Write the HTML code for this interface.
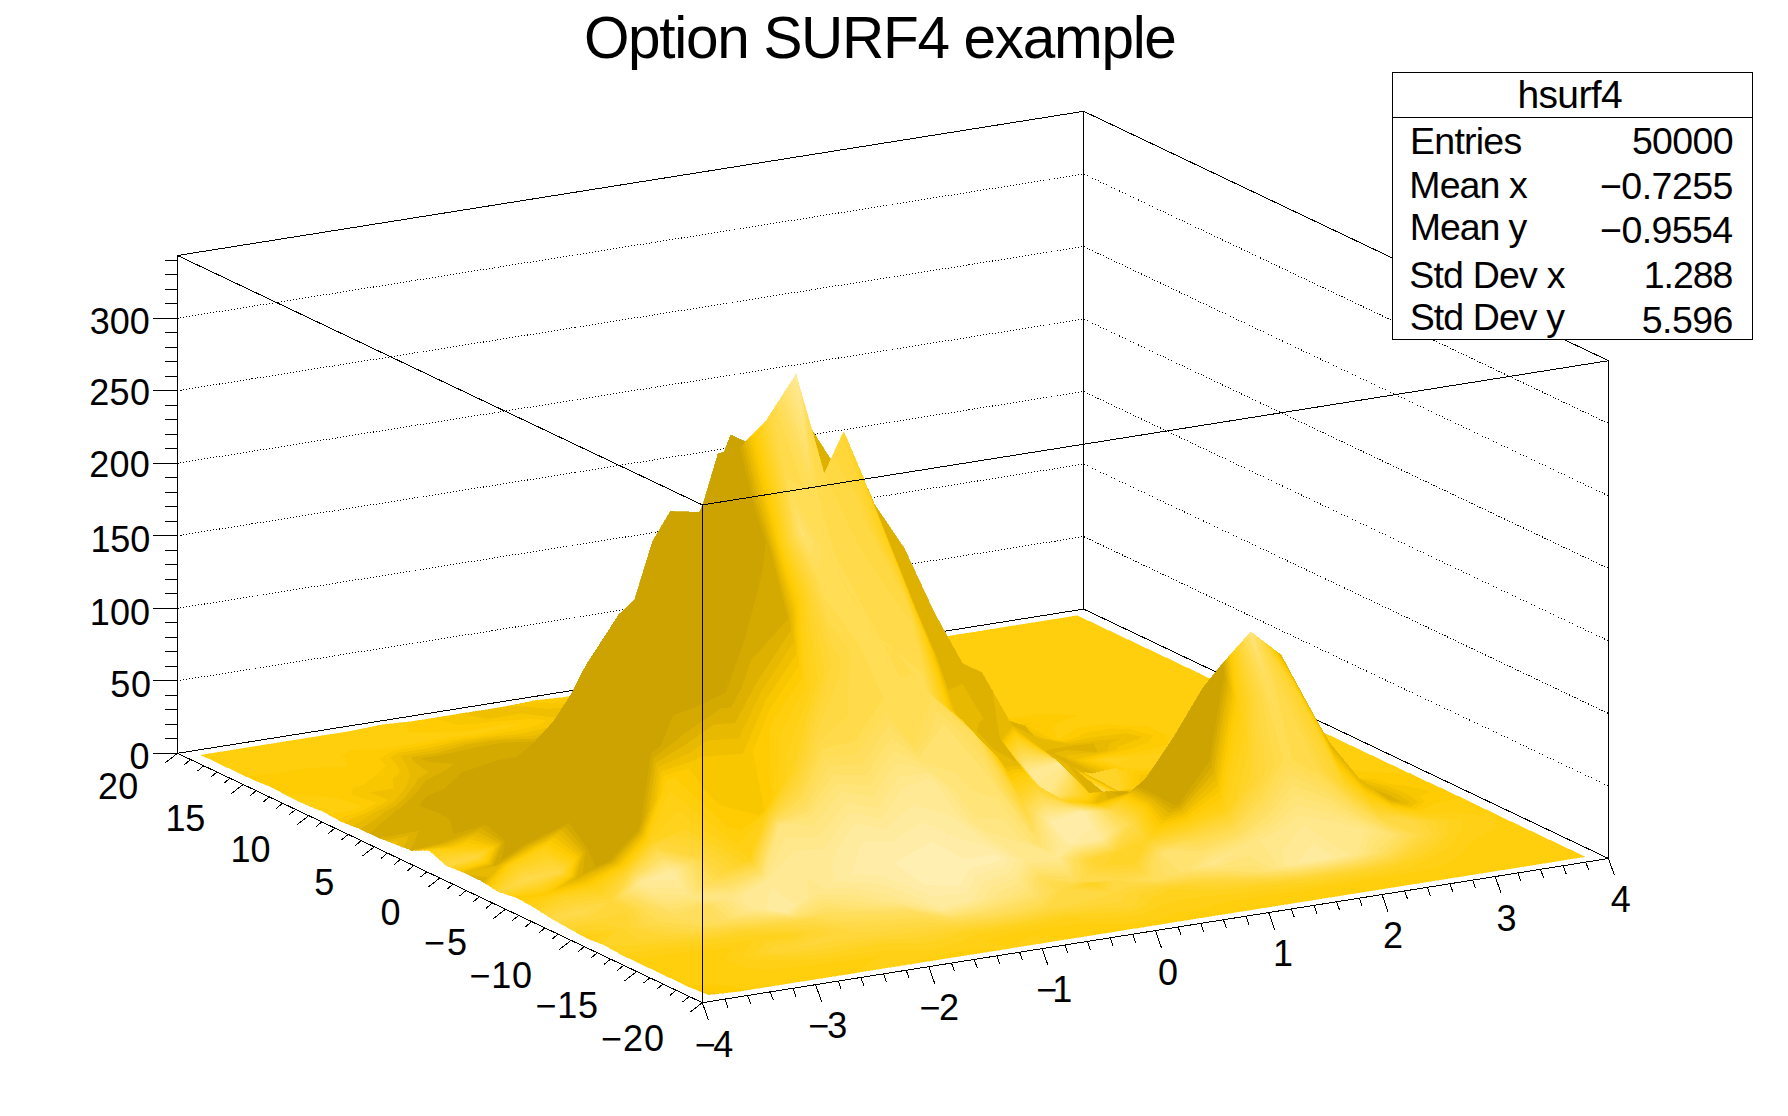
<!DOCTYPE html>
<html><head><meta charset="utf-8"><style>
html,body{margin:0;padding:0;background:#fff;width:1788px;height:1116px;overflow:hidden}
svg{display:block}
text{font-family:"Liberation Sans",sans-serif;fill:#000}
.s path{stroke-width:0.5}
.c0{fill:#cca300;stroke:#cca300}.c1{fill:#cca300;stroke:#cca300}.c2{fill:#d5aa00;stroke:#d5aa00}.c3{fill:#deb100;stroke:#deb100}.c4{fill:#e7b900;stroke:#e7b900}.c5{fill:#f0c000;stroke:#f0c000}.c6{fill:#f9c700;stroke:#f9c700}.c7{fill:#ffcc03;stroke:#ffcc03}.c8{fill:#ffce0c;stroke:#ffce0c}.c9{fill:#ffd015;stroke:#ffd015}.c10{fill:#ffd21e;stroke:#ffd21e}.c11{fill:#ffd428;stroke:#ffd428}.c12{fill:#ffd531;stroke:#ffd531}.c13{fill:#ffd73a;stroke:#ffd73a}.c14{fill:#ffd943;stroke:#ffd943}.c15{fill:#ffdb4c;stroke:#ffdb4c}.c16{fill:#ffdd55;stroke:#ffdd55}.c17{fill:#ffde5e;stroke:#ffde5e}.c18{fill:#ffe067;stroke:#ffe067}.c19{fill:#ffe270;stroke:#ffe270}.c20{fill:#ffe47a;stroke:#ffe47a}.c21{fill:#ffe683;stroke:#ffe683}.c22{fill:#ffe88c;stroke:#ffe88c}.c23{fill:#ffe995;stroke:#ffe995}.c24{fill:#ffeb9e;stroke:#ffeb9e}.c25{fill:#ffeda7;stroke:#ffeda7}.c26{fill:#ffefb0;stroke:#ffefb0}.c27{fill:#fff1b9;stroke:#fff1b9}
</style></head><body>
<svg width="1788" height="1116" viewBox="0 0 1788 1116">
<rect width="1788" height="1116" fill="#fff"/>
<path d="M177.5 753.3L177.5 255.5M1083.7 609.1L1083.7 111.3M1608.5 858.5L1608.5 360.7M177.5 255.5L1083.7 111.3M1083.7 111.3L1608.5 360.7M177.5 753.3L1083.7 609.1M1083.7 609.1L1608.5 858.5" stroke="#000" stroke-width="1" fill="none" shape-rendering="crispEdges"/>
<path d="M177.5 680.8L1083.7 536.6L1608.5 786.0M177.5 608.3L1083.7 464.1L1608.5 713.5M177.5 535.7L1083.7 391.5L1608.5 640.9M177.5 463.2L1083.7 319.0L1608.5 568.4M177.5 390.7L1083.7 246.5L1608.5 495.9M177.5 318.2L1083.7 174.0L1608.5 423.4" stroke="#000" stroke-width="1" stroke-dasharray="1 2" fill="none" shape-rendering="crispEdges"/>
<g class="s" shape-rendering="crispEdges">
<path class="c8" d="M1047.1 620.5L1077.3 615.7L1094.8 624.0L1064.6 628.8ZM1016.9 625.3L1047.1 620.5L1064.6 628.8L1034.4 633.6ZM986.7 630.1L1016.9 625.3L1034.4 633.6L1004.2 638.4ZM956.5 634.9L986.7 630.1L1004.2 638.4L974.0 643.2ZM926.3 639.7L956.5 634.9L974.0 643.2L943.8 648.0ZM896.1 644.5L926.3 639.7L943.8 648.0L913.6 652.8ZM865.9 649.3L896.1 644.5L913.6 652.8L883.4 657.6ZM835.7 654.1L865.9 649.3L883.4 657.6L853.2 662.4ZM805.5 658.9L835.7 654.1L853.2 662.4L823.0 667.2Z"/>
<path class="c7" d="M787.2 669.4L811.0 669.1L792.8 672.0Z"/>
<path class="c8" d="M787.2 669.4L775.3 663.7L805.5 658.9L823.0 667.2L811.0 669.1Z"/>
<path class="c7" d="M787.2 669.4L792.8 672.0L777.6 674.5Z"/>
<path class="c8" d="M745.1 668.5L775.3 663.7L787.2 669.4L777.6 674.5L762.6 676.8ZM714.9 673.3L745.1 668.5L762.6 676.8L732.4 681.7Z"/>
<path class="c7" d="M690.6 681.0L728.3 682.3L702.2 686.5Z"/>
<path class="c8" d="M690.6 681.0L684.7 678.1L714.9 673.3L732.4 681.7L728.3 682.3Z"/>
<path class="c7" d="M660.3 685.7L690.6 681.0L702.2 686.5L671.9 691.3Z"/>
<path class="c8" d="M660.3 685.7L654.5 683.0L684.7 678.1L690.6 681.0Z"/>
<path class="c7" d="M634.9 692.8L660.3 685.7L671.9 691.3L641.7 696.1Z"/>
<path class="c8" d="M634.9 692.8L624.2 687.8L654.5 683.0L660.3 685.7Z"/>
<path class="c7" d="M600.0 695.4L634.9 692.8L641.7 696.1L611.5 700.9Z"/>
<path class="c8" d="M600.0 695.4L594.0 692.6L624.2 687.8L634.9 692.8Z"/>
<path class="c6" d="M574.1 702.2L604.9 701.9L581.3 705.7Z"/>
<path class="c7" d="M574.1 702.2L566.1 698.5L600.0 695.4L611.5 700.9L604.9 701.9Z"/>
<path class="c8" d="M566.1 698.5L563.8 697.4L594.0 692.6L600.0 695.4Z"/>
<path class="c5" d="M550.6 708.8L559.8 708.1L551.1 709.0Z"/>
<path class="c6" d="M550.6 708.8L536.7 702.2L574.1 702.2L581.3 705.7L559.8 708.1Z"/>
<path class="c7" d="M536.7 702.2L533.6 700.7L555.7 698.3L566.1 698.5L574.1 702.2Z"/>
<path class="c8" d="M555.7 698.3L563.8 697.4L566.1 698.5Z"/>
<path class="c5" d="M503.4 707.0L511.5 705.3L550.6 708.8L551.1 709.0L520.9 713.8Z"/>
<path class="c6" d="M511.5 705.3L529.6 701.6L536.7 702.2L550.6 708.8Z"/>
<path class="c7" d="M529.6 701.6L533.6 700.7L536.7 702.2Z"/>
<path class="c5" d="M473.2 711.8L503.4 707.0L520.9 713.8L490.7 718.7ZM460.4 713.8L473.2 711.8L490.7 718.7L488.2 719.2Z"/>
<path class="c6" d="M443.0 716.6L460.4 713.8L488.2 719.2L460.5 724.9ZM432.5 718.3L443.0 716.6L460.5 724.9L457.8 725.2Z"/>
<path class="c7" d="M412.8 721.4L432.5 718.3L457.8 725.2L430.3 728.3ZM406.7 722.1L412.8 721.4L430.3 728.3L408.0 732.9Z"/>
<path class="c8" d="M382.8 724.9L382.9 724.7L406.7 722.1L408.0 732.9L400.1 734.5Z"/>
<path class="c9" d="M382.8 724.9L382.6 724.8L382.9 724.7Z"/>
<path class="c8" d="M352.7 731.2L382.8 724.9L400.1 734.5L369.9 739.3Z"/>
<path class="c9" d="M352.7 731.2L352.4 731.0L382.6 724.8L382.8 724.9Z"/>
<path class="c8" d="M322.2 735.8L351.8 731.1L352.7 731.2L369.9 739.3L339.7 744.1Z"/>
<path class="c9" d="M351.8 731.1L352.4 731.0L352.7 731.2Z"/>
<path class="c8" d="M292.0 740.6L322.2 735.8L339.7 744.1L309.5 748.9ZM261.8 745.4L292.0 740.6L309.5 748.9L279.3 753.8ZM231.6 750.2L261.8 745.4L279.3 753.8L249.0 758.6ZM201.4 755.1L231.6 750.2L249.0 758.6L218.8 763.4ZM1064.6 628.8L1094.8 624.0L1112.3 632.3L1082.1 637.1ZM1034.4 633.6L1064.6 628.8L1082.1 637.1L1051.9 641.9ZM1004.2 638.4L1034.4 633.6L1051.9 641.9L1021.7 646.7ZM974.0 643.2L1004.2 638.4L1021.7 646.7L991.5 651.5ZM943.8 648.0L974.0 643.2L991.5 651.5L961.3 656.3ZM913.6 652.8L943.8 648.0L961.3 656.3L931.1 661.1ZM883.4 657.6L913.6 652.8L931.1 661.1L900.9 665.9ZM853.2 662.4L883.4 657.6L900.9 665.9L870.7 670.7ZM823.0 667.2L853.2 662.4L870.7 670.7L840.5 675.5Z"/>
<path class="c7" d="M798.3 674.2L792.8 672.0L811.0 669.1Z"/>
<path class="c8" d="M798.3 674.2L811.0 669.1L823.0 667.2L840.5 675.5L810.3 678.9Z"/>
<path class="c7" d="M777.6 674.5L792.8 672.0L798.3 674.2Z"/>
<path class="c8" d="M762.6 676.8L777.6 674.5L798.3 674.2L810.3 678.9L780.1 685.2Z"/>
<path class="c7" d="M740.5 685.5L756.8 688.9L749.8 690.0Z"/>
<path class="c8" d="M740.5 685.5L732.4 681.7L762.6 676.8L780.1 685.2L756.8 688.9Z"/>
<path class="c4" d="M716.1 691.9L724.7 692.8L719.6 693.3Z"/>
<path class="c5" d="M716.1 691.9L709.9 689.5L733.5 691.8L724.7 692.8Z"/>
<path class="c6" d="M709.9 689.5L703.7 687.1L742.3 690.8L733.5 691.8Z"/>
<path class="c7" d="M703.7 687.1L702.2 686.5L728.3 682.3L740.5 685.5L749.8 690.0L742.3 690.8Z"/>
<path class="c8" d="M728.3 682.3L732.4 681.7L740.5 685.5Z"/>
<path class="c3" d="M686.4 695.7L708.1 694.6L689.4 696.7Z"/>
<path class="c4" d="M686.4 695.7L681.9 694.3L716.1 691.9L719.6 693.3L708.1 694.6Z"/>
<path class="c5" d="M681.9 694.3L677.4 693.0L709.9 689.5L716.1 691.9Z"/>
<path class="c6" d="M677.4 693.0L672.9 691.6L703.7 687.1L709.9 689.5Z"/>
<path class="c7" d="M672.9 691.6L671.9 691.3L702.2 686.5L703.7 687.1Z"/>
<path class="c3" d="M686.4 695.7L689.4 696.7L670.3 701.6Z"/>
<path class="c4" d="M656.1 702.9L681.9 694.3L686.4 695.7L670.3 701.6L659.2 704.4Z"/>
<path class="c5" d="M656.1 702.9L650.9 700.4L677.4 693.0L681.9 694.3Z"/>
<path class="c6" d="M650.9 700.4L645.7 697.9L672.9 691.6L677.4 693.0Z"/>
<path class="c7" d="M645.7 697.9L641.7 696.1L671.9 691.3L672.9 691.6Z"/>
<path class="c4" d="M627.1 707.0L656.1 702.9L659.2 704.4L629.0 707.7Z"/>
<path class="c5" d="M627.1 707.0L620.2 704.3L650.9 700.4L656.1 702.9Z"/>
<path class="c6" d="M620.2 704.3L613.3 701.6L645.7 697.9L650.9 700.4Z"/>
<path class="c7" d="M613.3 701.6L611.5 700.9L641.7 696.1L645.7 697.9Z"/>
<path class="c4" d="M592.8 709.3L627.1 707.0L629.0 707.7L598.8 711.1Z"/>
<path class="c5" d="M592.8 709.3L582.3 706.0L620.2 704.3L627.1 707.0Z"/>
<path class="c6" d="M582.3 706.0L581.3 705.7L604.9 701.9L613.3 701.6L620.2 704.3Z"/>
<path class="c7" d="M604.9 701.9L611.5 700.9L613.3 701.6Z"/>
<path class="c4" d="M592.8 709.3L598.8 711.1L575.6 714.8Z"/>
<path class="c5" d="M551.1 709.0L559.8 708.1L582.3 706.0L592.8 709.3L575.6 714.8L568.6 715.9Z"/>
<path class="c6" d="M559.8 708.1L581.3 705.7L582.3 706.0Z"/>
<path class="c5" d="M520.9 713.9L520.9 713.8L551.1 709.0L568.6 715.9L558.0 718.1Z"/>
<path class="c6" d="M532.2 719.2L520.9 713.9L558.0 718.1L545.3 720.7Z"/>
<path class="c7" d="M532.2 719.2L545.3 720.7L538.4 722.2Z"/>
<path class="c5" d="M491.3 718.9L490.7 718.7L520.9 713.8L520.9 713.9Z"/>
<path class="c6" d="M498.3 721.6L491.3 718.9L520.9 713.9L532.2 719.2Z"/>
<path class="c7" d="M505.3 724.4L498.3 721.6L532.2 719.2L538.4 722.2L522.4 723.9Z"/>
<path class="c8" d="M505.3 724.4L522.4 723.9L508.2 725.5Z"/>
<path class="c5" d="M488.2 719.2L490.7 718.7L491.3 718.9Z"/>
<path class="c6" d="M461.2 725.2L460.5 724.9L488.2 719.2L491.3 718.9L498.3 721.6Z"/>
<path class="c7" d="M473.3 731.0L461.2 725.2L498.3 721.6L505.3 724.4Z"/>
<path class="c8" d="M473.3 731.0L505.3 724.4L508.2 725.5L478.0 733.2Z"/>
<path class="c6" d="M457.8 725.2L460.5 724.9L461.2 725.2Z"/>
<path class="c7" d="M439.6 732.7L430.3 728.3L457.8 725.2L461.2 725.2L473.3 731.0Z"/>
<path class="c8" d="M439.6 732.7L473.3 731.0L478.0 733.2L447.8 736.6Z"/>
<path class="c7" d="M408.0 732.9L430.3 728.3L439.6 732.7Z"/>
<path class="c8" d="M400.1 734.5L408.0 732.9L439.6 732.7L447.8 736.6L417.6 741.4ZM369.9 739.3L400.1 734.5L417.6 741.4L387.4 747.6Z"/>
<path class="c7" d="M351.6 749.8L377.9 749.2L357.2 752.5Z"/>
<path class="c8" d="M351.6 749.8L339.7 744.1L369.9 739.3L387.4 747.6L377.9 749.2Z"/>
<path class="c7" d="M351.6 749.8L357.2 752.5L342.0 754.9Z"/>
<path class="c8" d="M309.5 748.9L339.7 744.1L351.6 749.8L342.0 754.9L327.0 757.3ZM279.3 753.8L309.5 748.9L327.0 757.3L296.8 762.1ZM249.0 758.6L279.3 753.8L296.8 762.1L266.5 766.9ZM218.8 763.4L249.0 758.6L266.5 766.9L236.3 771.7ZM1082.1 637.1L1112.3 632.3L1129.8 640.6L1099.6 645.4ZM1051.9 641.9L1082.1 637.1L1099.6 645.4L1069.4 650.2ZM1021.7 646.7L1051.9 641.9L1069.4 650.2L1039.2 655.0ZM991.5 651.5L1021.7 646.7L1039.2 655.0L1009.0 659.8ZM961.3 656.3L991.5 651.5L1009.0 659.8L978.8 664.6ZM931.1 661.1L961.3 656.3L978.8 664.6L948.6 669.4ZM900.9 665.9L931.1 661.1L948.6 669.4L918.4 674.2ZM870.7 670.7L900.9 665.9L918.4 674.2L888.2 679.1ZM840.5 675.5L870.7 670.7L888.2 679.1L858.0 683.9ZM810.3 678.9L840.5 675.5L858.0 683.9L827.8 688.7Z"/>
<path class="c6" d="M795.3 692.4L800.9 692.9L797.6 693.5Z"/>
<path class="c7" d="M795.3 692.4L784.8 687.4L816.9 690.4L800.9 692.9Z"/>
<path class="c8" d="M784.8 687.4L780.1 685.2L810.3 678.9L827.8 688.7L816.9 690.4Z"/>
<path class="c6" d="M758.7 694.2L795.3 692.4L797.6 693.5L767.3 698.3Z"/>
<path class="c7" d="M758.7 694.2L749.8 690.0L756.8 688.9L784.8 687.4L795.3 692.4Z"/>
<path class="c8" d="M756.8 688.9L780.1 685.2L784.8 687.4Z"/>
<path class="c4" d="M730.7 697.7L719.6 693.3L724.7 692.8Z"/>
<path class="c5" d="M730.7 697.7L724.7 692.8L733.5 691.8L761.6 698.6L737.1 700.2Z"/>
<path class="c6" d="M733.5 691.8L742.3 690.8L758.7 694.2L767.3 698.3L761.6 698.6Z"/>
<path class="c7" d="M742.3 690.8L749.8 690.0L758.7 694.2Z"/>
<path class="c3" d="M689.4 696.7L708.1 694.6L718.7 701.3L706.9 702.1Z"/>
<path class="c4" d="M708.1 694.6L719.6 693.3L730.7 697.7L732.5 700.5L718.7 701.3Z"/>
<path class="c5" d="M730.7 697.7L737.1 700.2L732.5 700.5Z"/>
<path class="c3" d="M664.3 705.9L670.3 701.6L689.4 696.7L706.9 702.1L676.7 709.8Z"/>
<path class="c4" d="M664.3 705.9L659.2 704.4L670.3 701.6Z"/>
<path class="c3" d="M664.3 705.9L676.7 709.8L660.7 711.6Z"/>
<path class="c4" d="M629.0 707.7L659.2 704.4L664.3 705.9L660.7 711.6L646.5 713.2ZM608.9 716.7L598.8 711.1L629.0 707.7L646.5 713.2L639.3 715.0Z"/>
<path class="c5" d="M608.9 716.7L639.3 715.0L616.3 720.9Z"/>
<path class="c3" d="M579.3 719.2L596.6 721.2L586.1 721.3Z"/>
<path class="c4" d="M579.3 719.2L570.1 716.4L575.6 714.8L598.8 711.1L608.9 716.7L610.5 720.9L596.6 721.2Z"/>
<path class="c5" d="M570.1 716.4L568.6 715.9L575.6 714.8L608.9 716.7L616.3 720.9L610.5 720.9Z"/>
<path class="c3" d="M579.3 719.2L586.1 721.3L571.8 725.7Z"/>
<path class="c4" d="M554.8 730.0L570.1 716.4L579.3 719.2L571.8 725.7L555.9 730.5Z"/>
<path class="c5" d="M554.8 730.0L548.4 726.9L558.0 718.1L568.6 715.9L570.1 716.4Z"/>
<path class="c6" d="M548.4 726.9L541.9 723.8L545.3 720.7L558.0 718.1Z"/>
<path class="c7" d="M541.9 723.8L538.4 722.2L545.3 720.7Z"/>
<path class="c4" d="M554.8 730.0L555.9 730.5L547.5 731.8Z"/>
<path class="c5" d="M522.4 733.4L548.4 726.9L554.8 730.0L547.5 731.8L525.7 735.3Z"/>
<path class="c6" d="M522.4 733.4L516.5 730.1L541.9 723.8L548.4 726.9Z"/>
<path class="c7" d="M516.5 730.1L510.6 726.9L522.4 723.9L538.4 722.2L541.9 723.8Z"/>
<path class="c8" d="M510.6 726.9L508.2 725.5L522.4 723.9Z"/>
<path class="c3" d="M492.7 740.2L506.4 739.3L495.5 741.5Z"/>
<path class="c4" d="M492.7 740.2L489.4 738.6L519.9 736.5L506.4 739.3Z"/>
<path class="c5" d="M489.4 738.6L486.0 737.0L522.4 733.4L525.7 735.3L519.9 736.5Z"/>
<path class="c6" d="M486.0 737.0L482.7 735.4L516.5 730.1L522.4 733.4Z"/>
<path class="c7" d="M482.7 735.4L479.3 733.8L510.6 726.9L516.5 730.1Z"/>
<path class="c8" d="M479.3 733.8L478.0 733.2L508.2 725.5L510.6 726.9Z"/>
<path class="c3" d="M465.2 744.8L492.7 740.2L495.5 741.5L465.3 744.9Z"/>
<path class="c4" d="M465.2 744.8L461.2 743.0L489.4 738.6L492.7 740.2Z"/>
<path class="c5" d="M461.2 743.0L457.2 741.1L486.0 737.0L489.4 738.6Z"/>
<path class="c6" d="M457.2 741.1L453.2 739.2L482.7 735.4L486.0 737.0Z"/>
<path class="c7" d="M453.2 739.2L449.3 737.3L479.3 733.8L482.7 735.4Z"/>
<path class="c8" d="M449.3 737.3L447.8 736.6L478.0 733.2L479.3 733.8Z"/>
<path class="c3" d="M465.2 744.8L465.3 744.9L464.0 745.2Z"/>
<path class="c4" d="M433.3 750.1L461.2 743.0L465.2 744.8L464.0 745.2L435.1 751.2Z"/>
<path class="c5" d="M433.3 750.1L428.8 747.7L457.2 741.1L461.2 743.0Z"/>
<path class="c6" d="M428.8 747.7L424.4 745.2L453.2 739.2L457.2 741.1Z"/>
<path class="c7" d="M424.4 745.2L420.0 742.7L449.3 737.3L453.2 739.2Z"/>
<path class="c8" d="M420.0 742.7L417.6 741.4L447.8 736.6L449.3 737.3Z"/>
<path class="c4" d="M403.0 755.1L433.3 750.1L435.1 751.2L404.9 756.0Z"/>
<path class="c5" d="M403.0 755.1L397.9 752.7L428.8 747.7L433.3 750.1Z"/>
<path class="c6" d="M397.9 752.7L392.9 750.3L424.4 745.2L428.8 747.7Z"/>
<path class="c7" d="M392.9 750.3L387.8 747.8L420.0 742.7L424.4 745.2Z"/>
<path class="c8" d="M387.8 747.8L387.4 747.6L417.6 741.4L420.0 742.7Z"/>
<path class="c4" d="M403.0 755.1L404.9 756.0L400.9 756.4Z"/>
<path class="c5" d="M397.9 752.7L403.0 755.1L400.9 756.4L389.9 757.6Z"/>
<path class="c6" d="M392.9 750.3L397.9 752.7L389.9 757.6L378.9 758.8Z"/>
<path class="c7" d="M357.2 752.5L377.9 749.2L387.8 747.8L392.9 750.3L378.9 758.8L374.7 759.3Z"/>
<path class="c8" d="M377.9 749.2L387.4 747.6L387.8 747.8Z"/>
<path class="c7" d="M342.0 754.9L357.2 752.5L374.7 759.3L348.0 764.8Z"/>
<path class="c8" d="M327.0 757.3L342.0 754.9L348.0 764.8L344.4 765.6Z"/>
<path class="c7" d="M308.7 767.8L335.0 767.1L314.2 770.4Z"/>
<path class="c8" d="M308.7 767.8L296.8 762.1L327.0 757.3L344.4 765.6L335.0 767.1Z"/>
<path class="c7" d="M278.5 772.6L308.7 767.8L314.2 770.4L284.0 775.2Z"/>
<path class="c8" d="M278.5 772.6L266.5 766.9L296.8 762.1L308.7 767.8Z"/>
<path class="c7" d="M246.9 776.7L278.5 772.6L284.0 775.2L253.8 780.0Z"/>
<path class="c8" d="M246.9 776.7L236.3 771.7L266.5 766.9L278.5 772.6ZM1099.6 645.4L1129.8 640.6L1147.3 648.9L1117.1 653.7ZM1069.4 650.2L1099.6 645.4L1117.1 653.7L1086.9 658.5ZM1039.2 655.0L1069.4 650.2L1086.9 658.5L1056.7 663.3ZM1009.0 659.8L1039.2 655.0L1056.7 663.3L1026.5 668.1ZM978.8 664.6L1009.0 659.8L1026.5 668.1L996.3 672.9ZM948.6 669.4L978.8 664.6L996.3 672.9L966.1 677.8ZM918.4 674.2L948.6 669.4L966.1 677.8L935.9 682.6ZM888.2 679.1L918.4 674.2L935.9 682.6L905.7 687.4Z"/>
<path class="c7" d="M865.7 687.5L901.6 688.0L875.5 692.2Z"/>
<path class="c8" d="M865.7 687.5L858.0 683.9L888.2 679.1L905.7 687.4L901.6 688.0Z"/>
<path class="c7" d="M835.2 692.2L865.7 687.5L875.5 692.2L845.2 697.0Z"/>
<path class="c8" d="M835.2 692.2L827.8 688.7L858.0 683.9L865.7 687.5Z"/>
<path class="c6" d="M799.4 693.9L797.6 693.5L800.9 692.9Z"/>
<path class="c7" d="M808.3 695.9L799.4 693.9L800.9 692.9L816.9 690.4L835.2 692.2L845.2 697.0L828.6 697.2Z"/>
<path class="c8" d="M808.3 695.9L816.9 690.4L827.8 688.7L835.2 692.2L828.6 697.2L815.0 697.4Z"/>
<path class="c6" d="M777.4 701.4L767.3 698.3L797.6 693.5L799.4 693.9Z"/>
<path class="c7" d="M777.4 701.4L799.4 693.9L808.3 695.9L794.9 701.6L784.8 703.7Z"/>
<path class="c8" d="M808.3 695.9L815.0 697.4L794.9 701.6Z"/>
<path class="c3" d="M748.0 706.3L760.2 708.8L754.6 709.9Z"/>
<path class="c4" d="M748.0 706.3L739.9 701.7L767.0 707.4L760.2 708.8Z"/>
<path class="c5" d="M739.9 701.7L737.1 700.2L761.6 698.6L773.8 706.0L767.0 707.4Z"/>
<path class="c6" d="M761.6 698.6L767.3 698.3L777.4 701.4L780.6 704.6L773.8 706.0Z"/>
<path class="c7" d="M777.4 701.4L784.8 703.7L780.6 704.6Z"/>
<path class="c3" d="M717.2 706.1L706.9 702.1L718.7 701.3L748.0 706.3L754.6 709.9L737.3 709.4Z"/>
<path class="c4" d="M717.2 706.1L718.7 701.3L732.5 700.5L739.9 701.7L748.0 706.3L737.3 709.4L724.4 709.0Z"/>
<path class="c5" d="M732.5 700.5L737.1 700.2L739.9 701.7Z"/>
<path class="c3" d="M684.6 711.6L676.7 709.8L706.9 702.1L717.2 706.1Z"/>
<path class="c4" d="M692.5 713.4L684.6 711.6L717.2 706.1L724.4 709.0L704.7 712.1Z"/>
<path class="c5" d="M692.5 713.4L704.7 712.1L694.2 713.8Z"/>
<path class="c3" d="M654.7 717.7L660.7 711.6L676.7 709.8L684.6 711.6L677.6 718.8L664.0 722.9Z"/>
<path class="c4" d="M654.7 717.7L646.5 713.2L660.7 711.6L684.6 711.6L692.5 713.4L691.3 714.6L677.6 718.8Z"/>
<path class="c5" d="M692.5 713.4L694.2 713.8L691.3 714.6Z"/>
<path class="c3" d="M626.8 723.2L654.7 717.7L664.0 722.9L633.8 724.8Z"/>
<path class="c4" d="M626.8 723.2L619.4 721.6L639.3 715.0L646.5 713.2L654.7 717.7Z"/>
<path class="c5" d="M619.4 721.6L616.3 720.9L639.3 715.0Z"/>
<path class="c2" d="M594.2 725.9L628.5 725.9L603.6 731.1Z"/>
<path class="c3" d="M594.2 725.9L586.1 721.3L596.6 721.2L626.8 723.2L633.8 724.8L628.5 725.9Z"/>
<path class="c4" d="M596.6 721.2L610.5 720.9L619.4 721.6L626.8 723.2Z"/>
<path class="c5" d="M610.5 720.9L616.3 720.9L619.4 721.6Z"/>
<path class="c2" d="M568.1 729.2L594.2 725.9L603.6 731.1L573.4 728.6Z"/>
<path class="c3" d="M568.1 729.2L561.4 729.9L571.8 725.7L586.1 721.3L594.2 725.9Z"/>
<path class="c4" d="M561.4 729.9L555.9 730.5L571.8 725.7Z"/>
<path class="c2" d="M540.2 741.0L568.1 729.2L573.4 728.6L543.2 742.1Z"/>
<path class="c3" d="M540.2 741.0L534.3 738.6L561.4 729.9L568.1 729.2Z"/>
<path class="c4" d="M534.3 738.6L528.3 736.3L547.5 731.8L555.9 730.5L561.4 729.9Z"/>
<path class="c5" d="M528.3 736.3L525.7 735.3L547.5 731.8Z"/>
<path class="c2" d="M501.9 742.5L540.2 741.0L543.2 742.1L513.0 744.1Z"/>
<path class="c3" d="M501.9 742.5L495.5 741.5L506.4 739.3L534.3 738.6L540.2 741.0Z"/>
<path class="c4" d="M506.4 739.3L519.9 736.5L528.3 736.3L534.3 738.6Z"/>
<path class="c5" d="M519.9 736.5L525.7 735.3L528.3 736.3Z"/>
<path class="c2" d="M477.6 746.7L501.9 742.5L513.0 744.1L482.8 747.4Z"/>
<path class="c3" d="M477.6 746.7L465.3 744.9L495.5 741.5L501.9 742.5Z"/>
<path class="c2" d="M448.9 753.1L477.6 746.7L482.8 747.4L452.6 753.7Z"/>
<path class="c3" d="M448.9 753.1L440.2 751.9L464.0 745.2L465.3 744.9L477.6 746.7Z"/>
<path class="c4" d="M440.2 751.9L435.1 751.2L464.0 745.2Z"/>
<path class="c2" d="M420.7 758.2L448.9 753.1L452.6 753.7L422.4 758.5Z"/>
<path class="c3" d="M420.7 758.2L411.0 756.8L440.2 751.9L448.9 753.1Z"/>
<path class="c4" d="M411.0 756.8L404.9 756.0L435.1 751.2L440.2 751.9Z"/>
<path class="c2" d="M420.7 758.2L422.4 758.5L421.0 758.9Z"/>
<path class="c3" d="M411.0 756.8L420.7 758.2L421.0 758.9L413.4 761.6Z"/>
<path class="c4" d="M400.9 756.4L404.9 756.0L411.0 756.8L413.4 761.6L405.7 764.3Z"/>
<path class="c5" d="M389.9 757.6L400.9 756.4L405.7 764.3L398.1 767.0Z"/>
<path class="c6" d="M385.7 765.5L378.9 758.8L389.9 757.6L398.1 767.0L392.2 769.1Z"/>
<path class="c7" d="M385.7 765.5L374.7 759.3L378.9 758.8Z"/>
<path class="c6" d="M385.7 765.5L392.2 769.1L380.0 771.0Z"/>
<path class="c7" d="M346.4 766.5L348.0 764.8L374.7 759.3L385.7 765.5L380.0 771.0L361.9 773.9Z"/>
<path class="c8" d="M346.4 766.5L344.4 765.6L348.0 764.8Z"/>
<path class="c7" d="M314.2 770.4L335.0 767.1L346.4 766.5L361.9 773.9L331.7 777.2Z"/>
<path class="c8" d="M335.0 767.1L344.4 765.6L346.4 766.5Z"/>
<path class="c7" d="M284.0 775.2L314.2 770.4L331.7 777.2L301.5 783.5ZM253.8 780.0L284.0 775.2L301.5 783.5L271.3 786.9Z"/>
<path class="c8" d="M1117.1 653.7L1147.3 648.9L1164.8 657.2L1134.6 662.0ZM1086.9 658.5L1117.1 653.7L1134.6 662.0L1104.4 666.8ZM1056.7 663.3L1086.9 658.5L1104.4 666.8L1074.2 671.6ZM1026.5 668.1L1056.7 663.3L1074.2 671.6L1044.0 676.5ZM996.3 672.9L1026.5 668.1L1044.0 676.5L1013.8 681.3ZM966.1 677.8L996.3 672.9L1013.8 681.3L983.6 686.1ZM935.9 682.6L966.1 677.8L983.6 686.1L953.4 690.9Z"/>
<path class="c7" d="M912.0 690.4L933.6 694.0L923.2 695.7Z"/>
<path class="c8" d="M912.0 690.4L905.7 687.4L935.9 682.6L953.4 690.9L933.6 694.0Z"/>
<path class="c3" d="M892.9 699.0L893.0 699.0L893.0 699.0Z"/>
<path class="c4" d="M892.9 699.0L887.6 696.9L900.9 698.2L893.0 699.0Z"/>
<path class="c5" d="M887.6 696.9L882.2 694.8L908.9 697.3L900.9 698.2Z"/>
<path class="c6" d="M882.2 694.8L876.8 692.7L916.8 696.4L908.9 697.3Z"/>
<path class="c7" d="M876.8 692.7L875.5 692.2L901.6 688.0L912.0 690.4L923.2 695.7L916.8 696.4Z"/>
<path class="c8" d="M901.6 688.0L905.7 687.4L912.0 690.4Z"/>
<path class="c3" d="M860.4 701.7L892.9 699.0L893.0 699.0L862.7 702.4Z"/>
<path class="c4" d="M860.4 701.7L855.5 700.1L887.6 696.9L892.9 699.0Z"/>
<path class="c5" d="M855.5 700.1L850.6 698.6L882.2 694.8L887.6 696.9Z"/>
<path class="c6" d="M850.6 698.6L845.6 697.1L876.8 692.7L882.2 694.8Z"/>
<path class="c7" d="M845.6 697.1L845.2 697.0L875.5 692.2L876.8 692.7Z"/>
<path class="c3" d="M860.4 701.7L862.7 702.4L857.8 703.6Z"/>
<path class="c4" d="M855.5 700.1L860.4 701.7L857.8 703.6L847.6 706.3Z"/>
<path class="c5" d="M850.6 698.6L855.5 700.1L847.6 706.3L837.4 708.9Z"/>
<path class="c6" d="M828.5 707.2L845.6 697.1L850.6 698.6L837.4 708.9L832.5 710.1Z"/>
<path class="c7" d="M828.5 707.2L820.8 701.6L828.6 697.2L845.2 697.0L845.6 697.1Z"/>
<path class="c8" d="M820.8 701.6L815.0 697.4L828.6 697.2Z"/>
<path class="c6" d="M828.5 707.2L832.5 710.1L802.5 713.4Z"/>
<path class="c7" d="M784.8 703.7L794.9 701.6L820.8 701.6L828.5 707.2L802.5 713.4L802.3 713.5Z"/>
<path class="c8" d="M794.9 701.6L815.0 697.4L820.8 701.6Z"/>
<path class="c2" d="M772.1 706.7L773.6 707.0L762.9 708.4Z"/>
<path class="c3" d="M773.6 707.0L780.8 708.6L760.2 708.8L754.6 709.9L762.9 708.4Z"/>
<path class="c4" d="M760.2 708.8L767.0 707.4L788.0 710.2L780.8 708.6Z"/>
<path class="c5" d="M767.0 707.4L773.8 706.0L795.1 711.8L788.0 710.2Z"/>
<path class="c6" d="M773.8 706.0L780.6 704.6L802.3 713.5L795.1 711.8Z"/>
<path class="c7" d="M780.6 704.6L784.8 703.7L802.3 713.5L802.3 713.5Z"/>
<path class="c2" d="M762.9 708.4L772.1 706.7L768.8 707.8Z"/>
<path class="c3" d="M737.3 709.4L754.6 709.9L762.9 708.4L768.8 707.8L753.1 713.3Z"/>
<path class="c4" d="M724.4 709.0L737.3 709.4L753.1 713.3L741.9 717.3ZM701.2 717.1L704.7 712.1L724.4 709.0L741.9 717.3L711.7 722.1Z"/>
<path class="c5" d="M701.2 717.1L694.2 713.8L704.7 712.1Z"/>
<path class="c2" d="M681.5 719.6L690.5 720.4L664.2 722.9Z"/>
<path class="c3" d="M664.2 722.9L664.0 722.9L677.6 718.8L703.0 721.4L690.5 720.4Z"/>
<path class="c4" d="M677.6 718.8L691.3 714.6L701.2 717.1L711.7 722.1L703.0 721.4Z"/>
<path class="c5" d="M691.3 714.6L694.2 713.8L701.2 717.1Z"/>
<path class="c2" d="M634.9 725.0L664.2 722.9L681.5 719.6L651.3 727.3Z"/>
<path class="c3" d="M634.9 725.0L633.8 724.8L664.0 722.9L664.2 722.9Z"/>
<path class="c0" d="M621.1 717.6L647.6 726.2L616.3 721.3Z"/>
<path class="c2" d="M647.6 726.2L651.3 727.3L634.9 725.0L628.5 725.9L603.6 731.1L616.3 721.3Z"/>
<path class="c3" d="M628.5 725.9L633.8 724.8L634.9 725.0Z"/>
<path class="c0" d="M621.1 717.6L616.3 721.3L611.1 722.6ZM580.0 730.1L583.0 729.4L595.3 730.4L590.9 732.6Z"/>
<path class="c2" d="M616.3 721.3L603.6 731.1L595.3 730.4L611.1 722.6ZM580.0 730.1L573.4 728.6L583.0 729.4Z"/>
<path class="c0" d="M580.0 730.1L590.9 732.6L574.4 736.0Z"/>
<path class="c2" d="M543.2 742.1L573.4 728.6L580.0 730.1L574.4 736.0L560.7 738.9ZM513.0 744.1L543.2 742.1L560.7 738.9L530.5 746.6ZM482.8 747.4L513.0 744.1L530.5 746.6L500.3 749.9ZM452.6 753.7L482.8 747.4L500.3 749.9L470.1 757.6ZM428.4 762.3L422.4 758.5L452.6 753.7L470.1 757.6L453.5 764.2Z"/>
<path class="c3" d="M428.4 762.3L453.5 764.2L439.8 769.7Z"/>
<path class="c2" d="M421.0 758.9L422.4 758.5L428.4 762.3Z"/>
<path class="c3" d="M413.4 761.6L421.0 758.9L428.4 762.3L439.8 769.7L428.0 772.1Z"/>
<path class="c4" d="M405.7 764.3L413.4 761.6L428.0 772.1L410.3 775.8Z"/>
<path class="c5" d="M399.9 772.1L398.1 767.0L405.7 764.3L410.3 775.8L409.6 775.9Z"/>
<path class="c6" d="M399.9 772.1L392.2 769.1L398.1 767.0Z"/>
<path class="c5" d="M399.9 772.1L409.6 775.9L392.7 778.6Z"/>
<path class="c6" d="M372.1 777.9L380.0 771.0L392.2 769.1L399.9 772.1L392.7 778.6L379.4 780.7Z"/>
<path class="c7" d="M372.1 777.9L361.9 773.9L380.0 771.0Z"/>
<path class="c6" d="M372.1 777.9L379.4 780.7L364.6 783.8Z"/>
<path class="c7" d="M331.7 777.2L361.9 773.9L372.1 777.9L364.6 783.8L349.2 787.0ZM301.5 783.5L331.7 777.2L349.2 787.0L319.0 790.4ZM280.9 792.2L271.3 786.9L301.5 783.5L319.0 790.4L296.8 795.0Z"/>
<path class="c8" d="M280.9 792.2L296.8 795.0L288.8 796.6ZM1134.6 662.0L1164.8 657.2L1182.3 665.5L1152.1 670.3ZM1104.4 666.8L1134.6 662.0L1152.1 670.3L1121.9 675.2ZM1074.2 671.6L1104.4 666.8L1121.9 675.2L1091.7 680.0ZM1044.0 676.5L1074.2 671.6L1091.7 680.0L1061.5 684.8ZM1013.8 681.3L1044.0 676.5L1061.5 684.8L1031.3 689.6ZM983.6 686.1L1013.8 681.3L1031.3 689.6L1001.1 694.4ZM953.4 690.9L983.6 686.1L1001.1 694.4L970.9 699.2Z"/>
<path class="c6" d="M935.7 701.7L947.4 702.9L940.7 704.0Z"/>
<path class="c7" d="M935.7 701.7L923.2 695.7L933.6 694.0L969.3 699.4L947.4 702.9Z"/>
<path class="c8" d="M933.6 694.0L953.4 690.9L970.9 699.2L969.3 699.4Z"/>
<path class="c3" d="M893.0 699.0L893.0 699.0L917.3 704.3L910.4 704.4Z"/>
<path class="c4" d="M893.0 699.0L900.9 698.2L926.0 704.2L917.3 704.3Z"/>
<path class="c5" d="M900.9 698.2L908.9 697.3L934.7 704.1L926.0 704.2Z"/>
<path class="c6" d="M908.9 697.3L916.8 696.4L935.7 701.7L940.7 704.0L934.7 704.1Z"/>
<path class="c7" d="M916.8 696.4L923.2 695.7L935.7 701.7Z"/>
<path class="c3" d="M862.7 702.4L893.0 699.0L910.4 704.4L880.2 709.3Z"/>
<path class="c2" d="M848.4 711.1L878.8 709.3L850.0 711.2Z"/>
<path class="c3" d="M848.4 711.1L843.8 710.8L857.8 703.6L862.7 702.4L880.2 709.3L878.8 709.3Z"/>
<path class="c4" d="M843.8 710.8L839.3 710.5L847.6 706.3L857.8 703.6Z"/>
<path class="c5" d="M839.3 710.5L834.7 710.2L837.4 708.9L847.6 706.3Z"/>
<path class="c6" d="M834.7 710.2L832.5 710.1L837.4 708.9Z"/>
<path class="c2" d="M818.7 714.5L848.4 711.1L850.0 711.2L819.8 714.5Z"/>
<path class="c3" d="M818.7 714.5L814.6 714.2L843.8 710.8L848.4 711.1Z"/>
<path class="c4" d="M814.6 714.2L810.5 714.0L839.3 710.5L843.8 710.8Z"/>
<path class="c5" d="M810.5 714.0L806.4 713.7L834.7 710.2L839.3 710.5Z"/>
<path class="c6" d="M806.4 713.7L802.3 713.5L802.5 713.4L832.5 710.1L834.7 710.2Z"/>
<path class="c7" d="M802.3 713.5L802.3 713.5L802.5 713.4Z"/>
<path class="c2" d="M772.1 706.7L773.6 707.0L818.7 714.5L819.8 714.5L789.6 713.5Z"/>
<path class="c3" d="M818.7 714.5L814.6 714.2L780.8 708.6L773.6 707.0Z"/>
<path class="c4" d="M814.6 714.2L810.5 714.0L788.0 710.2L780.8 708.6Z"/>
<path class="c5" d="M810.5 714.0L806.4 713.7L795.1 711.8L788.0 710.2Z"/>
<path class="c6" d="M806.4 713.7L802.3 713.5L802.3 713.5L795.1 711.8Z"/>
<path class="c7" d="M802.3 713.5L802.3 713.5L802.3 713.5Z"/>
<path class="c2" d="M756.7 724.3L768.8 707.8L772.1 706.7L789.6 713.5L759.4 725.6Z"/>
<path class="c3" d="M756.7 724.3L748.1 720.2L753.1 713.3L768.8 707.8Z"/>
<path class="c4" d="M748.1 720.2L741.9 717.3L753.1 713.3Z"/>
<path class="c2" d="M726.1 724.1L756.7 724.3L759.4 725.6L729.2 724.6Z"/>
<path class="c3" d="M726.1 724.1L717.6 722.9L748.1 720.2L756.7 724.3Z"/>
<path class="c4" d="M717.6 722.9L711.7 722.1L741.9 717.3L748.1 720.2Z"/>
<path class="c0" d="M699.0 713.4L716.3 719.8L685.9 718.1Z"/>
<path class="c2" d="M716.3 719.8L729.2 724.6L726.1 724.1L690.5 720.4L681.5 719.6L685.9 718.1Z"/>
<path class="c3" d="M690.5 720.4L703.0 721.4L717.6 722.9L726.1 724.1Z"/>
<path class="c4" d="M703.0 721.4L711.7 722.1L717.6 722.9Z"/>
<path class="c0" d="M666.0 728.2L686.3 719.7L668.8 728.4ZM666.0 728.2L651.8 727.4L685.9 718.1L699.0 713.4L686.3 719.7Z"/>
<path class="c2" d="M685.9 718.1L681.5 719.6L651.3 727.3L651.8 727.4Z"/>
<path class="c0" d="M638.6 720.1L668.8 728.4L666.0 728.2L632.8 719.3ZM666.0 728.2L651.8 727.4L647.6 726.2L621.1 717.6L632.8 719.3Z"/>
<path class="c2" d="M651.8 727.4L651.3 727.3L647.6 726.2Z"/>
<path class="c0" d="M601.3 733.2L632.8 719.3L638.6 720.1L608.4 733.7ZM601.3 733.2L590.9 732.6L621.1 717.6L632.8 719.3ZM601.3 733.2L608.4 733.7L591.4 741.2ZM566.0 741.4L574.4 736.0L590.9 732.6L601.3 733.2L591.4 741.2L578.2 747.2Z"/>
<path class="c2" d="M566.0 741.4L560.7 738.9L574.4 736.0Z"/>
<path class="c0" d="M539.7 744.8L566.0 741.4L578.2 747.2L548.0 743.3Z"/>
<path class="c2" d="M539.7 744.8L530.5 746.6L560.7 738.9L566.0 741.4Z"/>
<path class="c0" d="M539.7 744.8L548.0 743.3L529.3 751.6Z"/>
<path class="c2" d="M500.3 749.9L530.5 746.6L539.7 744.8L529.3 751.6L517.8 756.8ZM470.1 757.6L500.3 749.9L517.8 756.8L487.6 755.8ZM444.7 770.8L453.5 764.2L470.1 757.6L487.6 755.8L457.3 773.6Z"/>
<path class="c3" d="M444.7 770.8L439.8 769.7L453.5 764.2Z"/>
<path class="c2" d="M425.1 780.7L444.7 770.8L457.3 773.6L427.1 781.4Z"/>
<path class="c3" d="M425.1 780.7L417.5 778.4L428.0 772.1L439.8 769.7L444.7 770.8Z"/>
<path class="c4" d="M417.5 778.4L409.9 776.0L410.3 775.8L428.0 772.1Z"/>
<path class="c5" d="M409.9 776.0L409.6 775.9L410.3 775.8Z"/>
<path class="c2" d="M425.1 780.7L427.1 781.4L424.5 782.2Z"/>
<path class="c3" d="M417.5 778.4L425.1 780.7L424.5 782.2L414.6 785.2Z"/>
<path class="c4" d="M409.9 776.0L417.5 778.4L414.6 785.2L404.8 788.1Z"/>
<path class="c5" d="M393.2 788.4L392.7 778.6L409.6 775.9L409.9 776.0L404.8 788.1L396.9 790.5Z"/>
<path class="c6" d="M393.2 788.4L379.4 780.7L392.7 778.6Z"/>
<path class="c5" d="M393.2 788.4L396.9 790.5L369.4 792.3Z"/>
<path class="c6" d="M352.8 788.1L364.6 783.8L379.4 780.7L393.2 788.4L369.4 792.3L366.7 792.4Z"/>
<path class="c7" d="M352.8 788.1L349.2 787.0L364.6 783.8Z"/>
<path class="c6" d="M352.8 788.1L366.7 792.4L351.1 794.9Z"/>
<path class="c7" d="M319.0 790.4L349.2 787.0L352.8 788.1L351.1 794.9L336.5 797.2ZM296.8 795.0L319.0 790.4L336.5 797.2L334.8 797.7Z"/>
<path class="c8" d="M300.5 802.2L288.8 796.6L296.8 795.0L334.8 797.7L314.3 802.9Z"/>
<path class="c9" d="M300.5 802.2L314.3 802.9L306.3 804.9Z"/>
<path class="c8" d="M1152.1 670.3L1182.3 665.5L1199.8 673.9L1169.6 678.7ZM1121.9 675.2L1152.1 670.3L1169.6 678.7L1139.4 683.5ZM1091.7 680.0L1121.9 675.2L1139.4 683.5L1109.2 688.3ZM1061.5 684.8L1091.7 680.0L1109.2 688.3L1079.0 693.1ZM1031.3 689.6L1061.5 684.8L1079.0 693.1L1048.8 697.9ZM1001.1 694.4L1031.3 689.6L1048.8 697.9L1018.6 702.7Z"/>
<path class="c7" d="M978.4 702.8L994.4 706.5L988.4 707.5Z"/>
<path class="c8" d="M978.4 702.8L970.9 699.2L1001.1 694.4L1018.6 702.7L994.4 706.5Z"/>
<path class="c4" d="M954.5 708.3L962.2 709.2L958.1 709.4Z"/>
<path class="c5" d="M954.5 708.3L946.3 705.7L971.2 708.6L962.2 709.2Z"/>
<path class="c6" d="M946.3 705.7L940.7 704.0L947.4 702.9L980.2 708.0L971.2 708.6Z"/>
<path class="c7" d="M947.4 702.9L969.3 699.4L978.4 702.8L988.4 707.5L980.2 708.0Z"/>
<path class="c8" d="M969.3 699.4L970.9 699.2L978.4 702.8Z"/>
<path class="c3" d="M914.6 705.4L910.4 704.4L917.3 704.3Z"/>
<path class="c4" d="M919.7 706.6L914.6 705.4L917.3 704.3L926.0 704.2L954.5 708.3L958.1 709.4L951.5 709.2Z"/>
<path class="c5" d="M924.9 707.7L919.7 706.6L926.0 704.2L934.7 704.1L946.3 705.7L954.5 708.3L951.5 709.2L936.6 708.7Z"/>
<path class="c6" d="M924.9 707.7L934.7 704.1L940.7 704.0L946.3 705.7L936.6 708.7L927.9 708.4Z"/>
<path class="c3" d="M884.9 711.1L880.2 709.3L910.4 704.4L914.6 705.4Z"/>
<path class="c4" d="M889.7 713.0L884.9 711.1L914.6 705.4L919.7 706.6Z"/>
<path class="c5" d="M894.4 714.8L889.7 713.0L919.7 706.6L924.9 707.7Z"/>
<path class="c6" d="M894.4 714.8L924.9 707.7L927.9 708.4L897.7 716.1Z"/>
<path class="c2" d="M866.1 710.8L850.0 711.2L878.8 709.3Z"/>
<path class="c3" d="M866.1 710.8L878.8 709.3L880.2 709.3L884.9 711.1L875.5 712.2L867.5 710.8Z"/>
<path class="c4" d="M884.9 711.1L889.7 713.0L883.8 713.6L875.5 712.2Z"/>
<path class="c5" d="M889.7 713.0L894.4 714.8L892.0 715.1L883.8 713.6Z"/>
<path class="c6" d="M894.4 714.8L897.7 716.1L892.0 715.1Z"/>
<path class="c2" d="M819.8 714.5L850.0 711.2L866.1 710.8L863.0 711.7L837.3 717.0Z"/>
<path class="c3" d="M866.1 710.8L867.5 710.8L863.0 711.7Z"/>
<path class="c2" d="M789.6 713.5L819.8 714.5L837.3 717.0L807.1 723.3Z"/>
<path class="c0" d="M776.9 719.4L789.3 721.0L772.2 721.1Z"/>
<path class="c2" d="M772.2 721.1L759.4 725.6L789.6 713.5L807.1 723.3L789.3 721.0Z"/>
<path class="c0" d="M746.7 714.0L776.9 719.4L772.2 721.1L736.6 720.1Z"/>
<path class="c2" d="M772.2 721.1L759.4 725.6L729.2 724.6L736.6 720.1Z"/>
<path class="c0" d="M716.5 708.7L739.1 712.7L703.5 712.2ZM739.1 712.7L746.7 714.0L736.6 720.1L716.3 719.8L699.0 713.4L703.5 712.2Z"/>
<path class="c2" d="M736.6 720.1L729.2 724.6L716.3 719.8Z"/>
<path class="c0" d="M686.3 699.0L716.5 708.7L703.5 712.2L686.3 719.7L668.8 728.4ZM686.3 719.7L699.0 713.4L703.5 712.2ZM656.1 699.5L686.3 699.0L668.8 728.4L638.6 720.1ZM625.9 710.1L656.1 699.5L638.6 720.1L608.4 733.7ZM595.7 722.1L625.9 710.1L608.4 733.7L591.4 741.2L582.7 740.7ZM591.4 741.2L578.2 747.2L582.7 740.7ZM565.5 738.5L595.7 722.1L582.7 740.7L554.6 741.5ZM582.7 740.7L578.2 747.2L548.0 743.3L554.6 741.5ZM533.7 751.1L554.6 741.5L565.5 738.5L535.2 750.6ZM533.7 751.1L520.9 755.7L529.3 751.6L548.0 743.3L554.6 741.5Z"/>
<path class="c2" d="M520.9 755.7L517.8 756.8L529.3 751.6Z"/>
<path class="c0" d="M533.7 751.1L535.2 750.6L530.2 753.1ZM495.7 760.3L520.9 755.7L533.7 751.1L530.2 753.1L505.0 765.6Z"/>
<path class="c2" d="M495.7 760.3L487.6 755.8L517.8 756.8L520.9 755.7Z"/>
<path class="c0" d="M461.2 772.6L495.7 760.3L505.0 765.6L474.8 768.9Z"/>
<path class="c2" d="M461.2 772.6L457.3 773.6L487.6 755.8L495.7 760.3Z"/>
<path class="c0" d="M461.2 772.6L474.8 768.9L445.7 787.5Z"/>
<path class="c2" d="M427.1 781.4L457.3 773.6L461.2 772.6L445.7 787.5L444.6 788.2ZM413.3 795.6L424.5 782.2L427.1 781.4L444.6 788.2L414.4 795.9Z"/>
<path class="c3" d="M413.3 795.6L407.4 793.8L414.6 785.2L424.5 782.2Z"/>
<path class="c4" d="M407.4 793.8L401.6 792.0L404.8 788.1L414.6 785.2Z"/>
<path class="c5" d="M401.6 792.0L396.9 790.5L404.8 788.1Z"/>
<path class="c2" d="M413.3 795.6L414.4 795.9L412.8 796.2Z"/>
<path class="c3" d="M407.4 793.8L413.3 795.6L412.8 796.2L404.5 797.5Z"/>
<path class="c4" d="M401.6 792.0L407.4 793.8L404.5 797.5L396.1 798.8Z"/>
<path class="c5" d="M369.4 792.3L396.9 790.5L401.6 792.0L396.1 798.8L387.8 800.2Z"/>
<path class="c6" d="M366.7 792.4L369.4 792.3L387.8 800.2L384.2 800.7ZM351.1 794.9L366.7 792.4L384.2 800.7L376.2 802.8Z"/>
<path class="c7" d="M338.7 798.6L336.5 797.2L351.1 794.9L376.2 802.8L362.2 806.4Z"/>
<path class="c8" d="M338.7 798.6L362.2 806.4L354.0 808.4Z"/>
<path class="c7" d="M334.8 797.7L336.5 797.2L338.7 798.6Z"/>
<path class="c8" d="M314.4 808.1L314.3 802.9L334.8 797.7L338.7 798.6L354.0 808.4L323.8 811.8Z"/>
<path class="c9" d="M314.4 808.1L306.3 804.9L314.3 802.9Z"/>
<path class="c8" d="M1169.6 678.7L1199.8 673.9L1217.3 682.2L1187.1 687.0ZM1139.4 683.5L1169.6 678.7L1187.1 687.0L1156.9 691.8ZM1109.2 688.3L1139.4 683.5L1156.9 691.8L1126.7 696.6ZM1079.0 693.1L1109.2 688.3L1126.7 696.6L1096.5 701.4ZM1048.8 697.9L1079.0 693.1L1096.5 701.4L1066.3 706.2ZM1018.6 702.7L1048.8 697.9L1066.3 706.2L1036.1 711.0Z"/>
<path class="c7" d="M991.7 709.1L988.4 707.5L994.4 706.5Z"/>
<path class="c8" d="M991.7 709.1L994.4 706.5L1018.6 702.7L1036.1 711.0L1005.8 715.8Z"/>
<path class="c4" d="M960.3 710.4L958.1 709.4L962.2 709.2Z"/>
<path class="c5" d="M965.1 712.7L960.3 710.4L962.2 709.2L971.2 708.6Z"/>
<path class="c6" d="M970.0 715.0L965.1 712.7L971.2 708.6L980.2 708.0Z"/>
<path class="c7" d="M974.8 717.3L970.0 715.0L980.2 708.0L988.4 707.5L991.7 709.1Z"/>
<path class="c8" d="M974.8 717.3L991.7 709.1L1005.8 715.8L975.6 717.7Z"/>
<path class="c4" d="M951.5 709.2L958.1 709.4L960.3 710.4Z"/>
<path class="c5" d="M936.6 708.7L951.5 709.2L960.3 710.4L965.1 712.7Z"/>
<path class="c6" d="M931.5 710.7L927.9 708.4L936.6 708.7L965.1 712.7L970.0 715.0Z"/>
<path class="c7" d="M940.1 716.2L931.5 710.7L970.0 715.0L974.8 717.3Z"/>
<path class="c8" d="M940.1 716.2L974.8 717.3L975.6 717.7L945.4 719.6Z"/>
<path class="c5" d="M911.5 722.6L917.3 724.1L915.2 724.4Z"/>
<path class="c6" d="M911.5 722.6L897.7 716.1L927.9 708.4L931.5 710.7L928.0 722.4L917.3 724.1Z"/>
<path class="c7" d="M931.5 710.7L940.1 716.2L938.7 720.7L928.0 722.4Z"/>
<path class="c8" d="M940.1 716.2L945.4 719.6L938.7 720.7Z"/>
<path class="c3" d="M867.5 710.8L875.5 712.2L894.6 725.7L885.0 726.3Z"/>
<path class="c4" d="M875.5 712.2L883.8 713.6L906.0 725.0L894.6 725.7Z"/>
<path class="c5" d="M883.8 713.6L892.0 715.1L911.5 722.6L915.2 724.4L906.0 725.0Z"/>
<path class="c6" d="M892.0 715.1L897.7 716.1L911.5 722.6Z"/>
<path class="c2" d="M837.3 717.0L863.0 711.7L877.5 724.3L854.8 718.1Z"/>
<path class="c3" d="M863.0 711.7L867.5 710.8L885.0 726.3L877.5 724.3Z"/>
<path class="c0" d="M824.6 698.2L825.3 698.7L824.1 698.9ZM825.3 698.7L845.0 711.6L811.6 716.8L824.1 698.9Z"/>
<path class="c2" d="M845.0 711.6L854.8 718.1L837.3 717.0L807.1 723.3L811.6 716.8Z"/>
<path class="c0" d="M794.4 703.0L824.6 698.2L824.1 698.9L785.6 711.2ZM824.1 698.9L811.6 716.8L789.3 721.0L776.9 719.4L785.6 711.2Z"/>
<path class="c2" d="M811.6 716.8L807.1 723.3L789.3 721.0Z"/>
<path class="c0" d="M764.2 697.7L794.4 703.0L785.6 711.2L749.6 711.3ZM785.6 711.2L776.9 719.4L746.7 714.0L749.6 711.3ZM734.0 682.2L764.2 697.7L749.6 711.3L739.1 712.7L716.5 708.7ZM749.6 711.3L746.7 714.0L739.1 712.7ZM703.8 669.6L734.0 682.2L716.5 708.7L686.3 699.0ZM673.6 680.2L703.8 669.6L686.3 699.0L656.1 699.5ZM643.4 676.3L673.6 680.2L656.1 699.5L625.9 710.1ZM613.2 701.4L643.4 676.3L625.9 710.1L595.7 722.1ZM583.0 719.3L613.2 701.4L595.7 722.1L565.5 738.5ZM552.7 722.6L583.0 719.3L565.5 738.5L535.2 750.6ZM522.5 755.0L552.7 722.6L535.2 750.6L530.2 753.1L511.7 761.5ZM530.2 753.1L505.0 765.6L511.7 761.5ZM484.4 772.7L511.7 761.5L522.5 755.0L492.3 775.8ZM484.4 772.7L474.8 768.9L505.0 765.6L511.7 761.5ZM484.4 772.7L492.3 775.8L471.1 784.2ZM445.0 788.2L445.7 787.5L474.8 768.9L484.4 772.7L471.1 784.2L462.1 787.8Z"/>
<path class="c2" d="M445.0 788.2L444.6 788.2L445.7 787.5Z"/>
<path class="c0" d="M428.0 795.6L445.0 788.2L462.1 787.8L431.9 795.5Z"/>
<path class="c2" d="M428.0 795.6L414.4 795.9L444.6 788.2L445.0 788.2Z"/>
<path class="c0" d="M428.0 795.6L431.9 795.5L423.2 799.4Z"/>
<path class="c2" d="M399.7 808.1L412.8 796.2L414.4 795.9L428.0 795.6L423.2 799.4L401.7 809.0Z"/>
<path class="c3" d="M399.7 808.1L395.2 806.0L404.5 797.5L412.8 796.2Z"/>
<path class="c4" d="M395.2 806.0L390.7 803.8L396.1 798.8L404.5 797.5Z"/>
<path class="c5" d="M390.7 803.8L386.1 801.6L387.8 800.2L396.1 798.8Z"/>
<path class="c6" d="M386.1 801.6L384.2 800.7L387.8 800.2Z"/>
<path class="c2" d="M399.7 808.1L401.7 809.0L396.4 809.9Z"/>
<path class="c3" d="M395.2 806.0L399.7 808.1L396.4 809.9L384.0 811.9Z"/>
<path class="c4" d="M390.7 803.8L395.2 806.0L384.0 811.9L371.7 813.8Z"/>
<path class="c5" d="M366.7 812.4L386.1 801.6L390.7 803.8L371.7 813.8L371.5 813.9Z"/>
<path class="c6" d="M366.7 812.4L361.8 810.8L376.2 802.8L384.2 800.7L386.1 801.6Z"/>
<path class="c7" d="M361.8 810.8L356.9 809.3L362.2 806.4L376.2 802.8Z"/>
<path class="c8" d="M356.9 809.3L354.0 808.4L362.2 806.4Z"/>
<path class="c5" d="M366.7 812.4L371.5 813.9L350.8 819.1Z"/>
<path class="c6" d="M336.7 819.0L361.8 810.8L366.7 812.4L350.8 819.1L341.3 821.6Z"/>
<path class="c7" d="M336.7 819.0L328.4 814.4L356.9 809.3L361.8 810.8Z"/>
<path class="c8" d="M328.4 814.4L323.8 811.8L354.0 808.4L356.9 809.3ZM1187.1 687.0L1217.3 682.2L1234.8 690.5L1204.6 695.3ZM1156.9 691.8L1187.1 687.0L1204.6 695.3L1174.4 700.1ZM1126.7 696.6L1156.9 691.8L1174.4 700.1L1144.2 704.9ZM1096.5 701.4L1126.7 696.6L1144.2 704.9L1114.0 709.7ZM1066.3 706.2L1096.5 701.4L1114.0 709.7L1083.8 714.5Z"/>
<path class="c7" d="M1042.2 713.9L1081.4 714.9L1053.5 719.3Z"/>
<path class="c8" d="M1042.2 713.9L1036.1 711.0L1066.3 706.2L1083.8 714.5L1081.4 714.9Z"/>
<path class="c6" d="M1021.5 723.3L1034.1 722.4L1023.3 724.1Z"/>
<path class="c7" d="M1021.5 723.3L1010.4 718.0L1042.2 713.9L1053.5 719.3L1034.1 722.4Z"/>
<path class="c8" d="M1010.4 718.0L1005.8 715.8L1036.1 711.0L1042.2 713.9Z"/>
<path class="c4" d="M989.8 725.6L1001.8 726.5L993.1 727.5Z"/>
<path class="c5" d="M989.8 725.6L985.3 723.1L1013.5 725.2L1001.8 726.5Z"/>
<path class="c6" d="M985.3 723.1L980.9 720.6L1021.5 723.3L1023.3 724.1L1013.5 725.2Z"/>
<path class="c7" d="M980.9 720.6L976.4 718.1L1010.4 718.0L1021.5 723.3Z"/>
<path class="c8" d="M976.4 718.1L975.6 717.7L1005.8 715.8L1010.4 718.0Z"/>
<path class="c3" d="M960.6 726.8L985.1 727.6L962.9 727.9Z"/>
<path class="c4" d="M960.6 726.8L957.3 725.3L989.8 725.6L993.1 727.5L985.1 727.6Z"/>
<path class="c5" d="M957.3 725.3L954.0 723.7L985.3 723.1L989.8 725.6Z"/>
<path class="c6" d="M954.0 723.7L950.8 722.2L980.9 720.6L985.3 723.1Z"/>
<path class="c7" d="M950.8 722.2L947.5 720.6L976.4 718.1L980.9 720.6Z"/>
<path class="c8" d="M947.5 720.6L945.4 719.6L975.6 717.7L976.4 718.1Z"/>
<path class="c2" d="M932.7 725.5L937.4 725.9L932.4 725.5Z"/>
<path class="c3" d="M932.4 725.5L926.3 725.1L960.6 726.8L962.9 727.9L937.4 725.9Z"/>
<path class="c4" d="M926.3 725.1L920.2 724.7L957.3 725.3L960.6 726.8Z"/>
<path class="c5" d="M920.2 724.7L915.2 724.4L917.3 724.1L954.0 723.7L957.3 725.3Z"/>
<path class="c6" d="M917.3 724.1L928.0 722.4L950.8 722.2L954.0 723.7Z"/>
<path class="c7" d="M928.0 722.4L938.7 720.7L947.5 720.6L950.8 722.2Z"/>
<path class="c8" d="M938.7 720.7L945.4 719.6L947.5 720.6Z"/>
<path class="c2" d="M902.5 712.9L932.7 725.5L932.4 725.5L888.3 723.8Z"/>
<path class="c3" d="M932.4 725.5L926.3 725.1L894.6 725.7L885.0 726.3L888.3 723.8Z"/>
<path class="c4" d="M894.6 725.7L906.0 725.0L920.2 724.7L926.3 725.1Z"/>
<path class="c5" d="M906.0 725.0L915.2 724.4L920.2 724.7Z"/>
<path class="c0" d="M872.3 711.9L880.3 712.2L869.3 713.0Z"/>
<path class="c2" d="M880.3 712.2L902.5 712.9L888.3 723.8L877.5 724.3L854.8 718.1L869.3 713.0Z"/>
<path class="c3" d="M888.3 723.8L885.0 726.3L877.5 724.3Z"/>
<path class="c0" d="M825.3 698.7L824.6 698.2L825.4 698.4ZM842.1 702.2L872.3 711.9L869.3 713.0L845.0 711.6L825.3 698.7L825.4 698.4Z"/>
<path class="c2" d="M869.3 713.0L854.8 718.1L845.0 711.6Z"/>
<path class="c0" d="M811.9 669.3L826.3 685.0L825.4 698.4L824.6 698.2L794.4 703.0ZM826.3 685.0L842.1 702.2L825.4 698.4ZM781.7 681.4L811.9 669.3L794.4 703.0L764.2 697.7ZM751.5 651.3L781.7 681.4L764.2 697.7L734.0 682.2ZM721.3 619.9L751.5 651.3L734.0 682.2L703.8 669.6ZM691.1 646.5L721.3 619.9L703.8 669.6L673.6 680.2ZM660.9 652.7L691.1 646.5L673.6 680.2L643.4 676.3ZM630.7 654.6L660.9 652.7L643.4 676.3L613.2 701.4ZM600.4 694.2L630.7 654.6L613.2 701.4L583.0 719.3ZM570.2 696.1L600.4 694.2L583.0 719.3L552.7 722.6ZM522.5 755.0L552.7 722.6L570.2 696.1L540.0 748.8ZM522.5 755.0L540.0 748.8L515.7 759.7ZM492.3 775.8L509.8 762.3L515.7 759.7ZM479.6 777.3L509.8 762.3L492.3 775.8L471.1 784.2L465.3 785.9ZM471.1 784.2L462.1 787.8L465.3 785.9ZM465.3 785.9L479.6 777.3L458.6 792.7ZM431.9 795.5L462.1 787.8L465.3 785.9L458.6 792.7L449.4 799.5ZM419.1 805.8L423.2 799.4L431.9 795.5L449.4 799.5L419.2 805.8Z"/>
<path class="c2" d="M419.1 805.8L401.7 809.0L423.2 799.4Z"/>
<path class="c0" d="M419.1 805.8L419.2 805.8L418.9 805.9Z"/>
<path class="c2" d="M385.8 819.4L396.4 809.9L401.7 809.0L419.1 805.8L418.9 805.9L389.0 820.7Z"/>
<path class="c3" d="M385.8 819.4L378.7 816.7L384.0 811.9L396.4 809.9Z"/>
<path class="c4" d="M378.7 816.7L371.6 813.9L371.7 813.8L384.0 811.9Z"/>
<path class="c5" d="M371.6 813.9L371.5 813.9L371.7 813.8Z"/>
<path class="c2" d="M385.8 819.4L389.0 820.7L380.6 822.8Z"/>
<path class="c3" d="M378.7 816.7L385.8 819.4L380.6 822.8L362.3 827.5Z"/>
<path class="c4" d="M352.5 826.0L371.6 813.9L378.7 816.7L362.3 827.5L358.8 828.4Z"/>
<path class="c5" d="M352.5 826.0L344.8 822.9L350.8 819.1L371.5 813.9L371.6 813.9Z"/>
<path class="c6" d="M344.8 822.9L341.3 821.6L350.8 819.1Z"/>
<path class="c8" d="M1204.6 695.3L1234.8 690.5L1252.3 698.8L1222.1 703.6ZM1174.4 700.1L1204.6 695.3L1222.1 703.6L1191.9 708.4ZM1144.2 704.9L1174.4 700.1L1191.9 708.4L1161.7 713.2ZM1114.0 709.7L1144.2 704.9L1161.7 713.2L1131.4 718.0ZM1083.8 714.5L1114.0 709.7L1131.4 718.0L1101.2 722.8Z"/>
<path class="c7" d="M1061.4 721.1L1053.5 719.3L1081.4 714.9Z"/>
<path class="c8" d="M1061.4 721.1L1081.4 714.9L1083.8 714.5L1101.2 722.8L1071.0 723.3Z"/>
<path class="c6" d="M1028.0 725.9L1023.3 724.1L1034.1 722.4Z"/>
<path class="c7" d="M1028.0 725.9L1034.1 722.4L1053.5 719.3L1061.4 721.1L1052.6 728.0L1040.8 731.0Z"/>
<path class="c8" d="M1061.4 721.1L1071.0 723.3L1052.6 728.0Z"/>
<path class="c3" d="M998.3 729.1L1015.2 732.6L1010.6 732.9Z"/>
<path class="c4" d="M998.3 729.1L993.1 727.5L1001.8 726.5L1022.6 732.1L1015.2 732.6Z"/>
<path class="c5" d="M1001.8 726.5L1013.5 725.2L1030.1 731.7L1022.6 732.1Z"/>
<path class="c6" d="M1013.5 725.2L1023.3 724.1L1028.0 725.9L1037.5 731.2L1030.1 731.7Z"/>
<path class="c7" d="M1028.0 725.9L1040.8 731.0L1037.5 731.2Z"/>
<path class="c2" d="M980.4 726.1L987.0 727.6L984.3 727.6L974.3 726.7Z"/>
<path class="c3" d="M984.3 727.6L962.9 727.9L974.3 726.7ZM989.1 728.1L998.3 729.1L1010.6 732.9Z"/>
<path class="c4" d="M998.3 729.1L989.1 728.1L987.0 727.6L993.1 727.5Z"/>
<path class="c2" d="M932.7 725.5L937.4 725.9L974.3 726.7L980.4 726.1L950.2 729.5Z"/>
<path class="c3" d="M974.3 726.7L962.9 727.9L937.4 725.9Z"/>
<path class="c2" d="M902.5 712.9L932.7 725.5L950.2 729.5L920.0 724.1Z"/>
<path class="c0" d="M889.8 698.5L897.9 705.4L880.3 712.2L872.3 711.9Z"/>
<path class="c2" d="M897.9 705.4L920.0 724.1L902.5 712.9L880.3 712.2Z"/>
<path class="c0" d="M859.6 696.0L889.8 698.5L872.3 711.9L842.1 702.2ZM829.4 658.8L845.4 678.5L826.3 685.0L811.9 669.3ZM845.4 678.5L859.6 696.0L842.1 702.2L826.3 685.0ZM799.2 628.7L829.4 658.8L811.9 669.3L781.7 681.4ZM769.0 635.0L799.2 628.7L781.7 681.4L751.5 651.3ZM738.8 577.4L769.0 635.0L751.5 651.3L721.3 619.9ZM708.6 547.4L738.8 577.4L721.3 619.9L691.1 646.5ZM678.4 607.4L708.6 547.4L691.1 646.5L660.9 652.7ZM648.1 636.8L678.4 607.4L660.9 652.7L630.7 654.6ZM617.9 615.5L648.1 636.8L630.7 654.6L600.4 694.2ZM587.7 662.4L617.9 615.5L600.4 694.2L570.2 696.1ZM540.0 748.8L570.2 696.1L587.7 662.4L557.5 720.9ZM527.3 748.9L557.5 720.9L540.0 748.8L509.8 762.3ZM479.6 777.3L509.8 762.3L527.3 748.9L497.1 776.9ZM462.1 798.2L458.6 792.7L479.6 777.3L497.1 776.9L466.9 797.7ZM462.1 798.2L449.4 799.5L458.6 792.7ZM462.1 798.2L466.9 797.7L464.0 799.5ZM419.7 806.1L419.2 805.8L449.4 799.5L462.1 798.2L464.0 799.5L440.7 814.4Z"/>
<path class="c2" d="M419.7 806.1L440.7 814.4L436.7 817.0Z"/>
<path class="c0" d="M418.9 805.9L419.2 805.8L419.7 806.1Z"/>
<path class="c2" d="M389.0 820.7L418.9 805.9L419.7 806.1L436.7 817.0L406.5 824.7ZM369.8 833.6L380.6 822.8L389.0 820.7L406.5 824.7L376.3 836.7Z"/>
<path class="c3" d="M369.8 833.6L360.6 829.3L362.3 827.5L380.6 822.8Z"/>
<path class="c4" d="M360.6 829.3L358.8 828.4L362.3 827.5Z"/>
<path class="c8" d="M1222.1 703.6L1252.3 698.8L1269.8 707.1L1239.6 711.9ZM1191.9 708.4L1222.1 703.6L1239.6 711.9L1209.4 716.7ZM1161.7 713.2L1191.9 708.4L1209.4 716.7L1179.2 721.5ZM1131.4 718.0L1161.7 713.2L1179.2 721.5L1148.9 726.3Z"/>
<path class="c6" d="M1112.4 728.1L1131.0 729.2L1118.7 731.1Z"/>
<path class="c7" d="M1112.4 728.1L1103.7 724.0L1147.7 726.5L1131.0 729.2Z"/>
<path class="c8" d="M1103.7 724.0L1101.2 722.8L1131.4 718.0L1148.9 726.3L1147.7 726.5Z"/>
<path class="c6" d="M1084.0 732.7L1112.4 728.1L1118.7 731.1L1088.5 735.9Z"/>
<path class="c7" d="M1084.0 732.7L1077.1 727.6L1103.7 724.0L1112.4 728.1Z"/>
<path class="c8" d="M1077.1 727.6L1071.0 723.3L1101.2 722.8L1103.7 724.0Z"/>
<path class="c6" d="M1084.0 732.7L1088.5 735.9L1076.7 737.3Z"/>
<path class="c7" d="M1058.3 739.3L1040.8 731.0L1052.6 728.0L1077.1 727.6L1084.0 732.7L1076.7 737.3L1058.4 739.3Z"/>
<path class="c8" d="M1058.3 739.3L1052.6 728.0L1071.0 723.3L1077.1 727.6L1058.4 739.3L1058.3 739.3Z"/>
<path class="c3" d="M1010.6 732.9L1015.2 732.6L1029.6 737.0L1028.1 736.9Z"/>
<path class="c4" d="M1015.2 732.6L1022.6 732.1L1036.8 737.6L1029.6 737.0Z"/>
<path class="c5" d="M1022.6 732.1L1030.1 731.7L1043.9 738.1L1036.8 737.6Z"/>
<path class="c6" d="M1030.1 731.7L1037.5 731.2L1051.1 738.7L1043.9 738.1Z"/>
<path class="c7" d="M1037.5 731.2L1040.8 731.0L1058.3 739.3L1058.3 739.3L1051.1 738.7Z"/>
<path class="c8" d="M1058.3 739.3L1058.3 739.3L1058.3 739.3Z"/>
<path class="c2" d="M985.6 727.7L980.4 726.1L989.0 728.0Z"/>
<path class="c3" d="M985.6 727.7L989.0 728.0L1010.6 732.9L1028.1 736.9L997.9 731.5Z"/>
<path class="c2" d="M967.7 721.8L985.5 727.5L985.6 727.7L980.4 726.1L950.2 729.5Z"/>
<path class="c3" d="M985.5 727.5L997.9 731.5L985.6 727.7Z"/>
<path class="c2" d="M967.7 721.8L950.2 729.5L942.9 728.2ZM920.0 724.1L942.9 728.2L937.5 729.5Z"/>
<path class="c0" d="M907.3 689.4L919.8 706.0L897.9 705.4L889.8 698.5Z"/>
<path class="c2" d="M919.8 706.0L937.5 729.5L920.0 724.1L897.9 705.4Z"/>
<path class="c0" d="M877.1 655.0L907.3 689.4L889.8 698.5L859.6 696.0ZM845.4 678.5L829.4 658.8L839.0 651.3ZM846.9 645.3L877.1 655.0L859.6 696.0L845.4 678.5L839.0 651.3ZM816.7 612.4L841.4 639.4L839.0 651.3L829.4 658.8L799.2 628.7ZM841.4 639.4L846.9 645.3L839.0 651.3ZM786.5 578.0L816.7 612.4L799.2 628.7L769.0 635.0ZM756.3 536.4L786.5 578.0L769.0 635.0L738.8 577.4ZM726.1 516.6L756.3 536.4L738.8 577.4L708.6 547.4ZM695.8 525.7L726.1 516.6L708.6 547.4L678.4 607.4ZM665.6 572.6L695.8 525.7L678.4 607.4L648.1 636.8ZM635.4 599.2L665.6 572.6L648.1 636.8L617.9 615.5ZM587.7 662.4L617.9 615.5L635.4 599.2L605.2 640.2ZM557.5 720.9L587.7 662.4L605.2 640.2L575.0 707.4ZM527.3 748.9L557.5 720.9L575.0 707.4L544.8 742.7ZM497.1 776.9L527.3 748.9L544.8 742.7L514.6 776.5ZM466.9 797.7L497.1 776.9L514.6 776.5L484.4 791.5ZM464.0 799.5L466.9 797.7L484.4 791.5L476.1 799.6ZM449.6 819.9L440.7 814.4L464.0 799.5L476.1 799.6L454.2 820.9Z"/>
<path class="c2" d="M449.6 819.9L436.7 817.0L440.7 814.4Z"/>
<path class="c0" d="M449.6 819.9L454.2 820.9L450.6 821.8Z"/>
<path class="c2" d="M406.5 824.7L436.7 817.0L449.6 819.9L450.6 821.8L424.0 828.6ZM380.2 838.3L376.3 836.7L406.5 824.7L424.0 828.6L418.4 831.4Z"/>
<path class="c3" d="M385.7 840.4L380.2 838.3L418.4 831.4L408.4 836.4Z"/>
<path class="c4" d="M391.3 842.6L385.7 840.4L408.4 836.4L398.4 841.3Z"/>
<path class="c5" d="M391.3 842.6L398.4 841.3L393.8 843.6Z"/>
<path class="c8" d="M1239.6 711.9L1269.8 707.1L1287.3 715.4L1257.1 720.2ZM1209.4 716.7L1239.6 711.9L1257.1 720.2L1226.9 725.0ZM1179.2 721.5L1209.4 716.7L1226.9 725.0L1196.6 729.8ZM1148.9 726.3L1179.2 721.5L1196.6 729.8L1166.4 734.6Z"/>
<path class="c5" d="M1125.0 733.1L1141.9 736.2L1136.2 736.6Z"/>
<path class="c6" d="M1125.0 733.1L1118.7 731.1L1131.0 729.2L1153.9 735.4L1141.9 736.2Z"/>
<path class="c7" d="M1131.0 729.2L1147.7 726.5L1166.0 734.7L1153.9 735.4Z"/>
<path class="c8" d="M1147.7 726.5L1148.9 726.3L1166.4 734.6L1166.0 734.7Z"/>
<path class="c4" d="M1101.1 739.8L1121.3 738.9L1106.0 741.4Z"/>
<path class="c5" d="M1101.1 739.8L1091.8 737.0L1125.0 733.1L1136.2 736.6L1121.3 738.9Z"/>
<path class="c6" d="M1091.8 737.0L1088.5 735.9L1118.7 731.1L1125.0 733.1Z"/>
<path class="c3" d="M1073.4 745.2L1093.5 743.4L1075.8 746.2Z"/>
<path class="c4" d="M1073.4 745.2L1069.6 743.7L1101.1 739.8L1106.0 741.4L1093.5 743.4Z"/>
<path class="c5" d="M1069.6 743.7L1065.8 742.3L1091.8 737.0L1101.1 739.8Z"/>
<path class="c6" d="M1065.8 742.3L1062.1 740.8L1076.7 737.3L1088.5 735.9L1091.8 737.0Z"/>
<path class="c7" d="M1062.1 740.8L1058.3 739.3L1058.4 739.3L1076.7 737.3Z"/>
<path class="c8" d="M1058.3 739.3L1058.3 739.3L1058.4 739.3Z"/>
<path class="c3" d="M1034.8 741.7L1028.1 736.9L1029.6 737.0L1073.4 745.2L1075.8 746.2L1055.7 748.4Z"/>
<path class="c4" d="M1034.8 741.7L1029.6 737.0L1036.8 737.6L1069.6 743.7L1073.4 745.2L1055.7 748.4L1045.6 749.5Z"/>
<path class="c5" d="M1036.8 737.6L1043.9 738.1L1065.8 742.3L1069.6 743.7Z"/>
<path class="c6" d="M1043.9 738.1L1051.1 738.7L1062.1 740.8L1065.8 742.3Z"/>
<path class="c7" d="M1051.1 738.7L1058.3 739.3L1058.3 739.3L1062.1 740.8Z"/>
<path class="c8" d="M1058.3 739.3L1058.3 739.3L1058.3 739.3Z"/>
<path class="c3" d="M1004.2 734.5L997.9 731.5L1028.1 736.9L1034.8 741.7Z"/>
<path class="c4" d="M1014.0 739.1L1004.2 734.5L1034.8 741.7L1045.6 749.5L1020.8 741.6Z"/>
<path class="c5" d="M1014.0 739.1L1020.8 741.6L1015.4 739.8Z"/>
<path class="c2" d="M967.7 721.8L977.5 724.8L977.5 724.8L985.5 727.5Z"/>
<path class="c3" d="M977.5 724.8L985.2 727.2L987.3 728.1L985.5 727.5ZM1004.2 734.5L995.5 731.5L987.3 728.1L997.9 731.5Z"/>
<path class="c4" d="M995.5 731.5L1004.2 734.5L1014.0 739.1L1012.9 738.8L1011.3 738.1Z"/>
<path class="c5" d="M1012.9 738.8L1014.0 739.1L1015.4 739.8Z"/>
<path class="c2" d="M971.9 723.6L966.5 722.1L967.7 721.8L977.5 724.8ZM937.5 729.5L954.0 719.6L965.9 722.3Z"/>
<path class="c3" d="M954.0 719.6L955.0 719.0L966.5 722.1L965.9 722.3ZM977.5 724.8L985.2 727.2L971.9 723.6Z"/>
<path class="c0" d="M919.8 706.0L907.3 689.4L916.1 689.2Z"/>
<path class="c2" d="M924.8 689.0L953.5 717.5L954.0 719.6L937.5 729.5L919.8 706.0L916.1 689.2Z"/>
<path class="c3" d="M953.5 717.5L955.0 719.0L954.0 719.6Z"/>
<path class="c0" d="M894.6 643.0L907.7 663.0L916.1 689.2L907.3 689.4L877.1 655.0Z"/>
<path class="c2" d="M907.7 663.0L924.8 689.0L916.1 689.2Z"/>
<path class="c0" d="M864.4 634.8L894.6 643.0L877.1 655.0L846.9 645.3ZM834.2 543.8L847.5 583.9L841.4 639.4L816.7 612.4ZM847.5 583.9L864.4 634.8L846.9 645.3L841.4 639.4ZM804.0 532.7L834.2 543.8L816.7 612.4L786.5 578.0ZM773.8 482.4L804.0 532.7L786.5 578.0L756.3 536.4ZM743.5 464.0L773.8 482.4L756.3 536.4L726.1 516.6ZM713.3 481.8L743.5 464.0L726.1 516.6L695.8 525.7ZM713.3 481.8L695.8 525.7L686.5 540.3ZM665.6 572.6L686.5 540.3L683.1 547.6ZM652.9 540.8L683.1 547.6L665.6 572.6L635.4 599.2ZM652.9 540.8L635.4 599.2L634.4 600.5ZM605.2 640.2L634.4 600.5L622.7 638.4ZM575.0 707.4L605.2 640.2L622.7 638.4L592.5 699.8ZM544.8 742.7L575.0 707.4L592.5 699.8L562.3 733.6ZM514.6 776.5L544.8 742.7L562.3 733.6L532.1 779.0ZM484.4 791.5L514.6 776.5L532.1 779.0L501.9 799.8ZM470.3 821.9L476.1 799.6L484.4 791.5L501.9 799.8L471.7 822.0ZM470.3 821.9L454.2 820.9L476.1 799.6ZM470.3 821.9L471.7 822.0L470.3 823.0ZM450.6 821.8L454.2 820.9L470.3 821.9L470.3 823.0L453.1 834.8Z"/>
<path class="c2" d="M424.0 828.6L450.6 821.8L453.1 834.8L441.5 842.8ZM410.2 850.0L418.4 831.4L424.0 828.6L441.5 842.8L411.3 850.5Z"/>
<path class="c3" d="M410.2 850.0L403.5 847.4L408.4 836.4L418.4 831.4Z"/>
<path class="c4" d="M403.5 847.4L396.8 844.8L398.4 841.3L408.4 836.4Z"/>
<path class="c5" d="M396.8 844.8L393.8 843.6L398.4 841.3Z"/>
<path class="c8" d="M1257.1 720.2L1287.3 715.4L1304.8 723.7L1274.6 728.5ZM1226.9 725.0L1257.1 720.2L1274.6 728.5L1244.3 733.3ZM1196.6 729.8L1226.9 725.0L1244.3 733.3L1214.1 738.2ZM1166.4 734.6L1196.6 729.8L1214.1 738.2L1183.9 743.0Z"/>
<path class="c5" d="M1140.0 738.7L1136.2 736.6L1141.9 736.2Z"/>
<path class="c6" d="M1148.0 743.1L1140.0 738.7L1141.9 736.2L1153.9 735.4Z"/>
<path class="c7" d="M1148.0 743.1L1153.9 735.4L1166.0 734.7L1169.1 744.6L1153.7 746.3Z"/>
<path class="c8" d="M1166.0 734.7L1166.4 734.6L1183.9 743.0L1169.1 744.6Z"/>
<path class="c4" d="M1110.2 743.3L1106.0 741.4L1121.3 738.9Z"/>
<path class="c5" d="M1118.0 747.0L1110.2 743.3L1121.3 738.9L1136.2 736.6L1140.0 738.7Z"/>
<path class="c6" d="M1118.0 747.0L1140.0 738.7L1148.0 743.1L1132.2 748.7L1123.5 749.7Z"/>
<path class="c7" d="M1148.0 743.1L1153.7 746.3L1132.2 748.7Z"/>
<path class="c3" d="M1075.8 746.2L1093.5 743.4L1098.1 751.3L1093.3 751.6Z"/>
<path class="c4" d="M1093.5 743.4L1106.0 741.4L1110.2 743.3L1107.5 750.7L1098.1 751.3Z"/>
<path class="c5" d="M1110.2 743.3L1118.0 747.0L1116.8 750.1L1107.5 750.7Z"/>
<path class="c6" d="M1118.0 747.0L1123.5 749.7L1116.8 750.1Z"/>
<path class="c3" d="M1051.5 748.9L1055.7 748.4L1075.8 746.2L1093.3 751.6L1063.1 747.7Z"/>
<path class="c4" d="M1051.5 748.9L1045.6 749.5L1055.7 748.4Z"/>
<path class="c3" d="M1027.4 754.5L1051.5 748.9L1063.1 747.7L1032.9 761.2Z"/>
<path class="c4" d="M1027.4 754.5L1016.9 741.7L1020.8 741.6L1045.6 749.5L1051.5 748.9Z"/>
<path class="c5" d="M1016.9 741.7L1015.4 739.8L1020.8 741.6Z"/>
<path class="c3" d="M985.2 727.2L995.5 731.5L1027.4 754.5L1032.9 761.2L1002.7 735.5Z"/>
<path class="c4" d="M995.5 731.5L1012.9 738.8L1016.9 741.7L1027.4 754.5Z"/>
<path class="c5" d="M1012.9 738.8L1015.4 739.8L1016.9 741.7Z"/>
<path class="c3" d="M955.0 719.0L985.2 727.2L1002.7 735.5L972.5 734.5Z"/>
<path class="c2" d="M942.3 675.5L953.7 697.8L953.5 717.5L924.8 689.0Z"/>
<path class="c3" d="M953.7 697.8L972.5 734.5L955.0 719.0L953.5 717.5Z"/>
<path class="c0" d="M907.7 663.0L894.6 643.0L902.0 646.5Z"/>
<path class="c2" d="M912.1 651.3L942.3 675.5L924.8 689.0L907.7 663.0L902.0 646.5Z"/>
<path class="c0" d="M881.9 590.9L896.9 621.0L902.0 646.5L894.6 643.0L864.4 634.8Z"/>
<path class="c2" d="M896.9 621.0L912.1 651.3L902.0 646.5Z"/>
<path class="c0" d="M847.5 583.9L834.2 543.8L840.4 551.5ZM851.7 565.2L881.9 590.9L864.4 634.8L847.5 583.9L840.4 551.5ZM840.4 551.5L834.2 543.8L804.0 532.7L816.9 480.9ZM821.4 462.7L851.7 565.2L840.4 551.5L816.9 480.9ZM791.2 422.5L814.4 453.4L816.9 480.9L804.0 532.7L773.8 482.4ZM814.4 453.4L821.4 462.7L816.9 480.9ZM761.0 449.1L791.2 422.5L773.8 482.4L743.5 464.0ZM730.8 435.0L761.0 449.1L743.5 464.0L713.3 481.8ZM730.8 435.0L713.3 481.8L708.1 493.3ZM683.1 547.6L708.1 493.3L700.6 512.4ZM670.4 511.4L700.6 512.4L683.1 547.6L652.9 540.8ZM622.7 638.4L652.9 540.8L670.4 511.4L640.2 600.3ZM610.0 647.2L640.2 600.3L622.7 638.4L592.5 699.8ZM579.8 708.6L610.0 647.2L592.5 699.8L562.3 733.6ZM532.1 779.0L562.3 733.6L579.8 708.6L549.6 767.0ZM501.9 799.8L532.1 779.0L549.6 767.0L519.4 793.6ZM483.1 821.7L471.7 822.0L501.9 799.8L519.4 793.6L493.3 817.8ZM483.1 821.7L493.3 817.8L489.2 821.6ZM470.3 823.0L471.7 822.0L483.1 821.7ZM453.1 834.8L470.3 823.0L483.1 821.7L489.2 821.6L485.5 825.0Z"/>
<path class="c2" d="M442.4 843.1L441.5 842.8L453.1 834.8L485.5 825.0L481.6 828.7Z"/>
<path class="c3" d="M445.2 844.2L442.4 843.1L481.6 828.7L477.7 832.3Z"/>
<path class="c4" d="M448.1 845.4L445.2 844.2L477.7 832.3L473.8 835.9Z"/>
<path class="c5" d="M450.9 846.5L448.1 845.4L473.8 835.9L469.9 839.5Z"/>
<path class="c6" d="M453.8 847.6L450.9 846.5L469.9 839.5L466.0 843.1Z"/>
<path class="c7" d="M456.6 848.7L453.8 847.6L466.0 843.1L462.1 846.7Z"/>
<path class="c8" d="M456.6 848.7L462.1 846.7L459.0 849.6Z"/>
<path class="c2" d="M411.7 850.5L411.3 850.5L441.5 842.8L442.4 843.1Z"/>
<path class="c3" d="M414.8 850.4L411.7 850.5L442.4 843.1L445.2 844.2Z"/>
<path class="c4" d="M417.8 850.3L414.8 850.4L445.2 844.2L448.1 845.4Z"/>
<path class="c5" d="M420.8 850.2L417.8 850.3L448.1 845.4L450.9 846.5Z"/>
<path class="c6" d="M423.9 850.2L420.8 850.2L450.9 846.5L453.8 847.6Z"/>
<path class="c7" d="M426.9 850.1L423.9 850.2L453.8 847.6L456.6 848.7Z"/>
<path class="c8" d="M426.9 850.1L456.6 848.7L459.0 849.6L428.8 850.1ZM1274.6 728.5L1304.8 723.7L1322.2 732.0L1292.0 736.9ZM1244.3 733.3L1274.6 728.5L1292.0 736.9L1261.8 741.7ZM1214.1 738.2L1244.3 733.3L1261.8 741.7L1231.6 746.5ZM1183.9 743.0L1214.1 738.2L1231.6 746.5L1201.4 751.3Z"/>
<path class="c7" d="M1157.6 747.8L1153.7 746.3L1169.1 744.6Z"/>
<path class="c8" d="M1171.0 753.1L1157.6 747.8L1169.1 744.6L1183.9 743.0L1201.4 751.3L1171.6 753.2Z"/>
<path class="c9" d="M1171.0 753.1L1171.6 753.2L1171.2 753.2Z"/>
<path class="c6" d="M1125.5 750.5L1123.5 749.7L1132.2 748.7Z"/>
<path class="c7" d="M1132.4 753.2L1125.5 750.5L1132.2 748.7L1153.7 746.3L1157.6 747.8Z"/>
<path class="c8" d="M1139.4 755.9L1132.4 753.2L1157.6 747.8L1171.0 753.1Z"/>
<path class="c9" d="M1139.4 755.9L1171.0 753.1L1171.2 753.2L1141.0 756.5Z"/>
<path class="c3" d="M1094.5 752.1L1093.3 751.6L1098.1 751.3Z"/>
<path class="c4" d="M1096.8 753.2L1094.5 752.1L1098.1 751.3L1107.5 750.7Z"/>
<path class="c5" d="M1099.1 754.3L1096.8 753.2L1107.5 750.7L1116.8 750.1Z"/>
<path class="c6" d="M1101.5 755.5L1099.1 754.3L1116.8 750.1L1123.5 749.7L1125.5 750.5Z"/>
<path class="c7" d="M1103.8 756.6L1101.5 755.5L1125.5 750.5L1132.4 753.2Z"/>
<path class="c8" d="M1106.1 757.7L1103.8 756.6L1132.4 753.2L1139.4 755.9Z"/>
<path class="c9" d="M1108.4 758.8L1106.1 757.7L1139.4 755.9L1141.0 756.5L1128.1 758.0Z"/>
<path class="c10" d="M1110.7 759.9L1108.4 758.8L1128.1 758.0L1111.3 759.8Z"/>
<path class="c11" d="M1110.7 759.9L1111.3 759.8L1110.8 759.9Z"/>
<path class="c3" d="M1066.9 750.4L1063.1 747.7L1093.3 751.6L1094.5 752.1Z"/>
<path class="c4" d="M1072.8 754.7L1066.9 750.4L1094.5 752.1L1096.8 753.2Z"/>
<path class="c5" d="M1078.8 759.0L1072.8 754.7L1096.8 753.2L1099.1 754.3Z"/>
<path class="c6" d="M1078.8 759.0L1099.1 754.3L1101.5 755.5L1085.0 760.3L1080.6 760.3Z"/>
<path class="c7" d="M1101.5 755.5L1103.8 756.6L1091.4 760.2L1085.0 760.3Z"/>
<path class="c8" d="M1103.8 756.6L1106.1 757.7L1097.8 760.1L1091.4 760.2Z"/>
<path class="c9" d="M1106.1 757.7L1108.4 758.8L1104.2 760.0L1097.8 760.1Z"/>
<path class="c10" d="M1108.4 758.8L1110.7 759.9L1110.6 759.9L1104.2 760.0Z"/>
<path class="c11" d="M1110.7 759.9L1110.8 759.9L1110.6 759.9Z"/>
<path class="c3" d="M1066.9 750.4L1054.1 753.1L1052.2 752.6L1063.1 747.7ZM1032.9 761.2L1050.4 752.1L1052.2 752.6Z"/>
<path class="c4" d="M1054.1 753.1L1066.9 750.4L1067.3 750.7L1072.8 754.7L1065.6 756.2Z"/>
<path class="c5" d="M1065.6 756.2L1072.8 754.7L1074.2 755.7L1078.8 759.0L1077.1 759.4L1068.1 756.9Z"/>
<path class="c6" d="M1077.1 759.4L1078.8 759.0L1080.6 760.3Z"/>
<path class="c3" d="M1011.9 746.0L1002.7 735.5L1022.5 752.4ZM1025.5 754.9L1050.4 752.1L1032.9 761.2Z"/>
<path class="c4" d="M1020.2 755.5L1011.9 746.0L1022.5 752.4L1025.5 754.9Z"/>
<path class="c3" d="M972.5 734.5L990.0 734.2L991.4 735.2ZM1011.9 746.0L1017.5 753.6L991.4 735.2L1002.7 735.5Z"/>
<path class="c4" d="M1017.5 753.6L1011.9 746.0L1020.2 755.5Z"/>
<path class="c2" d="M959.8 689.6L979.6 718.8L953.7 697.8L942.3 675.5Z"/>
<path class="c3" d="M979.6 718.8L990.0 734.2L972.5 734.5L953.7 697.8Z"/>
<path class="c2" d="M929.6 652.4L959.8 689.6L942.3 675.5L912.1 651.3Z"/>
<path class="c0" d="M896.9 621.0L881.9 590.9L891.7 589.8Z"/>
<path class="c2" d="M899.4 589.0L929.6 652.4L912.1 651.3L896.9 621.0L891.7 589.8Z"/>
<path class="c0" d="M891.7 589.8L881.9 590.9L851.7 565.2L861.7 544.3Z"/>
<path class="c2" d="M869.1 528.6L899.4 589.0L891.7 589.8L861.7 544.3Z"/>
<path class="c0" d="M861.7 544.3L851.7 565.2L821.4 462.7L828.5 466.6Z"/>
<path class="c2" d="M840.2 474.7L869.1 528.6L861.7 544.3L828.5 466.6L838.6 472.3Z"/>
<path class="c3" d="M838.9 472.4L840.2 474.7L838.6 472.3Z"/>
<path class="c0" d="M814.4 453.4L791.2 422.5L796.9 423.3ZM828.5 466.6L821.4 462.7L814.4 453.4L796.9 423.3L802.5 424.1Z"/>
<path class="c2" d="M838.6 472.3L828.5 466.6L802.5 424.1L808.2 425.0Z"/>
<path class="c3" d="M808.7 425.0L838.9 472.4L838.6 472.3L808.2 425.0Z"/>
<path class="c0" d="M791.2 422.5L796.9 423.3L786.8 426.4ZM778.5 428.4L781.5 428.1L781.5 428.1L785.4 427.6L761.0 449.1ZM792.0 426.9L785.4 427.6L786.8 426.4L796.9 423.3L797.3 423.4L802.5 424.1L794.5 426.6Z"/>
<path class="c2" d="M794.5 426.6L802.5 424.1L808.2 425.0L807.5 425.2Z"/>
<path class="c3" d="M807.5 425.2L808.2 425.0L808.7 425.0Z"/>
<path class="c0" d="M778.5 428.4L761.0 449.1L748.5 443.3ZM730.8 435.0L748.5 443.3L748.3 443.4ZM730.8 435.0L748.3 443.4L724.3 451.8ZM700.6 512.4L718.1 454.0L724.3 451.8ZM670.4 511.4L700.6 512.4L718.1 454.0L687.9 558.8ZM640.2 600.3L670.4 511.4L687.9 558.8L657.7 594.1ZM610.0 647.2L640.2 600.3L657.7 594.1L627.5 688.9ZM579.8 708.6L610.0 647.2L627.5 688.9L597.3 721.2ZM549.6 767.0L579.8 708.6L597.3 721.2L567.1 784.0ZM530.8 811.4L519.4 793.6L549.6 767.0L567.1 784.0L542.2 814.3ZM530.8 811.4L542.2 814.3L536.9 820.8ZM493.3 817.8L519.4 793.6L530.8 811.4ZM489.2 821.6L493.3 817.8L530.8 811.4L536.9 820.8L506.7 840.1ZM485.5 825.0L489.2 821.6L506.7 840.1L505.0 841.0Z"/>
<path class="c2" d="M481.6 828.7L485.5 825.0L505.0 841.0L502.6 842.3Z"/>
<path class="c3" d="M477.7 832.3L481.6 828.7L502.6 842.3L500.2 843.6Z"/>
<path class="c4" d="M473.8 835.9L477.7 832.3L500.2 843.6L497.8 844.9Z"/>
<path class="c5" d="M469.9 839.5L473.8 835.9L497.8 844.9L495.4 846.2Z"/>
<path class="c6" d="M466.0 843.1L469.9 839.5L495.4 846.2L493.0 847.5Z"/>
<path class="c7" d="M462.1 846.7L466.0 843.1L493.0 847.5L490.6 848.8Z"/>
<path class="c8" d="M459.6 849.9L459.0 849.6L462.1 846.7L490.6 848.8L488.2 850.1Z"/>
<path class="c9" d="M463.1 851.2L459.6 849.9L488.2 850.1L485.7 851.4Z"/>
<path class="c10" d="M466.6 852.6L463.1 851.2L485.7 851.4L483.3 852.7Z"/>
<path class="c11" d="M470.0 854.0L466.6 852.6L483.3 852.7L480.9 854.1Z"/>
<path class="c12" d="M473.5 855.3L470.0 854.0L480.9 854.1L478.5 855.4Z"/>
<path class="c13" d="M473.5 855.3L478.5 855.4L476.5 856.5Z"/>
<path class="c8" d="M430.0 851.2L428.8 850.1L459.0 849.6L459.6 849.9Z"/>
<path class="c9" d="M433.2 854.0L430.0 851.2L459.6 849.9L463.1 851.2Z"/>
<path class="c10" d="M436.4 856.9L433.2 854.0L463.1 851.2L466.6 852.6Z"/>
<path class="c11" d="M439.6 859.8L436.4 856.9L466.6 852.6L470.0 854.0Z"/>
<path class="c12" d="M442.9 862.6L439.6 859.8L470.0 854.0L473.5 855.3Z"/>
<path class="c13" d="M446.1 865.5L442.9 862.6L473.5 855.3L476.5 856.5L454.7 863.1Z"/>
<path class="c14" d="M446.1 865.5L454.7 863.1L446.3 865.6Z"/>
<path class="c8" d="M1292.0 736.9L1322.2 732.0L1339.7 740.4L1309.5 745.2ZM1261.8 741.7L1292.0 736.9L1309.5 745.2L1279.3 750.0ZM1231.6 746.5L1261.8 741.7L1279.3 750.0L1249.1 754.8ZM1216.5 757.2L1201.4 751.3L1231.6 746.5L1249.1 754.8L1224.4 757.5Z"/>
<path class="c9" d="M1216.5 757.2L1224.4 757.5L1218.9 758.1Z"/>
<path class="c8" d="M1171.6 753.2L1201.4 751.3L1216.5 757.2Z"/>
<path class="c9" d="M1183.7 761.2L1171.2 753.2L1171.6 753.2L1216.5 757.2L1218.9 758.1L1198.4 762.4Z"/>
<path class="c10" d="M1183.7 761.2L1198.4 762.4L1188.7 764.4Z"/>
<path class="c9" d="M1141.0 756.5L1171.2 753.2L1183.7 761.2L1179.7 765.4L1158.5 767.7Z"/>
<path class="c10" d="M1183.7 761.2L1188.7 764.4L1179.7 765.4Z"/>
<path class="c8" d="M1124.7 767.7L1155.0 768.0L1128.3 769.7Z"/>
<path class="c9" d="M1124.7 767.7L1117.9 763.8L1128.1 758.0L1141.0 756.5L1158.5 767.7L1155.0 768.0Z"/>
<path class="c10" d="M1117.9 763.8L1111.0 760.0L1111.3 759.8L1128.1 758.0Z"/>
<path class="c11" d="M1111.0 760.0L1110.8 759.9L1111.3 759.8Z"/>
<path class="c3" d="M1095.6 772.5L1100.4 774.1L1098.1 774.5Z"/>
<path class="c4" d="M1095.6 772.5L1089.1 767.2L1106.7 773.1L1100.4 774.1Z"/>
<path class="c5" d="M1089.1 767.2L1082.6 762.0L1112.9 772.1L1106.7 773.1Z"/>
<path class="c6" d="M1082.6 762.0L1080.6 760.3L1085.0 760.3L1119.1 771.1L1112.9 772.1Z"/>
<path class="c7" d="M1085.0 760.3L1091.4 760.2L1125.3 770.1L1119.1 771.1Z"/>
<path class="c8" d="M1091.4 760.2L1097.8 760.1L1124.7 767.7L1128.3 769.7L1125.3 770.1Z"/>
<path class="c9" d="M1097.8 760.1L1104.2 760.0L1117.9 763.8L1124.7 767.7Z"/>
<path class="c10" d="M1104.2 760.0L1110.6 759.9L1111.0 760.0L1117.9 763.8Z"/>
<path class="c11" d="M1110.6 759.9L1110.8 759.9L1111.0 760.0Z"/>
<path class="c3" d="M1050.4 752.1L1054.1 753.1L1095.6 772.5L1098.1 774.5L1067.9 770.6Z"/>
<path class="c4" d="M1054.1 753.1L1065.6 756.2L1089.1 767.2L1095.6 772.5Z"/>
<path class="c5" d="M1065.6 756.2L1077.1 759.4L1082.6 762.0L1089.1 767.2Z"/>
<path class="c6" d="M1077.1 759.4L1080.6 760.3L1082.6 762.0Z"/>
<path class="c3" d="M1026.7 759.6L1026.5 754.8L1050.4 752.1L1067.9 770.6L1037.7 766.7Z"/>
<path class="c4" d="M1026.7 759.6L1020.2 755.5L1026.5 754.8Z"/>
<path class="c2" d="M1007.5 732.3L1014.8 740.6L995.9 733.5Z"/>
<path class="c3" d="M1014.8 740.6L1037.7 766.7L1026.7 759.6L1017.5 753.6L990.0 734.2L995.9 733.5Z"/>
<path class="c4" d="M1026.7 759.6L1020.2 755.5L1017.5 753.6Z"/>
<path class="c2" d="M977.3 702.3L1007.5 732.3L995.9 733.5L979.6 718.8L959.8 689.6Z"/>
<path class="c3" d="M995.9 733.5L990.0 734.2L979.6 718.8Z"/>
<path class="c2" d="M947.1 650.5L977.3 702.3L959.8 689.6L929.6 652.4ZM916.9 590.1L947.1 650.5L929.6 652.4L899.4 589.0ZM886.6 552.8L916.9 590.1L899.4 589.0L869.1 528.6ZM856.4 490.9L886.6 552.8L869.1 528.6L840.2 474.7L846.0 479.8Z"/>
<path class="c3" d="M840.2 474.7L838.9 472.4L846.0 479.8Z"/>
<path class="c2" d="M846.0 479.8L856.4 490.9L853.7 490.0Z"/>
<path class="c3" d="M808.7 425.0L838.9 472.4L846.0 479.8L853.7 490.0L826.2 481.2Z"/>
<path class="c0" d="M781.5 428.1L778.5 428.4L778.7 427.9ZM794.5 426.6L781.5 428.1L778.7 427.9L779.5 425.5Z"/>
<path class="c2" d="M807.5 425.2L794.5 426.6L779.5 425.5L780.2 423.1Z"/>
<path class="c3" d="M781.0 420.7L780.2 423.1L807.5 425.2L808.7 425.0L826.2 481.2L825.4 478.2Z"/>
<path class="c4" d="M823.9 472.9L825.4 478.2L781.0 420.7L781.8 418.3Z"/>
<path class="c5" d="M822.4 467.6L823.9 472.9L781.8 418.3L782.5 416.0Z"/>
<path class="c6" d="M820.9 462.3L822.4 467.6L782.5 416.0L783.3 413.6Z"/>
<path class="c7" d="M819.4 457.0L820.9 462.3L783.3 413.6L784.1 411.2Z"/>
<path class="c8" d="M817.9 451.6L819.4 457.0L784.1 411.2L784.9 408.8Z"/>
<path class="c9" d="M816.4 446.3L817.9 451.6L784.9 408.8L785.6 406.5Z"/>
<path class="c10" d="M814.9 441.0L816.4 446.3L785.6 406.5L786.4 404.1Z"/>
<path class="c11" d="M813.4 435.7L814.9 441.0L786.4 404.1L787.2 401.7Z"/>
<path class="c12" d="M811.9 430.3L813.4 435.7L787.2 401.7L787.9 399.3Z"/>
<path class="c13" d="M810.3 425.0L811.9 430.3L787.9 399.3L788.7 397.0Z"/>
<path class="c14" d="M808.8 419.7L810.3 425.0L788.7 397.0L789.5 394.6Z"/>
<path class="c15" d="M807.3 414.4L808.8 419.7L789.5 394.6L790.2 392.2Z"/>
<path class="c16" d="M805.8 409.1L807.3 414.4L790.2 392.2L791.0 389.8Z"/>
<path class="c17" d="M804.3 403.7L805.8 409.1L791.0 389.8L791.8 387.5Z"/>
<path class="c18" d="M802.8 398.4L804.3 403.7L791.8 387.5L792.5 385.1Z"/>
<path class="c19" d="M801.3 393.1L802.8 398.4L792.5 385.1L793.3 382.7Z"/>
<path class="c20" d="M799.8 387.8L801.3 393.1L793.3 382.7L794.1 380.3Z"/>
<path class="c21" d="M798.3 382.4L799.8 387.8L794.1 380.3L794.9 378.0Z"/>
<path class="c22" d="M796.8 377.1L798.3 382.4L794.9 378.0L795.6 375.6Z"/>
<path class="c23" d="M796.0 374.3L796.8 377.1L795.6 375.6Z"/>
<path class="c0" d="M778.7 427.9L778.5 428.4L748.3 443.4L749.6 441.7ZM779.5 425.5L778.7 427.9L749.6 441.7L751.0 439.9Z"/>
<path class="c2" d="M780.2 423.1L779.5 425.5L751.0 439.9L752.5 438.1Z"/>
<path class="c3" d="M781.0 420.7L780.2 423.1L752.5 438.1L753.9 436.3Z"/>
<path class="c4" d="M781.8 418.3L781.0 420.7L753.9 436.3L755.3 434.5Z"/>
<path class="c5" d="M782.5 416.0L781.8 418.3L755.3 434.5L756.7 432.7Z"/>
<path class="c6" d="M783.3 413.6L782.5 416.0L756.7 432.7L758.2 430.9Z"/>
<path class="c7" d="M784.1 411.2L783.3 413.6L758.2 430.9L759.6 429.1Z"/>
<path class="c8" d="M784.9 408.8L784.1 411.2L759.6 429.1L761.0 427.3Z"/>
<path class="c9" d="M785.6 406.5L784.9 408.8L761.0 427.3L762.5 425.5Z"/>
<path class="c10" d="M786.4 404.1L785.6 406.5L762.5 425.5L763.9 423.7Z"/>
<path class="c11" d="M787.2 401.7L786.4 404.1L763.9 423.7L765.3 421.8Z"/>
<path class="c12" d="M765.8 421.2L767.6 418.5L787.9 399.3L787.2 401.7L765.3 421.8Z"/>
<path class="c13" d="M767.6 418.5L770.3 414.3L788.7 397.0L787.9 399.3Z"/>
<path class="c14" d="M770.3 414.3L773.0 410.1L789.5 394.6L788.7 397.0Z"/>
<path class="c15" d="M773.0 410.1L775.7 405.9L790.2 392.2L789.5 394.6Z"/>
<path class="c16" d="M775.7 405.9L778.4 401.7L791.0 389.8L790.2 392.2Z"/>
<path class="c17" d="M778.4 401.7L781.1 397.5L791.8 387.5L791.0 389.8Z"/>
<path class="c18" d="M781.1 397.5L783.8 393.3L792.5 385.1L791.8 387.5Z"/>
<path class="c19" d="M783.8 393.3L786.5 389.1L793.3 382.7L792.5 385.1Z"/>
<path class="c20" d="M786.5 389.1L789.2 384.9L794.1 380.3L793.3 382.7Z"/>
<path class="c21" d="M789.2 384.9L791.9 380.7L794.9 378.0L794.1 380.3Z"/>
<path class="c22" d="M791.9 380.7L794.6 376.5L795.6 375.6L794.9 378.0Z"/>
<path class="c23" d="M794.6 376.5L796.0 374.3L795.6 375.6Z"/>
<path class="c0" d="M749.6 441.7L748.3 443.4L746.1 444.1ZM742.0 445.6L735.6 452.1L718.1 454.0ZM751.0 440.0L749.6 441.7L746.1 444.1L743.6 445.0L751.0 439.9Z"/>
<path class="c2" d="M743.6 445.0L742.0 445.6L742.9 444.7L752.5 438.1L751.0 439.9Z"/>
<path class="c3" d="M745.3 442.2L753.9 436.3L753.8 436.5L752.5 438.1L742.9 444.7Z"/>
<path class="c4" d="M745.3 442.2L747.8 439.7L755.3 434.5L753.9 436.3Z"/>
<path class="c5" d="M750.2 437.1L756.7 432.7L755.3 434.5L747.8 439.7L750.2 437.1Z"/>
<path class="c6" d="M752.7 434.6L758.2 430.9L756.7 432.7L750.2 437.1Z"/>
<path class="c7" d="M758.4 430.6L758.2 430.9L752.7 434.6L755.1 432.1L759.6 429.1Z"/>
<path class="c8" d="M755.1 432.1L757.6 429.6L761.0 427.3L759.6 429.1Z"/>
<path class="c9" d="M762.5 425.5L761.0 427.3L757.6 429.6L760.0 427.1Z"/>
<path class="c10" d="M762.5 424.6L763.9 423.7L763.0 424.8L762.5 425.5L760.0 427.1Z"/>
<path class="c11" d="M765.3 421.8L764.3 423.1L763.9 423.7L762.5 424.6L765.0 422.1Z"/>
<path class="c12" d="M765.0 422.1L765.8 421.2L765.3 421.8Z"/>
<path class="c0" d="M687.9 558.8L718.1 454.0L735.6 452.1L705.4 558.5ZM657.7 594.1L687.9 558.8L705.4 558.5L675.2 608.2ZM627.5 688.9L657.7 594.1L675.2 608.2L645.0 652.2ZM597.3 721.2L627.5 688.9L645.0 652.2L614.8 735.3ZM567.1 784.0L597.3 721.2L614.8 735.3L584.6 802.5ZM544.8 819.9L542.2 814.3L567.1 784.0L584.6 802.5L554.4 818.9ZM544.8 819.9L536.9 820.8L542.2 814.3ZM517.5 841.6L544.8 819.9L554.4 818.9L524.2 842.6ZM517.5 841.6L506.7 840.1L536.9 820.8L544.8 819.9ZM517.5 841.6L524.2 842.6L520.3 845.6ZM505.0 841.0L506.7 840.1L517.5 841.6L520.3 845.6L501.0 860.7Z"/>
<path class="c2" d="M493.0 865.7L502.6 842.3L505.0 841.0L501.0 860.7L494.0 866.2Z"/>
<path class="c3" d="M493.0 865.7L491.5 864.9L500.2 843.6L502.6 842.3Z"/>
<path class="c4" d="M491.5 864.9L489.9 864.0L497.8 844.9L500.2 843.6Z"/>
<path class="c5" d="M489.9 864.0L488.4 863.2L495.4 846.2L497.8 844.9Z"/>
<path class="c6" d="M488.4 863.2L486.9 862.3L493.0 847.5L495.4 846.2Z"/>
<path class="c7" d="M486.9 862.3L485.4 861.5L490.6 848.8L493.0 847.5Z"/>
<path class="c8" d="M485.4 861.5L483.9 860.6L488.2 850.1L490.6 848.8Z"/>
<path class="c9" d="M483.9 860.6L482.3 859.8L485.7 851.4L488.2 850.1Z"/>
<path class="c10" d="M482.3 859.8L480.8 858.9L483.3 852.7L485.7 851.4Z"/>
<path class="c11" d="M480.8 858.9L479.3 858.1L480.9 854.1L483.3 852.7Z"/>
<path class="c12" d="M479.3 858.1L477.8 857.2L478.5 855.4L480.9 854.1Z"/>
<path class="c13" d="M477.8 857.2L476.5 856.5L478.5 855.4Z"/>
<path class="c2" d="M493.0 865.7L494.0 866.2L484.7 868.2Z"/>
<path class="c3" d="M491.5 864.9L493.0 865.7L484.7 868.2L470.2 871.2Z"/>
<path class="c4" d="M462.7 872.1L489.9 864.0L491.5 864.9L470.2 871.2L463.8 872.5Z"/>
<path class="c5" d="M462.7 872.1L460.9 871.4L488.4 863.2L489.9 864.0Z"/>
<path class="c6" d="M460.9 871.4L459.1 870.7L486.9 862.3L488.4 863.2Z"/>
<path class="c7" d="M459.1 870.7L457.3 870.0L485.4 861.5L486.9 862.3Z"/>
<path class="c8" d="M457.3 870.0L455.5 869.2L483.9 860.6L485.4 861.5Z"/>
<path class="c9" d="M455.5 869.2L453.6 868.5L482.3 859.8L483.9 860.6Z"/>
<path class="c10" d="M453.6 868.5L451.8 867.8L480.8 858.9L482.3 859.8Z"/>
<path class="c11" d="M451.8 867.8L450.0 867.1L479.3 858.1L480.8 858.9Z"/>
<path class="c12" d="M450.0 867.1L448.2 866.4L477.8 857.2L479.3 858.1Z"/>
<path class="c13" d="M448.2 866.4L446.4 865.7L454.7 863.1L476.5 856.5L477.8 857.2Z"/>
<path class="c14" d="M446.4 865.7L446.3 865.6L454.7 863.1Z"/>
<path class="c8" d="M1309.5 745.2L1339.7 740.4L1357.2 748.7L1327.0 753.5ZM1279.3 750.0L1309.5 745.2L1327.0 753.5L1296.8 758.3ZM1249.1 754.8L1279.3 750.0L1296.8 758.3L1266.6 763.1ZM1222.2 760.0L1224.4 757.5L1249.1 754.8L1266.6 763.1L1236.4 767.9Z"/>
<path class="c9" d="M1222.2 760.0L1218.9 758.1L1224.4 757.5Z"/>
<path class="c6" d="M1204.6 771.9L1212.4 771.7L1206.2 772.7Z"/>
<path class="c7" d="M1204.6 771.9L1199.9 769.7L1230.1 768.9L1212.4 771.7Z"/>
<path class="c8" d="M1199.9 769.7L1195.2 767.5L1222.2 760.0L1236.4 767.9L1230.1 768.9Z"/>
<path class="c9" d="M1195.2 767.5L1190.6 765.3L1198.4 762.4L1218.9 758.1L1222.2 760.0Z"/>
<path class="c10" d="M1190.6 765.3L1188.7 764.4L1198.4 762.4Z"/>
<path class="c5" d="M1174.3 772.6L1186.1 773.0L1176.0 773.2Z"/>
<path class="c6" d="M1174.3 772.6L1169.2 771.0L1204.6 771.9L1206.2 772.7L1186.1 773.0Z"/>
<path class="c7" d="M1169.2 771.0L1164.0 769.5L1199.9 769.7L1204.6 771.9Z"/>
<path class="c8" d="M1164.0 769.5L1158.9 767.9L1195.2 767.5L1199.9 769.7Z"/>
<path class="c9" d="M1158.9 767.9L1158.5 767.7L1179.7 765.4L1190.6 765.3L1195.2 767.5Z"/>
<path class="c10" d="M1179.7 765.4L1188.7 764.4L1190.6 765.3Z"/>
<path class="c5" d="M1144.7 778.7L1174.3 772.6L1176.0 773.2L1145.8 779.3Z"/>
<path class="c6" d="M1144.7 778.7L1138.1 775.0L1169.2 771.0L1174.3 772.6Z"/>
<path class="c7" d="M1138.1 775.0L1131.5 771.4L1164.0 769.5L1169.2 771.0Z"/>
<path class="c8" d="M1131.5 771.4L1128.3 769.7L1155.0 768.0L1158.9 767.9L1164.0 769.5Z"/>
<path class="c9" d="M1155.0 768.0L1158.5 767.7L1158.9 767.9Z"/>
<path class="c3" d="M1098.1 774.5L1099.0 774.1L1100.4 774.1Z"/>
<path class="c4" d="M1099.0 774.1L1101.3 773.3L1106.7 773.1L1103.8 773.6L1100.4 774.1Z"/>
<path class="c5" d="M1101.3 773.3L1103.6 772.5L1107.1 773.0L1106.8 773.1L1106.7 773.1ZM1144.7 778.7L1145.8 779.3L1144.8 778.9L1144.8 778.9L1143.3 778.4Z"/>
<path class="c6" d="M1103.6 772.5L1106.0 771.7L1109.6 772.2ZM1144.7 778.7L1144.8 778.9L1139.1 776.8L1139.1 776.8L1129.0 773.2L1138.1 775.0L1144.1 778.4ZM1112.9 772.1L1110.8 772.4L1109.6 772.2Z"/>
<path class="c7" d="M1106.0 771.7L1108.3 770.8L1112.0 771.4ZM1138.1 775.0L1139.1 776.8L1139.1 776.8L1133.4 774.8L1122.1 770.6L1123.4 770.4L1125.3 770.1L1131.5 771.4ZM1119.1 771.1L1114.6 771.8L1112.0 771.4Z"/>
<path class="c8" d="M1108.3 770.8L1110.6 770.0L1114.3 770.6ZM1131.5 771.4L1133.4 774.8L1127.7 772.7L1122.1 770.6L1125.3 770.1L1128.3 769.7ZM1121.2 770.3L1122.1 770.6L1118.4 771.2L1114.3 770.6Z"/>
<path class="c9" d="M1122.1 770.6L1118.4 771.2L1110.6 770.0L1113.0 769.2L1122.0 770.6Z"/>
<path class="c10" d="M1114.5 768.7L1115.3 768.4L1116.3 768.5L1122.0 770.6L1113.0 769.2Z"/>
<path class="c11" d="M1115.3 768.4L1115.6 768.3L1116.3 768.5Z"/>
<path class="c3" d="M1068.8 770.8L1067.9 770.6L1076.7 771.7ZM1099.0 774.1L1098.1 774.5L1093.0 773.8L1093.9 773.6Z"/>
<path class="c4" d="M1071.2 771.5L1068.8 770.8L1076.7 771.7L1079.0 772.0ZM1101.3 773.3L1099.0 774.1L1093.9 773.6L1096.2 773.0Z"/>
<path class="c5" d="M1073.6 772.2L1072.2 771.8L1071.2 771.5L1079.0 772.0L1081.3 772.3ZM1103.6 772.5L1101.3 773.3L1096.2 773.0L1098.6 772.5Z"/>
<path class="c6" d="M1106.0 771.7L1103.6 772.5L1098.6 772.5L1100.9 771.9ZM1075.9 772.9L1073.6 772.2L1081.3 772.3L1083.7 772.6Z"/>
<path class="c7" d="M1108.3 770.8L1106.0 771.7L1100.9 771.9L1103.2 771.3ZM1078.3 773.6L1075.9 772.9L1083.7 772.6L1086.0 772.9Z"/>
<path class="c8" d="M1110.6 770.0L1108.3 770.8L1103.2 771.3L1105.4 770.8ZM1080.7 774.3L1078.3 773.6L1086.0 772.9L1088.4 773.2Z"/>
<path class="c9" d="M1113.0 769.2L1110.6 770.0L1105.4 770.8L1107.4 770.3ZM1083.1 775.0L1080.7 774.3L1088.4 773.2L1090.8 773.5Z"/>
<path class="c10" d="M1115.3 768.4L1114.5 768.7L1113.0 769.2L1107.8 770.2ZM1107.8 770.2L1093.0 773.8L1093.0 773.8L1107.4 770.3ZM1090.8 773.5L1093.0 773.8L1091.1 774.3L1091.1 774.3L1085.4 775.7L1083.1 775.0Z"/>
<path class="c11" d="M1115.6 768.3L1115.3 768.4L1093.0 773.8L1093.0 773.8Z"/>
<path class="c3" d="M1055.2 761.9L1058.6 763.5L1068.8 770.8L1067.9 770.6L1037.7 766.7Z"/>
<path class="c4" d="M1058.6 763.5L1062.4 765.2L1071.2 771.5L1068.8 770.8Z"/>
<path class="c5" d="M1062.4 765.2L1066.3 767.0L1073.6 772.2L1071.2 771.5Z"/>
<path class="c6" d="M1066.3 767.0L1070.1 768.7L1075.9 772.9L1073.6 772.2Z"/>
<path class="c7" d="M1070.1 768.7L1073.9 770.5L1078.3 773.6L1075.9 772.9Z"/>
<path class="c8" d="M1073.9 770.5L1077.8 772.2L1080.7 774.3L1078.3 773.6Z"/>
<path class="c9" d="M1077.8 772.2L1081.6 774.0L1083.1 775.0L1080.7 774.3Z"/>
<path class="c10" d="M1081.6 774.0L1085.4 775.7L1083.1 775.0Z"/>
<path class="c2" d="M1014.8 740.6L1007.5 732.3L1016.0 729.3Z"/>
<path class="c3" d="M1025.0 726.1L1055.2 761.9L1037.7 766.7L1014.8 740.6L1016.0 729.3Z"/>
<path class="c2" d="M1016.0 729.3L1007.5 732.3L977.3 702.3L983.6 707.4Z"/>
<path class="c3" d="M994.8 716.4L1025.0 726.1L1016.0 729.3L983.6 707.4Z"/>
<path class="c2" d="M983.6 707.4L977.3 702.3L947.1 650.5L963.5 666.5Z"/>
<path class="c3" d="M964.6 667.6L994.8 716.4L983.6 707.4L963.5 666.5Z"/>
<path class="c2" d="M963.5 666.5L947.1 650.5L916.9 590.1L926.8 603.0Z"/>
<path class="c3" d="M934.3 612.9L964.6 667.6L963.5 666.5L926.8 603.0Z"/>
<path class="c2" d="M926.8 603.0L916.9 590.1L886.6 552.8L896.7 550.1Z"/>
<path class="c3" d="M904.1 548.1L934.3 612.9L926.8 603.0L896.7 550.1Z"/>
<path class="c2" d="M896.7 550.1L886.6 552.8L856.4 490.9L861.9 494.8Z"/>
<path class="c3" d="M873.9 503.6L904.1 548.1L896.7 550.1L861.9 494.8Z"/>
<path class="c2" d="M853.7 490.0L856.4 490.9L861.9 494.8Z"/>
<path class="c3" d="M871.1 496.7L873.9 503.6L861.9 494.8L853.7 490.0L826.2 481.2L827.3 478.2Z"/>
<path class="c4" d="M867.9 489.1L871.1 496.7L827.3 478.2L829.2 472.7Z"/>
<path class="c5" d="M864.7 481.5L867.9 489.1L829.2 472.7L831.1 467.3Z"/>
<path class="c6" d="M861.5 473.9L864.7 481.5L831.1 467.3L833.1 461.8Z"/>
<path class="c7" d="M858.3 466.3L861.5 473.9L833.1 461.8L835.0 456.4Z"/>
<path class="c8" d="M855.1 458.6L858.3 466.3L835.0 456.4L836.9 450.9Z"/>
<path class="c9" d="M851.9 451.0L855.1 458.6L836.9 450.9L838.8 445.5Z"/>
<path class="c10" d="M848.7 443.4L851.9 451.0L838.8 445.5L840.7 440.0Z"/>
<path class="c11" d="M845.5 435.8L848.7 443.4L840.7 440.0L842.6 434.6Z"/>
<path class="c12" d="M843.7 431.5L845.5 435.8L842.6 434.6Z"/>
<path class="c3" d="M826.2 481.2L825.4 478.2L827.3 478.2Z"/>
<path class="c4" d="M825.4 478.2L824.2 474.0L824.7 472.9L829.2 472.7L827.3 478.2Z"/>
<path class="c5" d="M824.7 472.9L827.2 467.4L831.1 467.3L829.2 472.7Z"/>
<path class="c6" d="M831.3 466.9L831.1 467.3L827.2 467.4L829.7 462.0L833.1 461.8Z"/>
<path class="c7" d="M834.5 457.7L833.1 461.8L829.7 462.0L832.2 456.5L835.0 456.4Z"/>
<path class="c8" d="M835.5 454.8L835.0 456.4L832.2 456.5L834.8 451.0L836.9 450.9Z"/>
<path class="c9" d="M838.0 447.8L836.9 450.9L834.8 451.0L837.3 445.5L838.8 445.5Z"/>
<path class="c10" d="M839.8 442.7L838.8 445.5L837.3 445.5L839.8 440.1L840.7 440.0Z"/>
<path class="c11" d="M841.5 437.8L840.7 440.0L839.8 440.1L842.3 434.6L842.6 434.6Z"/>
<path class="c12" d="M842.3 434.6L843.7 431.5L842.6 434.6Z"/>
<path class="c15" d="M816.7 490.3L807.3 414.4L808.8 419.7L808.8 419.7L824.2 474.0L820.2 482.6Z"/>
<path class="c16" d="M813.5 497.2L812.1 486.9L805.8 409.1L806.8 412.3L807.3 414.4L816.7 490.3Z"/>
<path class="c17" d="M804.3 403.7L805.8 409.1L812.1 486.9L809.6 469.7Z"/>
<path class="c18" d="M804.3 403.7L809.6 469.7L808.0 458.6L807.1 452.4L802.8 398.4Z"/>
<path class="c19" d="M802.8 398.4L807.1 452.4L804.7 435.2L801.3 393.1L802.1 395.9Z"/>
<path class="c20" d="M801.3 393.1L804.7 435.2L802.2 417.9L799.8 387.8Z"/>
<path class="c21" d="M799.8 387.8L802.2 417.9L799.8 400.6L798.3 382.4Z"/>
<path class="c22" d="M798.3 382.4L799.8 400.6L797.3 383.4L796.8 377.1L797.9 381.0Z"/>
<path class="c23" d="M796.0 374.3L796.8 377.1L797.3 383.4Z"/>
<path class="c12" d="M769.9 431.6L765.8 421.2L767.6 418.5Z"/>
<path class="c13" d="M776.2 447.7L769.9 431.6L767.6 418.5L770.3 414.3Z"/>
<path class="c14" d="M782.5 463.8L776.2 447.7L770.3 414.3L773.0 410.1Z"/>
<path class="c15" d="M782.5 463.8L773.0 410.1L775.7 405.9L804.0 487.3L783.3 465.8Z"/>
<path class="c16" d="M775.7 405.9L778.4 401.7L812.1 486.9L813.5 497.2L804.0 487.3Z"/>
<path class="c17" d="M778.4 401.7L781.1 397.5L809.6 469.7L812.1 486.9Z"/>
<path class="c18" d="M781.1 397.5L783.8 393.3L807.1 452.4L809.6 469.7Z"/>
<path class="c19" d="M783.8 393.3L786.5 389.1L804.7 435.2L807.1 452.4Z"/>
<path class="c20" d="M786.5 389.1L789.2 384.9L802.2 417.9L804.7 435.2Z"/>
<path class="c21" d="M789.2 384.9L791.9 380.7L799.8 400.6L802.2 417.9Z"/>
<path class="c22" d="M791.9 380.7L794.6 376.5L797.3 383.4L799.8 400.6Z"/>
<path class="c23" d="M794.6 376.5L796.0 374.3L797.3 383.4Z"/>
<path class="c0" d="M749.7 498.6L735.6 452.1L738.0 449.7ZM749.7 498.6L738.0 449.7L740.4 447.2L754.8 507.3L753.1 509.7Z"/>
<path class="c2" d="M740.4 447.2L742.9 444.7L756.9 504.2L754.8 507.3Z"/>
<path class="c3" d="M742.9 444.7L745.3 442.2L759.1 501.0L756.9 504.2Z"/>
<path class="c4" d="M745.3 442.2L747.8 439.7L761.3 497.8L759.1 501.0Z"/>
<path class="c5" d="M747.8 439.7L750.2 437.1L763.5 494.7L761.3 497.8Z"/>
<path class="c6" d="M750.2 437.1L752.7 434.6L765.6 491.5L763.5 494.7Z"/>
<path class="c7" d="M752.7 434.6L755.1 432.1L767.8 488.3L765.6 491.5Z"/>
<path class="c8" d="M755.1 432.1L757.6 429.6L770.0 485.2L767.8 488.3Z"/>
<path class="c9" d="M757.6 429.6L760.0 427.1L772.2 482.0L770.0 485.2Z"/>
<path class="c10" d="M760.0 427.1L762.5 424.6L774.3 478.8L772.2 482.0Z"/>
<path class="c11" d="M762.5 424.6L765.0 422.1L776.5 475.7L774.3 478.8Z"/>
<path class="c12" d="M765.0 422.1L765.8 421.2L769.9 431.6L778.7 472.5L776.5 475.7Z"/>
<path class="c13" d="M769.9 431.6L776.2 447.7L780.9 469.3L778.7 472.5Z"/>
<path class="c14" d="M776.2 447.7L782.5 463.8L783.0 466.2L780.9 469.3Z"/>
<path class="c15" d="M782.5 463.8L783.3 465.8L783.0 466.2Z"/>
<path class="c0" d="M705.4 558.5L735.6 452.1L749.7 498.6L742.6 523.0L722.9 547.9ZM749.7 498.6L753.1 509.7L742.6 523.0ZM675.2 608.2L705.4 558.5L722.9 547.9L692.7 589.0ZM645.0 652.2L675.2 608.2L692.7 589.0L662.5 675.0ZM614.8 735.3L645.0 652.2L662.5 675.0L632.3 746.5ZM584.6 802.5L614.8 735.3L632.3 746.5L602.1 806.5ZM563.7 819.5L554.4 818.9L584.6 802.5L602.1 806.5L578.0 817.2ZM563.7 819.5L578.0 817.2L571.9 820.0ZM524.6 842.8L524.2 842.6L554.4 818.9L563.7 819.5ZM526.5 843.7L524.6 842.8L563.7 819.5L571.9 820.0L568.9 823.1Z"/>
<path class="c2" d="M528.5 844.6L526.5 843.7L568.9 823.1L565.3 826.7Z"/>
<path class="c3" d="M530.5 845.6L528.5 844.6L565.3 826.7L561.8 830.3Z"/>
<path class="c4" d="M532.5 846.5L530.5 845.6L561.8 830.3L558.2 834.0Z"/>
<path class="c5" d="M534.4 847.5L532.5 846.5L558.2 834.0L554.7 837.6Z"/>
<path class="c6" d="M536.4 848.4L534.4 847.5L554.7 837.6L551.1 841.2Z"/>
<path class="c7" d="M538.4 849.3L536.4 848.4L551.1 841.2L547.6 844.9Z"/>
<path class="c8" d="M540.4 850.3L538.4 849.3L547.6 844.9L544.0 848.5Z"/>
<path class="c9" d="M540.4 850.3L544.0 848.5L541.7 850.9Z"/>
<path class="c0" d="M520.3 845.6L524.2 842.6L524.6 842.8ZM501.0 860.7L520.3 845.6L524.6 842.8L526.5 843.7Z"/>
<path class="c2" d="M495.6 866.1L494.0 866.2L501.0 860.7L526.5 843.7L528.5 844.6Z"/>
<path class="c3" d="M498.2 865.8L495.6 866.1L528.5 844.6L530.5 845.6Z"/>
<path class="c4" d="M500.8 865.5L498.2 865.8L530.5 845.6L532.5 846.5Z"/>
<path class="c5" d="M503.5 865.2L500.8 865.5L532.5 846.5L534.4 847.5Z"/>
<path class="c6" d="M506.1 865.0L503.5 865.2L534.4 847.5L536.4 848.4Z"/>
<path class="c7" d="M508.7 864.7L506.1 865.0L536.4 848.4L538.4 849.3Z"/>
<path class="c8" d="M511.3 864.4L508.7 864.7L538.4 849.3L540.4 850.3Z"/>
<path class="c9" d="M511.3 864.4L540.4 850.3L541.7 850.9L511.4 864.4Z"/>
<path class="c2" d="M476.1 878.4L484.7 868.2L494.0 866.2L495.6 866.1L483.9 879.3L481.2 880.8Z"/>
<path class="c3" d="M476.1 878.4L467.6 874.3L470.2 871.2L484.7 868.2L495.6 866.1L498.2 865.8L488.5 876.9L483.9 879.3Z"/>
<path class="c4" d="M467.6 874.3L463.8 872.5L470.2 871.2L498.2 865.8L500.8 865.5L493.0 874.4L488.5 876.9Z"/>
<path class="c5" d="M500.8 865.5L503.5 865.2L497.6 871.9L493.0 874.4Z"/>
<path class="c6" d="M503.5 865.2L506.1 865.0L502.1 869.5L497.6 871.9Z"/>
<path class="c7" d="M506.1 865.0L508.7 864.7L506.6 867.0L502.1 869.5Z"/>
<path class="c8" d="M508.7 864.7L511.3 864.4L511.2 864.6L506.6 867.0Z"/>
<path class="c9" d="M511.3 864.4L511.4 864.4L511.2 864.6Z"/>
<path class="c8" d="M1327.0 753.5L1357.2 748.7L1374.7 757.0L1344.5 761.8ZM1296.8 758.3L1327.0 753.5L1344.5 761.8L1314.3 766.6Z"/>
<path class="c7" d="M1274.8 766.9L1308.2 767.6L1284.1 771.3Z"/>
<path class="c8" d="M1274.8 766.9L1266.6 763.1L1296.8 758.3L1314.3 766.6L1308.2 767.6Z"/>
<path class="c6" d="M1248.5 773.4L1269.6 773.5L1253.9 775.9Z"/>
<path class="c7" d="M1248.5 773.4L1239.6 769.4L1274.8 766.9L1284.1 771.3L1269.6 773.5Z"/>
<path class="c8" d="M1239.6 769.4L1236.4 767.9L1266.6 763.1L1274.8 766.9Z"/>
<path class="c5" d="M1213.6 774.6L1244.6 776.3L1223.7 777.1Z"/>
<path class="c6" d="M1213.6 774.6L1206.2 772.7L1212.4 771.7L1248.5 773.4L1253.9 775.9L1244.6 776.3Z"/>
<path class="c7" d="M1212.4 771.7L1230.1 768.9L1239.6 769.4L1248.5 773.4Z"/>
<path class="c8" d="M1230.1 768.9L1236.4 767.9L1239.6 769.4Z"/>
<path class="c5" d="M1176.0 773.2L1186.1 773.0L1213.6 774.6L1223.7 777.1L1193.5 782.3Z"/>
<path class="c6" d="M1186.1 773.0L1206.2 772.7L1213.6 774.6Z"/>
<path class="c3" d="M1160.0 784.0L1169.3 784.6L1163.3 785.1Z"/>
<path class="c4" d="M1160.0 784.0L1152.2 781.4L1183.3 783.3L1169.3 784.6Z"/>
<path class="c5" d="M1152.2 781.4L1145.8 779.3L1176.0 773.2L1193.5 782.3L1183.3 783.3Z"/>
<path class="c3" d="M1160.0 784.0L1163.3 785.1L1160.2 785.4Z"/>
<path class="c4" d="M1152.2 781.4L1160.0 784.0L1160.2 785.4L1152.9 786.0Z"/>
<path class="c5" d="M1144.8 778.9L1145.8 779.3L1152.2 781.4L1152.9 786.0L1145.7 786.6Z"/>
<path class="c6" d="M1139.1 776.8L1144.8 778.9L1145.7 786.6L1138.4 787.2Z"/>
<path class="c7" d="M1131.7 786.1L1133.4 774.8L1139.1 776.8L1138.4 787.2L1133.1 787.6Z"/>
<path class="c8" d="M1131.7 786.1L1126.5 780.4L1127.7 772.7L1133.4 774.8Z"/>
<path class="c9" d="M1126.5 780.4L1121.4 774.7L1122.0 770.6L1127.7 772.7Z"/>
<path class="c10" d="M1121.4 774.7L1116.2 768.9L1116.3 768.5L1122.0 770.6Z"/>
<path class="c11" d="M1116.2 768.9L1115.6 768.3L1116.3 768.5Z"/>
<path class="c7" d="M1131.7 786.1L1133.1 787.6L1132.2 787.7Z"/>
<path class="c8" d="M1126.5 780.4L1131.7 786.1L1132.2 787.7L1128.8 788.1Z"/>
<path class="c9" d="M1121.4 774.7L1126.5 780.4L1128.8 788.1L1125.5 788.5Z"/>
<path class="c10" d="M1085.5 775.8L1085.4 775.7L1091.1 774.3L1116.2 768.9L1121.4 774.7L1125.5 788.5L1122.1 788.9Z"/>
<path class="c11" d="M1088.5 778.5L1085.5 775.8L1091.1 774.3L1115.6 768.3L1116.2 768.9L1122.1 788.9L1118.8 789.3Z"/>
<path class="c12" d="M1091.5 781.1L1088.5 778.5L1118.8 789.3L1115.4 789.7Z"/>
<path class="c13" d="M1094.5 783.8L1091.5 781.1L1115.4 789.7L1112.1 790.1Z"/>
<path class="c14" d="M1097.6 786.5L1094.5 783.8L1112.1 790.1L1108.7 790.5Z"/>
<path class="c15" d="M1100.6 789.2L1097.6 786.5L1108.7 790.5L1105.4 790.9Z"/>
<path class="c16" d="M1100.6 789.2L1105.4 790.9L1102.9 791.3Z"/>
<path class="c3" d="M1058.6 763.5L1055.2 761.9L1072.7 767.2L1073.2 767.6Z"/>
<path class="c4" d="M1062.4 765.2L1058.6 763.5L1073.2 767.6L1075.5 769.5Z"/>
<path class="c5" d="M1066.3 767.0L1062.4 765.2L1075.5 769.5L1077.8 771.3Z"/>
<path class="c6" d="M1070.1 768.7L1070.1 768.7L1068.3 767.9L1066.3 767.0L1077.8 771.3L1080.2 773.2Z"/>
<path class="c7" d="M1080.6 773.5L1073.9 770.5L1070.1 768.7L1080.2 773.2Z"/>
<path class="c9" d="M1087.1 778.7L1080.6 773.5L1081.6 774.0Z"/>
<path class="c10" d="M1089.5 780.6L1087.1 778.7L1081.6 774.0L1085.4 775.7L1085.5 775.8Z"/>
<path class="c11" d="M1091.8 782.4L1089.5 780.6L1085.5 775.8L1088.5 778.5Z"/>
<path class="c12" d="M1094.1 784.3L1091.8 782.4L1088.5 778.5L1088.5 778.5L1091.5 781.1Z"/>
<path class="c13" d="M1094.1 784.3L1091.5 781.1L1094.5 783.8L1096.5 786.1L1095.2 785.2Z"/>
<path class="c14" d="M1096.5 786.1L1094.5 783.8L1097.6 786.5L1098.8 788.0Z"/>
<path class="c15" d="M1098.8 788.0L1097.6 786.5L1100.3 789.0L1100.6 789.2L1101.1 789.9Z"/>
<path class="c16" d="M1100.6 789.2L1102.9 791.3L1101.1 789.9Z"/>
<path class="c3" d="M1031.8 735.6L1025.0 726.1L1035.3 738.3ZM1047.9 753.3L1072.7 767.2L1055.2 761.9Z"/>
<path class="c4" d="M1045.0 751.7L1041.4 748.8L1031.8 735.6L1035.3 738.3L1047.9 753.3Z"/>
<path class="c5" d="M1042.5 750.2L1041.4 748.8L1045.0 751.7Z"/>
<path class="c3" d="M1003.1 721.1L994.8 716.4L1025.0 726.1L1031.8 735.6Z"/>
<path class="c4" d="M1003.1 721.1L1031.8 735.6L1041.4 748.8L1030.6 740.8L1012.2 726.2Z"/>
<path class="c5" d="M1041.4 748.8L1042.5 750.2L1030.6 740.8Z"/>
<path class="c3" d="M982.0 673.0L992.7 691.7L1003.1 721.1L994.8 716.4L964.6 667.6Z"/>
<path class="c4" d="M992.7 691.7L1012.2 726.2L1003.1 721.1Z"/>
<path class="c3" d="M934.3 612.9L962.5 663.9L951.8 658.9ZM982.0 673.0L964.6 667.6L962.5 663.9ZM904.1 548.1L934.3 612.9L951.8 658.9L921.6 623.1ZM876.2 509.9L873.9 503.6L904.1 548.1L921.6 623.1L918.8 616.4Z"/>
<path class="c4" d="M878.7 516.8L876.2 509.9L918.8 616.4L914.3 606.0Z"/>
<path class="c5" d="M881.2 523.8L878.7 516.8L914.3 606.0L909.8 595.5Z"/>
<path class="c6" d="M883.7 530.8L881.2 523.8L909.8 595.5L905.3 585.0Z"/>
<path class="c7" d="M886.2 537.8L883.7 530.8L905.3 585.0L900.9 574.6Z"/>
<path class="c8" d="M888.7 544.8L886.2 537.8L900.9 574.6L896.4 564.1Z"/>
<path class="c9" d="M891.1 551.7L888.7 544.8L896.4 564.1L891.9 553.7Z"/>
<path class="c10" d="M891.1 551.7L891.9 553.7L891.4 552.5Z"/>
<path class="c3" d="M871.1 496.7L873.9 503.6L876.2 509.9Z"/>
<path class="c4" d="M867.9 489.1L871.1 496.7L876.2 509.9L878.7 516.8Z"/>
<path class="c5" d="M864.7 481.5L867.9 489.1L878.7 516.8L881.2 523.8Z"/>
<path class="c6" d="M861.5 473.9L864.7 481.5L881.2 523.8L883.7 530.8Z"/>
<path class="c7" d="M858.3 466.3L861.5 473.9L883.7 530.8L886.2 537.8Z"/>
<path class="c8" d="M855.1 458.6L858.3 466.3L886.2 537.8L888.7 544.8Z"/>
<path class="c9" d="M851.9 451.0L855.1 458.6L888.7 544.8L891.1 551.7Z"/>
<path class="c10" d="M848.7 443.4L851.9 451.0L891.1 551.7L891.4 552.5L885.1 544.7Z"/>
<path class="c11" d="M845.5 435.8L848.7 443.4L885.1 544.7L878.0 536.0Z"/>
<path class="c12" d="M847.9 451.7L843.7 431.5L845.5 435.8L878.0 536.0L870.9 527.2Z"/>
<path class="c13" d="M857.6 498.1L847.9 451.7L870.9 527.2L863.8 518.5Z"/>
<path class="c14" d="M857.6 498.1L863.8 518.5L861.2 515.2Z"/>
<path class="c12" d="M840.3 439.0L843.7 431.5L847.9 451.7Z"/>
<path class="c13" d="M832.4 456.1L840.3 439.0L847.9 451.7L857.6 498.1Z"/>
<path class="c14" d="M824.6 473.2L832.4 456.1L857.6 498.1L861.2 515.2L850.7 530.1Z"/>
<path class="c15" d="M816.7 490.3L824.6 473.2L850.7 530.1L834.0 553.6Z"/>
<path class="c16" d="M813.5 497.2L816.7 490.3L834.0 553.6L831.0 557.8Z"/>
<path class="c15" d="M786.9 479.0L783.3 465.8L804.0 487.3Z"/>
<path class="c16" d="M790.9 494.0L786.9 479.0L804.0 487.3L813.5 497.2L831.0 557.8L823.4 551.0Z"/>
<path class="c17" d="M794.9 509.0L790.9 494.0L823.4 551.0L814.2 542.7Z"/>
<path class="c18" d="M799.0 523.9L794.9 509.0L814.2 542.7L804.9 534.4Z"/>
<path class="c19" d="M799.0 523.9L804.9 534.4L800.8 530.7Z"/>
<path class="c0" d="M766.1 542.9L753.1 509.7L754.8 507.3Z"/>
<path class="c2" d="M766.1 542.9L754.8 507.3L756.9 504.2L771.9 553.3L770.6 554.3Z"/>
<path class="c3" d="M756.9 504.2L759.1 501.0L773.6 551.9L771.9 553.3Z"/>
<path class="c4" d="M759.1 501.0L761.3 497.8L775.4 550.6L773.6 551.9Z"/>
<path class="c5" d="M761.3 497.8L763.5 494.7L777.2 549.2L775.4 550.6Z"/>
<path class="c6" d="M763.5 494.7L765.6 491.5L778.9 547.8L777.2 549.2Z"/>
<path class="c7" d="M765.6 491.5L767.8 488.3L780.7 546.4L778.9 547.8Z"/>
<path class="c8" d="M767.8 488.3L770.0 485.2L782.4 545.0L780.7 546.4Z"/>
<path class="c9" d="M770.0 485.2L772.2 482.0L784.2 543.7L782.4 545.0Z"/>
<path class="c10" d="M772.2 482.0L774.3 478.8L786.0 542.3L784.2 543.7Z"/>
<path class="c11" d="M774.3 478.8L776.5 475.7L787.7 540.9L786.0 542.3Z"/>
<path class="c12" d="M776.5 475.7L778.7 472.5L789.5 539.5L787.7 540.9Z"/>
<path class="c13" d="M778.7 472.5L780.9 469.3L791.2 538.2L789.5 539.5Z"/>
<path class="c14" d="M780.9 469.3L783.0 466.2L793.0 536.8L791.2 538.2Z"/>
<path class="c15" d="M783.0 466.2L783.3 465.8L786.9 479.0L794.7 535.4L793.0 536.8Z"/>
<path class="c16" d="M786.9 479.0L790.9 494.0L796.5 534.0L794.7 535.4Z"/>
<path class="c17" d="M790.9 494.0L794.9 509.0L798.3 532.7L796.5 534.0Z"/>
<path class="c18" d="M794.9 509.0L799.0 523.9L800.0 531.3L798.3 532.7Z"/>
<path class="c19" d="M799.0 523.9L800.8 530.7L800.0 531.3Z"/>
<path class="c0" d="M733.8 595.5L722.9 547.9L742.6 523.0ZM733.8 595.5L742.6 523.0L753.1 509.7L766.1 542.9L762.6 572.8L740.4 624.4Z"/>
<path class="c2" d="M766.1 542.9L770.6 554.3L762.6 572.8Z"/>
<path class="c0" d="M708.4 670.7L692.7 589.0L722.9 547.9L733.8 595.5ZM708.4 670.7L733.8 595.5L740.4 624.4L710.2 680.0ZM667.5 693.2L662.5 675.0L692.7 589.0L708.4 670.7ZM673.5 715.0L667.5 693.2L708.4 670.7L710.2 680.0L696.2 707.1Z"/>
<path class="c2" d="M679.5 736.9L673.5 715.0L696.2 707.1L681.1 736.3Z"/>
<path class="c3" d="M679.5 736.9L681.1 736.3L680.0 738.4Z"/>
<path class="c0" d="M645.1 749.5L632.3 746.5L662.5 675.0L667.5 693.2ZM645.1 749.5L667.5 693.2L673.5 715.0L661.1 746.0L649.8 750.5Z"/>
<path class="c2" d="M673.5 715.0L679.5 736.9L678.7 739.0L661.1 746.0Z"/>
<path class="c3" d="M679.5 736.9L680.0 738.4L678.7 739.0Z"/>
<path class="c0" d="M602.1 806.5L632.3 746.5L645.1 749.5L639.6 768.2L619.6 803.2ZM645.1 749.5L649.8 750.5L639.6 768.2ZM578.0 817.2L602.1 806.5L619.6 803.2L594.6 839.5ZM571.9 820.0L578.0 817.2L594.6 839.5L589.4 847.1ZM568.9 823.1L571.9 820.0L589.4 847.1L587.4 848.7Z"/>
<path class="c2" d="M565.3 826.7L568.9 823.1L587.4 848.7L585.2 850.6Z"/>
<path class="c3" d="M561.8 830.3L565.3 826.7L585.2 850.6L582.9 852.5Z"/>
<path class="c4" d="M558.2 834.0L561.8 830.3L582.9 852.5L580.7 854.4Z"/>
<path class="c5" d="M554.7 837.6L558.2 834.0L580.7 854.4L578.4 856.2Z"/>
<path class="c6" d="M551.1 841.2L554.7 837.6L578.4 856.2L576.2 858.1Z"/>
<path class="c7" d="M547.6 844.9L551.1 841.2L576.2 858.1L573.9 860.0Z"/>
<path class="c8" d="M544.0 848.5L547.6 844.9L573.9 860.0L571.7 861.8Z"/>
<path class="c9" d="M542.9 852.4L541.7 850.9L544.0 848.5L571.7 861.8L569.4 863.7Z"/>
<path class="c10" d="M546.4 856.7L542.9 852.4L569.4 863.7L567.2 865.6Z"/>
<path class="c11" d="M550.0 861.1L546.4 856.7L567.2 865.6L564.9 867.4Z"/>
<path class="c12" d="M553.5 865.4L550.0 861.1L564.9 867.4L562.7 869.3Z"/>
<path class="c13" d="M557.1 869.8L553.5 865.4L562.7 869.3L560.4 871.2Z"/>
<path class="c14" d="M557.1 869.8L560.4 871.2L559.1 872.3Z"/>
<path class="c9" d="M513.9 866.4L511.4 864.4L541.7 850.9L542.9 852.4Z"/>
<path class="c10" d="M516.6 868.5L513.9 866.4L542.9 852.4L546.4 856.7Z"/>
<path class="c11" d="M519.2 870.7L516.6 868.5L546.4 856.7L550.0 861.1Z"/>
<path class="c12" d="M521.9 872.8L519.2 870.7L550.0 861.1L553.5 865.4Z"/>
<path class="c13" d="M524.5 874.9L521.9 872.8L553.5 865.4L557.1 869.8Z"/>
<path class="c14" d="M527.1 877.1L524.5 874.9L557.1 869.8L559.1 872.3L547.5 874.7Z"/>
<path class="c15" d="M527.1 877.1L547.5 874.7L528.9 878.5Z"/>
<path class="c2" d="M482.2 881.5L481.2 880.8L483.9 879.3Z"/>
<path class="c3" d="M483.9 882.5L482.2 881.5L483.9 879.3L488.5 876.9Z"/>
<path class="c4" d="M485.6 883.6L483.9 882.5L488.5 876.9L493.0 874.4Z"/>
<path class="c5" d="M487.2 884.7L485.6 883.6L493.0 874.4L497.6 871.9Z"/>
<path class="c6" d="M488.9 885.7L487.2 884.7L497.6 871.9L502.1 869.5Z"/>
<path class="c7" d="M490.6 886.8L488.9 885.7L502.1 869.5L506.6 867.0Z"/>
<path class="c8" d="M492.3 887.9L490.6 886.8L506.6 867.0L511.2 864.6Z"/>
<path class="c9" d="M493.9 888.9L492.3 887.9L511.2 864.6L511.4 864.4L513.9 866.4Z"/>
<path class="c10" d="M495.6 890.0L493.9 888.9L513.9 866.4L516.6 868.5Z"/>
<path class="c11" d="M497.3 891.1L495.6 890.0L516.6 868.5L519.2 870.7Z"/>
<path class="c12" d="M497.3 891.1L519.2 870.7L521.9 872.8L500.0 891.5L498.7 892.0Z"/>
<path class="c13" d="M521.9 872.8L524.5 874.9L510.8 886.6L500.0 891.5Z"/>
<path class="c14" d="M524.5 874.9L527.1 877.1L521.6 881.8L510.8 886.6Z"/>
<path class="c15" d="M527.1 877.1L528.9 878.5L521.6 881.8Z"/>
<path class="c8" d="M1344.5 761.8L1374.7 757.0L1392.2 765.3L1362.0 770.1Z"/>
<path class="c7" d="M1316.2 767.5L1359.2 770.5L1331.8 774.8Z"/>
<path class="c8" d="M1316.2 767.5L1314.3 766.6L1344.5 761.8L1362.0 770.1L1359.2 770.5Z"/>
<path class="c5" d="M1295.4 776.4L1314.9 777.2L1301.6 779.1Z"/>
<path class="c6" d="M1295.4 776.4L1288.2 773.1L1330.4 775.0L1314.9 777.2Z"/>
<path class="c7" d="M1288.2 773.1L1284.1 771.3L1308.2 767.6L1316.2 767.5L1331.8 774.8L1330.4 775.0Z"/>
<path class="c8" d="M1308.2 767.6L1314.3 766.6L1316.2 767.5Z"/>
<path class="c3" d="M1267.2 781.0L1283.4 781.2L1271.4 782.6Z"/>
<path class="c4" d="M1267.2 781.0L1261.6 778.9L1299.3 779.4L1283.4 781.2Z"/>
<path class="c5" d="M1261.6 778.9L1256.1 776.8L1295.4 776.4L1301.6 779.1L1299.3 779.4Z"/>
<path class="c6" d="M1256.1 776.8L1253.9 775.9L1269.6 773.5L1288.2 773.1L1295.4 776.4Z"/>
<path class="c7" d="M1269.6 773.5L1284.1 771.3L1288.2 773.1Z"/>
<path class="c3" d="M1233.7 781.4L1267.2 781.0L1271.4 782.6L1241.2 784.5Z"/>
<path class="c4" d="M1233.7 781.4L1224.8 777.6L1261.6 778.9L1267.2 781.0Z"/>
<path class="c5" d="M1224.8 777.6L1223.7 777.1L1244.6 776.3L1256.1 776.8L1261.6 778.9Z"/>
<path class="c6" d="M1244.6 776.3L1253.9 775.9L1256.1 776.8Z"/>
<path class="c3" d="M1204.7 787.2L1233.7 781.4L1241.2 784.5L1211.0 789.9Z"/>
<path class="c4" d="M1204.7 787.2L1198.2 784.4L1224.8 777.6L1233.7 781.4Z"/>
<path class="c5" d="M1198.2 784.4L1193.5 782.3L1223.7 777.1L1224.8 777.6Z"/>
<path class="c2" d="M1172.2 786.4L1208.7 789.8L1180.8 787.6Z"/>
<path class="c3" d="M1172.2 786.4L1163.3 785.1L1169.3 784.6L1204.7 787.2L1211.0 789.9L1208.7 789.8Z"/>
<path class="c4" d="M1169.3 784.6L1183.3 783.3L1198.2 784.4L1204.7 787.2Z"/>
<path class="c5" d="M1183.3 783.3L1193.5 782.3L1198.2 784.4Z"/>
<path class="c2" d="M1148.8 793.3L1172.2 786.4L1180.8 787.6L1150.6 793.9Z"/>
<path class="c3" d="M1148.8 793.3L1145.5 792.1L1160.2 785.4L1163.3 785.1L1172.2 786.4Z"/>
<path class="c4" d="M1145.5 792.1L1142.2 790.9L1152.9 786.0L1160.2 785.4Z"/>
<path class="c5" d="M1142.2 790.9L1138.8 789.7L1145.7 786.6L1152.9 786.0Z"/>
<path class="c6" d="M1138.8 789.7L1135.5 788.5L1138.4 787.2L1145.7 786.6Z"/>
<path class="c7" d="M1135.5 788.5L1133.1 787.6L1138.4 787.2Z"/>
<path class="c2" d="M1119.9 791.4L1148.8 793.3L1150.6 793.9L1120.4 791.4Z"/>
<path class="c3" d="M1119.9 791.4L1118.7 791.4L1145.5 792.1L1148.8 793.3Z"/>
<path class="c4" d="M1118.7 791.4L1117.4 791.4L1142.2 790.9L1145.5 792.1Z"/>
<path class="c5" d="M1117.4 791.4L1116.2 791.4L1138.8 789.7L1142.2 790.9Z"/>
<path class="c6" d="M1116.2 791.4L1114.9 791.4L1135.5 788.5L1138.8 789.7Z"/>
<path class="c7" d="M1114.9 791.4L1113.7 791.4L1132.2 787.7L1133.1 787.6L1135.5 788.5Z"/>
<path class="c8" d="M1113.7 791.4L1112.5 791.4L1128.8 788.1L1132.2 787.7Z"/>
<path class="c9" d="M1112.5 791.4L1111.2 791.3L1125.5 788.5L1128.8 788.1Z"/>
<path class="c10" d="M1111.2 791.3L1110.0 791.3L1122.1 788.9L1125.5 788.5Z"/>
<path class="c11" d="M1110.0 791.3L1108.8 791.3L1118.8 789.3L1122.1 788.9Z"/>
<path class="c12" d="M1108.8 791.3L1107.5 791.3L1115.4 789.7L1118.8 789.3Z"/>
<path class="c13" d="M1107.5 791.3L1106.3 791.3L1112.1 790.1L1115.4 789.7Z"/>
<path class="c14" d="M1106.3 791.3L1105.0 791.3L1108.7 790.5L1112.1 790.1Z"/>
<path class="c15" d="M1105.0 791.3L1103.8 791.3L1105.4 790.9L1108.7 790.5Z"/>
<path class="c16" d="M1103.8 791.3L1102.9 791.3L1105.4 790.9Z"/>
<path class="c2" d="M1119.9 791.4L1120.4 791.4L1107.4 792.8Z"/>
<path class="c3" d="M1072.7 767.2L1073.2 767.6L1118.7 791.4L1119.9 791.4L1107.4 792.8L1090.2 794.5Z"/>
<path class="c4" d="M1118.7 791.4L1117.4 791.4L1075.5 769.5L1073.2 767.6Z"/>
<path class="c5" d="M1117.4 791.4L1116.2 791.4L1077.8 771.3L1075.5 769.5Z"/>
<path class="c6" d="M1116.2 791.4L1114.9 791.4L1080.2 773.2L1077.8 771.3Z"/>
<path class="c7" d="M1114.9 791.4L1113.7 791.4L1082.5 775.0L1080.2 773.2Z"/>
<path class="c8" d="M1113.7 791.4L1112.5 791.4L1084.8 776.9L1082.5 775.0Z"/>
<path class="c9" d="M1112.5 791.4L1111.2 791.3L1087.1 778.7L1084.8 776.9Z"/>
<path class="c10" d="M1111.2 791.3L1110.0 791.3L1089.5 780.6L1087.1 778.7Z"/>
<path class="c11" d="M1110.0 791.3L1108.8 791.3L1091.8 782.4L1089.5 780.6Z"/>
<path class="c12" d="M1108.8 791.3L1107.5 791.3L1094.1 784.3L1091.8 782.4Z"/>
<path class="c13" d="M1107.5 791.3L1106.3 791.3L1096.5 786.1L1094.1 784.3Z"/>
<path class="c14" d="M1106.3 791.3L1105.0 791.3L1098.8 788.0L1096.5 786.1Z"/>
<path class="c15" d="M1105.0 791.3L1103.8 791.3L1101.1 789.9L1098.8 788.0Z"/>
<path class="c16" d="M1103.8 791.3L1102.9 791.3L1101.1 789.9Z"/>
<path class="c3" d="M1067.7 764.4L1072.7 767.2L1090.2 794.5L1089.4 793.8Z"/>
<path class="c4" d="M1045.0 751.7L1067.7 764.4L1089.4 793.8L1088.0 792.3Z"/>
<path class="c5" d="M1043.3 750.9L1042.5 750.2L1045.0 751.7L1088.0 792.3L1086.5 790.8Z"/>
<path class="c6" d="M1085.0 789.3L1086.5 790.8L1043.3 750.9L1044.2 751.6Z"/>
<path class="c7" d="M1083.5 787.8L1085.0 789.3L1044.2 751.6L1045.1 752.3Z"/>
<path class="c8" d="M1082.1 786.3L1083.5 787.8L1045.1 752.3L1046.0 753.1Z"/>
<path class="c9" d="M1080.6 784.8L1082.1 786.3L1046.0 753.1L1047.0 753.8Z"/>
<path class="c10" d="M1079.1 783.4L1080.6 784.8L1047.0 753.8L1047.9 754.5Z"/>
<path class="c11" d="M1077.7 781.9L1079.1 783.4L1047.9 754.5L1048.8 755.2Z"/>
<path class="c12" d="M1076.2 780.4L1077.7 781.9L1048.8 755.2L1049.7 755.9Z"/>
<path class="c13" d="M1074.7 778.9L1076.2 780.4L1049.7 755.9L1050.7 756.7Z"/>
<path class="c14" d="M1073.3 777.4L1074.7 778.9L1050.7 756.7L1051.6 757.4Z"/>
<path class="c15" d="M1071.8 775.9L1073.3 777.4L1051.6 757.4L1052.5 758.1Z"/>
<path class="c16" d="M1070.3 774.4L1071.8 775.9L1052.5 758.1L1053.4 758.8Z"/>
<path class="c17" d="M1068.8 772.9L1070.3 774.4L1053.4 758.8L1054.4 759.6Z"/>
<path class="c18" d="M1067.4 771.4L1068.8 772.9L1054.4 759.6L1055.3 760.3Z"/>
<path class="c19" d="M1065.9 770.0L1067.4 771.4L1055.3 760.3L1056.2 761.0Z"/>
<path class="c20" d="M1064.4 768.5L1065.9 770.0L1056.2 761.0L1057.1 761.7Z"/>
<path class="c21" d="M1063.0 767.0L1064.4 768.5L1057.1 761.7L1058.1 762.4Z"/>
<path class="c22" d="M1061.5 765.5L1063.0 767.0L1058.1 762.4L1059.0 763.2Z"/>
<path class="c23" d="M1060.0 764.0L1061.5 765.5L1059.0 763.2L1059.9 763.9Z"/>
<path class="c24" d="M1060.0 763.9L1060.0 764.0L1059.9 763.9Z"/>
<path class="c4" d="M1012.4 726.6L1012.2 726.2L1030.6 740.8Z"/>
<path class="c5" d="M1013.3 729.1L1012.4 726.6L1030.6 740.8L1042.5 750.2L1043.3 750.9Z"/>
<path class="c6" d="M1014.3 731.6L1013.3 729.1L1043.3 750.9L1044.2 751.6Z"/>
<path class="c7" d="M1015.2 734.1L1014.3 731.6L1044.2 751.6L1045.1 752.3Z"/>
<path class="c8" d="M1016.1 736.6L1015.2 734.1L1045.1 752.3L1046.0 753.1Z"/>
<path class="c9" d="M1017.1 739.1L1016.1 736.6L1046.0 753.1L1047.0 753.8Z"/>
<path class="c10" d="M1018.0 741.6L1017.1 739.1L1047.0 753.8L1047.9 754.5Z"/>
<path class="c11" d="M1018.9 744.1L1018.0 741.6L1047.9 754.5L1048.8 755.2Z"/>
<path class="c12" d="M1019.8 746.6L1018.9 744.1L1048.8 755.2L1049.7 755.9Z"/>
<path class="c13" d="M1020.8 749.1L1019.8 746.6L1049.7 755.9L1050.7 756.7Z"/>
<path class="c14" d="M1021.7 751.6L1020.8 749.1L1050.7 756.7L1051.6 757.4Z"/>
<path class="c15" d="M1022.6 754.1L1021.7 751.6L1051.6 757.4L1052.5 758.1Z"/>
<path class="c16" d="M1023.6 756.6L1022.6 754.1L1052.5 758.1L1053.4 758.8Z"/>
<path class="c17" d="M1024.5 759.1L1023.6 756.6L1053.4 758.8L1054.4 759.6Z"/>
<path class="c18" d="M1025.4 761.6L1024.5 759.1L1054.4 759.6L1055.3 760.3Z"/>
<path class="c19" d="M1026.3 764.1L1025.4 761.6L1055.3 760.3L1056.2 761.0Z"/>
<path class="c20" d="M1027.3 766.6L1026.3 764.1L1056.2 761.0L1057.1 761.7Z"/>
<path class="c21" d="M1028.2 769.1L1027.3 766.6L1057.1 761.7L1058.1 762.4Z"/>
<path class="c22" d="M1029.1 771.6L1028.2 769.1L1058.1 762.4L1059.0 763.2Z"/>
<path class="c23" d="M1029.1 771.6L1059.0 763.2L1059.9 763.9L1055.9 765.2L1029.7 773.2Z"/>
<path class="c24" d="M1059.9 763.9L1060.0 763.9L1055.9 765.2Z"/>
<path class="c3" d="M982.0 673.0L992.7 691.7L1000.1 738.5L999.5 737.9Z"/>
<path class="c4" d="M992.7 691.7L1012.2 726.2L1012.4 726.6L1001.6 740.3L1000.1 738.5Z"/>
<path class="c5" d="M1012.4 726.6L1013.3 729.1L1003.1 742.0L1001.6 740.3Z"/>
<path class="c6" d="M1013.3 729.1L1014.3 731.6L1004.6 743.8L1003.1 742.0Z"/>
<path class="c7" d="M1014.3 731.6L1015.2 734.1L1006.1 745.6L1004.6 743.8Z"/>
<path class="c8" d="M1015.2 734.1L1016.1 736.6L1007.6 747.3L1006.1 745.6Z"/>
<path class="c9" d="M1016.1 736.6L1017.1 739.1L1009.1 749.1L1007.6 747.3Z"/>
<path class="c10" d="M1017.1 739.1L1018.0 741.6L1010.6 750.9L1009.1 749.1Z"/>
<path class="c11" d="M1018.0 741.6L1018.9 744.1L1012.2 752.6L1010.6 750.9Z"/>
<path class="c12" d="M1018.9 744.1L1019.8 746.6L1013.7 754.4L1012.2 752.6Z"/>
<path class="c13" d="M1019.8 746.6L1020.8 749.1L1015.2 756.2L1013.7 754.4Z"/>
<path class="c14" d="M1020.8 749.1L1021.7 751.6L1016.7 757.9L1015.2 756.2Z"/>
<path class="c15" d="M1021.7 751.6L1022.6 754.1L1018.2 759.7L1016.7 757.9Z"/>
<path class="c16" d="M1022.6 754.1L1023.6 756.6L1019.7 761.5L1018.2 759.7Z"/>
<path class="c17" d="M1023.6 756.6L1024.5 759.1L1021.2 763.2L1019.7 761.5Z"/>
<path class="c18" d="M1024.5 759.1L1025.4 761.6L1022.7 765.0L1021.2 763.2Z"/>
<path class="c19" d="M1025.4 761.6L1026.3 764.1L1024.2 766.8L1022.7 765.0Z"/>
<path class="c20" d="M1026.3 764.1L1027.3 766.6L1025.7 768.5L1024.2 766.8Z"/>
<path class="c21" d="M1027.3 766.6L1028.2 769.1L1027.2 770.3L1025.7 768.5Z"/>
<path class="c22" d="M1028.2 769.1L1029.1 771.6L1028.7 772.0L1027.2 770.3Z"/>
<path class="c23" d="M1029.1 771.6L1029.7 773.2L1028.7 772.0Z"/>
<path class="c3" d="M961.9 683.8L951.8 658.9L982.0 673.0L999.5 737.9L983.3 718.6Z"/>
<path class="c4" d="M961.9 683.8L983.3 718.6L969.3 702.1Z"/>
<path class="c3" d="M921.6 623.1L951.8 658.9L961.9 683.8L957.8 686.8L939.1 661.9Z"/>
<path class="c4" d="M961.9 683.8L969.3 702.1L957.8 686.8Z"/>
<path class="c3" d="M918.8 616.4L921.6 623.1L939.1 661.9L937.7 659.5Z"/>
<path class="c4" d="M914.3 606.0L918.8 616.4L937.7 659.5L935.1 655.0Z"/>
<path class="c5" d="M909.8 595.5L914.3 606.0L935.1 655.0L932.4 650.4Z"/>
<path class="c6" d="M905.3 585.0L909.8 595.5L932.4 650.4L929.8 645.8Z"/>
<path class="c7" d="M900.9 574.6L905.3 585.0L929.8 645.8L927.1 641.3Z"/>
<path class="c8" d="M896.4 564.1L900.9 574.6L927.1 641.3L924.4 636.7Z"/>
<path class="c9" d="M891.9 553.7L896.4 564.1L924.4 636.7L921.8 632.2Z"/>
<path class="c10" d="M894.7 563.3L891.4 552.5L891.9 553.7L921.8 632.2L919.1 627.6Z"/>
<path class="c11" d="M898.4 575.5L894.7 563.3L919.1 627.6L916.5 623.1Z"/>
<path class="c12" d="M902.1 587.7L898.4 575.5L916.5 623.1L913.8 618.5Z"/>
<path class="c13" d="M905.8 599.9L902.1 587.7L913.8 618.5L911.1 613.9Z"/>
<path class="c14" d="M905.8 599.9L911.1 613.9L908.9 610.1Z"/>
<path class="c10" d="M885.1 544.7L891.4 552.5L894.7 563.3Z"/>
<path class="c11" d="M878.0 536.0L885.1 544.7L894.7 563.3L898.4 575.5Z"/>
<path class="c12" d="M870.9 527.2L878.0 536.0L898.4 575.5L902.1 587.7Z"/>
<path class="c13" d="M863.8 518.5L870.9 527.2L902.1 587.7L905.8 599.9Z"/>
<path class="c14" d="M867.7 561.6L861.2 515.2L863.8 518.5L905.8 599.9L908.9 610.1L905.0 614.2Z"/>
<path class="c15" d="M877.9 635.2L867.7 561.6L905.0 614.2L880.6 639.1Z"/>
<path class="c16" d="M877.9 635.2L880.6 639.1L878.7 641.0Z"/>
<path class="c14" d="M850.7 530.1L861.2 515.2L867.7 561.6Z"/>
<path class="c15" d="M842.0 578.4L834.0 553.6L850.7 530.1L867.7 561.6L877.9 635.2L865.8 619.6L848.5 590.7Z"/>
<path class="c16" d="M842.0 578.4L831.0 557.8L834.0 553.6L877.9 635.2L878.7 641.0L865.8 619.6Z"/>
<path class="c15" d="M842.0 578.4L848.5 590.7L845.2 588.7Z"/>
<path class="c16" d="M817.3 570.0L823.4 551.0L831.0 557.8L842.0 578.4L845.2 588.7L818.3 572.3Z"/>
<path class="c17" d="M817.3 570.0L810.6 553.9L814.2 542.7L823.4 551.0Z"/>
<path class="c18" d="M810.6 553.9L803.8 537.9L804.9 534.4L814.2 542.7Z"/>
<path class="c19" d="M803.8 537.9L800.8 530.7L804.9 534.4Z"/>
<path class="c2" d="M770.6 554.3L771.9 553.3L788.1 619.2L788.1 619.2Z"/>
<path class="c3" d="M771.9 553.3L773.6 551.9L790.3 615.8L788.1 619.2Z"/>
<path class="c4" d="M773.6 551.9L775.4 550.6L792.5 612.4L790.3 615.8Z"/>
<path class="c5" d="M775.4 550.6L777.2 549.2L794.6 609.1L792.5 612.4Z"/>
<path class="c6" d="M777.2 549.2L778.9 547.8L796.8 605.7L794.6 609.1Z"/>
<path class="c7" d="M778.9 547.8L780.7 546.4L799.0 602.3L796.8 605.7Z"/>
<path class="c8" d="M780.7 546.4L782.4 545.0L801.2 598.9L799.0 602.3Z"/>
<path class="c9" d="M782.4 545.0L784.2 543.7L803.4 595.5L801.2 598.9Z"/>
<path class="c10" d="M784.2 543.7L786.0 542.3L805.5 592.1L803.4 595.5Z"/>
<path class="c11" d="M786.0 542.3L787.7 540.9L807.7 588.8L805.5 592.1Z"/>
<path class="c12" d="M787.7 540.9L789.5 539.5L809.9 585.4L807.7 588.8Z"/>
<path class="c13" d="M789.5 539.5L791.2 538.2L812.1 582.0L809.9 585.4Z"/>
<path class="c14" d="M791.2 538.2L793.0 536.8L814.3 578.6L812.1 582.0Z"/>
<path class="c15" d="M793.0 536.8L794.7 535.4L816.4 575.2L814.3 578.6Z"/>
<path class="c16" d="M794.7 535.4L796.5 534.0L817.3 570.0L818.3 572.3L816.4 575.2Z"/>
<path class="c17" d="M796.5 534.0L798.3 532.7L810.6 553.9L817.3 570.0Z"/>
<path class="c18" d="M798.3 532.7L800.0 531.3L803.8 537.9L810.6 553.9Z"/>
<path class="c19" d="M800.0 531.3L800.8 530.7L803.8 537.9Z"/>
<path class="c0" d="M745.0 639.7L740.4 624.4L762.6 572.8Z"/>
<path class="c2" d="M751.3 660.4L745.0 639.7L762.6 572.8L770.6 554.3L788.1 619.2L788.1 619.3Z"/>
<path class="c3" d="M757.6 681.1L751.3 660.4L788.1 619.3L759.2 679.2Z"/>
<path class="c4" d="M757.6 681.1L759.2 679.2L757.9 682.0Z"/>
<path class="c0" d="M725.8 692.6L710.2 680.0L740.4 624.4L745.0 639.7Z"/>
<path class="c2" d="M725.8 692.6L745.0 639.7L751.3 660.4L741.5 688.6L727.7 694.1Z"/>
<path class="c3" d="M751.3 660.4L757.6 681.1L757.2 682.3L741.5 688.6Z"/>
<path class="c4" d="M757.6 681.1L757.9 682.0L757.2 682.3Z"/>
<path class="c0" d="M696.2 707.1L710.2 680.0L725.8 692.6Z"/>
<path class="c2" d="M681.1 736.3L696.2 707.1L725.8 692.6L727.7 694.1L721.3 708.5Z"/>
<path class="c3" d="M684.9 745.3L680.0 738.4L681.1 736.3L721.3 708.5L714.2 724.7Z"/>
<path class="c4" d="M690.3 752.8L684.9 745.3L714.2 724.7L707.1 740.9Z"/>
<path class="c5" d="M695.6 760.2L690.3 752.8L707.1 740.9L699.9 757.2Z"/>
<path class="c6" d="M695.6 760.2L699.9 757.2L697.5 762.7Z"/>
<path class="c0" d="M651.3 753.4L649.8 750.5L661.1 746.0Z"/>
<path class="c2" d="M653.7 758.0L651.3 753.4L661.1 746.0L678.7 739.0Z"/>
<path class="c3" d="M656.2 762.6L653.7 758.0L678.7 739.0L680.0 738.4L684.9 745.3Z"/>
<path class="c4" d="M658.6 767.1L656.2 762.6L684.9 745.3L690.3 752.8Z"/>
<path class="c5" d="M661.0 771.7L658.6 767.1L690.3 752.8L695.6 760.2Z"/>
<path class="c6" d="M663.4 776.3L661.0 771.7L695.6 760.2L697.5 762.7L688.6 768.8Z"/>
<path class="c7" d="M665.9 780.8L663.4 776.3L688.6 768.8L675.1 778.1Z"/>
<path class="c8" d="M665.9 780.8L675.1 778.1L667.3 783.5Z"/>
<path class="c0" d="M619.6 803.2L639.6 768.2L637.1 828.8L637.1 828.9ZM639.6 768.2L649.8 750.5L651.3 753.4L641.1 822.8L637.1 828.8Z"/>
<path class="c2" d="M651.3 753.4L653.7 758.0L645.1 816.8L641.1 822.8Z"/>
<path class="c3" d="M653.7 758.0L656.2 762.6L649.1 810.8L645.1 816.8Z"/>
<path class="c4" d="M656.2 762.6L658.6 767.1L653.0 804.9L649.1 810.8Z"/>
<path class="c5" d="M658.6 767.1L661.0 771.7L657.0 798.9L653.0 804.9Z"/>
<path class="c6" d="M661.0 771.7L663.4 776.3L661.0 792.9L657.0 798.9Z"/>
<path class="c7" d="M663.4 776.3L665.9 780.8L665.0 786.9L661.0 792.9Z"/>
<path class="c8" d="M665.9 780.8L667.3 783.5L665.0 786.9Z"/>
<path class="c0" d="M594.6 839.5L619.6 803.2L637.1 828.9L634.0 832.2ZM589.4 847.1L594.6 839.5L634.0 832.2L606.9 861.3ZM587.4 848.7L589.4 847.1L606.9 861.3L595.6 867.4Z"/>
<path class="c2" d="M585.2 850.6L587.4 848.7L595.6 867.4L582.2 874.7Z"/>
<path class="c3" d="M575.7 877.4L582.9 852.5L585.2 850.6L582.2 874.7L576.6 877.7Z"/>
<path class="c4" d="M575.7 877.4L574.2 876.9L580.7 854.4L582.9 852.5Z"/>
<path class="c5" d="M574.2 876.9L572.6 876.4L578.4 856.2L580.7 854.4Z"/>
<path class="c6" d="M572.6 876.4L571.0 875.9L576.2 858.1L578.4 856.2Z"/>
<path class="c7" d="M571.0 875.9L569.5 875.5L573.9 860.0L576.2 858.1Z"/>
<path class="c8" d="M569.5 875.5L567.9 875.0L571.7 861.8L573.9 860.0Z"/>
<path class="c9" d="M567.9 875.0L566.3 874.5L569.4 863.7L571.7 861.8Z"/>
<path class="c10" d="M566.3 874.5L564.8 874.0L567.2 865.6L569.4 863.7Z"/>
<path class="c11" d="M564.8 874.0L563.2 873.5L564.9 867.4L567.2 865.6Z"/>
<path class="c12" d="M563.2 873.5L561.6 873.0L562.7 869.3L564.9 867.4Z"/>
<path class="c13" d="M561.6 873.0L560.1 872.5L560.4 871.2L562.7 869.3Z"/>
<path class="c14" d="M560.1 872.5L559.1 872.3L560.4 871.2Z"/>
<path class="c3" d="M575.7 877.4L576.6 877.7L572.1 880.2Z"/>
<path class="c4" d="M574.2 876.9L575.7 877.4L572.1 880.2L564.2 884.4Z"/>
<path class="c5" d="M572.6 876.4L574.2 876.9L564.2 884.4L556.4 888.7Z"/>
<path class="c6" d="M571.0 875.9L572.6 876.4L556.4 888.7L548.6 892.9Z"/>
<path class="c7" d="M544.9 892.7L569.5 875.5L571.0 875.9L548.6 892.9L546.4 894.1Z"/>
<path class="c8" d="M544.9 892.7L542.8 890.9L567.9 875.0L569.5 875.5Z"/>
<path class="c9" d="M542.8 890.9L540.8 889.0L566.3 874.5L567.9 875.0Z"/>
<path class="c10" d="M540.8 889.0L538.7 887.2L564.8 874.0L566.3 874.5Z"/>
<path class="c11" d="M538.7 887.2L536.6 885.3L563.2 873.5L564.8 874.0Z"/>
<path class="c12" d="M536.6 885.3L534.5 883.5L561.6 873.0L563.2 873.5Z"/>
<path class="c13" d="M534.5 883.5L532.4 881.6L560.1 872.5L561.6 873.0Z"/>
<path class="c14" d="M532.4 881.6L530.4 879.8L547.5 874.7L559.1 872.3L560.1 872.5Z"/>
<path class="c15" d="M530.4 879.8L528.9 878.5L547.5 874.7Z"/>
<path class="c7" d="M513.8 896.7L544.9 892.7L546.4 894.1L516.2 897.4Z"/>
<path class="c8" d="M513.8 896.7L510.7 895.7L542.8 890.9L544.9 892.7Z"/>
<path class="c9" d="M510.7 895.7L507.6 894.8L540.8 889.0L542.8 890.9Z"/>
<path class="c10" d="M507.6 894.8L504.6 893.8L538.7 887.2L540.8 889.0Z"/>
<path class="c11" d="M504.6 893.8L501.5 892.9L536.6 885.3L538.7 887.2Z"/>
<path class="c12" d="M501.5 892.9L498.7 892.0L500.0 891.5L534.5 883.5L536.6 885.3Z"/>
<path class="c13" d="M500.0 891.5L510.8 886.6L532.4 881.6L534.5 883.5Z"/>
<path class="c14" d="M510.8 886.6L521.6 881.8L530.4 879.8L532.4 881.6Z"/>
<path class="c15" d="M521.6 881.8L528.9 878.5L530.4 879.8Z"/>
<path class="c7" d="M1364.9 771.5L1407.9 773.9L1379.5 778.4Z"/>
<path class="c8" d="M1364.9 771.5L1362.0 770.1L1392.2 765.3L1409.7 773.6L1407.9 773.9Z"/>
<path class="c4" d="M1344.5 779.8L1356.5 781.0L1349.3 781.8Z"/>
<path class="c5" d="M1344.5 779.8L1338.4 777.4L1365.6 780.0L1356.5 781.0Z"/>
<path class="c6" d="M1338.4 777.4L1332.4 775.0L1374.7 779.0L1365.6 780.0Z"/>
<path class="c7" d="M1332.4 775.0L1331.8 774.8L1359.2 770.5L1364.9 771.5L1379.5 778.4L1374.7 779.0Z"/>
<path class="c8" d="M1359.2 770.5L1362.0 770.1L1364.9 771.5Z"/>
<path class="c3" d="M1311.5 781.7L1343.6 782.1L1319.1 783.7Z"/>
<path class="c4" d="M1311.5 781.7L1302.9 779.5L1344.5 779.8L1349.3 781.8L1343.6 782.1Z"/>
<path class="c5" d="M1302.9 779.5L1301.6 779.1L1314.9 777.2L1338.4 777.4L1344.5 779.8Z"/>
<path class="c6" d="M1314.9 777.2L1330.4 775.0L1332.4 775.0L1338.4 777.4Z"/>
<path class="c7" d="M1330.4 775.0L1331.8 774.8L1332.4 775.0Z"/>
<path class="c2" d="M1276.2 782.8L1314.3 783.6L1288.9 783.1Z"/>
<path class="c3" d="M1276.2 782.8L1271.4 782.6L1283.4 781.2L1311.5 781.7L1319.1 783.7L1314.3 783.6Z"/>
<path class="c4" d="M1283.4 781.2L1299.3 779.4L1302.9 779.5L1311.5 781.7Z"/>
<path class="c5" d="M1299.3 779.4L1301.6 779.1L1302.9 779.5Z"/>
<path class="c0" d="M1254.3 784.6L1274.6 783.8L1258.7 784.6Z"/>
<path class="c2" d="M1254.3 784.6L1243.1 784.6L1276.2 782.8L1288.9 783.1L1274.6 783.8Z"/>
<path class="c3" d="M1243.1 784.6L1241.2 784.5L1271.4 782.6L1276.2 782.8Z"/>
<path class="c0" d="M1228.5 775.0L1242.4 779.4L1224.9 778.1ZM1242.4 779.4L1258.7 784.6L1254.3 784.6L1218.1 783.9L1224.9 778.1Z"/>
<path class="c2" d="M1254.3 784.6L1243.1 784.6L1211.3 789.7L1218.1 783.9Z"/>
<path class="c3" d="M1211.3 789.7L1211.0 789.9L1241.2 784.5L1243.1 784.6Z"/>
<path class="c0" d="M1198.3 775.3L1228.5 775.0L1224.9 778.1L1191.1 780.4ZM1224.9 778.1L1218.1 783.9L1183.9 785.4L1191.1 780.4Z"/>
<path class="c2" d="M1218.1 783.9L1211.3 789.7L1208.7 789.8L1180.8 787.6L1183.9 785.4Z"/>
<path class="c3" d="M1211.3 789.7L1211.0 789.9L1208.7 789.8Z"/>
<path class="c0" d="M1168.1 786.1L1198.3 775.3L1191.1 780.4L1162.4 788.6ZM1191.1 780.4L1183.9 785.4L1154.4 792.2L1162.4 788.6Z"/>
<path class="c2" d="M1183.9 785.4L1180.8 787.6L1150.6 793.9L1154.4 792.2Z"/>
<path class="c0" d="M1145.0 791.1L1168.1 786.1L1162.4 788.6ZM1137.9 792.7L1145.0 791.1L1162.4 788.6L1154.4 792.2L1128.1 792.0Z"/>
<path class="c2" d="M1154.4 792.2L1150.6 793.9L1120.4 791.4L1128.1 792.0Z"/>
<path class="c0" d="M1137.9 792.7L1125.6 792.3L1128.1 792.0Z"/>
<path class="c2" d="M1128.1 792.0L1125.6 792.3L1114.9 792.0L1120.4 791.4ZM1107.4 792.8L1109.9 791.9L1114.9 792.0Z"/>
<path class="c3" d="M1090.2 794.5L1107.6 791.8L1109.9 791.9L1107.4 792.8ZM1090.2 794.5L1089.4 793.8L1104.8 792.0L1107.6 791.8Z"/>
<path class="c4" d="M1104.8 792.0L1089.4 793.8L1088.9 793.3L1101.6 792.3Z"/>
<path class="c8" d="M1088.5 793.3L1082.1 786.3L1083.5 787.8L1088.9 793.3Z"/>
<path class="c9" d="M1085.2 793.5L1080.6 784.8L1081.7 785.9L1082.1 786.3L1082.1 786.3L1088.5 793.3Z"/>
<path class="c10" d="M1085.2 793.5L1082.0 793.8L1079.1 783.4L1080.6 784.8Z"/>
<path class="c11" d="M1078.7 794.0L1077.7 781.9L1079.1 783.4L1082.0 793.8L1080.0 793.9Z"/>
<path class="c12" d="M1077.4 794.1L1076.5 792.6L1076.2 780.4L1077.7 781.9L1078.7 794.0Z"/>
<path class="c13" d="M1076.2 780.4L1076.5 792.6L1075.0 790.0L1074.7 778.9Z"/>
<path class="c14" d="M1073.3 777.4L1074.7 778.9L1075.0 790.0L1073.5 787.4Z"/>
<path class="c15" d="M1073.3 777.4L1073.5 787.4L1072.0 784.8L1071.8 775.9L1073.2 777.3Z"/>
<path class="c16" d="M1071.8 775.9L1072.0 784.8L1070.5 782.2L1070.3 774.4L1070.4 774.5Z"/>
<path class="c17" d="M1070.3 774.4L1070.5 782.2L1069.3 780.1L1069.0 779.6L1068.8 772.9Z"/>
<path class="c18" d="M1068.8 772.9L1069.0 779.6L1067.5 777.0L1067.4 771.4Z"/>
<path class="c19" d="M1067.4 771.4L1067.5 777.0L1066.0 774.4L1065.9 770.0Z"/>
<path class="c20" d="M1065.9 770.0L1066.0 774.4L1064.5 771.8L1064.4 768.5L1064.7 768.7Z"/>
<path class="c21" d="M1064.4 768.5L1064.5 771.8L1063.6 770.3L1063.0 769.2L1063.0 767.0Z"/>
<path class="c22" d="M1063.0 767.0L1063.0 769.2L1061.5 766.6L1061.5 765.5L1061.9 765.9Z"/>
<path class="c23" d="M1061.5 765.5L1061.5 766.6L1060.0 764.1L1060.0 764.0Z"/>
<path class="c12" d="M1076.5 792.6L1077.4 794.1L1075.5 794.2Z"/>
<path class="c13" d="M1075.0 790.0L1076.5 792.6L1075.5 794.2L1072.3 794.4Z"/>
<path class="c14" d="M1073.5 787.4L1075.0 790.0L1072.3 794.4L1069.2 794.5Z"/>
<path class="c15" d="M1072.0 784.8L1073.5 787.4L1069.2 794.5L1066.0 794.7Z"/>
<path class="c16" d="M1070.5 782.2L1072.0 784.8L1066.0 794.7L1062.8 794.9Z"/>
<path class="c17" d="M1069.0 779.6L1070.5 782.2L1062.8 794.9L1059.7 795.0Z"/>
<path class="c18" d="M1067.5 777.0L1069.0 779.6L1059.7 795.0L1056.5 795.2Z"/>
<path class="c19" d="M1066.0 774.4L1067.5 777.0L1056.5 795.2L1053.3 795.3Z"/>
<path class="c20" d="M1064.5 771.8L1066.0 774.4L1053.3 795.3L1050.2 795.5Z"/>
<path class="c21" d="M1046.5 794.7L1063.0 769.2L1064.5 771.8L1050.2 795.5L1047.2 795.6Z"/>
<path class="c22" d="M1046.5 794.7L1036.5 781.9L1061.5 766.6L1063.0 769.2Z"/>
<path class="c23" d="M1036.5 781.9L1029.7 773.2L1055.9 765.2L1060.0 764.1L1061.5 766.6Z"/>
<path class="c24" d="M1055.9 765.2L1060.0 763.9L1060.0 764.1Z"/>
<path class="c3" d="M999.5 737.9L1000.1 738.5L1017.6 762.6L1017.0 762.0Z"/>
<path class="c4" d="M1000.1 738.5L1001.6 740.3L1019.2 764.4L1017.6 762.6Z"/>
<path class="c5" d="M1001.6 740.3L1003.1 742.0L1020.9 766.3L1019.2 764.4Z"/>
<path class="c6" d="M1003.1 742.0L1004.6 743.8L1022.5 768.1L1020.9 766.3Z"/>
<path class="c7" d="M1004.6 743.8L1006.1 745.6L1024.2 769.9L1022.5 768.1Z"/>
<path class="c8" d="M1006.1 745.6L1007.6 747.3L1025.8 771.8L1024.2 769.9Z"/>
<path class="c9" d="M1007.6 747.3L1009.1 749.1L1027.5 773.6L1025.8 771.8Z"/>
<path class="c10" d="M1009.1 749.1L1010.6 750.9L1029.1 775.5L1027.5 773.6Z"/>
<path class="c11" d="M1010.6 750.9L1012.2 752.6L1030.8 777.3L1029.1 775.5Z"/>
<path class="c12" d="M1012.2 752.6L1013.7 754.4L1032.5 779.2L1030.8 777.3Z"/>
<path class="c13" d="M1013.7 754.4L1015.2 756.2L1034.1 781.0L1032.5 779.2Z"/>
<path class="c14" d="M1015.2 756.2L1016.7 757.9L1035.8 782.8L1034.1 781.0Z"/>
<path class="c15" d="M1016.7 757.9L1018.2 759.7L1037.4 784.7L1035.8 782.8Z"/>
<path class="c16" d="M1018.2 759.7L1019.7 761.5L1039.1 786.5L1037.4 784.7Z"/>
<path class="c17" d="M1019.7 761.5L1021.2 763.2L1040.7 788.4L1039.1 786.5Z"/>
<path class="c18" d="M1021.2 763.2L1022.7 765.0L1042.4 790.2L1040.7 788.4Z"/>
<path class="c19" d="M1022.7 765.0L1024.2 766.8L1044.0 792.1L1042.4 790.2Z"/>
<path class="c20" d="M1024.2 766.8L1025.7 768.5L1045.7 793.9L1044.0 792.1Z"/>
<path class="c21" d="M1025.7 768.5L1027.2 770.3L1046.5 794.7L1047.2 795.6L1045.7 793.9Z"/>
<path class="c22" d="M1027.2 770.3L1028.7 772.0L1036.5 781.9L1046.5 794.7Z"/>
<path class="c23" d="M1028.7 772.0L1029.7 773.2L1036.5 781.9Z"/>
<path class="c3" d="M979.1 722.8L983.3 718.6L999.5 737.9L1017.0 762.0L986.8 739.4Z"/>
<path class="c4" d="M979.1 722.8L969.3 702.1L983.3 718.6Z"/>
<path class="c3" d="M948.2 689.6L939.1 661.9L957.8 686.8L979.1 722.8L986.8 739.4L976.4 731.0Z"/>
<path class="c4" d="M948.2 689.6L957.8 686.8L969.3 702.1L979.1 722.8L976.4 731.0L956.6 715.2Z"/>
<path class="c3" d="M937.7 659.5L939.1 661.9L948.2 689.6Z"/>
<path class="c4" d="M935.1 655.0L937.7 659.5L948.2 689.6L956.6 715.2L955.3 714.1Z"/>
<path class="c5" d="M932.4 650.4L935.1 655.0L955.3 714.1L952.7 712.1Z"/>
<path class="c6" d="M929.8 645.8L932.4 650.4L952.7 712.1L950.2 710.0Z"/>
<path class="c7" d="M927.1 641.3L929.8 645.8L950.2 710.0L947.6 708.0Z"/>
<path class="c8" d="M924.4 636.7L927.1 641.3L947.6 708.0L945.1 705.9Z"/>
<path class="c9" d="M921.8 632.2L924.4 636.7L945.1 705.9L942.5 703.9Z"/>
<path class="c10" d="M919.1 627.6L921.8 632.2L942.5 703.9L940.0 701.8Z"/>
<path class="c11" d="M916.5 623.1L919.1 627.6L940.0 701.8L937.4 699.8Z"/>
<path class="c12" d="M913.8 618.5L916.5 623.1L937.4 699.8L934.9 697.8Z"/>
<path class="c13" d="M911.1 613.9L913.8 618.5L934.9 697.8L932.3 695.7Z"/>
<path class="c14" d="M910.8 619.0L908.9 610.1L911.1 613.9L932.3 695.7L929.8 693.7Z"/>
<path class="c15" d="M922.6 673.4L910.8 619.0L929.8 693.7L927.2 691.6Z"/>
<path class="c16" d="M922.6 673.4L927.2 691.6L926.4 691.0Z"/>
<path class="c14" d="M905.0 614.2L908.9 610.1L910.8 619.0Z"/>
<path class="c15" d="M881.6 642.9L880.6 639.1L905.0 614.2L910.8 619.0L922.6 673.4L912.9 673.6L896.2 652.3Z"/>
<path class="c16" d="M881.6 642.9L878.7 641.0L880.6 639.1L922.6 673.4L926.4 691.0L912.9 673.6Z"/>
<path class="c15" d="M851.0 597.9L848.5 590.7L865.8 619.6L881.6 642.9L896.2 652.3L884.7 648.0Z"/>
<path class="c16" d="M851.0 597.9L865.8 619.6L878.7 641.0L881.6 642.9L884.7 648.0L866.0 641.1Z"/>
<path class="c13" d="M833.5 648.9L840.0 657.7L835.8 660.4Z"/>
<path class="c14" d="M833.5 648.9L828.2 622.1L849.9 651.4L840.0 657.7Z"/>
<path class="c15" d="M828.2 622.1L822.8 595.2L845.2 588.7L848.5 590.7L851.0 597.9L859.7 645.1L849.9 651.4Z"/>
<path class="c16" d="M822.8 595.2L818.3 572.3L845.2 588.7L851.0 597.9L866.0 641.1L859.7 645.1Z"/>
<path class="c2" d="M788.1 619.2L788.1 619.2L788.1 619.2Z"/>
<path class="c3" d="M790.9 630.9L788.1 619.2L788.1 619.2L790.3 615.8Z"/>
<path class="c4" d="M793.8 642.6L790.9 630.9L790.3 615.8L792.5 612.4Z"/>
<path class="c5" d="M796.6 654.2L793.8 642.6L792.5 612.4L794.6 609.1Z"/>
<path class="c6" d="M799.4 665.9L796.6 654.2L794.6 609.1L796.8 605.7Z"/>
<path class="c7" d="M802.2 677.6L799.4 665.9L796.8 605.7L799.0 602.3Z"/>
<path class="c8" d="M805.1 689.2L802.2 677.6L799.0 602.3L801.2 598.9Z"/>
<path class="c9" d="M805.1 689.2L801.2 598.9L803.4 595.5L811.2 685.6L805.6 691.3Z"/>
<path class="c10" d="M803.4 595.5L805.5 592.1L818.1 678.5L811.2 685.6Z"/>
<path class="c11" d="M805.5 592.1L807.7 588.8L825.0 671.5L818.1 678.5Z"/>
<path class="c12" d="M807.7 588.8L809.9 585.4L831.9 664.4L825.0 671.5Z"/>
<path class="c13" d="M809.9 585.4L812.1 582.0L833.5 648.9L835.8 660.4L831.9 664.4Z"/>
<path class="c14" d="M812.1 582.0L814.3 578.6L828.2 622.1L833.5 648.9Z"/>
<path class="c15" d="M814.3 578.6L816.4 575.2L822.8 595.2L828.2 622.1Z"/>
<path class="c16" d="M816.4 575.2L818.3 572.3L822.8 595.2Z"/>
<path class="c2" d="M788.1 619.3L788.1 619.2L788.1 619.2Z"/>
<path class="c3" d="M759.2 679.2L788.1 619.3L788.1 619.2L790.9 630.9Z"/>
<path class="c4" d="M761.8 691.0L757.9 682.0L759.2 679.2L790.9 630.9L793.8 642.6Z"/>
<path class="c5" d="M765.9 700.4L761.8 691.0L793.8 642.6L796.6 654.2Z"/>
<path class="c6" d="M769.9 709.8L765.9 700.4L796.6 654.2L799.4 665.9Z"/>
<path class="c7" d="M774.0 719.2L769.9 709.8L799.4 665.9L802.2 677.6Z"/>
<path class="c8" d="M774.0 719.2L802.2 677.6L805.1 689.2L799.2 697.9L775.4 722.3Z"/>
<path class="c9" d="M805.1 689.2L805.6 691.3L799.2 697.9Z"/>
<path class="c2" d="M731.2 707.8L727.7 694.1L741.5 688.6Z"/>
<path class="c3" d="M735.2 723.1L731.2 707.8L741.5 688.6L757.2 682.3Z"/>
<path class="c4" d="M739.1 738.5L735.2 723.1L757.2 682.3L757.9 682.0L761.8 691.0Z"/>
<path class="c5" d="M743.1 753.9L739.1 738.5L761.8 691.0L765.9 700.4Z"/>
<path class="c6" d="M743.1 753.9L765.9 700.4L769.9 709.8L753.2 751.4L745.2 761.9Z"/>
<path class="c7" d="M769.9 709.8L774.0 719.2L769.9 729.5L753.2 751.4Z"/>
<path class="c8" d="M774.0 719.2L775.4 722.3L769.9 729.5Z"/>
<path class="c2" d="M721.3 708.5L727.7 694.1L731.2 707.8Z"/>
<path class="c3" d="M714.2 724.7L721.3 708.5L731.2 707.8L735.2 723.1Z"/>
<path class="c4" d="M707.1 740.9L714.2 724.7L735.2 723.1L739.1 738.5Z"/>
<path class="c5" d="M699.9 757.2L707.1 740.9L739.1 738.5L743.1 753.9Z"/>
<path class="c6" d="M697.5 762.7L699.9 757.2L743.1 753.9L745.2 761.9L715.0 794.2ZM688.6 768.8L697.5 762.7L715.0 794.2L711.5 798.3Z"/>
<path class="c7" d="M675.1 778.1L688.6 768.8L711.5 798.3L704.8 806.1Z"/>
<path class="c8" d="M670.4 791.7L667.3 783.5L675.1 778.1L704.8 806.1L698.0 814.0Z"/>
<path class="c9" d="M677.7 810.9L670.4 791.7L698.0 814.0L691.3 821.9Z"/>
<path class="c10" d="M677.7 810.9L691.3 821.9L684.8 829.5Z"/>
<path class="c0" d="M637.1 828.9L637.1 828.9L637.1 828.8ZM638.4 830.4L637.1 828.9L637.1 828.8L641.1 822.8Z"/>
<path class="c2" d="M639.8 831.8L638.4 830.4L641.1 822.8L645.1 816.8Z"/>
<path class="c3" d="M641.2 833.3L639.8 831.8L645.1 816.8L649.1 810.8Z"/>
<path class="c4" d="M642.6 834.7L641.2 833.3L649.1 810.8L653.0 804.9Z"/>
<path class="c5" d="M643.9 836.1L642.6 834.7L653.0 804.9L657.0 798.9Z"/>
<path class="c6" d="M645.3 837.6L643.9 836.1L657.0 798.9L661.0 792.9Z"/>
<path class="c7" d="M646.7 839.0L645.3 837.6L661.0 792.9L665.0 786.9Z"/>
<path class="c8" d="M648.0 840.5L646.7 839.0L665.0 786.9L667.3 783.5L670.4 791.7Z"/>
<path class="c9" d="M649.4 841.9L648.0 840.5L670.4 791.7L677.7 810.9Z"/>
<path class="c10" d="M650.8 843.4L649.4 841.9L677.7 810.9L684.8 829.5L684.4 829.7Z"/>
<path class="c11" d="M652.1 844.8L650.8 843.4L684.4 829.7L673.6 836.1Z"/>
<path class="c12" d="M653.5 846.2L652.1 844.8L673.6 836.1L662.9 842.4Z"/>
<path class="c13" d="M653.5 846.2L662.9 842.4L654.6 847.4Z"/>
<path class="c0" d="M634.0 832.2L637.1 828.9L637.1 828.9ZM609.0 861.8L606.9 861.3L634.0 832.2L637.1 828.9L638.4 830.4Z"/>
<path class="c2" d="M611.6 862.3L609.0 861.8L638.4 830.4L639.8 831.8Z"/>
<path class="c3" d="M614.2 862.9L611.6 862.3L639.8 831.8L641.2 833.3Z"/>
<path class="c4" d="M616.8 863.5L614.2 862.9L641.2 833.3L642.6 834.7Z"/>
<path class="c5" d="M619.4 864.1L616.8 863.5L642.6 834.7L643.9 836.1Z"/>
<path class="c6" d="M622.0 864.7L619.4 864.1L643.9 836.1L645.3 837.6Z"/>
<path class="c7" d="M622.0 864.7L645.3 837.6L646.7 839.0L624.9 864.9L624.3 865.2Z"/>
<path class="c8" d="M646.7 839.0L648.0 840.5L630.0 861.9L624.9 864.9Z"/>
<path class="c9" d="M648.0 840.5L649.4 841.9L635.1 858.8L630.0 861.9Z"/>
<path class="c10" d="M649.4 841.9L650.8 843.4L640.3 855.8L635.1 858.8Z"/>
<path class="c11" d="M650.8 843.4L652.1 844.8L645.4 852.8L640.3 855.8Z"/>
<path class="c12" d="M652.1 844.8L653.5 846.2L650.6 849.7L645.4 852.8Z"/>
<path class="c13" d="M653.5 846.2L654.6 847.4L650.6 849.7Z"/>
<path class="c0" d="M595.6 867.4L606.9 861.3L609.0 861.8Z"/>
<path class="c2" d="M582.2 874.7L595.6 867.4L609.0 861.8L611.6 862.3Z"/>
<path class="c3" d="M578.4 878.6L576.6 877.7L582.2 874.7L611.6 862.3L614.2 862.9Z"/>
<path class="c4" d="M581.3 880.3L578.4 878.6L614.2 862.9L616.8 863.5Z"/>
<path class="c5" d="M584.3 881.9L581.3 880.3L616.8 863.5L619.4 864.1Z"/>
<path class="c6" d="M587.2 883.6L584.3 881.9L619.4 864.1L622.0 864.7Z"/>
<path class="c7" d="M590.1 885.2L587.2 883.6L622.0 864.7L624.3 865.2L622.3 866.7Z"/>
<path class="c8" d="M593.1 886.9L590.1 885.2L622.3 866.7L601.5 882.0Z"/>
<path class="c9" d="M593.1 886.9L601.5 882.0L594.1 887.4Z"/>
<path class="c3" d="M572.1 880.2L576.6 877.7L578.4 878.6Z"/>
<path class="c4" d="M564.2 884.4L572.1 880.2L578.4 878.6L581.3 880.3Z"/>
<path class="c5" d="M556.4 888.7L564.2 884.4L581.3 880.3L584.3 881.9Z"/>
<path class="c6" d="M548.6 892.9L556.4 888.7L584.3 881.9L587.2 883.6Z"/>
<path class="c7" d="M549.8 894.6L546.4 894.1L548.6 892.9L587.2 883.6L590.1 885.2Z"/>
<path class="c8" d="M554.5 895.2L549.8 894.6L590.1 885.2L593.1 886.9Z"/>
<path class="c9" d="M559.2 895.9L554.5 895.2L593.1 886.9L594.1 887.4L582.4 891.0Z"/>
<path class="c10" d="M563.8 896.6L559.2 895.9L582.4 891.0L564.3 896.5Z"/>
<path class="c11" d="M563.8 896.6L564.3 896.5L563.9 896.6Z"/>
<path class="c7" d="M521.8 900.5L516.2 897.4L546.4 894.1L549.8 894.6Z"/>
<path class="c8" d="M528.9 904.5L521.8 900.5L549.8 894.6L554.5 895.2Z"/>
<path class="c9" d="M528.9 904.5L554.5 895.2L559.2 895.9L540.8 904.7L533.7 907.2Z"/>
<path class="c10" d="M559.2 895.9L563.8 896.6L563.5 896.8L540.8 904.7Z"/>
<path class="c11" d="M563.8 896.6L563.9 896.6L563.5 896.8Z"/>
<path class="c6" d="M1393.1 784.4L1404.5 785.1L1397.0 786.2Z"/>
<path class="c7" d="M1393.1 784.4L1379.5 778.4L1407.9 773.9L1410.6 774.0L1427.2 781.9L1404.5 785.1Z"/>
<path class="c8" d="M1407.9 773.9L1409.7 773.6L1410.6 774.0Z"/>
<path class="c3" d="M1354.1 783.7L1371.6 788.2L1366.8 788.6Z"/>
<path class="c4" d="M1354.1 783.7L1349.3 781.8L1356.5 781.0L1380.5 787.5L1371.6 788.2Z"/>
<path class="c5" d="M1356.5 781.0L1365.6 780.0L1389.4 786.8L1380.5 787.5Z"/>
<path class="c6" d="M1365.6 780.0L1374.7 779.0L1393.1 784.4L1397.0 786.2L1389.4 786.8Z"/>
<path class="c7" d="M1374.7 779.0L1379.5 778.4L1393.1 784.4Z"/>
<path class="c2" d="M1333.6 786.0L1338.1 786.6L1336.6 786.5Z"/>
<path class="c3" d="M1333.6 786.0L1319.1 783.7L1343.6 782.1L1354.1 783.7L1366.8 788.6L1338.1 786.6Z"/>
<path class="c4" d="M1343.6 782.1L1349.3 781.8L1354.1 783.7Z"/>
<path class="c0" d="M1306.4 774.2L1316.7 778.4L1296.0 779.5Z"/>
<path class="c2" d="M1316.7 778.4L1336.6 786.5L1333.6 786.0L1314.3 783.6L1288.9 783.1L1296.0 779.5Z"/>
<path class="c3" d="M1314.3 783.6L1319.1 783.7L1333.6 786.0Z"/>
<path class="c0" d="M1276.2 759.8L1290.7 766.7L1268.7 770.4ZM1290.7 766.7L1306.4 774.2L1296.0 779.5L1274.6 783.8L1258.7 784.6L1268.7 770.4Z"/>
<path class="c2" d="M1296.0 779.5L1288.9 783.1L1274.6 783.8Z"/>
<path class="c0" d="M1246.0 736.5L1276.2 759.8L1268.7 770.4L1242.4 779.4L1228.5 775.0ZM1268.7 770.4L1258.7 784.6L1242.4 779.4ZM1215.8 725.5L1246.0 736.5L1228.5 775.0L1198.3 775.3ZM1185.6 746.3L1215.8 725.5L1198.3 775.3L1168.1 786.1ZM1155.3 769.9L1185.6 746.3L1168.1 786.1L1145.0 791.1L1141.0 788.6ZM1145.0 791.1L1137.9 792.7L1141.0 788.6ZM1155.3 769.9L1141.0 788.6L1144.7 779.5ZM1141.0 788.6L1137.9 792.7L1130.4 792.4L1144.7 779.5Z"/>
<path class="c2" d="M1125.1 797.2L1116.1 794.4L1109.9 791.9L1125.6 792.3L1130.4 792.4Z"/>
<path class="c3" d="M1109.9 791.9L1116.1 794.4L1107.6 791.8Z"/>
<path class="c2" d="M1116.1 794.4L1125.1 797.2L1122.9 797.7Z"/>
<path class="c3" d="M1104.8 792.0L1107.6 791.8L1116.1 794.4L1122.9 797.7L1108.0 800.7Z"/>
<path class="c4" d="M1094.7 803.2L1101.6 792.3L1104.8 792.0L1108.0 800.7L1094.9 803.3Z"/>
<path class="c5" d="M1094.7 803.2L1092.3 802.0L1098.3 792.5L1101.6 792.3Z"/>
<path class="c6" d="M1092.3 802.0L1090.0 800.7L1095.0 792.8L1098.3 792.5Z"/>
<path class="c7" d="M1090.0 800.7L1087.7 799.5L1091.8 793.0L1095.0 792.8Z"/>
<path class="c8" d="M1087.7 799.5L1085.3 798.3L1088.5 793.3L1091.8 793.0Z"/>
<path class="c9" d="M1085.3 798.3L1083.0 797.1L1085.2 793.5L1088.5 793.3Z"/>
<path class="c10" d="M1083.0 797.1L1080.7 795.8L1082.0 793.8L1085.2 793.5Z"/>
<path class="c11" d="M1080.7 795.8L1078.3 794.6L1078.7 794.0L1082.0 793.8Z"/>
<path class="c12" d="M1078.3 794.6L1077.4 794.1L1078.7 794.0Z"/>
<path class="c4" d="M1094.7 803.2L1094.9 803.3L1094.2 803.3Z"/>
<path class="c5" d="M1092.3 802.0L1094.7 803.2L1094.2 803.3L1088.4 803.0Z"/>
<path class="c6" d="M1090.0 800.7L1092.3 802.0L1088.4 803.0L1082.5 802.6Z"/>
<path class="c7" d="M1087.7 799.5L1090.0 800.7L1082.5 802.6L1076.6 802.3Z"/>
<path class="c8" d="M1085.3 798.3L1087.7 799.5L1076.6 802.3L1070.8 801.9Z"/>
<path class="c9" d="M1083.0 797.1L1085.3 798.3L1070.8 801.9L1064.9 801.6Z"/>
<path class="c10" d="M1063.3 801.1L1080.7 795.8L1083.0 797.1L1064.9 801.6L1064.7 801.6Z"/>
<path class="c11" d="M1063.3 801.1L1061.8 800.6L1078.3 794.6L1080.7 795.8Z"/>
<path class="c12" d="M1061.8 800.6L1060.4 800.1L1075.5 794.2L1077.4 794.1L1078.3 794.6Z"/>
<path class="c13" d="M1060.4 800.1L1058.9 799.6L1072.3 794.4L1075.5 794.2Z"/>
<path class="c14" d="M1058.9 799.6L1057.4 799.1L1069.2 794.5L1072.3 794.4Z"/>
<path class="c15" d="M1057.4 799.1L1056.0 798.6L1066.0 794.7L1069.2 794.5Z"/>
<path class="c16" d="M1056.0 798.6L1054.5 798.1L1062.8 794.9L1066.0 794.7Z"/>
<path class="c17" d="M1054.5 798.1L1053.0 797.6L1059.7 795.0L1062.8 794.9Z"/>
<path class="c18" d="M1053.0 797.6L1051.5 797.1L1056.5 795.2L1059.7 795.0Z"/>
<path class="c19" d="M1051.5 797.1L1050.1 796.6L1053.3 795.3L1056.5 795.2Z"/>
<path class="c20" d="M1050.1 796.6L1048.6 796.1L1050.2 795.5L1053.3 795.3Z"/>
<path class="c21" d="M1048.6 796.1L1047.2 795.6L1050.2 795.5Z"/>
<path class="c3" d="M1017.8 762.9L1017.0 762.0L1017.6 762.6Z"/>
<path class="c4" d="M1019.2 764.4L1020.1 766.0L1017.8 762.9L1017.6 762.6L1018.0 763.1Z"/>
<path class="c5" d="M1020.9 766.3L1022.5 769.0L1020.1 766.0L1019.2 764.4Z"/>
<path class="c6" d="M1022.5 768.1L1022.5 768.1L1024.8 772.0L1022.5 769.0L1020.9 766.3L1021.3 766.7Z"/>
<path class="c7" d="M1024.2 769.9L1027.2 775.0L1024.8 772.0L1022.5 768.1Z"/>
<path class="c8" d="M1025.8 771.8L1029.5 778.0L1027.2 775.0L1024.2 769.9Z"/>
<path class="c9" d="M1027.5 773.6L1031.9 781.0L1031.5 780.5L1029.5 778.0L1025.8 771.8Z"/>
<path class="c10" d="M1029.1 775.5L1039.9 787.4L1037.7 786.2L1034.3 784.0L1031.9 781.0L1027.5 773.6ZM1064.7 801.6L1063.3 801.1L1061.5 799.8Z"/>
<path class="c11" d="M1059.7 799.0L1039.9 787.5L1039.9 787.4L1058.2 797.9ZM1030.8 777.3L1039.9 787.4L1037.7 786.2L1034.5 784.4L1034.3 784.0L1029.1 775.5ZM1063.3 801.1L1061.8 800.6L1059.7 799.0Z"/>
<path class="c12" d="M1060.4 800.1L1054.8 796.0L1058.2 797.9L1061.8 800.6Z"/>
<path class="c13" d="M1058.9 799.6L1051.5 794.0L1054.8 796.0L1060.4 800.1Z"/>
<path class="c14" d="M1057.4 799.1L1048.2 792.1L1051.5 794.0L1058.9 799.6Z"/>
<path class="c15" d="M1056.0 798.6L1044.8 790.2L1048.2 792.1L1057.4 799.1Z"/>
<path class="c16" d="M1041.5 788.3L1044.8 790.2L1056.0 798.6L1054.5 798.1Z"/>
<path class="c17" d="M1040.7 788.4L1039.9 787.4L1041.5 788.3L1054.5 798.1L1053.0 797.6Z"/>
<path class="c18" d="M1042.4 790.2L1040.7 788.4L1053.0 797.6L1051.5 797.1Z"/>
<path class="c19" d="M1044.0 792.1L1042.4 790.2L1051.5 797.1L1050.1 796.6Z"/>
<path class="c20" d="M1045.7 793.9L1044.0 792.1L1050.1 796.6L1048.6 796.1Z"/>
<path class="c21" d="M1047.2 795.6L1045.7 793.9L1048.6 796.1Z"/>
<path class="c3" d="M994.1 750.1L986.8 739.4L1017.0 762.0L1017.8 762.9Z"/>
<path class="c4" d="M994.1 750.1L1017.8 762.9L1020.1 766.0L1007.2 766.9L1004.3 765.1Z"/>
<path class="c5" d="M1020.1 766.0L1022.5 769.0L1011.7 769.8L1007.2 766.9Z"/>
<path class="c6" d="M1022.5 769.0L1024.8 772.0L1016.1 772.6L1011.7 769.8Z"/>
<path class="c7" d="M1024.8 772.0L1027.2 775.0L1020.6 775.5L1016.1 772.6Z"/>
<path class="c8" d="M1027.2 775.0L1029.5 778.0L1025.1 778.3L1020.6 775.5Z"/>
<path class="c9" d="M1029.5 778.0L1031.9 781.0L1029.5 781.2L1025.1 778.3Z"/>
<path class="c10" d="M1031.9 781.0L1034.3 784.0L1034.0 784.0L1029.5 781.2Z"/>
<path class="c11" d="M1034.3 784.0L1034.5 784.4L1034.0 784.0Z"/>
<path class="c3" d="M976.4 731.0L986.8 739.4L994.1 750.1Z"/>
<path class="c4" d="M957.4 715.9L956.6 715.2L976.4 731.0L994.1 750.1L1004.3 765.1L1002.8 763.5Z"/>
<path class="c5" d="M958.8 717.4L957.4 715.9L1002.8 763.5L1000.3 760.9Z"/>
<path class="c6" d="M960.2 719.0L958.8 717.4L1000.3 760.9L997.9 758.4Z"/>
<path class="c7" d="M961.6 720.5L960.2 719.0L997.9 758.4L995.5 755.9Z"/>
<path class="c8" d="M963.0 722.0L961.6 720.5L995.5 755.9L993.0 753.3Z"/>
<path class="c9" d="M964.5 723.5L963.0 722.0L993.0 753.3L990.6 750.8Z"/>
<path class="c10" d="M965.9 725.0L964.5 723.5L990.6 750.8L988.2 748.3Z"/>
<path class="c11" d="M967.3 726.5L965.9 725.0L988.2 748.3L985.7 745.7Z"/>
<path class="c12" d="M968.7 728.0L967.3 726.5L985.7 745.7L983.3 743.2Z"/>
<path class="c13" d="M970.2 729.5L968.7 728.0L983.3 743.2L980.9 740.7Z"/>
<path class="c14" d="M971.6 731.0L970.2 729.5L980.9 740.7L978.4 738.1Z"/>
<path class="c15" d="M973.0 732.5L971.6 731.0L978.4 738.1L976.0 735.6Z"/>
<path class="c16" d="M973.0 732.5L976.0 735.6L974.1 733.6Z"/>
<path class="c4" d="M955.3 714.1L956.6 715.2L957.4 715.9Z"/>
<path class="c5" d="M952.7 712.1L955.3 714.1L957.4 715.9L958.8 717.4Z"/>
<path class="c6" d="M950.2 710.0L952.7 712.1L958.8 717.4L960.2 719.0Z"/>
<path class="c7" d="M947.6 708.0L950.2 710.0L960.2 719.0L961.6 720.5Z"/>
<path class="c8" d="M945.1 705.9L947.6 708.0L961.6 720.5L963.0 722.0Z"/>
<path class="c9" d="M942.5 703.9L945.1 705.9L963.0 722.0L964.5 723.5Z"/>
<path class="c10" d="M940.0 701.8L942.5 703.9L964.5 723.5L965.9 725.0Z"/>
<path class="c11" d="M937.4 699.8L940.0 701.8L965.9 725.0L967.3 726.5Z"/>
<path class="c12" d="M934.9 697.8L937.4 699.8L967.3 726.5L968.7 728.0Z"/>
<path class="c13" d="M932.3 695.7L934.9 697.8L968.7 728.0L970.2 729.5Z"/>
<path class="c14" d="M929.8 693.7L932.3 695.7L970.2 729.5L971.6 731.0Z"/>
<path class="c15" d="M927.2 691.6L929.8 693.7L971.6 731.0L973.0 732.5Z"/>
<path class="c16" d="M930.7 699.5L926.4 691.0L927.2 691.6L973.0 732.5L974.1 733.6L971.2 732.8Z"/>
<path class="c17" d="M937.1 712.0L930.7 699.5L971.2 732.8L958.0 729.2Z"/>
<path class="c18" d="M943.5 724.6L937.1 712.0L958.0 729.2L944.8 725.6Z"/>
<path class="c19" d="M943.5 724.6L944.8 725.6L943.9 725.4Z"/>
<path class="c15" d="M901.2 679.5L896.2 652.3L912.9 673.6Z"/>
<path class="c16" d="M901.2 679.5L912.9 673.6L926.4 691.0L930.7 699.5L913.9 747.5L913.7 747.6Z"/>
<path class="c17" d="M930.7 699.5L937.1 712.0L928.4 736.8L913.9 747.5Z"/>
<path class="c18" d="M937.1 712.0L943.5 724.6L942.9 726.1L928.4 736.8Z"/>
<path class="c19" d="M943.5 724.6L943.9 725.4L942.9 726.1Z"/>
<path class="c15" d="M882.6 695.8L884.7 648.0L896.2 652.3L901.2 679.5L884.5 700.4L883.5 698.7Z"/>
<path class="c16" d="M882.6 695.8L866.0 641.1L884.7 648.0L901.2 679.5L913.7 747.6L884.5 700.4Z"/>
<path class="c13" d="M839.6 677.0L835.8 660.4L840.0 657.7Z"/>
<path class="c14" d="M848.4 715.4L839.6 677.0L840.0 657.7L849.9 651.4Z"/>
<path class="c15" d="M848.4 715.4L849.9 651.4L859.7 645.1L882.6 695.8L883.5 698.7L853.3 736.9Z"/>
<path class="c16" d="M859.7 645.1L866.0 641.1L882.6 695.8Z"/>
<path class="c9" d="M807.5 698.4L805.6 691.3L811.2 685.6Z"/>
<path class="c10" d="M809.9 707.0L807.5 698.4L811.2 685.6L818.1 678.5Z"/>
<path class="c11" d="M812.3 715.5L809.9 707.0L818.1 678.5L825.0 671.5Z"/>
<path class="c12" d="M814.6 724.1L812.3 715.5L825.0 671.5L831.9 664.4Z"/>
<path class="c13" d="M817.0 732.7L814.6 724.1L831.9 664.4L835.8 660.4L839.6 677.0Z"/>
<path class="c14" d="M819.4 741.3L817.0 732.7L839.6 677.0L848.4 715.4Z"/>
<path class="c15" d="M821.7 749.9L819.4 741.3L848.4 715.4L853.3 736.9L840.1 744.7Z"/>
<path class="c16" d="M821.7 749.9L840.1 744.7L823.1 754.8Z"/>
<path class="c8" d="M780.0 735.1L775.4 722.3L799.2 697.9Z"/>
<path class="c9" d="M786.9 754.4L780.0 735.1L799.2 697.9L805.6 691.3L807.5 698.4Z"/>
<path class="c10" d="M786.9 754.4L807.5 698.4L809.9 707.0L793.5 770.8L792.9 771.2Z"/>
<path class="c11" d="M809.9 707.0L812.3 715.5L798.8 767.9L793.5 770.8Z"/>
<path class="c12" d="M812.3 715.5L814.6 724.1L804.1 765.1L798.8 767.9Z"/>
<path class="c13" d="M814.6 724.1L817.0 732.7L809.4 762.2L804.1 765.1Z"/>
<path class="c14" d="M817.0 732.7L819.4 741.3L814.7 759.3L809.4 762.2Z"/>
<path class="c15" d="M819.4 741.3L821.7 749.9L820.0 756.4L814.7 759.3Z"/>
<path class="c16" d="M821.7 749.9L823.1 754.8L820.0 756.4Z"/>
<path class="c6" d="M745.2 761.9L753.2 751.4L764.5 809.8L762.7 812.2Z"/>
<path class="c7" d="M753.2 751.4L769.9 729.5L771.8 799.8L764.5 809.8Z"/>
<path class="c8" d="M769.9 729.5L775.4 722.3L780.0 735.1L779.1 789.9L771.8 799.8Z"/>
<path class="c9" d="M780.0 735.1L786.9 754.4L786.5 779.9L779.1 789.9Z"/>
<path class="c10" d="M786.9 754.4L792.9 771.2L786.5 779.9Z"/>
<path class="c6" d="M719.5 805.4L715.0 794.2L745.2 761.9L762.7 812.2L758.3 815.9Z"/>
<path class="c7" d="M728.4 827.3L719.5 805.4L758.3 815.9L740.6 830.6Z"/>
<path class="c8" d="M728.4 827.3L740.6 830.6L732.5 837.4Z"/>
<path class="c6" d="M711.5 798.3L715.0 794.2L719.5 805.4Z"/>
<path class="c7" d="M704.8 806.1L711.5 798.3L719.5 805.4L728.4 827.3Z"/>
<path class="c8" d="M698.0 814.0L704.8 806.1L728.4 827.3L732.5 837.4L729.5 839.4Z"/>
<path class="c9" d="M691.3 821.9L698.0 814.0L729.5 839.4L723.9 843.2Z"/>
<path class="c10" d="M685.0 829.9L684.8 829.5L691.3 821.9L723.9 843.2L718.3 847.1Z"/>
<path class="c11" d="M690.9 839.6L685.0 829.9L718.3 847.1L712.8 850.9Z"/>
<path class="c12" d="M696.9 849.4L690.9 839.6L712.8 850.9L707.2 854.7Z"/>
<path class="c13" d="M696.9 849.4L707.2 854.7L702.2 858.1Z"/>
<path class="c10" d="M684.4 829.7L684.8 829.5L685.0 829.9Z"/>
<path class="c11" d="M673.6 836.1L684.4 829.7L685.0 829.9L690.9 839.6Z"/>
<path class="c12" d="M662.9 842.4L673.6 836.1L690.9 839.6L696.9 849.4Z"/>
<path class="c13" d="M654.9 847.9L654.6 847.4L662.9 842.4L696.9 849.4L702.2 858.1L702.0 858.3Z"/>
<path class="c14" d="M656.5 850.2L654.9 847.9L702.0 858.3L699.2 859.6Z"/>
<path class="c15" d="M658.1 852.5L656.5 850.2L699.2 859.6L696.5 861.0Z"/>
<path class="c16" d="M659.6 854.8L658.1 852.5L696.5 861.0L693.7 862.4Z"/>
<path class="c17" d="M661.2 857.2L659.6 854.8L693.7 862.4L690.9 863.7Z"/>
<path class="c18" d="M662.8 859.5L661.2 857.2L690.9 863.7L688.2 865.1Z"/>
<path class="c19" d="M664.4 861.8L662.8 859.5L688.2 865.1L685.4 866.4Z"/>
<path class="c20" d="M665.9 864.1L664.4 861.8L685.4 866.4L682.7 867.8Z"/>
<path class="c21" d="M667.5 866.4L665.9 864.1L682.7 867.8L679.9 869.2Z"/>
<path class="c22" d="M669.1 868.8L667.5 866.4L679.9 869.2L677.2 870.5Z"/>
<path class="c23" d="M670.7 871.1L669.1 868.8L677.2 870.5L674.4 871.9Z"/>
<path class="c24" d="M670.7 871.1L674.4 871.9L672.0 873.1Z"/>
<path class="c7" d="M624.5 865.3L624.3 865.2L624.9 864.9Z"/>
<path class="c8" d="M625.6 866.4L624.5 865.3L624.9 864.9L630.0 861.9Z"/>
<path class="c9" d="M626.7 867.5L625.6 866.4L630.0 861.9L635.1 858.8Z"/>
<path class="c10" d="M627.8 868.5L626.7 867.5L635.1 858.8L640.3 855.8Z"/>
<path class="c11" d="M628.9 869.6L627.8 868.5L640.3 855.8L645.4 852.8Z"/>
<path class="c12" d="M630.0 870.7L628.9 869.6L645.4 852.8L650.6 849.7Z"/>
<path class="c13" d="M631.1 871.8L630.0 870.7L650.6 849.7L654.6 847.4L654.9 847.9Z"/>
<path class="c14" d="M632.2 872.8L631.1 871.8L654.9 847.9L656.5 850.2Z"/>
<path class="c15" d="M633.3 873.9L632.2 872.8L656.5 850.2L658.1 852.5Z"/>
<path class="c16" d="M634.4 875.0L633.3 873.9L658.1 852.5L659.6 854.8Z"/>
<path class="c17" d="M635.5 876.0L634.4 875.0L659.6 854.8L661.2 857.2Z"/>
<path class="c18" d="M636.6 877.1L635.5 876.0L661.2 857.2L662.8 859.5Z"/>
<path class="c19" d="M637.7 878.2L636.6 877.1L662.8 859.5L664.4 861.8Z"/>
<path class="c20" d="M638.8 879.3L637.7 878.2L664.4 861.8L665.9 864.1Z"/>
<path class="c21" d="M639.9 880.3L638.8 879.3L665.9 864.1L667.5 866.4Z"/>
<path class="c22" d="M641.0 881.4L639.9 880.3L667.5 866.4L669.1 868.8Z"/>
<path class="c23" d="M641.0 881.4L669.1 868.8L670.7 871.1L647.7 880.5L641.8 882.2Z"/>
<path class="c24" d="M670.7 871.1L672.0 873.1L647.7 880.5Z"/>
<path class="c7" d="M622.3 866.7L624.3 865.2L624.5 865.3Z"/>
<path class="c8" d="M601.5 882.0L622.3 866.7L624.5 865.3L625.6 866.4Z"/>
<path class="c9" d="M596.6 889.5L594.1 887.4L601.5 882.0L625.6 866.4L626.7 867.5Z"/>
<path class="c10" d="M600.5 892.6L596.6 889.5L626.7 867.5L627.8 868.5Z"/>
<path class="c11" d="M604.4 895.7L600.5 892.6L627.8 868.5L628.9 869.6Z"/>
<path class="c12" d="M608.3 898.9L604.4 895.7L628.9 869.6L630.0 870.7Z"/>
<path class="c13" d="M608.3 898.9L630.0 870.7L631.1 871.8L612.1 901.3L611.6 901.6Z"/>
<path class="c14" d="M631.1 871.8L632.2 872.8L615.1 899.3L612.1 901.3Z"/>
<path class="c15" d="M632.2 872.8L633.3 873.9L618.2 897.4L615.1 899.3Z"/>
<path class="c16" d="M633.3 873.9L634.4 875.0L621.2 895.4L618.2 897.4Z"/>
<path class="c17" d="M634.4 875.0L635.5 876.0L624.2 893.5L621.2 895.4Z"/>
<path class="c18" d="M635.5 876.0L636.6 877.1L627.3 891.6L624.2 893.5Z"/>
<path class="c19" d="M636.6 877.1L637.7 878.2L630.3 889.6L627.3 891.6Z"/>
<path class="c20" d="M637.7 878.2L638.8 879.3L633.3 887.7L630.3 889.6Z"/>
<path class="c21" d="M638.8 879.3L639.9 880.3L636.4 885.7L633.3 887.7Z"/>
<path class="c22" d="M639.9 880.3L641.0 881.4L639.4 883.8L636.4 885.7Z"/>
<path class="c23" d="M641.0 881.4L641.8 882.2L639.4 883.8Z"/>
<path class="c9" d="M582.4 891.0L594.1 887.4L596.6 889.5Z"/>
<path class="c10" d="M564.3 896.5L582.4 891.0L596.6 889.5L600.5 892.6Z"/>
<path class="c11" d="M567.7 899.9L563.9 896.6L564.3 896.5L600.5 892.6L604.4 895.7Z"/>
<path class="c12" d="M571.5 903.3L567.7 899.9L604.4 895.7L608.3 898.9Z"/>
<path class="c13" d="M575.3 906.7L571.5 903.3L608.3 898.9L611.6 901.6L609.0 902.5Z"/>
<path class="c14" d="M579.1 910.1L575.3 906.7L609.0 902.5L591.8 908.5Z"/>
<path class="c15" d="M579.1 910.1L591.8 908.5L581.4 912.2Z"/>
<path class="c9" d="M534.8 907.9L533.7 907.2L540.8 904.7Z"/>
<path class="c10" d="M538.1 910.0L534.8 907.9L540.8 904.7L563.5 896.8Z"/>
<path class="c11" d="M541.4 912.1L538.1 910.0L563.5 896.8L563.9 896.6L567.7 899.9Z"/>
<path class="c12" d="M544.7 914.2L541.4 912.1L567.7 899.9L571.5 903.3Z"/>
<path class="c13" d="M548.0 916.4L544.7 914.2L571.5 903.3L575.3 906.7Z"/>
<path class="c14" d="M548.0 916.4L575.3 906.7L579.1 910.1L552.5 918.1L551.2 918.4Z"/>
<path class="c15" d="M579.1 910.1L581.4 912.2L552.5 918.1Z"/>
<path class="c6" d="M1397.0 786.2L1404.5 785.1L1431.9 791.7L1414.5 794.0Z"/>
<path class="c7" d="M1404.5 785.1L1427.2 781.9L1444.7 789.9L1431.9 791.7Z"/>
<path class="c3" d="M1366.8 788.6L1371.6 788.2L1388.0 794.0L1384.3 794.1Z"/>
<path class="c4" d="M1371.6 788.2L1380.5 787.5L1398.0 794.0L1388.0 794.0Z"/>
<path class="c5" d="M1380.5 787.5L1389.4 786.8L1408.0 794.0L1398.0 794.0Z"/>
<path class="c6" d="M1389.4 786.8L1397.0 786.2L1414.5 794.0L1408.0 794.0Z"/>
<path class="c2" d="M1336.6 786.5L1338.4 786.6L1338.1 786.6Z"/>
<path class="c3" d="M1338.4 786.6L1354.1 787.4L1356.3 787.9L1338.1 786.6ZM1366.8 788.6L1384.3 794.1L1356.3 787.9Z"/>
<path class="c0" d="M1323.9 760.9L1324.5 761.4L1316.7 778.4L1306.4 774.2Z"/>
<path class="c2" d="M1324.5 761.4L1349.0 782.9L1338.4 786.6L1336.6 786.5L1316.7 778.4Z"/>
<path class="c3" d="M1349.0 782.9L1354.1 787.4L1338.4 786.6Z"/>
<path class="c0" d="M1290.7 766.7L1276.2 759.8L1290.7 731.5ZM1293.7 725.8L1323.9 760.9L1306.4 774.2L1290.7 766.7L1290.7 731.5ZM1263.5 678.4L1290.7 721.1L1290.7 731.5L1276.2 759.8L1246.0 736.5ZM1290.7 721.1L1293.7 725.8L1290.7 731.5ZM1233.3 658.7L1263.5 678.4L1246.0 736.5L1215.8 725.5ZM1203.0 687.9L1233.3 658.7L1215.8 725.5L1185.6 746.3ZM1172.8 738.8L1203.0 687.9L1185.6 746.3L1155.3 769.9ZM1172.8 738.8L1155.3 769.9L1146.0 778.4ZM1144.7 779.5L1146.0 778.4L1142.6 783.3L1136.5 788.2ZM1144.7 779.5L1136.5 788.2L1130.4 793.1L1134.1 789.1L1143.1 780.9Z"/>
<path class="c2" d="M1125.1 797.2L1134.1 789.1L1130.4 793.1Z"/>
<path class="c0" d="M1136.5 788.2L1142.6 783.3L1140.6 785.2ZM1130.4 793.1L1136.5 788.2L1140.6 785.2L1138.5 787.1Z"/>
<path class="c2" d="M1136.4 788.9L1138.5 787.1L1130.4 793.1L1125.1 797.2L1122.9 797.7Z"/>
<path class="c3" d="M1134.3 790.8L1136.4 788.9L1122.9 797.7L1108.0 800.7Z"/>
<path class="c4" d="M1132.3 792.7L1134.3 790.8L1108.0 800.7L1094.9 803.3L1095.2 803.4Z"/>
<path class="c5" d="M1097.0 804.2L1095.2 803.4L1132.3 792.7L1130.2 794.5Z"/>
<path class="c6" d="M1098.8 804.9L1097.0 804.2L1130.2 794.5L1128.1 796.4Z"/>
<path class="c7" d="M1100.6 805.6L1098.8 804.9L1128.1 796.4L1126.0 798.3Z"/>
<path class="c8" d="M1102.4 806.4L1100.6 805.6L1126.0 798.3L1124.0 800.1Z"/>
<path class="c9" d="M1104.2 807.1L1102.4 806.4L1124.0 800.1L1121.9 802.0Z"/>
<path class="c10" d="M1106.0 807.9L1104.2 807.1L1121.9 802.0L1119.8 803.9Z"/>
<path class="c11" d="M1107.8 808.6L1106.0 807.9L1119.8 803.9L1117.7 805.7Z"/>
<path class="c12" d="M1109.6 809.3L1107.8 808.6L1117.7 805.7L1115.7 807.6Z"/>
<path class="c13" d="M1111.4 810.1L1109.6 809.3L1115.7 807.6L1113.6 809.4Z"/>
<path class="c14" d="M1111.4 810.1L1113.6 809.4L1112.4 810.5Z"/>
<path class="c4" d="M1094.2 803.3L1094.9 803.3L1095.2 803.4Z"/>
<path class="c5" d="M1088.4 803.0L1094.2 803.3L1095.2 803.4L1097.0 804.2Z"/>
<path class="c6" d="M1082.5 802.6L1088.4 803.0L1097.0 804.2L1098.8 804.9Z"/>
<path class="c7" d="M1076.6 802.3L1082.5 802.6L1098.8 804.9L1100.6 805.6Z"/>
<path class="c8" d="M1070.8 801.9L1076.6 802.3L1100.6 805.6L1102.4 806.4Z"/>
<path class="c9" d="M1064.9 801.6L1070.8 801.9L1102.4 806.4L1104.2 807.1Z"/>
<path class="c10" d="M1065.8 802.3L1064.7 801.6L1064.9 801.6L1104.2 807.1L1106.0 807.9Z"/>
<path class="c11" d="M1066.9 803.0L1065.8 802.3L1106.0 807.9L1107.8 808.6Z"/>
<path class="c12" d="M1068.0 803.6L1066.9 803.0L1107.8 808.6L1109.6 809.3Z"/>
<path class="c13" d="M1069.1 804.3L1068.0 803.6L1109.6 809.3L1111.4 810.1Z"/>
<path class="c14" d="M1070.3 805.0L1069.1 804.3L1111.4 810.1L1112.4 810.5L1111.2 810.6Z"/>
<path class="c15" d="M1071.4 805.7L1070.3 805.0L1111.2 810.6L1108.5 810.7Z"/>
<path class="c16" d="M1072.5 806.4L1071.4 805.7L1108.5 810.7L1105.8 810.9Z"/>
<path class="c17" d="M1073.6 807.1L1072.5 806.4L1105.8 810.9L1103.2 811.1Z"/>
<path class="c18" d="M1074.7 807.7L1073.6 807.1L1103.2 811.1L1100.5 811.2Z"/>
<path class="c19" d="M1075.8 808.4L1074.7 807.7L1100.5 811.2L1097.8 811.4Z"/>
<path class="c20" d="M1076.9 809.1L1075.8 808.4L1097.8 811.4L1095.1 811.6Z"/>
<path class="c21" d="M1078.0 809.8L1076.9 809.1L1095.1 811.6L1092.4 811.7Z"/>
<path class="c22" d="M1079.1 810.5L1078.0 809.8L1092.4 811.7L1089.7 811.9Z"/>
<path class="c23" d="M1080.2 811.2L1079.1 810.5L1089.7 811.9L1087.0 812.1Z"/>
<path class="c24" d="M1081.4 811.8L1080.2 811.2L1087.0 812.1L1084.3 812.3Z"/>
<path class="c25" d="M1081.4 811.8L1084.3 812.3L1082.2 812.4Z"/>
<path class="c10" d="M1037.7 786.2L1064.7 801.6L1065.8 802.3Z"/>
<path class="c11" d="M1035.6 786.7L1034.5 784.4L1037.7 786.2L1065.8 802.3L1066.9 803.0Z"/>
<path class="c12" d="M1036.8 789.4L1035.6 786.7L1066.9 803.0L1068.0 803.6Z"/>
<path class="c13" d="M1038.1 792.1L1036.8 789.4L1068.0 803.6L1069.1 804.3Z"/>
<path class="c14" d="M1039.3 794.8L1038.1 792.1L1069.1 804.3L1070.3 805.0Z"/>
<path class="c15" d="M1040.5 797.5L1039.3 794.8L1070.3 805.0L1071.4 805.7Z"/>
<path class="c16" d="M1041.7 800.2L1040.5 797.5L1071.4 805.7L1072.5 806.4Z"/>
<path class="c17" d="M1043.0 802.9L1041.7 800.2L1072.5 806.4L1073.6 807.1Z"/>
<path class="c18" d="M1044.2 805.5L1043.0 802.9L1073.6 807.1L1074.7 807.7Z"/>
<path class="c19" d="M1045.4 808.2L1044.2 805.5L1074.7 807.7L1075.8 808.4Z"/>
<path class="c20" d="M1046.6 810.9L1045.4 808.2L1075.8 808.4L1076.9 809.1Z"/>
<path class="c21" d="M1047.9 813.6L1046.6 810.9L1076.9 809.1L1078.0 809.8Z"/>
<path class="c22" d="M1049.1 816.3L1047.9 813.6L1078.0 809.8L1079.1 810.5Z"/>
<path class="c23" d="M1050.3 819.0L1049.1 816.3L1079.1 810.5L1080.2 811.2Z"/>
<path class="c24" d="M1051.5 821.7L1050.3 819.0L1080.2 811.2L1081.4 811.8Z"/>
<path class="c25" d="M1051.5 821.7L1081.4 811.8L1082.2 812.4L1052.0 822.7Z"/>
<path class="c4" d="M1005.6 767.9L1004.3 765.1L1007.2 766.9Z"/>
<path class="c5" d="M1007.6 772.3L1005.6 767.9L1007.2 766.9L1011.7 769.8Z"/>
<path class="c6" d="M1009.6 776.7L1007.6 772.3L1011.7 769.8L1016.1 772.6Z"/>
<path class="c7" d="M1011.6 781.0L1009.6 776.7L1016.1 772.6L1020.6 775.5Z"/>
<path class="c8" d="M1013.7 785.4L1011.6 781.0L1020.6 775.5L1025.1 778.3Z"/>
<path class="c9" d="M1015.7 789.8L1013.7 785.4L1025.1 778.3L1029.5 781.2Z"/>
<path class="c10" d="M1017.7 794.2L1015.7 789.8L1029.5 781.2L1034.0 784.0Z"/>
<path class="c11" d="M1019.7 798.5L1017.7 794.2L1034.0 784.0L1034.5 784.4L1035.6 786.7Z"/>
<path class="c12" d="M1021.7 802.9L1019.7 798.5L1035.6 786.7L1036.8 789.4Z"/>
<path class="c13" d="M1021.7 802.9L1036.8 789.4L1038.1 792.1L1024.1 804.6L1021.8 803.1Z"/>
<path class="c14" d="M1038.1 792.1L1039.3 794.8L1026.6 806.2L1024.1 804.6Z"/>
<path class="c15" d="M1039.3 794.8L1040.5 797.5L1029.0 807.8L1026.6 806.2Z"/>
<path class="c16" d="M1040.5 797.5L1041.7 800.2L1031.5 809.4L1029.0 807.8Z"/>
<path class="c17" d="M1041.7 800.2L1043.0 802.9L1033.9 811.0L1031.5 809.4Z"/>
<path class="c18" d="M1043.0 802.9L1044.2 805.5L1036.4 812.6L1033.9 811.0Z"/>
<path class="c19" d="M1044.2 805.5L1045.4 808.2L1038.8 814.2L1036.4 812.6Z"/>
<path class="c20" d="M1045.4 808.2L1046.6 810.9L1041.3 815.7L1038.8 814.2Z"/>
<path class="c21" d="M1046.6 810.9L1047.9 813.6L1043.7 817.3L1041.3 815.7Z"/>
<path class="c22" d="M1047.9 813.6L1049.1 816.3L1046.2 818.9L1043.7 817.3Z"/>
<path class="c23" d="M1049.1 816.3L1050.3 819.0L1048.6 820.5L1046.2 818.9Z"/>
<path class="c24" d="M1050.3 819.0L1051.5 821.7L1051.1 822.1L1048.6 820.5Z"/>
<path class="c25" d="M1051.5 821.7L1052.0 822.7L1051.1 822.1Z"/>
<path class="c4" d="M1002.8 763.5L1004.3 765.1L1005.6 767.9Z"/>
<path class="c5" d="M1000.3 760.9L1002.8 763.5L1005.6 767.9L1007.6 772.3Z"/>
<path class="c6" d="M997.9 758.4L1000.3 760.9L1007.6 772.3L1009.6 776.7Z"/>
<path class="c7" d="M995.5 755.9L997.9 758.4L1009.6 776.7L1011.6 781.0Z"/>
<path class="c8" d="M993.0 753.3L995.5 755.9L1011.6 781.0L1013.7 785.4Z"/>
<path class="c9" d="M990.6 750.8L993.0 753.3L1013.7 785.4L1015.7 789.8Z"/>
<path class="c10" d="M988.2 748.3L990.6 750.8L1015.7 789.8L1017.7 794.2Z"/>
<path class="c11" d="M985.7 745.7L988.2 748.3L1017.7 794.2L1019.7 798.5Z"/>
<path class="c12" d="M983.3 743.2L985.7 745.7L1019.7 798.5L1021.7 802.9Z"/>
<path class="c13" d="M980.9 740.7L983.3 743.2L1021.7 802.9L1021.8 803.1L1017.0 799.7Z"/>
<path class="c14" d="M978.4 738.1L980.9 740.7L1017.0 799.7L1012.0 796.0Z"/>
<path class="c15" d="M976.0 735.6L978.4 738.1L1012.0 796.0L1007.0 792.3Z"/>
<path class="c16" d="M975.8 738.3L974.1 733.6L976.0 735.6L1007.0 792.3L1001.9 788.6Z"/>
<path class="c17" d="M983.5 759.2L975.8 738.3L1001.9 788.6L996.9 785.0Z"/>
<path class="c18" d="M991.2 780.1L983.5 759.2L996.9 785.0L991.8 781.3Z"/>
<path class="c19" d="M991.2 780.1L991.8 781.3L991.6 781.1Z"/>
<path class="c16" d="M971.2 732.8L974.1 733.6L975.8 738.3Z"/>
<path class="c17" d="M958.0 729.2L971.2 732.8L975.8 738.3L983.5 759.2Z"/>
<path class="c18" d="M944.8 725.6L958.0 729.2L983.5 759.2L991.2 780.1Z"/>
<path class="c19" d="M956.4 773.7L943.9 725.4L944.8 725.6L991.2 780.1L991.6 781.1L970.0 789.8Z"/>
<path class="c20" d="M956.4 773.7L970.0 789.8L961.4 793.2Z"/>
<path class="c16" d="M913.7 747.7L913.7 747.6L913.9 747.5Z"/>
<path class="c17" d="M916.5 752.8L913.7 747.7L913.9 747.5L928.4 736.8Z"/>
<path class="c18" d="M919.2 758.0L916.5 752.8L928.4 736.8L942.9 726.1Z"/>
<path class="c19" d="M922.0 763.2L919.2 758.0L942.9 726.1L943.9 725.4L956.4 773.7Z"/>
<path class="c20" d="M924.7 768.4L922.0 763.2L956.4 773.7L961.4 793.2L955.1 790.5Z"/>
<path class="c21" d="M927.5 773.6L924.7 768.4L955.1 790.5L944.9 786.3Z"/>
<path class="c22" d="M930.2 778.7L927.5 773.6L944.9 786.3L934.8 782.1Z"/>
<path class="c23" d="M930.2 778.7L934.8 782.1L931.2 780.6Z"/>
<path class="c15" d="M883.6 699.2L883.5 698.7L884.5 700.4Z"/>
<path class="c16" d="M886.1 712.1L883.6 699.2L884.5 700.4L913.7 747.6L913.7 747.7Z"/>
<path class="c17" d="M888.6 725.0L886.1 712.1L913.7 747.7L916.5 752.8Z"/>
<path class="c18" d="M891.1 737.9L888.6 725.0L916.5 752.8L919.2 758.0Z"/>
<path class="c19" d="M893.7 750.9L891.1 737.9L919.2 758.0L922.0 763.2Z"/>
<path class="c20" d="M896.2 763.8L893.7 750.9L922.0 763.2L924.7 768.4Z"/>
<path class="c21" d="M898.7 776.7L896.2 763.8L924.7 768.4L927.5 773.6Z"/>
<path class="c22" d="M898.7 776.7L927.5 773.6L930.2 778.7L907.8 786.5L901.0 788.3Z"/>
<path class="c23" d="M930.2 778.7L931.2 780.6L907.8 786.5Z"/>
<path class="c15" d="M854.9 741.9L853.3 736.9L883.5 698.7L883.6 699.2Z"/>
<path class="c16" d="M858.5 753.1L854.9 741.9L883.6 699.2L886.1 712.1Z"/>
<path class="c17" d="M862.0 764.3L858.5 753.1L886.1 712.1L888.6 725.0Z"/>
<path class="c18" d="M865.6 775.5L862.0 764.3L888.6 725.0L891.1 737.9Z"/>
<path class="c19" d="M869.2 786.7L865.6 775.5L891.1 737.9L893.7 750.9Z"/>
<path class="c20" d="M869.2 786.7L893.7 750.9L896.2 763.8L877.7 790.9L870.8 791.6Z"/>
<path class="c21" d="M896.2 763.8L898.7 776.7L890.0 789.5L877.7 790.9Z"/>
<path class="c22" d="M898.7 776.7L901.0 788.3L890.0 789.5Z"/>
<path class="c15" d="M840.1 744.7L853.3 736.9L854.9 741.9Z"/>
<path class="c16" d="M824.9 758.3L823.1 754.8L840.1 744.7L854.9 741.9L858.5 753.1Z"/>
<path class="c17" d="M829.1 766.6L824.9 758.3L858.5 753.1L862.0 764.3Z"/>
<path class="c18" d="M833.3 774.9L829.1 766.6L862.0 764.3L865.6 775.5Z"/>
<path class="c19" d="M837.5 783.2L833.3 774.9L865.6 775.5L869.2 786.7Z"/>
<path class="c20" d="M837.5 783.2L869.2 786.7L870.8 791.6L840.6 789.2Z"/>
<path class="c10" d="M793.1 771.8L792.9 771.2L793.5 770.8Z"/>
<path class="c11" d="M794.9 776.9L793.1 771.8L793.5 770.8L798.8 767.9Z"/>
<path class="c12" d="M796.7 781.9L794.9 776.9L798.8 767.9L804.1 765.1Z"/>
<path class="c13" d="M798.5 787.0L796.7 781.9L804.1 765.1L809.4 762.2Z"/>
<path class="c14" d="M800.3 792.1L798.5 787.0L809.4 762.2L814.7 759.3Z"/>
<path class="c15" d="M802.1 797.1L800.3 792.1L814.7 759.3L820.0 756.4Z"/>
<path class="c16" d="M804.0 802.2L802.1 797.1L820.0 756.4L823.1 754.8L824.9 758.3Z"/>
<path class="c17" d="M805.8 807.3L804.0 802.2L824.9 758.3L829.1 766.6Z"/>
<path class="c18" d="M807.6 812.3L805.8 807.3L829.1 766.6L833.3 774.9Z"/>
<path class="c19" d="M809.4 817.4L807.6 812.3L833.3 774.9L837.5 783.2Z"/>
<path class="c20" d="M809.4 817.4L837.5 783.2L840.6 789.2L810.4 820.1Z"/>
<path class="c6" d="M763.0 812.5L762.7 812.2L764.5 809.8Z"/>
<path class="c7" d="M764.2 813.4L763.0 812.5L764.5 809.8L771.8 799.8Z"/>
<path class="c8" d="M765.4 814.2L764.2 813.4L771.8 799.8L779.1 789.9Z"/>
<path class="c9" d="M766.6 815.1L765.4 814.2L779.1 789.9L786.5 779.9Z"/>
<path class="c10" d="M767.9 816.0L766.6 815.1L786.5 779.9L792.9 771.2L793.1 771.8Z"/>
<path class="c11" d="M769.1 816.9L767.9 816.0L793.1 771.8L794.9 776.9Z"/>
<path class="c12" d="M770.3 817.8L769.1 816.9L794.9 776.9L796.7 781.9Z"/>
<path class="c13" d="M771.5 818.7L770.3 817.8L796.7 781.9L798.5 787.0Z"/>
<path class="c14" d="M772.7 819.6L771.5 818.7L798.5 787.0L800.3 792.1Z"/>
<path class="c15" d="M774.0 820.4L772.7 819.6L800.3 792.1L802.1 797.1Z"/>
<path class="c16" d="M775.2 821.3L774.0 820.4L802.1 797.1L804.0 802.2Z"/>
<path class="c17" d="M776.4 822.2L775.2 821.3L804.0 802.2L805.8 807.3Z"/>
<path class="c18" d="M777.6 823.1L776.4 822.2L805.8 807.3L807.6 812.3Z"/>
<path class="c19" d="M778.9 824.0L777.6 823.1L807.6 812.3L809.4 817.4Z"/>
<path class="c20" d="M780.1 824.9L778.9 824.0L809.4 817.4L810.4 820.1L783.5 824.4Z"/>
<path class="c21" d="M780.1 824.9L783.5 824.4L780.2 824.9Z"/>
<path class="c6" d="M758.3 815.9L762.7 812.2L763.0 812.5Z"/>
<path class="c7" d="M740.6 830.6L758.3 815.9L763.0 812.5L764.2 813.4Z"/>
<path class="c8" d="M738.8 845.1L732.5 837.4L740.6 830.6L764.2 813.4L765.4 814.2Z"/>
<path class="c9" d="M738.8 845.1L765.4 814.2L766.6 815.1L750.1 858.6L750.0 858.7Z"/>
<path class="c10" d="M766.6 815.1L767.9 816.0L752.8 855.5L750.1 858.6Z"/>
<path class="c11" d="M767.9 816.0L769.1 816.9L755.5 852.5L752.8 855.5Z"/>
<path class="c12" d="M769.1 816.9L770.3 817.8L758.2 849.4L755.5 852.5Z"/>
<path class="c13" d="M770.3 817.8L771.5 818.7L761.0 846.4L758.2 849.4Z"/>
<path class="c14" d="M771.5 818.7L772.7 819.6L763.7 843.4L761.0 846.4Z"/>
<path class="c15" d="M772.7 819.6L774.0 820.4L766.4 840.3L763.7 843.4Z"/>
<path class="c16" d="M774.0 820.4L775.2 821.3L769.1 837.3L766.4 840.3Z"/>
<path class="c17" d="M775.2 821.3L776.4 822.2L771.8 834.2L769.1 837.3Z"/>
<path class="c18" d="M776.4 822.2L777.6 823.1L774.6 831.2L771.8 834.2Z"/>
<path class="c19" d="M777.6 823.1L778.9 824.0L777.3 828.1L774.6 831.2Z"/>
<path class="c20" d="M778.9 824.0L780.1 824.9L780.0 825.1L777.3 828.1Z"/>
<path class="c21" d="M780.1 824.9L780.2 824.9L780.0 825.1Z"/>
<path class="c8" d="M729.5 839.4L732.5 837.4L738.8 845.1Z"/>
<path class="c9" d="M723.9 843.2L729.5 839.4L738.8 845.1L750.0 858.7L749.6 858.9Z"/>
<path class="c10" d="M718.3 847.1L723.9 843.2L749.6 858.9L742.8 862.6Z"/>
<path class="c11" d="M712.8 850.9L718.3 847.1L742.8 862.6L735.9 866.4Z"/>
<path class="c12" d="M707.2 854.7L712.8 850.9L735.9 866.4L729.1 870.1Z"/>
<path class="c13" d="M706.1 861.9L702.2 858.1L707.2 854.7L729.1 870.1L722.2 873.8Z"/>
<path class="c14" d="M706.1 861.9L722.2 873.8L719.7 875.1Z"/>
<path class="c13" d="M702.0 858.3L702.2 858.1L706.1 861.9Z"/>
<path class="c14" d="M699.2 859.6L702.0 858.3L706.1 861.9L719.7 875.1L717.1 877.1Z"/>
<path class="c15" d="M696.5 861.0L699.2 859.6L717.1 877.1L713.0 880.1Z"/>
<path class="c16" d="M693.7 862.4L696.5 861.0L713.0 880.1L708.9 883.1Z"/>
<path class="c17" d="M690.9 863.7L693.7 862.4L708.9 883.1L704.7 886.2Z"/>
<path class="c18" d="M688.2 865.1L690.9 863.7L704.7 886.2L700.6 889.2Z"/>
<path class="c19" d="M685.4 866.4L688.2 865.1L700.6 889.2L696.5 892.2Z"/>
<path class="c20" d="M682.7 867.8L685.4 866.4L696.5 892.2L692.4 895.2Z"/>
<path class="c21" d="M687.9 895.0L679.9 869.2L682.7 867.8L692.4 895.2L689.5 897.4Z"/>
<path class="c22" d="M687.9 895.0L682.3 887.4L677.2 870.5L679.9 869.2Z"/>
<path class="c23" d="M682.3 887.4L676.8 879.7L674.4 871.9L677.2 870.5Z"/>
<path class="c24" d="M676.8 879.7L672.0 873.1L674.4 871.9Z"/>
<path class="c21" d="M653.2 893.3L687.9 895.0L689.5 897.4L659.3 899.3Z"/>
<path class="c22" d="M653.2 893.3L646.9 887.2L682.3 887.4L687.9 895.0Z"/>
<path class="c23" d="M646.9 887.2L641.8 882.2L647.7 880.5L676.8 879.7L682.3 887.4Z"/>
<path class="c24" d="M647.7 880.5L672.0 873.1L676.8 879.7Z"/>
<path class="c13" d="M611.6 901.6L612.1 901.3L632.6 909.9L629.1 911.3Z"/>
<path class="c14" d="M612.1 901.3L615.1 899.3L636.4 908.4L632.6 909.9Z"/>
<path class="c15" d="M615.1 899.3L618.2 897.4L640.2 906.9L636.4 908.4Z"/>
<path class="c16" d="M618.2 897.4L621.2 895.4L644.0 905.4L640.2 906.9Z"/>
<path class="c17" d="M621.2 895.4L624.2 893.5L647.8 903.9L644.0 905.4Z"/>
<path class="c18" d="M624.2 893.5L627.3 891.6L651.6 902.4L647.8 903.9Z"/>
<path class="c19" d="M627.3 891.6L630.3 889.6L655.4 900.8L651.6 902.4Z"/>
<path class="c20" d="M630.3 889.6L633.3 887.7L659.2 899.3L655.4 900.8Z"/>
<path class="c21" d="M633.3 887.7L636.4 885.7L653.2 893.3L659.3 899.3L659.2 899.3Z"/>
<path class="c22" d="M636.4 885.7L639.4 883.8L646.9 887.2L653.2 893.3Z"/>
<path class="c23" d="M639.4 883.8L641.8 882.2L646.9 887.2Z"/>
<path class="c11" d="M598.6 923.2L600.5 922.7L598.9 923.4Z"/>
<path class="c12" d="M598.6 923.2L593.9 920.1L626.9 912.2L600.5 922.7Z"/>
<path class="c13" d="M593.9 920.1L589.1 917.1L609.0 902.5L611.6 901.6L629.1 911.3L626.9 912.2Z"/>
<path class="c14" d="M589.1 917.1L584.3 914.0L591.8 908.5L609.0 902.5Z"/>
<path class="c15" d="M584.3 914.0L581.4 912.2L591.8 908.5Z"/>
<path class="c11" d="M567.6 927.6L598.6 923.2L598.9 923.4L568.7 928.2Z"/>
<path class="c12" d="M567.6 927.6L562.1 924.5L593.9 920.1L598.6 923.2Z"/>
<path class="c13" d="M562.1 924.5L556.6 921.4L589.1 917.1L593.9 920.1Z"/>
<path class="c14" d="M556.6 921.4L551.2 918.4L552.5 918.1L584.3 914.0L589.1 917.1Z"/>
<path class="c15" d="M552.5 918.1L581.4 912.2L584.3 914.0Z"/>
<path class="c6" d="M1419.8 796.4L1414.5 794.0L1431.9 791.7Z"/>
<path class="c7" d="M1419.8 796.4L1431.9 791.7L1444.7 789.9L1461.7 798.0L1459.1 798.6L1432.0 801.8Z"/>
<path class="c8" d="M1461.7 798.0L1462.2 798.3L1459.1 798.6Z"/>
<path class="c3" d="M1384.3 794.1L1388.0 794.0L1402.9 802.5L1401.8 802.5Z"/>
<path class="c4" d="M1388.0 794.0L1398.0 794.0L1410.5 802.3L1402.9 802.5Z"/>
<path class="c5" d="M1398.0 794.0L1408.0 794.0L1418.2 802.1L1410.5 802.3Z"/>
<path class="c6" d="M1408.0 794.0L1414.5 794.0L1419.8 796.4L1425.8 801.9L1418.2 802.1Z"/>
<path class="c7" d="M1419.8 796.4L1432.0 801.8L1425.8 801.9Z"/>
<path class="c3" d="M1354.1 787.4L1384.3 794.1L1401.8 802.5L1371.6 795.6Z"/>
<path class="c0" d="M1324.5 761.4L1323.9 760.9L1324.4 760.9Z"/>
<path class="c2" d="M1341.4 762.7L1345.3 766.9L1349.0 782.9L1324.5 761.4L1324.4 760.9Z"/>
<path class="c3" d="M1345.3 766.9L1371.6 795.6L1354.1 787.4L1349.0 782.9Z"/>
<path class="c0" d="M1324.4 760.9L1323.9 760.9L1293.7 725.8L1303.6 717.7Z"/>
<path class="c2" d="M1311.2 711.5L1341.4 762.7L1324.4 760.9L1303.6 717.7Z"/>
<path class="c0" d="M1290.7 721.1L1263.5 678.4L1268.2 672.1ZM1303.6 717.7L1293.7 725.8L1290.7 721.1L1268.2 672.1L1273.8 664.6Z"/>
<path class="c2" d="M1295.5 682.1L1311.2 711.5L1303.6 717.7L1273.8 664.6L1279.4 657.1Z"/>
<path class="c3" d="M1281.0 654.9L1295.5 682.1L1279.4 657.1Z"/>
<path class="c0" d="M1268.2 672.1L1263.5 678.4L1233.3 658.7L1234.1 657.4ZM1273.8 664.6L1268.2 672.1L1234.1 657.4L1235.0 656.1Z"/>
<path class="c2" d="M1279.4 657.1L1273.8 664.6L1235.0 656.1L1235.8 654.8Z"/>
<path class="c3" d="M1279.7 654.0L1281.0 654.9L1279.4 657.1L1235.8 654.8L1236.7 653.5Z"/>
<path class="c4" d="M1278.0 652.6L1279.7 654.0L1236.7 653.5L1237.5 652.1Z"/>
<path class="c5" d="M1276.2 651.3L1278.0 652.6L1237.5 652.1L1238.4 650.8Z"/>
<path class="c6" d="M1274.4 650.0L1276.2 651.3L1238.4 650.8L1239.2 649.5Z"/>
<path class="c7" d="M1272.7 648.6L1274.4 650.0L1239.2 649.5L1240.1 648.2Z"/>
<path class="c8" d="M1270.9 647.3L1272.7 648.6L1240.1 648.2L1240.9 646.9Z"/>
<path class="c9" d="M1269.2 646.0L1270.9 647.3L1240.9 646.9L1241.8 645.6Z"/>
<path class="c10" d="M1267.4 644.6L1269.2 646.0L1241.8 645.6L1242.6 644.3Z"/>
<path class="c11" d="M1265.7 643.3L1267.4 644.6L1242.6 644.3L1243.5 643.0Z"/>
<path class="c12" d="M1263.9 641.9L1265.7 643.3L1243.5 643.0L1244.3 641.7Z"/>
<path class="c13" d="M1262.2 640.6L1263.9 641.9L1244.3 641.7L1245.2 640.4Z"/>
<path class="c14" d="M1260.4 639.3L1262.2 640.6L1245.2 640.4L1246.0 639.1Z"/>
<path class="c15" d="M1258.7 637.9L1260.4 639.3L1246.0 639.1L1246.9 637.8Z"/>
<path class="c16" d="M1256.9 636.6L1258.7 637.9L1246.9 637.8L1247.8 636.5Z"/>
<path class="c17" d="M1255.2 635.3L1256.9 636.6L1247.8 636.5L1248.6 635.2Z"/>
<path class="c18" d="M1253.4 633.9L1255.2 635.3L1248.6 635.2L1249.5 633.9Z"/>
<path class="c19" d="M1251.7 632.6L1253.4 633.9L1249.5 633.9L1250.3 632.6Z"/>
<path class="c20" d="M1250.8 631.9L1251.7 632.6L1250.3 632.6Z"/>
<path class="c0" d="M1220.5 665.9L1221.7 664.6L1234.1 657.4L1233.3 658.7L1203.0 687.9ZM1221.7 664.6L1223.2 662.9L1235.0 656.1L1234.1 657.4Z"/>
<path class="c2" d="M1223.2 662.9L1224.7 661.2L1235.8 654.8L1235.0 656.1Z"/>
<path class="c3" d="M1224.7 661.2L1226.2 659.5L1236.7 653.5L1235.8 654.8Z"/>
<path class="c4" d="M1226.2 659.5L1227.7 657.9L1237.5 652.1L1236.7 653.5Z"/>
<path class="c5" d="M1227.7 657.9L1229.1 656.2L1238.4 650.8L1237.5 652.1Z"/>
<path class="c6" d="M1229.1 656.2L1230.6 654.5L1239.2 649.5L1238.4 650.8Z"/>
<path class="c7" d="M1230.6 654.5L1232.1 652.8L1240.1 648.2L1239.2 649.5Z"/>
<path class="c8" d="M1232.1 652.8L1233.6 651.2L1240.9 646.9L1240.1 648.2Z"/>
<path class="c9" d="M1233.6 651.2L1235.1 649.5L1241.8 645.6L1240.9 646.9Z"/>
<path class="c10" d="M1235.1 649.5L1236.6 647.8L1242.6 644.3L1241.8 645.6Z"/>
<path class="c11" d="M1236.6 647.8L1238.1 646.1L1243.5 643.0L1242.6 644.3Z"/>
<path class="c12" d="M1238.1 646.1L1239.6 644.5L1244.3 641.7L1243.5 643.0Z"/>
<path class="c13" d="M1239.6 644.5L1241.1 642.8L1245.2 640.4L1244.3 641.7Z"/>
<path class="c14" d="M1241.1 642.8L1242.5 641.1L1246.0 639.1L1245.2 640.4Z"/>
<path class="c15" d="M1242.5 641.1L1244.0 639.4L1246.9 637.8L1246.0 639.1Z"/>
<path class="c16" d="M1244.0 639.4L1245.5 637.8L1247.8 636.5L1246.9 637.8Z"/>
<path class="c17" d="M1245.5 637.8L1247.0 636.1L1248.6 635.2L1247.8 636.5Z"/>
<path class="c18" d="M1247.0 636.1L1248.5 634.4L1249.5 633.9L1248.6 635.2Z"/>
<path class="c19" d="M1248.5 634.4L1250.0 632.8L1250.3 632.6L1249.5 633.9Z"/>
<path class="c20" d="M1250.0 632.8L1250.8 631.9L1250.3 632.6Z"/>
<path class="c0" d="M1172.8 738.8L1203.0 687.9L1220.5 665.9L1190.3 724.0ZM1142.6 783.3L1172.8 738.8L1190.3 724.0L1160.1 791.6ZM1140.6 785.2L1142.6 783.3L1160.1 791.6L1158.3 793.6ZM1138.5 787.1L1140.6 785.2L1158.3 793.6L1156.3 795.6Z"/>
<path class="c2" d="M1136.4 788.9L1138.5 787.1L1156.3 795.6L1154.3 797.6Z"/>
<path class="c3" d="M1134.3 790.8L1136.4 788.9L1154.3 797.6L1152.4 799.6Z"/>
<path class="c4" d="M1132.3 792.7L1134.3 790.8L1152.4 799.6L1150.4 801.7Z"/>
<path class="c5" d="M1130.2 794.5L1132.3 792.7L1150.4 801.7L1148.5 803.7Z"/>
<path class="c6" d="M1128.1 796.4L1130.2 794.5L1148.5 803.7L1146.5 805.7Z"/>
<path class="c7" d="M1126.0 798.3L1128.1 796.4L1146.5 805.7L1144.6 807.7Z"/>
<path class="c8" d="M1124.0 800.1L1126.0 798.3L1144.6 807.7L1142.6 809.7Z"/>
<path class="c9" d="M1121.9 802.0L1124.0 800.1L1142.6 809.7L1140.7 811.8Z"/>
<path class="c10" d="M1119.8 803.9L1121.9 802.0L1140.7 811.8L1138.7 813.8Z"/>
<path class="c11" d="M1117.7 805.7L1119.8 803.9L1138.7 813.8L1136.7 815.8Z"/>
<path class="c12" d="M1115.7 807.6L1117.7 805.7L1136.7 815.8L1134.8 817.8Z"/>
<path class="c13" d="M1113.6 809.4L1115.7 807.6L1134.8 817.8L1132.8 819.8Z"/>
<path class="c14" d="M1120.8 816.4L1112.4 810.5L1113.6 809.4L1132.8 819.8L1130.9 821.9Z"/>
<path class="c15" d="M1120.8 816.4L1130.9 821.9L1129.9 822.9Z"/>
<path class="c14" d="M1111.2 810.6L1112.4 810.5L1120.8 816.4Z"/>
<path class="c15" d="M1108.5 810.7L1111.2 810.6L1120.8 816.4L1129.9 822.9L1128.2 823.8Z"/>
<path class="c16" d="M1105.8 810.9L1108.5 810.7L1128.2 823.8L1124.8 825.7Z"/>
<path class="c17" d="M1103.2 811.1L1105.8 810.9L1124.8 825.7L1121.4 827.5Z"/>
<path class="c18" d="M1100.5 811.2L1103.2 811.1L1121.4 827.5L1117.9 829.4Z"/>
<path class="c19" d="M1097.8 811.4L1100.5 811.2L1117.9 829.4L1114.5 831.2Z"/>
<path class="c20" d="M1095.1 811.6L1097.8 811.4L1114.5 831.2L1111.1 833.1Z"/>
<path class="c21" d="M1092.4 811.7L1095.1 811.6L1111.1 833.1L1107.7 834.9Z"/>
<path class="c22" d="M1089.7 811.9L1092.4 811.7L1107.7 834.9L1104.3 836.8Z"/>
<path class="c23" d="M1087.0 812.1L1089.7 811.9L1104.3 836.8L1100.9 838.6Z"/>
<path class="c24" d="M1091.7 827.0L1084.3 812.3L1087.0 812.1L1100.9 838.6L1099.7 839.3Z"/>
<path class="c25" d="M1091.7 827.0L1082.2 812.4L1084.3 812.3Z"/>
<path class="c24" d="M1091.7 827.0L1099.7 839.3L1074.3 843.1Z"/>
<path class="c25" d="M1052.0 822.7L1082.2 812.4L1091.7 827.0L1074.3 843.1L1069.5 843.8Z"/>
<path class="c13" d="M1024.4 809.5L1021.8 803.1L1024.1 804.6Z"/>
<path class="c14" d="M1027.2 816.1L1024.4 809.5L1024.1 804.6L1026.6 806.2Z"/>
<path class="c15" d="M1030.0 822.8L1027.2 816.1L1026.6 806.2L1029.0 807.8Z"/>
<path class="c16" d="M1032.7 829.5L1030.0 822.8L1029.0 807.8L1031.5 809.4Z"/>
<path class="c17" d="M1035.5 836.2L1032.7 829.5L1031.5 809.4L1033.9 811.0Z"/>
<path class="c18" d="M1038.2 842.8L1035.5 836.2L1033.9 811.0L1036.4 812.6Z"/>
<path class="c19" d="M1038.2 842.8L1036.4 812.6L1038.8 814.2L1042.6 845.2L1039.3 845.4Z"/>
<path class="c20" d="M1038.8 814.2L1041.3 815.7L1047.8 844.9L1042.6 845.2Z"/>
<path class="c21" d="M1041.3 815.7L1043.7 817.3L1053.1 844.7L1047.8 844.9Z"/>
<path class="c22" d="M1043.7 817.3L1046.2 818.9L1058.3 844.4L1053.1 844.7Z"/>
<path class="c23" d="M1046.2 818.9L1048.6 820.5L1063.6 844.1L1058.3 844.4Z"/>
<path class="c24" d="M1048.6 820.5L1051.1 822.1L1068.9 843.8L1063.6 844.1Z"/>
<path class="c25" d="M1051.1 822.1L1052.0 822.7L1069.5 843.8L1068.9 843.8Z"/>
<path class="c13" d="M1017.0 799.7L1021.8 803.1L1024.4 809.5Z"/>
<path class="c14" d="M1012.0 796.0L1017.0 799.7L1024.4 809.5L1027.2 816.1Z"/>
<path class="c15" d="M1007.0 792.3L1012.0 796.0L1027.2 816.1L1030.0 822.8Z"/>
<path class="c16" d="M1001.9 788.6L1007.0 792.3L1030.0 822.8L1032.7 829.5Z"/>
<path class="c17" d="M996.9 785.0L1001.9 788.6L1032.7 829.5L1035.5 836.2Z"/>
<path class="c18" d="M991.8 781.3L996.9 785.0L1035.5 836.2L1038.2 842.8Z"/>
<path class="c19" d="M997.6 799.9L991.6 781.1L991.8 781.3L1038.2 842.8L1039.3 845.4L1031.7 843.0Z"/>
<path class="c20" d="M1003.9 819.6L997.6 799.9L1031.7 843.0L1019.3 839.1Z"/>
<path class="c21" d="M1003.9 819.6L1019.3 839.1L1009.1 835.8Z"/>
<path class="c19" d="M970.0 789.8L991.6 781.1L997.6 799.9Z"/>
<path class="c20" d="M975.5 818.6L961.4 793.2L970.0 789.8L997.6 799.9L1003.9 819.6Z"/>
<path class="c21" d="M975.5 818.6L1003.9 819.6L1009.1 835.8L978.9 824.7Z"/>
<path class="c20" d="M955.1 790.5L961.4 793.2L975.5 818.6Z"/>
<path class="c21" d="M944.9 786.3L955.1 790.5L975.5 818.6L978.9 824.7L968.9 820.0Z"/>
<path class="c22" d="M934.8 782.1L944.9 786.3L968.9 820.0L957.1 814.6Z"/>
<path class="c23" d="M931.2 780.6L934.8 782.1L957.1 814.6L948.7 810.6Z"/>
<path class="c22" d="M902.0 789.9L901.0 788.3L907.8 786.5Z"/>
<path class="c23" d="M912.0 805.4L902.0 789.9L907.8 786.5L931.2 780.6L948.7 810.6L939.5 812.1Z"/>
<path class="c24" d="M912.0 805.4L939.5 812.1L918.5 815.5Z"/>
<path class="c20" d="M873.1 797.7L870.8 791.6L877.7 790.9Z"/>
<path class="c21" d="M877.2 808.5L873.1 797.7L877.7 790.9L890.0 789.5Z"/>
<path class="c22" d="M881.3 819.2L877.2 808.5L890.0 789.5L901.0 788.3L902.0 789.9Z"/>
<path class="c23" d="M885.3 830.0L881.3 819.2L902.0 789.9L912.0 805.4Z"/>
<path class="c24" d="M885.3 830.0L912.0 805.4L918.5 815.5L888.3 837.7Z"/>
<path class="c20" d="M841.8 792.1L840.6 789.2L870.8 791.6L873.1 797.7Z"/>
<path class="c21" d="M846.1 802.5L841.8 792.1L873.1 797.7L877.2 808.5Z"/>
<path class="c22" d="M850.5 812.8L846.1 802.5L877.2 808.5L881.3 819.2Z"/>
<path class="c23" d="M854.8 823.2L850.5 812.8L881.3 819.2L885.3 830.0Z"/>
<path class="c24" d="M854.8 823.2L885.3 830.0L888.3 837.7L858.1 830.9Z"/>
<path class="c20" d="M812.9 825.6L810.4 820.1L840.6 789.2L841.8 792.1Z"/>
<path class="c21" d="M818.5 837.4L812.9 825.6L841.8 792.1L846.1 802.5Z"/>
<path class="c22" d="M824.0 849.2L818.5 837.4L846.1 802.5L850.5 812.8Z"/>
<path class="c23" d="M824.0 849.2L850.5 812.8L854.8 823.2L836.7 849.7L827.9 857.4Z"/>
<path class="c24" d="M854.8 823.2L858.1 830.9L836.7 849.7Z"/>
<path class="c20" d="M783.5 824.4L810.4 820.1L812.9 825.6Z"/>
<path class="c21" d="M786.5 837.9L780.2 824.9L783.5 824.4L812.9 825.6L818.5 837.4Z"/>
<path class="c22" d="M793.2 851.6L786.5 837.9L818.5 837.4L824.0 849.2Z"/>
<path class="c23" d="M793.2 851.6L824.0 849.2L827.9 857.4L797.6 860.8Z"/>
<path class="c9" d="M750.0 858.8L750.0 858.7L750.1 858.6Z"/>
<path class="c10" d="M751.3 860.5L750.0 858.8L750.1 858.6L752.8 855.5Z"/>
<path class="c11" d="M752.5 862.1L751.3 860.5L752.8 855.5L755.5 852.5Z"/>
<path class="c12" d="M753.8 863.8L752.5 862.1L755.5 852.5L758.2 849.4Z"/>
<path class="c13" d="M755.1 865.4L753.8 863.8L758.2 849.4L761.0 846.4Z"/>
<path class="c14" d="M756.3 867.1L755.1 865.4L761.0 846.4L763.7 843.4Z"/>
<path class="c15" d="M757.6 868.7L756.3 867.1L763.7 843.4L766.4 840.3Z"/>
<path class="c16" d="M758.9 870.4L757.6 868.7L766.4 840.3L769.1 837.3Z"/>
<path class="c17" d="M760.1 872.0L758.9 870.4L769.1 837.3L771.8 834.2Z"/>
<path class="c18" d="M761.4 873.7L760.1 872.0L771.8 834.2L774.6 831.2Z"/>
<path class="c19" d="M762.7 875.3L761.4 873.7L774.6 831.2L777.3 828.1Z"/>
<path class="c20" d="M763.9 877.0L762.7 875.3L777.3 828.1L780.0 825.1Z"/>
<path class="c21" d="M765.2 878.6L763.9 877.0L780.0 825.1L780.2 824.9L786.5 837.9Z"/>
<path class="c22" d="M766.5 880.3L765.2 878.6L786.5 837.9L793.2 851.6Z"/>
<path class="c23" d="M766.5 880.3L793.2 851.6L797.6 860.8L767.4 881.5Z"/>
<path class="c9" d="M749.6 858.9L750.0 858.7L750.0 858.8Z"/>
<path class="c10" d="M742.8 862.6L749.6 858.9L750.0 858.8L751.3 860.5Z"/>
<path class="c11" d="M735.9 866.4L742.8 862.6L751.3 860.5L752.5 862.1Z"/>
<path class="c12" d="M729.1 870.1L735.9 866.4L752.5 862.1L753.8 863.8Z"/>
<path class="c13" d="M722.2 873.8L729.1 870.1L753.8 863.8L755.1 865.4Z"/>
<path class="c14" d="M721.1 876.9L719.7 875.1L722.2 873.8L755.1 865.4L756.3 867.1Z"/>
<path class="c15" d="M723.1 879.6L721.1 876.9L756.3 867.1L757.6 868.7Z"/>
<path class="c16" d="M725.2 882.2L723.1 879.6L757.6 868.7L758.9 870.4Z"/>
<path class="c17" d="M727.3 884.9L725.2 882.2L758.9 870.4L760.1 872.0Z"/>
<path class="c18" d="M729.3 887.6L727.3 884.9L760.1 872.0L761.4 873.7Z"/>
<path class="c19" d="M731.4 890.3L729.3 887.6L761.4 873.7L762.7 875.3Z"/>
<path class="c20" d="M733.4 893.0L731.4 890.3L762.7 875.3L763.9 877.0Z"/>
<path class="c21" d="M735.5 895.7L733.4 893.0L763.9 877.0L765.2 878.6Z"/>
<path class="c22" d="M735.5 895.7L765.2 878.6L766.5 880.3L742.4 895.2L737.2 898.0Z"/>
<path class="c23" d="M766.5 880.3L767.4 881.5L742.4 895.2Z"/>
<path class="c14" d="M717.1 877.1L719.7 875.1L721.1 876.9Z"/>
<path class="c15" d="M713.0 880.1L717.1 877.1L721.1 876.9L723.1 879.6Z"/>
<path class="c16" d="M708.9 883.1L713.0 880.1L723.1 879.6L725.2 882.2Z"/>
<path class="c17" d="M705.4 904.9L704.7 886.2L708.9 883.1L725.2 882.2L727.3 884.9L709.2 905.1L707.0 905.7Z"/>
<path class="c18" d="M705.4 904.9L701.1 902.9L700.6 889.2L704.7 886.2L727.3 884.9L729.3 887.6L715.0 903.6L709.2 905.1Z"/>
<path class="c19" d="M701.1 902.9L696.8 900.8L696.5 892.2L700.6 889.2L729.3 887.6L731.4 890.3L720.8 902.2L715.0 903.6Z"/>
<path class="c20" d="M696.8 900.8L692.5 898.8L692.4 895.2L696.5 892.2L731.4 890.3L733.4 893.0L726.6 900.7L720.8 902.2Z"/>
<path class="c21" d="M692.5 898.8L689.5 897.4L692.4 895.2L733.4 893.0L735.5 895.7L732.4 899.2L726.6 900.7Z"/>
<path class="c22" d="M735.5 895.7L737.2 898.0L732.4 899.2Z"/>
<path class="c17" d="M676.3 914.4L705.4 904.9L707.0 905.7L676.8 914.8Z"/>
<path class="c18" d="M676.3 914.4L670.7 909.4L701.1 902.9L705.4 904.9Z"/>
<path class="c19" d="M670.7 909.4L665.1 904.4L696.8 900.8L701.1 902.9Z"/>
<path class="c20" d="M665.1 904.4L659.6 899.5L692.5 898.8L696.8 900.8Z"/>
<path class="c21" d="M659.6 899.5L659.3 899.3L689.5 897.4L692.5 898.8Z"/>
<path class="c13" d="M637.5 917.4L629.1 911.3L632.6 909.9Z"/>
<path class="c14" d="M646.6 924.0L637.5 917.4L632.6 909.9L636.4 908.4Z"/>
<path class="c15" d="M646.6 924.0L636.4 908.4L640.2 906.9L657.0 920.8L646.6 924.0Z"/>
<path class="c16" d="M640.2 906.9L644.0 905.4L667.4 917.7L657.0 920.8Z"/>
<path class="c17" d="M644.0 905.4L647.8 903.9L676.3 914.4L676.8 914.8L667.4 917.7Z"/>
<path class="c18" d="M647.8 903.9L651.6 902.4L670.7 909.4L676.3 914.4Z"/>
<path class="c19" d="M651.6 902.4L655.4 900.8L665.1 904.4L670.7 909.4Z"/>
<path class="c20" d="M655.4 900.8L659.2 899.3L659.6 899.5L665.1 904.4Z"/>
<path class="c21" d="M659.2 899.3L659.3 899.3L659.6 899.5Z"/>
<path class="c11" d="M598.9 923.4L600.5 922.7L623.8 928.7L616.4 930.2Z"/>
<path class="c12" d="M600.5 922.7L626.9 912.2L631.4 927.1L623.8 928.7Z"/>
<path class="c13" d="M626.9 912.2L629.1 911.3L637.5 917.4L639.0 925.6L631.4 927.1Z"/>
<path class="c14" d="M637.5 917.4L646.6 924.0L646.6 924.0L639.0 925.6Z"/>
<path class="c15" d="M646.6 924.0L646.6 924.0L646.6 924.0Z"/>
<path class="c8" d="M584.1 936.7L591.1 936.7L586.2 937.9Z"/>
<path class="c9" d="M584.1 936.7L578.6 933.7L603.6 933.5L591.1 936.7Z"/>
<path class="c10" d="M578.6 933.7L573.1 930.6L616.0 930.3L603.6 933.5Z"/>
<path class="c11" d="M573.1 930.6L568.7 928.2L598.9 923.4L616.4 930.2L616.0 930.3Z"/>
<path class="c7" d="M1435.4 803.5L1432.0 801.8L1459.1 798.6Z"/>
<path class="c8" d="M1435.4 803.5L1459.1 798.6L1462.2 798.3L1479.7 806.7L1449.5 810.7Z"/>
<path class="c3" d="M1402.4 802.8L1401.8 802.5L1402.9 802.5Z"/>
<path class="c4" d="M1406.4 805.0L1402.4 802.8L1402.9 802.5L1410.5 802.3Z"/>
<path class="c5" d="M1410.4 807.1L1406.4 805.0L1410.5 802.3L1418.2 802.1Z"/>
<path class="c6" d="M1414.4 809.2L1410.4 807.1L1418.2 802.1L1425.8 801.9Z"/>
<path class="c7" d="M1418.4 811.4L1414.4 809.2L1425.8 801.9L1432.0 801.8L1435.4 803.5Z"/>
<path class="c8" d="M1418.4 811.4L1435.4 803.5L1449.5 810.7L1419.3 811.8Z"/>
<path class="c3" d="M1386.7 800.1L1371.6 795.6L1401.8 802.5L1402.4 802.8Z"/>
<path class="c4" d="M1386.7 800.1L1402.4 802.8L1406.4 805.0L1395.8 803.3L1389.1 800.8Z"/>
<path class="c5" d="M1406.4 805.0L1410.4 807.1L1403.1 805.9L1395.8 803.3Z"/>
<path class="c6" d="M1410.4 807.1L1414.4 809.2L1410.4 808.6L1403.1 805.9Z"/>
<path class="c7" d="M1414.4 809.2L1418.4 811.4L1417.6 811.2L1410.4 808.6Z"/>
<path class="c8" d="M1418.4 811.4L1419.3 811.8L1417.6 811.2Z"/>
<path class="c2" d="M1345.3 766.9L1341.4 762.7L1343.2 764.3Z"/>
<path class="c3" d="M1358.9 778.7L1383.0 796.4L1386.7 800.1L1371.6 795.6L1345.3 766.9L1343.2 764.3Z"/>
<path class="c4" d="M1383.0 796.4L1389.1 800.8L1386.7 800.1Z"/>
<path class="c2" d="M1317.7 722.9L1311.2 711.5L1321.8 729.6ZM1343.2 764.3L1341.4 762.7L1330.2 743.7L1331.5 745.3Z"/>
<path class="c3" d="M1317.7 722.9L1321.8 729.6L1330.2 743.7L1328.7 741.8ZM1358.9 778.7L1343.2 764.3L1331.5 745.3Z"/>
<path class="c2" d="M1317.7 722.9L1311.2 711.5L1295.5 682.1Z"/>
<path class="c3" d="M1326.9 739.1L1328.7 741.8L1317.7 722.9L1295.5 682.1L1281.0 654.9L1282.4 658.3Z"/>
<path class="c4" d="M1284.5 663.0L1282.4 658.3L1326.9 739.1L1323.2 733.5Z"/>
<path class="c5" d="M1286.5 667.7L1284.5 663.0L1323.2 733.5L1319.6 727.8Z"/>
<path class="c6" d="M1288.6 672.4L1286.5 667.7L1319.6 727.8L1316.0 722.2Z"/>
<path class="c7" d="M1290.6 677.1L1288.6 672.4L1316.0 722.2L1312.3 716.5Z"/>
<path class="c8" d="M1292.7 681.8L1290.6 677.1L1312.3 716.5L1308.7 710.8Z"/>
<path class="c9" d="M1294.7 686.5L1292.7 681.8L1308.7 710.8L1305.0 705.2Z"/>
<path class="c10" d="M1296.8 691.2L1294.7 686.5L1305.0 705.2L1301.4 699.5Z"/>
<path class="c11" d="M1296.8 691.2L1301.4 699.5L1298.5 695.0Z"/>
<path class="c3" d="M1279.7 654.0L1281.0 654.9L1282.4 658.3Z"/>
<path class="c4" d="M1278.0 652.6L1279.7 654.0L1282.4 658.3L1284.5 663.0Z"/>
<path class="c5" d="M1276.2 651.3L1278.0 652.6L1284.5 663.0L1286.5 667.7Z"/>
<path class="c6" d="M1274.4 650.0L1276.2 651.3L1286.5 667.7L1288.6 672.4Z"/>
<path class="c7" d="M1272.7 648.6L1274.4 650.0L1288.6 672.4L1290.6 677.1Z"/>
<path class="c8" d="M1270.9 647.3L1272.7 648.6L1290.6 677.1L1292.7 681.8Z"/>
<path class="c9" d="M1269.2 646.0L1270.9 647.3L1292.7 681.8L1294.7 686.5Z"/>
<path class="c10" d="M1267.4 644.6L1269.2 646.0L1294.7 686.5L1296.8 691.2Z"/>
<path class="c11" d="M1265.7 643.3L1267.4 644.6L1296.8 691.2L1298.5 695.0L1297.4 694.7Z"/>
<path class="c12" d="M1263.9 641.9L1265.7 643.3L1297.4 694.7L1291.9 692.9Z"/>
<path class="c13" d="M1262.2 640.6L1263.9 641.9L1291.9 692.9L1286.4 691.2Z"/>
<path class="c14" d="M1260.4 639.3L1262.2 640.6L1286.4 691.2L1280.9 689.5Z"/>
<path class="c15" d="M1258.7 637.9L1260.4 639.3L1280.9 689.5L1275.4 687.7Z"/>
<path class="c16" d="M1256.9 636.6L1258.7 637.9L1275.4 687.7L1270.0 686.0Z"/>
<path class="c17" d="M1264.5 674.0L1255.2 635.3L1256.9 636.6L1270.0 686.0L1268.2 685.5Z"/>
<path class="c18" d="M1264.5 674.0L1259.0 657.2L1253.4 633.9L1255.2 635.3Z"/>
<path class="c19" d="M1259.0 657.2L1253.6 640.5L1251.7 632.6L1253.4 633.9Z"/>
<path class="c20" d="M1253.6 640.5L1250.8 631.9L1251.7 632.6Z"/>
<path class="c0" d="M1222.2 669.8L1220.5 665.9L1221.7 664.6ZM1224.4 674.8L1222.2 669.8L1221.7 664.6L1223.2 662.9Z"/>
<path class="c2" d="M1226.5 679.8L1224.4 674.8L1223.2 662.9L1224.7 661.2Z"/>
<path class="c3" d="M1228.7 684.9L1226.5 679.8L1224.7 661.2L1226.2 659.5Z"/>
<path class="c4" d="M1230.9 689.9L1228.7 684.9L1226.2 659.5L1227.7 657.9Z"/>
<path class="c5" d="M1233.0 695.0L1230.9 689.9L1227.7 657.9L1229.1 656.2Z"/>
<path class="c6" d="M1235.2 700.0L1233.0 695.0L1229.1 656.2L1230.6 654.5Z"/>
<path class="c7" d="M1237.4 705.1L1235.2 700.0L1230.6 654.5L1232.1 652.8Z"/>
<path class="c8" d="M1237.4 705.1L1232.1 652.8L1233.6 651.2L1240.3 705.0L1238.0 706.7Z"/>
<path class="c9" d="M1233.6 651.2L1235.1 649.5L1243.7 702.7L1240.3 705.0Z"/>
<path class="c10" d="M1235.1 649.5L1236.6 647.8L1247.0 700.3L1243.7 702.7Z"/>
<path class="c11" d="M1236.6 647.8L1238.1 646.1L1250.4 698.0L1247.0 700.3Z"/>
<path class="c12" d="M1238.1 646.1L1239.6 644.5L1253.8 695.6L1250.4 698.0Z"/>
<path class="c13" d="M1239.6 644.5L1241.1 642.8L1257.1 693.3L1253.8 695.6Z"/>
<path class="c14" d="M1241.1 642.8L1242.5 641.1L1260.5 690.9L1257.1 693.3Z"/>
<path class="c15" d="M1242.5 641.1L1244.0 639.4L1263.8 688.6L1260.5 690.9Z"/>
<path class="c16" d="M1244.0 639.4L1245.5 637.8L1267.2 686.2L1263.8 688.6Z"/>
<path class="c17" d="M1245.5 637.8L1247.0 636.1L1264.5 674.0L1268.2 685.5L1267.2 686.2Z"/>
<path class="c18" d="M1247.0 636.1L1248.5 634.4L1259.0 657.2L1264.5 674.0Z"/>
<path class="c19" d="M1248.5 634.4L1250.0 632.8L1253.6 640.5L1259.0 657.2Z"/>
<path class="c20" d="M1250.0 632.8L1250.8 631.9L1253.6 640.5Z"/>
<path class="c0" d="M1206.5 753.3L1190.3 724.0L1220.5 665.9L1222.2 669.8ZM1206.5 753.3L1222.2 669.8L1224.4 674.8L1211.7 749.5L1207.8 755.7Z"/>
<path class="c2" d="M1224.4 674.8L1226.5 679.8L1215.8 742.7L1211.7 749.5Z"/>
<path class="c3" d="M1226.5 679.8L1228.7 684.9L1220.0 735.9L1215.8 742.7Z"/>
<path class="c4" d="M1228.7 684.9L1230.9 689.9L1224.2 729.1L1220.0 735.9Z"/>
<path class="c5" d="M1230.9 689.9L1233.0 695.0L1228.4 722.4L1224.2 729.1Z"/>
<path class="c6" d="M1233.0 695.0L1235.2 700.0L1232.5 715.6L1228.4 722.4Z"/>
<path class="c7" d="M1235.2 700.0L1237.4 705.1L1236.7 708.8L1232.5 715.6Z"/>
<path class="c8" d="M1237.4 705.1L1238.0 706.7L1236.7 708.8Z"/>
<path class="c0" d="M1177.2 801.9L1160.1 791.6L1190.3 724.0L1206.5 753.3ZM1177.2 801.9L1206.5 753.3L1207.8 755.7L1177.6 802.1ZM1158.3 793.6L1160.1 791.6L1177.2 801.9ZM1156.3 795.6L1158.3 793.6L1177.2 801.9L1177.6 802.1L1174.8 805.8Z"/>
<path class="c2" d="M1154.3 797.6L1156.3 795.6L1174.8 805.8L1171.8 809.5Z"/>
<path class="c3" d="M1152.4 799.6L1154.3 797.6L1171.8 809.5L1168.9 813.3Z"/>
<path class="c4" d="M1150.4 801.7L1152.4 799.6L1168.9 813.3L1166.0 817.0Z"/>
<path class="c5" d="M1148.5 803.7L1150.4 801.7L1166.0 817.0L1163.1 820.8Z"/>
<path class="c6" d="M1146.5 805.7L1148.5 803.7L1163.1 820.8L1160.2 824.5Z"/>
<path class="c7" d="M1144.6 807.7L1146.5 805.7L1160.2 824.5L1157.2 828.3Z"/>
<path class="c8" d="M1142.6 809.7L1144.6 807.7L1157.2 828.3L1154.3 832.0Z"/>
<path class="c9" d="M1140.7 811.8L1142.6 809.7L1154.3 832.0L1151.4 835.8Z"/>
<path class="c10" d="M1138.7 813.8L1140.7 811.8L1151.4 835.8L1148.5 839.5Z"/>
<path class="c11" d="M1144.7 838.1L1136.7 815.8L1138.7 813.8L1148.5 839.5L1147.4 840.9Z"/>
<path class="c12" d="M1144.7 838.1L1140.5 833.7L1134.8 817.8L1136.7 815.8Z"/>
<path class="c13" d="M1140.5 833.7L1136.2 829.4L1132.8 819.8L1134.8 817.8Z"/>
<path class="c14" d="M1136.2 829.4L1132.0 825.0L1130.9 821.9L1132.8 819.8Z"/>
<path class="c15" d="M1132.0 825.0L1129.9 822.9L1130.9 821.9Z"/>
<path class="c11" d="M1117.1 852.1L1144.7 838.1L1147.4 840.9L1117.2 852.2Z"/>
<path class="c12" d="M1117.1 852.1L1115.7 851.1L1140.5 833.7L1144.7 838.1Z"/>
<path class="c13" d="M1115.7 851.1L1114.3 850.0L1136.2 829.4L1140.5 833.7Z"/>
<path class="c14" d="M1114.3 850.0L1112.9 849.0L1132.0 825.0L1136.2 829.4Z"/>
<path class="c15" d="M1112.9 849.0L1111.4 847.9L1128.2 823.8L1129.9 822.9L1132.0 825.0Z"/>
<path class="c16" d="M1111.4 847.9L1110.0 846.9L1124.8 825.7L1128.2 823.8Z"/>
<path class="c17" d="M1110.0 846.9L1108.6 845.9L1121.4 827.5L1124.8 825.7Z"/>
<path class="c18" d="M1108.6 845.9L1107.2 844.8L1117.9 829.4L1121.4 827.5Z"/>
<path class="c19" d="M1107.2 844.8L1105.8 843.8L1114.5 831.2L1117.9 829.4Z"/>
<path class="c20" d="M1105.8 843.8L1104.4 842.7L1111.1 833.1L1114.5 831.2Z"/>
<path class="c21" d="M1104.4 842.7L1103.0 841.7L1107.7 834.9L1111.1 833.1Z"/>
<path class="c22" d="M1103.0 841.7L1101.6 840.7L1104.3 836.8L1107.7 834.9Z"/>
<path class="c23" d="M1101.6 840.7L1100.2 839.6L1100.9 838.6L1104.3 836.8Z"/>
<path class="c24" d="M1100.2 839.6L1099.7 839.3L1100.9 838.6Z"/>
<path class="c11" d="M1117.1 852.1L1117.2 852.2L1114.9 852.8Z"/>
<path class="c12" d="M1115.7 851.1L1117.1 852.1L1114.9 852.8L1091.7 858.8Z"/>
<path class="c13" d="M1085.8 859.0L1114.3 850.0L1115.7 851.1L1091.7 858.8L1087.0 860.1Z"/>
<path class="c14" d="M1085.8 859.0L1084.4 857.6L1112.9 849.0L1114.3 850.0Z"/>
<path class="c15" d="M1084.4 857.6L1082.9 856.2L1111.4 847.9L1112.9 849.0Z"/>
<path class="c16" d="M1082.9 856.2L1081.4 854.9L1110.0 846.9L1111.4 847.9Z"/>
<path class="c17" d="M1081.4 854.9L1080.0 853.5L1108.6 845.9L1110.0 846.9Z"/>
<path class="c18" d="M1080.0 853.5L1078.5 852.1L1107.2 844.8L1108.6 845.9Z"/>
<path class="c19" d="M1078.5 852.1L1077.0 850.8L1105.8 843.8L1107.2 844.8Z"/>
<path class="c20" d="M1077.0 850.8L1075.6 849.4L1104.4 842.7L1105.8 843.8Z"/>
<path class="c21" d="M1075.6 849.4L1074.1 848.0L1103.0 841.7L1104.4 842.7Z"/>
<path class="c22" d="M1074.1 848.0L1072.6 846.7L1101.6 840.7L1103.0 841.7Z"/>
<path class="c23" d="M1072.6 846.7L1071.2 845.3L1100.2 839.6L1101.6 840.7Z"/>
<path class="c24" d="M1071.2 845.3L1069.7 843.9L1074.3 843.1L1099.7 839.3L1100.2 839.6Z"/>
<path class="c25" d="M1069.7 843.9L1069.5 843.8L1074.3 843.1Z"/>
<path class="c13" d="M1085.8 859.0L1087.0 860.1L1084.6 859.8Z"/>
<path class="c14" d="M1084.4 857.6L1085.8 859.0L1084.6 859.8L1081.6 859.5Z"/>
<path class="c15" d="M1082.9 856.2L1084.4 857.6L1081.6 859.5L1078.5 859.1Z"/>
<path class="c16" d="M1081.4 854.9L1082.9 856.2L1078.5 859.1L1075.5 858.8Z"/>
<path class="c17" d="M1080.0 853.5L1081.4 854.9L1075.5 858.8L1072.5 858.5Z"/>
<path class="c18" d="M1078.5 852.1L1080.0 853.5L1072.5 858.5L1069.5 858.1Z"/>
<path class="c19" d="M1042.1 847.2L1039.3 845.4L1042.6 845.2L1077.0 850.8L1078.5 852.1L1069.5 858.1L1066.4 857.8Z"/>
<path class="c20" d="M1046.7 850.2L1042.1 847.2L1042.6 845.2L1047.8 844.9L1075.6 849.4L1077.0 850.8L1066.4 857.8L1063.4 857.5Z"/>
<path class="c21" d="M1051.3 853.2L1046.7 850.2L1047.8 844.9L1053.1 844.7L1074.1 848.0L1075.6 849.4L1063.4 857.5L1060.4 857.1Z"/>
<path class="c22" d="M1055.9 856.2L1051.3 853.2L1053.1 844.7L1058.3 844.4L1072.6 846.7L1074.1 848.0L1060.4 857.1L1057.4 856.8Z"/>
<path class="c23" d="M1055.9 856.2L1058.3 844.4L1063.6 844.1L1071.2 845.3L1072.6 846.7L1057.4 856.8L1056.8 856.8Z"/>
<path class="c24" d="M1063.6 844.1L1068.9 843.8L1069.7 843.9L1071.2 845.3Z"/>
<path class="c25" d="M1068.9 843.8L1069.5 843.8L1069.7 843.9Z"/>
<path class="c19" d="M1031.7 843.0L1039.3 845.4L1042.1 847.2Z"/>
<path class="c20" d="M1019.3 839.1L1031.7 843.0L1042.1 847.2L1046.7 850.2Z"/>
<path class="c21" d="M1012.6 840.7L1009.1 835.8L1019.3 839.1L1046.7 850.2L1051.3 853.2Z"/>
<path class="c22" d="M1012.6 840.7L1051.3 853.2L1055.9 856.2L1045.1 858.1L1026.6 860.1Z"/>
<path class="c23" d="M1055.9 856.2L1056.8 856.8L1045.1 858.1Z"/>
<path class="c21" d="M981.7 830.0L978.9 824.7L1009.1 835.8L1012.6 840.7Z"/>
<path class="c22" d="M985.0 836.1L981.7 830.0L1012.6 840.7L1026.6 860.1L1024.2 859.9Z"/>
<path class="c23" d="M988.2 842.3L985.0 836.1L1024.2 859.9L1016.2 859.3Z"/>
<path class="c24" d="M991.5 848.5L988.2 842.3L1016.2 859.3L1008.2 858.6Z"/>
<path class="c25" d="M994.8 854.7L991.5 848.5L1008.2 858.6L1000.2 858.0Z"/>
<path class="c26" d="M994.8 854.7L1000.2 858.0L996.4 857.7Z"/>
<path class="c21" d="M968.9 820.0L978.9 824.7L981.7 830.0Z"/>
<path class="c22" d="M957.1 814.6L968.9 820.0L981.7 830.0L985.0 836.1Z"/>
<path class="c23" d="M950.5 816.6L948.7 810.6L957.1 814.6L985.0 836.1L988.2 842.3Z"/>
<path class="c24" d="M957.1 837.7L950.5 816.6L988.2 842.3L991.5 848.5Z"/>
<path class="c25" d="M963.7 858.9L957.1 837.7L991.5 848.5L994.8 854.7Z"/>
<path class="c26" d="M963.7 858.9L994.8 854.7L996.4 857.7L966.2 866.8Z"/>
<path class="c23" d="M939.5 812.1L948.7 810.6L950.5 816.6Z"/>
<path class="c24" d="M921.9 822.4L918.5 815.5L939.5 812.1L950.5 816.6L957.1 837.7Z"/>
<path class="c25" d="M931.4 842.0L921.9 822.4L957.1 837.7L963.7 858.9Z"/>
<path class="c26" d="M931.4 842.0L963.7 858.9L966.2 866.8L936.0 851.3Z"/>
<path class="c24" d="M891.6 842.0L888.3 837.7L918.5 815.5L921.9 822.4Z"/>
<path class="c25" d="M903.5 857.5L891.6 842.0L921.9 822.4L931.4 842.0Z"/>
<path class="c26" d="M903.5 857.5L931.4 842.0L936.0 851.3L905.8 860.5Z"/>
<path class="c24" d="M863.1 841.5L858.1 830.9L888.3 837.7L891.6 842.0Z"/>
<path class="c25" d="M863.1 841.5L891.6 842.0L903.5 857.5L894.9 863.3L875.6 868.2Z"/>
<path class="c26" d="M903.5 857.5L905.8 860.5L894.9 863.3Z"/>
<path class="c23" d="M832.5 862.3L827.9 857.4L836.7 849.7Z"/>
<path class="c24" d="M832.5 862.3L836.7 849.7L858.1 830.9L863.1 841.5L851.2 874.4L845.3 875.9Z"/>
<path class="c25" d="M863.1 841.5L875.6 868.2L851.2 874.4Z"/>
<path class="c22" d="M806.5 876.8L823.0 888.1L815.1 892.3Z"/>
<path class="c23" d="M806.5 876.8L797.6 860.8L827.9 857.4L832.5 862.3L835.1 881.5L823.0 888.1Z"/>
<path class="c24" d="M832.5 862.3L845.3 875.9L835.1 881.5Z"/>
<path class="c22" d="M806.5 876.8L815.1 892.3L807.5 897.2Z"/>
<path class="c23" d="M770.9 887.4L767.4 881.5L797.6 860.8L806.5 876.8L807.5 897.2L795.8 904.7Z"/>
<path class="c24" d="M770.9 887.4L795.8 904.7L784.9 911.6Z"/>
<path class="c22" d="M742.2 900.7L737.2 898.0L742.4 895.2Z"/>
<path class="c23" d="M742.2 900.7L742.4 895.2L767.4 881.5L770.9 887.4L766.7 909.3L754.7 907.7Z"/>
<path class="c24" d="M770.9 887.4L784.9 911.6L766.7 909.3Z"/>
<path class="c17" d="M718.6 915.0L707.0 905.7L709.2 905.1Z"/>
<path class="c18" d="M718.6 915.0L709.2 905.1L715.0 903.6L729.2 917.9L724.5 919.8Z"/>
<path class="c19" d="M715.0 903.6L720.8 902.2L735.0 915.6L729.2 917.9Z"/>
<path class="c20" d="M720.8 902.2L726.6 900.7L740.8 913.3L735.0 915.6Z"/>
<path class="c21" d="M726.6 900.7L732.4 899.2L746.6 911.0L740.8 913.3Z"/>
<path class="c22" d="M732.4 899.2L737.2 898.0L742.2 900.7L752.4 908.6L746.6 911.0Z"/>
<path class="c23" d="M742.2 900.7L754.7 907.7L752.4 908.6Z"/>
<path class="c15" d="M689.5 925.0L701.8 926.7L694.3 928.9Z"/>
<path class="c16" d="M689.5 925.0L682.8 919.7L712.2 923.5L701.8 926.7Z"/>
<path class="c17" d="M682.8 919.7L676.8 914.8L707.0 905.7L718.6 915.0L722.5 920.4L712.2 923.5Z"/>
<path class="c18" d="M718.6 915.0L724.5 919.8L722.5 920.4Z"/>
<path class="c12" d="M664.1 935.2L664.2 935.2L664.1 935.2Z"/>
<path class="c13" d="M664.1 935.2L655.4 929.6L677.4 932.4L664.2 935.2Z"/>
<path class="c14" d="M655.4 929.6L646.7 924.0L690.7 929.7L677.4 932.4Z"/>
<path class="c15" d="M646.7 924.0L646.6 924.0L657.0 920.8L689.5 925.0L694.3 928.9L690.7 929.7Z"/>
<path class="c16" d="M657.0 920.8L667.4 917.7L682.8 919.7L689.5 925.0Z"/>
<path class="c17" d="M667.4 917.7L676.8 914.8L682.8 919.7Z"/>
<path class="c11" d="M616.4 930.2L623.8 928.7L637.0 939.5L633.9 940.0Z"/>
<path class="c12" d="M623.8 928.7L631.4 927.1L664.1 935.2L664.1 935.2L637.0 939.5Z"/>
<path class="c13" d="M631.4 927.1L639.0 925.6L655.4 929.6L664.1 935.2Z"/>
<path class="c14" d="M639.0 925.6L646.6 924.0L646.7 924.0L655.4 929.6Z"/>
<path class="c15" d="M646.6 924.0L646.6 924.0L646.7 924.0Z"/>
<path class="c8" d="M588.9 939.0L586.2 937.9L591.1 936.7Z"/>
<path class="c9" d="M595.8 941.7L588.9 939.0L591.1 936.7L603.6 933.5Z"/>
<path class="c10" d="M602.8 944.4L595.8 941.7L603.6 933.5L616.0 930.3Z"/>
<path class="c11" d="M602.8 944.4L616.0 930.3L616.4 930.2L633.9 940.0L603.7 944.8Z"/>
<path class="c8" d="M1453.8 812.7L1449.5 810.7L1479.7 806.7L1497.2 815.2L1490.0 816.1Z"/>
<path class="c9" d="M1453.8 812.7L1490.0 816.1L1467.0 819.1Z"/>
<path class="c8" d="M1423.0 814.1L1419.3 811.8L1449.5 810.7L1453.8 812.7Z"/>
<path class="c9" d="M1427.8 817.0L1423.0 814.1L1453.8 812.7L1467.0 819.1L1461.4 819.7Z"/>
<path class="c10" d="M1432.6 819.9L1427.8 817.0L1461.4 819.7L1448.2 821.2Z"/>
<path class="c11" d="M1432.6 819.9L1448.2 821.2L1436.8 822.5Z"/>
<path class="c4" d="M1390.6 802.6L1389.1 800.8L1395.8 803.3Z"/>
<path class="c5" d="M1392.3 804.4L1390.6 802.6L1395.8 803.3L1403.1 805.9Z"/>
<path class="c6" d="M1393.9 806.3L1392.3 804.4L1403.1 805.9L1410.4 808.6Z"/>
<path class="c7" d="M1395.5 808.1L1393.9 806.3L1410.4 808.6L1417.6 811.2Z"/>
<path class="c8" d="M1397.2 809.9L1395.5 808.1L1417.6 811.2L1419.3 811.8L1423.0 814.1Z"/>
<path class="c9" d="M1398.8 811.8L1397.2 809.9L1423.0 814.1L1427.8 817.0Z"/>
<path class="c10" d="M1400.5 813.6L1398.8 811.8L1427.8 817.0L1432.6 819.9Z"/>
<path class="c11" d="M1402.1 815.5L1400.5 813.6L1432.6 819.9L1436.8 822.5L1435.4 822.4Z"/>
<path class="c12" d="M1403.8 817.3L1402.1 815.5L1435.4 822.4L1424.7 821.7Z"/>
<path class="c13" d="M1405.4 819.2L1403.8 817.3L1424.7 821.7L1414.0 821.0Z"/>
<path class="c14" d="M1405.4 819.2L1414.0 821.0L1406.6 820.5Z"/>
<path class="c3" d="M1359.4 779.7L1358.9 778.7L1383.0 796.4Z"/>
<path class="c4" d="M1361.5 783.7L1359.4 779.7L1383.0 796.4L1389.1 800.8L1390.6 802.6Z"/>
<path class="c5" d="M1363.6 787.7L1361.5 783.7L1390.6 802.6L1392.3 804.4Z"/>
<path class="c6" d="M1365.7 791.6L1363.6 787.7L1392.3 804.4L1393.9 806.3Z"/>
<path class="c7" d="M1367.8 795.6L1365.7 791.6L1393.9 806.3L1395.5 808.1Z"/>
<path class="c8" d="M1369.9 799.6L1367.8 795.6L1395.5 808.1L1397.2 809.9Z"/>
<path class="c9" d="M1372.0 803.6L1369.9 799.6L1397.2 809.9L1398.8 811.8Z"/>
<path class="c10" d="M1374.0 807.5L1372.0 803.6L1398.8 811.8L1400.5 813.6Z"/>
<path class="c11" d="M1376.1 811.5L1374.0 807.5L1400.5 813.6L1402.1 815.5Z"/>
<path class="c12" d="M1376.1 811.5L1402.1 815.5L1403.8 817.3L1386.8 814.9L1376.4 811.9Z"/>
<path class="c13" d="M1403.8 817.3L1405.4 819.2L1398.4 818.2L1386.8 814.9Z"/>
<path class="c14" d="M1405.4 819.2L1406.6 820.5L1398.4 818.2Z"/>
<path class="c3" d="M1329.7 744.6L1328.7 741.8L1358.9 778.7L1359.4 779.7Z"/>
<path class="c4" d="M1331.9 750.2L1329.7 744.6L1359.4 779.7L1361.5 783.7Z"/>
<path class="c5" d="M1334.1 755.8L1331.9 750.2L1361.5 783.7L1363.6 787.7Z"/>
<path class="c6" d="M1336.2 761.4L1334.1 755.8L1363.6 787.7L1365.7 791.6Z"/>
<path class="c7" d="M1338.4 767.1L1336.2 761.4L1365.7 791.6L1367.8 795.6Z"/>
<path class="c8" d="M1340.6 772.7L1338.4 767.1L1367.8 795.6L1369.9 799.6Z"/>
<path class="c9" d="M1342.7 778.3L1340.6 772.7L1369.9 799.6L1372.0 803.6Z"/>
<path class="c10" d="M1344.9 783.9L1342.7 778.3L1372.0 803.6L1374.0 807.5Z"/>
<path class="c11" d="M1344.9 783.9L1374.0 807.5L1376.1 811.5L1370.3 807.0L1346.1 787.1Z"/>
<path class="c12" d="M1376.1 811.5L1376.4 811.9L1370.3 807.0Z"/>
<path class="c3" d="M1326.9 739.1L1328.7 741.8L1329.7 744.6Z"/>
<path class="c4" d="M1323.2 733.5L1326.9 739.1L1329.7 744.6L1331.9 750.2Z"/>
<path class="c5" d="M1319.6 727.8L1323.2 733.5L1331.9 750.2L1334.1 755.8Z"/>
<path class="c6" d="M1316.0 722.2L1319.6 727.8L1334.1 755.8L1336.2 761.4Z"/>
<path class="c7" d="M1312.3 716.5L1316.0 722.2L1336.2 761.4L1338.4 767.1Z"/>
<path class="c8" d="M1308.7 710.8L1312.3 716.5L1338.4 767.1L1340.6 772.7Z"/>
<path class="c9" d="M1305.0 705.2L1308.7 710.8L1340.6 772.7L1342.7 778.3Z"/>
<path class="c10" d="M1301.4 699.5L1305.0 705.2L1342.7 778.3L1344.9 783.9Z"/>
<path class="c11" d="M1299.5 699.3L1298.5 695.0L1301.4 699.5L1344.9 783.9L1346.1 787.1L1342.5 784.8Z"/>
<path class="c12" d="M1304.7 720.9L1299.5 699.3L1342.5 784.8L1334.1 779.4Z"/>
<path class="c13" d="M1309.9 742.5L1304.7 720.9L1334.1 779.4L1325.7 773.9Z"/>
<path class="c14" d="M1315.1 764.1L1309.9 742.5L1325.7 773.9L1317.3 768.5Z"/>
<path class="c15" d="M1315.1 764.1L1317.3 768.5L1315.9 767.6Z"/>
<path class="c11" d="M1297.4 694.7L1298.5 695.0L1299.5 699.3Z"/>
<path class="c12" d="M1291.9 692.9L1297.4 694.7L1299.5 699.3L1304.7 720.9Z"/>
<path class="c13" d="M1286.4 691.2L1291.9 692.9L1304.7 720.9L1309.9 742.5Z"/>
<path class="c14" d="M1280.9 689.5L1286.4 691.2L1309.9 742.5L1315.1 764.1Z"/>
<path class="c15" d="M1275.4 687.7L1280.9 689.5L1315.1 764.1L1315.9 767.6L1292.2 759.9Z"/>
<path class="c16" d="M1273.3 706.4L1270.0 686.0L1275.4 687.7L1292.2 759.9L1285.7 757.9Z"/>
<path class="c17" d="M1273.3 706.4L1268.2 685.5L1270.0 686.0Z"/>
<path class="c8" d="M1240.7 717.8L1238.0 706.7L1240.3 705.0Z"/>
<path class="c9" d="M1244.6 734.1L1240.7 717.8L1240.3 705.0L1243.7 702.7Z"/>
<path class="c10" d="M1248.5 750.5L1244.6 734.1L1243.7 702.7L1247.0 700.3Z"/>
<path class="c11" d="M1252.4 766.8L1248.5 750.5L1247.0 700.3L1250.4 698.0Z"/>
<path class="c12" d="M1252.4 766.8L1250.4 698.0L1253.8 695.6L1257.2 778.9L1255.5 780.1Z"/>
<path class="c13" d="M1253.8 695.6L1257.1 693.3L1266.0 772.4L1257.2 778.9Z"/>
<path class="c14" d="M1257.1 693.3L1260.5 690.9L1274.9 765.9L1266.0 772.4Z"/>
<path class="c15" d="M1260.5 690.9L1263.8 688.6L1283.7 759.4L1274.9 765.9Z"/>
<path class="c16" d="M1263.8 688.6L1267.2 686.2L1273.3 706.4L1285.7 757.9L1283.7 759.4Z"/>
<path class="c17" d="M1267.2 686.2L1268.2 685.5L1273.3 706.4Z"/>
<path class="c0" d="M1209.6 761.4L1207.8 755.7L1211.7 749.5Z"/>
<path class="c2" d="M1211.6 767.5L1209.6 761.4L1211.7 749.5L1215.8 742.7Z"/>
<path class="c3" d="M1213.6 773.7L1211.6 767.5L1215.8 742.7L1220.0 735.9Z"/>
<path class="c4" d="M1215.5 779.8L1213.6 773.7L1220.0 735.9L1224.2 729.1Z"/>
<path class="c5" d="M1217.5 786.0L1215.5 779.8L1224.2 729.1L1228.4 722.4Z"/>
<path class="c6" d="M1219.5 792.1L1217.5 786.0L1228.4 722.4L1232.5 715.6Z"/>
<path class="c7" d="M1221.4 798.3L1219.5 792.1L1232.5 715.6L1236.7 708.8Z"/>
<path class="c8" d="M1223.4 804.4L1221.4 798.3L1236.7 708.8L1238.0 706.7L1240.7 717.8Z"/>
<path class="c9" d="M1223.4 804.4L1240.7 717.8L1244.6 734.1L1225.6 810.2L1225.3 810.4Z"/>
<path class="c10" d="M1244.6 734.1L1248.5 750.5L1236.2 799.5L1225.6 810.2Z"/>
<path class="c11" d="M1248.5 750.5L1252.4 766.8L1246.9 788.8L1236.2 799.5Z"/>
<path class="c12" d="M1252.4 766.8L1255.5 780.1L1246.9 788.8Z"/>
<path class="c0" d="M1178.8 804.6L1177.6 802.1L1207.8 755.7L1209.6 761.4Z"/>
<path class="c2" d="M1180.1 807.2L1178.8 804.6L1209.6 761.4L1211.6 767.5Z"/>
<path class="c3" d="M1181.3 809.8L1180.1 807.2L1211.6 767.5L1213.6 773.7Z"/>
<path class="c4" d="M1182.6 812.4L1181.3 809.8L1213.6 773.7L1215.5 779.8Z"/>
<path class="c5" d="M1183.8 814.9L1182.6 812.4L1215.5 779.8L1217.5 786.0Z"/>
<path class="c6" d="M1185.0 817.5L1183.8 814.9L1217.5 786.0L1219.5 792.1Z"/>
<path class="c7" d="M1186.3 820.1L1185.0 817.5L1219.5 792.1L1221.4 798.3Z"/>
<path class="c8" d="M1187.5 822.6L1186.3 820.1L1221.4 798.3L1223.4 804.4Z"/>
<path class="c9" d="M1188.7 825.2L1187.5 822.6L1223.4 804.4L1225.3 810.4L1225.2 810.6Z"/>
<path class="c10" d="M1190.0 827.8L1188.7 825.2L1225.2 810.6L1219.3 816.0Z"/>
<path class="c11" d="M1191.2 830.4L1190.0 827.8L1219.3 816.0L1213.5 821.4Z"/>
<path class="c12" d="M1192.5 832.9L1191.2 830.4L1213.5 821.4L1207.6 826.8Z"/>
<path class="c13" d="M1193.7 835.5L1192.5 832.9L1207.6 826.8L1201.8 832.2Z"/>
<path class="c14" d="M1194.9 838.1L1193.7 835.5L1201.8 832.2L1196.0 837.7Z"/>
<path class="c15" d="M1194.9 838.1L1196.0 837.7L1195.1 838.4Z"/>
<path class="c0" d="M1174.8 805.8L1177.6 802.1L1178.8 804.6Z"/>
<path class="c2" d="M1171.8 809.5L1174.8 805.8L1178.8 804.6L1180.1 807.2Z"/>
<path class="c3" d="M1168.9 813.3L1171.8 809.5L1180.1 807.2L1181.3 809.8Z"/>
<path class="c4" d="M1166.0 817.0L1168.9 813.3L1181.3 809.8L1182.6 812.4Z"/>
<path class="c5" d="M1163.1 820.8L1166.0 817.0L1182.6 812.4L1183.8 814.9Z"/>
<path class="c6" d="M1160.2 824.5L1163.1 820.8L1183.8 814.9L1185.0 817.5Z"/>
<path class="c7" d="M1157.2 828.3L1160.2 824.5L1185.0 817.5L1186.3 820.1Z"/>
<path class="c8" d="M1154.3 832.0L1157.2 828.3L1186.3 820.1L1187.5 822.6Z"/>
<path class="c9" d="M1151.4 835.8L1154.3 832.0L1187.5 822.6L1188.7 825.2Z"/>
<path class="c10" d="M1148.5 839.5L1151.4 835.8L1188.7 825.2L1190.0 827.8Z"/>
<path class="c11" d="M1148.7 841.8L1147.4 840.9L1148.5 839.5L1190.0 827.8L1191.2 830.4Z"/>
<path class="c12" d="M1150.8 843.3L1148.7 841.8L1191.2 830.4L1192.5 832.9Z"/>
<path class="c13" d="M1152.8 844.8L1150.8 843.3L1192.5 832.9L1193.7 835.5Z"/>
<path class="c14" d="M1154.9 846.3L1152.8 844.8L1193.7 835.5L1194.9 838.1Z"/>
<path class="c15" d="M1157.0 847.8L1154.9 846.3L1194.9 838.1L1195.1 838.4L1189.6 841.2Z"/>
<path class="c16" d="M1159.0 849.3L1157.0 847.8L1189.6 841.2L1183.2 844.4Z"/>
<path class="c17" d="M1161.1 850.8L1159.0 849.3L1183.2 844.4L1176.8 847.6Z"/>
<path class="c18" d="M1163.1 852.3L1161.1 850.8L1176.8 847.6L1170.4 850.8Z"/>
<path class="c19" d="M1163.1 852.3L1170.4 850.8L1164.9 853.5Z"/>
<path class="c11" d="M1117.2 852.2L1147.4 840.9L1148.7 841.8L1136.3 863.0L1134.7 863.6Z"/>
<path class="c12" d="M1148.7 841.8L1150.8 843.3L1140.0 861.8L1136.3 863.0Z"/>
<path class="c13" d="M1150.8 843.3L1152.8 844.8L1143.6 860.6L1140.0 861.8Z"/>
<path class="c14" d="M1152.8 844.8L1154.9 846.3L1147.2 859.4L1143.6 860.6Z"/>
<path class="c15" d="M1154.9 846.3L1157.0 847.8L1150.9 858.2L1147.2 859.4Z"/>
<path class="c16" d="M1157.0 847.8L1159.0 849.3L1154.5 857.0L1150.9 858.2Z"/>
<path class="c17" d="M1159.0 849.3L1161.1 850.8L1158.1 855.8L1154.5 857.0Z"/>
<path class="c18" d="M1161.1 850.8L1163.1 852.3L1161.8 854.6L1158.1 855.8Z"/>
<path class="c19" d="M1163.1 852.3L1164.9 853.5L1161.8 854.6Z"/>
<path class="c11" d="M1103.8 865.1L1114.9 852.8L1117.2 852.2L1134.7 863.6L1104.5 865.3Z"/>
<path class="c12" d="M1103.8 865.1L1089.9 860.9L1091.7 858.8L1114.9 852.8Z"/>
<path class="c13" d="M1089.9 860.9L1087.0 860.1L1091.7 858.8Z"/>
<path class="c11" d="M1103.8 865.1L1104.5 865.3L1104.2 865.5Z"/>
<path class="c12" d="M1089.9 860.9L1103.8 865.1L1104.2 865.5L1098.3 868.5Z"/>
<path class="c13" d="M1084.6 859.8L1087.0 860.1L1089.9 860.9L1098.3 868.5L1092.5 871.6Z"/>
<path class="c14" d="M1081.6 859.5L1084.6 859.8L1092.5 871.6L1086.7 874.6Z"/>
<path class="c15" d="M1078.5 859.1L1081.6 859.5L1086.7 874.6L1080.8 877.6Z"/>
<path class="c16" d="M1075.5 858.8L1078.5 859.1L1080.8 877.6L1075.0 880.7Z"/>
<path class="c17" d="M1071.8 877.5L1072.5 858.5L1075.5 858.8L1075.0 880.7L1074.3 881.0Z"/>
<path class="c18" d="M1071.8 877.5L1068.9 873.5L1069.5 858.1L1072.5 858.5Z"/>
<path class="c19" d="M1068.9 873.5L1066.0 869.5L1066.4 857.8L1069.5 858.1Z"/>
<path class="c20" d="M1066.0 869.5L1063.1 865.5L1063.4 857.5L1066.4 857.8Z"/>
<path class="c21" d="M1063.1 865.5L1060.2 861.5L1060.4 857.1L1063.4 857.5Z"/>
<path class="c22" d="M1060.2 861.5L1057.3 857.5L1057.4 856.8L1060.4 857.1Z"/>
<path class="c23" d="M1057.3 857.5L1056.8 856.8L1057.4 856.8Z"/>
<path class="c16" d="M1042.3 878.0L1069.6 880.9L1044.1 880.0Z"/>
<path class="c17" d="M1042.3 878.0L1039.5 874.8L1071.8 877.5L1074.3 881.0L1069.6 880.9Z"/>
<path class="c18" d="M1039.5 874.8L1036.8 871.7L1068.9 873.5L1071.8 877.5Z"/>
<path class="c19" d="M1036.8 871.7L1034.0 868.6L1066.0 869.5L1068.9 873.5Z"/>
<path class="c20" d="M1034.0 868.6L1031.3 865.4L1063.1 865.5L1066.0 869.5Z"/>
<path class="c21" d="M1031.3 865.4L1028.5 862.3L1060.2 861.5L1063.1 865.5Z"/>
<path class="c22" d="M1028.5 862.3L1026.6 860.1L1045.1 858.1L1057.3 857.5L1060.2 861.5Z"/>
<path class="c23" d="M1045.1 858.1L1056.8 856.8L1057.3 857.5Z"/>
<path class="c16" d="M1042.3 878.0L1044.1 880.0L1041.1 879.8Z"/>
<path class="c17" d="M1039.5 874.8L1042.3 878.0L1041.1 879.8L1036.6 879.4Z"/>
<path class="c18" d="M1036.8 871.7L1039.5 874.8L1036.6 879.4L1032.1 879.1Z"/>
<path class="c19" d="M1034.0 868.6L1036.8 871.7L1032.1 879.1L1027.6 878.7Z"/>
<path class="c20" d="M1031.3 865.4L1034.0 868.6L1027.6 878.7L1023.1 878.3Z"/>
<path class="c21" d="M1028.5 862.3L1031.3 865.4L1023.1 878.3L1018.6 878.0Z"/>
<path class="c22" d="M1024.2 859.9L1026.6 860.1L1028.5 862.3L1018.6 878.0L1014.0 877.6Z"/>
<path class="c23" d="M1009.0 872.0L1016.2 859.3L1024.2 859.9L1014.0 877.6L1013.9 877.6Z"/>
<path class="c24" d="M1009.0 872.0L1003.9 866.2L1008.2 858.6L1016.2 859.3Z"/>
<path class="c25" d="M1003.9 866.2L998.8 860.4L1000.2 858.0L1008.2 858.6Z"/>
<path class="c26" d="M998.8 860.4L996.4 857.7L1000.2 858.0Z"/>
<path class="c23" d="M982.5 881.4L1009.0 872.0L1013.9 877.6L983.7 882.4Z"/>
<path class="c24" d="M982.5 881.4L975.6 875.3L1003.9 866.2L1009.0 872.0Z"/>
<path class="c25" d="M975.6 875.3L968.8 869.1L998.8 860.4L1003.9 866.2Z"/>
<path class="c26" d="M968.8 869.1L966.2 866.8L996.4 857.7L998.8 860.4Z"/>
<path class="c23" d="M982.5 881.4L983.7 882.4L982.1 882.2Z"/>
<path class="c24" d="M975.6 875.3L982.5 881.4L982.1 882.2L972.7 881.0Z"/>
<path class="c25" d="M968.8 869.1L975.6 875.3L972.7 881.0L963.2 879.8Z"/>
<path class="c26" d="M952.4 876.8L936.0 851.3L966.2 866.8L968.8 869.1L963.2 879.8L953.8 878.5Z"/>
<path class="c27" d="M952.4 876.8L953.8 878.5L953.5 878.5Z"/>
<path class="c26" d="M905.8 860.5L936.0 851.3L952.4 876.8L952.3 878.7L923.3 883.3Z"/>
<path class="c27" d="M952.4 876.8L953.5 878.5L952.3 878.7Z"/>
<path class="c22" d="M889.4 894.4L898.5 897.9L893.0 901.2Z"/>
<path class="c23" d="M889.4 894.4L884.2 884.5L906.5 893.2L898.5 897.9Z"/>
<path class="c24" d="M884.2 884.5L879.0 874.6L914.5 888.5L906.5 893.2Z"/>
<path class="c25" d="M879.0 874.6L875.6 868.2L894.9 863.3L922.5 883.8L914.5 888.5Z"/>
<path class="c26" d="M894.9 863.3L905.8 860.5L923.3 883.3L922.5 883.8Z"/>
<path class="c20" d="M859.8 900.7L874.4 904.1L862.8 906.0Z"/>
<path class="c21" d="M859.8 900.7L856.0 894.3L888.6 901.9L874.4 904.1Z"/>
<path class="c22" d="M856.0 894.3L852.3 887.8L889.4 894.4L893.0 901.2L888.6 901.9Z"/>
<path class="c23" d="M852.3 887.8L848.5 881.3L884.2 884.5L889.4 894.4Z"/>
<path class="c24" d="M848.5 881.3L845.3 875.9L851.2 874.4L879.0 874.6L884.2 884.5Z"/>
<path class="c25" d="M851.2 874.4L875.6 868.2L879.0 874.6Z"/>
<path class="c17" d="M831.5 911.0L836.2 911.5L832.6 912.2Z"/>
<path class="c18" d="M831.5 911.0L827.8 906.7L848.4 909.0L836.2 911.5Z"/>
<path class="c19" d="M827.8 906.7L824.0 902.4L860.5 906.4L848.4 909.0Z"/>
<path class="c20" d="M824.0 902.4L820.2 898.1L859.8 900.7L862.8 906.0L860.5 906.4Z"/>
<path class="c21" d="M820.2 898.1L816.5 893.8L856.0 894.3L859.8 900.7Z"/>
<path class="c22" d="M816.5 893.8L815.1 892.3L823.0 888.1L852.3 887.8L856.0 894.3Z"/>
<path class="c23" d="M823.0 888.1L835.1 881.5L848.5 881.3L852.3 887.8Z"/>
<path class="c24" d="M835.1 881.5L845.3 875.9L848.5 881.3Z"/>
<path class="c15" d="M801.0 919.2L812.1 917.5L802.4 919.9Z"/>
<path class="c16" d="M801.0 919.2L799.2 918.4L824.1 914.4L812.1 917.5Z"/>
<path class="c17" d="M799.2 918.4L797.4 917.5L831.5 911.0L832.6 912.2L824.1 914.4Z"/>
<path class="c18" d="M797.4 917.5L795.6 916.7L827.8 906.7L831.5 911.0Z"/>
<path class="c19" d="M795.6 916.7L793.8 915.8L824.0 902.4L827.8 906.7Z"/>
<path class="c20" d="M793.8 915.8L792.0 915.0L820.2 898.1L824.0 902.4Z"/>
<path class="c21" d="M792.0 915.0L790.2 914.1L816.5 893.8L820.2 898.1Z"/>
<path class="c22" d="M790.2 914.1L788.4 913.3L807.5 897.2L815.1 892.3L816.5 893.8Z"/>
<path class="c23" d="M788.4 913.3L786.6 912.4L795.8 904.7L807.5 897.2Z"/>
<path class="c24" d="M786.6 912.4L784.9 911.6L795.8 904.7Z"/>
<path class="c13" d="M770.5 925.7L786.0 924.1L772.2 927.6Z"/>
<path class="c14" d="M770.5 925.7L768.9 923.8L799.8 920.6L786.0 924.1Z"/>
<path class="c15" d="M768.9 923.8L767.2 921.9L801.0 919.2L802.4 919.9L799.8 920.6Z"/>
<path class="c16" d="M767.2 921.9L765.5 920.0L799.2 918.4L801.0 919.2Z"/>
<path class="c17" d="M765.5 920.0L763.8 918.1L797.4 917.5L799.2 918.4Z"/>
<path class="c18" d="M763.8 918.1L762.1 916.2L795.6 916.7L797.4 917.5Z"/>
<path class="c19" d="M762.1 916.2L760.4 914.2L793.8 915.8L795.6 916.7Z"/>
<path class="c20" d="M760.4 914.2L758.8 912.3L792.0 915.0L793.8 915.8Z"/>
<path class="c21" d="M758.8 912.3L757.1 910.4L790.2 914.1L792.0 915.0Z"/>
<path class="c22" d="M757.1 910.4L755.4 908.5L788.4 913.3L790.2 914.1Z"/>
<path class="c23" d="M755.4 908.5L754.7 907.7L766.7 909.3L786.6 912.4L788.4 913.3Z"/>
<path class="c24" d="M766.7 909.3L784.9 911.6L786.6 912.4Z"/>
<path class="c11" d="M740.7 931.5L752.2 930.8L742.0 932.4Z"/>
<path class="c12" d="M740.7 931.5L738.1 929.6L772.1 927.7L752.2 930.8Z"/>
<path class="c13" d="M738.1 929.6L735.5 927.7L770.5 925.7L772.2 927.6L772.1 927.7Z"/>
<path class="c14" d="M735.5 927.7L732.9 925.8L768.9 923.8L770.5 925.7Z"/>
<path class="c15" d="M732.9 925.8L730.2 923.9L767.2 921.9L768.9 923.8Z"/>
<path class="c16" d="M730.2 923.9L727.6 922.0L765.5 920.0L767.2 921.9Z"/>
<path class="c17" d="M727.6 922.0L725.0 920.1L763.8 918.1L765.5 920.0Z"/>
<path class="c18" d="M725.0 920.1L724.5 919.8L729.2 917.9L762.1 916.2L763.8 918.1Z"/>
<path class="c19" d="M729.2 917.9L735.0 915.6L760.4 914.2L762.1 916.2Z"/>
<path class="c20" d="M735.0 915.6L740.8 913.3L758.8 912.3L760.4 914.2Z"/>
<path class="c21" d="M740.8 913.3L746.6 911.0L757.1 910.4L758.8 912.3Z"/>
<path class="c22" d="M746.6 911.0L752.4 908.6L755.4 908.5L757.1 910.4Z"/>
<path class="c23" d="M752.4 908.6L754.7 907.7L755.4 908.5Z"/>
<path class="c11" d="M708.1 936.6L740.7 931.5L742.0 932.4L711.8 938.7Z"/>
<path class="c12" d="M708.1 936.6L703.9 934.3L738.1 929.6L740.7 931.5Z"/>
<path class="c13" d="M703.9 934.3L699.7 931.9L735.5 927.7L738.1 929.6Z"/>
<path class="c14" d="M699.7 931.9L695.5 929.6L732.9 925.8L735.5 927.7Z"/>
<path class="c15" d="M695.5 929.6L694.3 928.9L701.8 926.7L730.2 923.9L732.9 925.8Z"/>
<path class="c16" d="M701.8 926.7L712.2 923.5L727.6 922.0L730.2 923.9Z"/>
<path class="c17" d="M712.2 923.5L722.5 920.4L725.0 920.1L727.6 922.0Z"/>
<path class="c18" d="M722.5 920.4L724.5 919.8L725.0 920.1Z"/>
<path class="c10" d="M676.9 942.3L707.7 939.6L681.6 945.0Z"/>
<path class="c11" d="M676.9 942.3L670.5 938.8L708.1 936.6L711.8 938.7L707.7 939.6Z"/>
<path class="c12" d="M670.5 938.8L664.1 935.2L664.2 935.2L703.9 934.3L708.1 936.6Z"/>
<path class="c13" d="M664.2 935.2L677.4 932.4L699.7 931.9L703.9 934.3Z"/>
<path class="c14" d="M677.4 932.4L690.7 929.7L695.5 929.6L699.7 931.9Z"/>
<path class="c15" d="M690.7 929.7L694.3 928.9L695.5 929.6Z"/>
<path class="c9" d="M651.0 949.6L655.5 949.1L651.4 949.8Z"/>
<path class="c10" d="M651.0 949.6L641.9 944.5L676.9 942.3L681.6 945.0L655.5 949.1Z"/>
<path class="c11" d="M641.9 944.5L633.9 940.0L637.0 939.5L670.5 938.8L676.9 942.3Z"/>
<path class="c12" d="M637.0 939.5L664.1 935.2L670.5 938.8Z"/>
<path class="c9" d="M620.6 954.2L651.0 949.6L651.4 949.8L621.2 954.6Z"/>
<path class="c10" d="M620.6 954.2L605.7 945.9L641.9 944.5L651.0 949.6Z"/>
<path class="c11" d="M605.7 945.9L603.7 944.8L633.9 940.0L641.9 944.5Z"/>
<path class="c8" d="M1490.0 816.1L1497.2 815.2L1514.7 823.5L1497.8 826.1Z"/>
<path class="c9" d="M1467.0 819.1L1490.0 816.1L1497.8 826.1L1484.5 828.2ZM1461.4 819.7L1467.0 819.1L1484.5 828.2L1460.6 831.7Z"/>
<path class="c10" d="M1446.0 827.8L1448.2 821.2L1461.4 819.7L1460.6 831.7L1454.3 832.7Z"/>
<path class="c11" d="M1446.0 827.8L1436.8 822.5L1448.2 821.2Z"/>
<path class="c10" d="M1446.0 827.8L1454.3 832.7L1447.9 833.2Z"/>
<path class="c11" d="M1435.4 822.4L1436.8 822.5L1446.0 827.8L1447.9 833.2L1439.8 833.9Z"/>
<path class="c12" d="M1424.7 821.7L1435.4 822.4L1439.8 833.9L1431.7 834.6Z"/>
<path class="c13" d="M1422.9 834.3L1414.0 821.0L1424.7 821.7L1431.7 834.6L1424.1 835.3Z"/>
<path class="c14" d="M1422.9 834.3L1406.6 820.5L1414.0 821.0Z"/>
<path class="c12" d="M1378.6 814.8L1376.4 811.9L1386.8 814.9Z"/>
<path class="c13" d="M1381.0 818.1L1378.6 814.8L1386.8 814.9L1398.4 818.2L1422.9 834.3L1424.1 835.3L1423.8 835.3Z"/>
<path class="c14" d="M1383.5 821.4L1381.0 818.1L1398.4 818.2L1406.6 820.5L1422.9 834.3L1423.8 835.3L1418.0 835.2Z"/>
<path class="c15" d="M1386.0 824.7L1383.5 821.4L1418.0 835.2L1412.2 835.2Z"/>
<path class="c16" d="M1388.5 827.9L1386.0 824.7L1412.2 835.2L1406.4 835.1Z"/>
<path class="c17" d="M1391.0 831.2L1388.5 827.9L1406.4 835.1L1400.6 835.1Z"/>
<path class="c18" d="M1393.4 834.5L1391.0 831.2L1400.6 835.1L1394.8 835.0Z"/>
<path class="c19" d="M1393.4 834.5L1394.8 835.0L1393.8 835.0Z"/>
<path class="c11" d="M1346.9 788.9L1346.1 787.1L1370.3 807.0Z"/>
<path class="c12" d="M1348.5 793.0L1346.9 788.9L1370.3 807.0L1376.4 811.9L1378.6 814.8Z"/>
<path class="c13" d="M1350.1 797.0L1348.5 793.0L1378.6 814.8L1381.0 818.1Z"/>
<path class="c14" d="M1351.8 801.1L1350.1 797.0L1381.0 818.1L1383.5 821.4Z"/>
<path class="c15" d="M1353.4 805.1L1351.8 801.1L1383.5 821.4L1386.0 824.7Z"/>
<path class="c16" d="M1355.1 809.2L1353.4 805.1L1386.0 824.7L1388.5 827.9Z"/>
<path class="c17" d="M1356.7 813.3L1355.1 809.2L1388.5 827.9L1391.0 831.2Z"/>
<path class="c18" d="M1358.4 817.3L1356.7 813.3L1391.0 831.2L1393.4 834.5Z"/>
<path class="c19" d="M1360.0 821.4L1358.4 817.3L1393.4 834.5L1393.8 835.0L1385.6 833.8Z"/>
<path class="c20" d="M1361.7 825.5L1360.0 821.4L1385.6 833.8L1375.7 832.2Z"/>
<path class="c21" d="M1363.3 829.5L1361.7 825.5L1375.7 832.2L1365.7 830.7Z"/>
<path class="c22" d="M1363.3 829.5L1365.7 830.7L1363.6 830.4Z"/>
<path class="c11" d="M1342.5 784.8L1346.1 787.1L1346.9 788.9Z"/>
<path class="c12" d="M1334.1 779.4L1342.5 784.8L1346.9 788.9L1348.5 793.0Z"/>
<path class="c13" d="M1325.7 773.9L1334.1 779.4L1348.5 793.0L1350.1 797.0Z"/>
<path class="c14" d="M1317.3 768.5L1325.7 773.9L1350.1 797.0L1351.8 801.1Z"/>
<path class="c15" d="M1317.9 774.2L1315.9 767.6L1317.3 768.5L1351.8 801.1L1353.4 805.1Z"/>
<path class="c16" d="M1320.2 782.1L1317.9 774.2L1353.4 805.1L1355.1 809.2Z"/>
<path class="c17" d="M1322.5 790.0L1320.2 782.1L1355.1 809.2L1356.7 813.3Z"/>
<path class="c18" d="M1324.9 797.8L1322.5 790.0L1356.7 813.3L1358.4 817.3Z"/>
<path class="c19" d="M1327.2 805.7L1324.9 797.8L1358.4 817.3L1360.0 821.4Z"/>
<path class="c20" d="M1329.5 813.6L1327.2 805.7L1360.0 821.4L1361.7 825.5Z"/>
<path class="c21" d="M1331.8 821.5L1329.5 813.6L1361.7 825.5L1363.3 829.5Z"/>
<path class="c22" d="M1331.8 821.5L1363.3 829.5L1363.6 830.4L1333.4 827.0Z"/>
<path class="c15" d="M1292.2 759.9L1315.9 767.6L1317.9 774.2Z"/>
<path class="c16" d="M1287.7 765.6L1285.7 757.9L1292.2 759.9L1317.9 774.2L1320.2 782.1Z"/>
<path class="c17" d="M1290.3 775.6L1287.7 765.6L1320.2 782.1L1322.5 790.0Z"/>
<path class="c18" d="M1292.9 785.6L1290.3 775.6L1322.5 790.0L1324.9 797.8Z"/>
<path class="c19" d="M1295.5 795.6L1292.9 785.6L1324.9 797.8L1327.2 805.7Z"/>
<path class="c20" d="M1298.1 805.6L1295.5 795.6L1327.2 805.7L1329.5 813.6Z"/>
<path class="c21" d="M1300.7 815.6L1298.1 805.6L1329.5 813.6L1331.8 821.5Z"/>
<path class="c22" d="M1300.7 815.6L1331.8 821.5L1333.4 827.0L1303.2 825.2Z"/>
<path class="c12" d="M1255.9 781.2L1255.5 780.1L1257.2 778.9Z"/>
<path class="c13" d="M1257.8 787.1L1255.9 781.2L1257.2 778.9L1266.0 772.4Z"/>
<path class="c14" d="M1259.6 793.1L1257.8 787.1L1266.0 772.4L1274.9 765.9Z"/>
<path class="c15" d="M1261.5 799.0L1259.6 793.1L1274.9 765.9L1283.7 759.4Z"/>
<path class="c16" d="M1263.4 804.9L1261.5 799.0L1283.7 759.4L1285.7 757.9L1287.7 765.6Z"/>
<path class="c17" d="M1265.3 810.8L1263.4 804.9L1287.7 765.6L1290.3 775.6Z"/>
<path class="c18" d="M1267.2 816.8L1265.3 810.8L1290.3 775.6L1292.9 785.6Z"/>
<path class="c19" d="M1269.0 822.7L1267.2 816.8L1292.9 785.6L1295.5 795.6Z"/>
<path class="c20" d="M1270.9 828.6L1269.0 822.7L1295.5 795.6L1298.1 805.6Z"/>
<path class="c21" d="M1272.8 834.6L1270.9 828.6L1298.1 805.6L1300.7 815.6Z"/>
<path class="c22" d="M1272.8 834.6L1300.7 815.6L1303.2 825.2L1273.0 835.3Z"/>
<path class="c9" d="M1225.4 810.5L1225.3 810.4L1225.6 810.2Z"/>
<path class="c10" d="M1226.8 813.7L1225.4 810.5L1225.6 810.2L1236.2 799.5Z"/>
<path class="c11" d="M1228.3 816.8L1226.8 813.7L1236.2 799.5L1246.9 788.8Z"/>
<path class="c12" d="M1229.8 820.0L1228.3 816.8L1246.9 788.8L1255.5 780.1L1255.9 781.2Z"/>
<path class="c13" d="M1231.3 823.1L1229.8 820.0L1255.9 781.2L1257.8 787.1Z"/>
<path class="c14" d="M1232.7 826.3L1231.3 823.1L1257.8 787.1L1259.6 793.1Z"/>
<path class="c15" d="M1234.2 829.4L1232.7 826.3L1259.6 793.1L1261.5 799.0Z"/>
<path class="c16" d="M1235.7 832.6L1234.2 829.4L1261.5 799.0L1263.4 804.9Z"/>
<path class="c17" d="M1237.2 835.8L1235.7 832.6L1263.4 804.9L1265.3 810.8Z"/>
<path class="c18" d="M1238.6 838.9L1237.2 835.8L1265.3 810.8L1267.2 816.8Z"/>
<path class="c19" d="M1240.1 842.1L1238.6 838.9L1267.2 816.8L1269.0 822.7Z"/>
<path class="c20" d="M1241.6 845.2L1240.1 842.1L1269.0 822.7L1270.9 828.6Z"/>
<path class="c21" d="M1241.6 845.2L1270.9 828.6L1272.8 834.6L1260.1 840.7L1242.8 847.9Z"/>
<path class="c22" d="M1272.8 834.6L1273.0 835.3L1260.1 840.7Z"/>
<path class="c9" d="M1225.2 810.6L1225.3 810.4L1225.4 810.5Z"/>
<path class="c10" d="M1219.3 816.0L1225.2 810.6L1225.4 810.5L1226.8 813.7Z"/>
<path class="c11" d="M1213.5 821.4L1219.3 816.0L1226.8 813.7L1228.3 816.8Z"/>
<path class="c12" d="M1207.6 826.8L1213.5 821.4L1228.3 816.8L1229.8 820.0Z"/>
<path class="c13" d="M1201.8 832.2L1207.6 826.8L1229.8 820.0L1231.3 823.1Z"/>
<path class="c14" d="M1196.0 837.7L1201.8 832.2L1231.3 823.1L1232.7 826.3Z"/>
<path class="c15" d="M1197.1 841.3L1195.1 838.4L1196.0 837.7L1232.7 826.3L1234.2 829.4Z"/>
<path class="c16" d="M1199.5 844.7L1197.1 841.3L1234.2 829.4L1235.7 832.6Z"/>
<path class="c17" d="M1201.9 848.0L1199.5 844.7L1235.7 832.6L1237.2 835.8Z"/>
<path class="c18" d="M1204.2 851.4L1201.9 848.0L1237.2 835.8L1238.6 838.9Z"/>
<path class="c19" d="M1206.6 854.7L1204.2 851.4L1238.6 838.9L1240.1 842.1Z"/>
<path class="c20" d="M1208.9 858.1L1206.6 854.7L1240.1 842.1L1241.6 845.2Z"/>
<path class="c21" d="M1211.3 861.4L1208.9 858.1L1241.6 845.2L1242.8 847.9L1236.3 851.2Z"/>
<path class="c22" d="M1211.3 861.4L1236.3 851.2L1212.6 863.3Z"/>
<path class="c15" d="M1189.6 841.2L1195.1 838.4L1197.1 841.3Z"/>
<path class="c16" d="M1183.2 844.4L1189.6 841.2L1197.1 841.3L1199.5 844.7Z"/>
<path class="c17" d="M1176.8 847.6L1183.2 844.4L1199.5 844.7L1201.9 848.0Z"/>
<path class="c18" d="M1170.4 850.8L1176.8 847.6L1201.9 848.0L1204.2 851.4Z"/>
<path class="c19" d="M1164.9 853.5L1170.4 850.8L1204.2 851.4L1206.6 854.7L1189.8 869.1L1182.4 871.0Z"/>
<path class="c20" d="M1206.6 854.7L1208.9 858.1L1198.7 866.8L1189.8 869.1Z"/>
<path class="c21" d="M1208.9 858.1L1211.3 861.4L1207.6 864.6L1198.7 866.8Z"/>
<path class="c22" d="M1211.3 861.4L1212.6 863.3L1207.6 864.6Z"/>
<path class="c11" d="M1136.1 864.9L1134.7 863.6L1136.3 863.0Z"/>
<path class="c12" d="M1139.3 868.0L1136.1 864.9L1136.3 863.0L1140.0 861.8Z"/>
<path class="c13" d="M1142.5 871.0L1139.3 868.0L1140.0 861.8L1143.6 860.6Z"/>
<path class="c14" d="M1145.6 874.0L1142.5 871.0L1143.6 860.6L1147.2 859.4Z"/>
<path class="c15" d="M1148.8 877.1L1145.6 874.0L1147.2 859.4L1150.9 858.2Z"/>
<path class="c16" d="M1152.0 880.1L1148.8 877.1L1150.9 858.2L1154.5 857.0Z"/>
<path class="c17" d="M1152.0 880.1L1154.5 857.0L1158.1 855.8L1165.7 876.2L1152.2 880.3Z"/>
<path class="c18" d="M1158.1 855.8L1161.8 854.6L1180.0 871.7L1165.7 876.2Z"/>
<path class="c19" d="M1161.8 854.6L1164.9 853.5L1182.4 871.0L1180.0 871.7Z"/>
<path class="c11" d="M1104.8 865.6L1104.5 865.3L1134.7 863.6L1136.1 864.9Z"/>
<path class="c12" d="M1109.9 869.9L1104.8 865.6L1136.1 864.9L1139.3 868.0Z"/>
<path class="c13" d="M1115.0 874.2L1109.9 869.9L1139.3 868.0L1142.5 871.0Z"/>
<path class="c14" d="M1120.1 878.6L1115.0 874.2L1142.5 871.0L1145.6 874.0Z"/>
<path class="c15" d="M1120.1 878.6L1145.6 874.0L1148.8 877.1L1133.3 880.2L1122.0 880.2Z"/>
<path class="c16" d="M1148.8 877.1L1152.0 880.1L1151.1 880.3L1133.3 880.2Z"/>
<path class="c17" d="M1152.0 880.1L1152.2 880.3L1151.1 880.3Z"/>
<path class="c10" d="M1090.0 883.1L1096.0 882.9L1091.8 883.4Z"/>
<path class="c11" d="M1090.0 883.1L1087.4 882.8L1104.2 865.5L1104.5 865.3L1104.8 865.6L1102.0 882.3L1096.0 882.9Z"/>
<path class="c12" d="M1087.4 882.8L1084.8 882.4L1098.3 868.5L1104.2 865.5L1104.8 865.6L1109.9 869.9L1107.9 881.7L1102.0 882.3Z"/>
<path class="c13" d="M1084.8 882.4L1082.3 882.1L1092.5 871.6L1098.3 868.5L1109.9 869.9L1115.0 874.2L1113.9 881.0L1107.9 881.7Z"/>
<path class="c14" d="M1082.3 882.1L1079.7 881.8L1086.7 874.6L1092.5 871.6L1115.0 874.2L1120.1 878.6L1119.8 880.4L1113.9 881.0Z"/>
<path class="c15" d="M1079.7 881.8L1077.2 881.4L1080.8 877.6L1086.7 874.6L1120.1 878.6L1122.0 880.2L1119.8 880.4Z"/>
<path class="c16" d="M1077.2 881.4L1074.6 881.1L1075.0 880.7L1080.8 877.6Z"/>
<path class="c17" d="M1074.6 881.1L1074.3 881.0L1075.0 880.7Z"/>
<path class="c10" d="M1090.0 883.1L1091.8 883.4L1087.0 884.4Z"/>
<path class="c11" d="M1087.4 882.8L1090.0 883.1L1087.0 884.4L1080.3 885.8Z"/>
<path class="c12" d="M1084.8 882.4L1087.4 882.8L1080.3 885.8L1073.6 887.2Z"/>
<path class="c13" d="M1082.3 882.1L1084.8 882.4L1073.6 887.2L1067.0 888.7Z"/>
<path class="c14" d="M1059.4 888.6L1079.7 881.8L1082.3 882.1L1067.0 888.7L1061.6 889.8Z"/>
<path class="c15" d="M1059.4 888.6L1048.0 882.2L1077.2 881.4L1079.7 881.8Z"/>
<path class="c16" d="M1048.0 882.2L1044.1 880.0L1069.6 880.9L1074.6 881.1L1077.2 881.4Z"/>
<path class="c17" d="M1069.6 880.9L1074.3 881.0L1074.6 881.1Z"/>
<path class="c14" d="M1059.4 888.6L1061.6 889.8L1060.3 890.0Z"/>
<path class="c15" d="M1048.0 882.2L1059.4 888.6L1060.3 890.0L1053.6 891.1Z"/>
<path class="c16" d="M1041.1 879.8L1044.1 880.0L1048.0 882.2L1053.6 891.1L1046.8 892.1Z"/>
<path class="c17" d="M1036.6 879.4L1041.1 879.8L1046.8 892.1L1040.1 893.2Z"/>
<path class="c18" d="M1032.1 879.1L1036.6 879.4L1040.1 893.2L1033.4 894.3Z"/>
<path class="c19" d="M1028.1 891.4L1027.6 878.7L1032.1 879.1L1033.4 894.3L1031.4 894.6Z"/>
<path class="c20" d="M1028.1 891.4L1023.4 886.9L1023.1 878.3L1027.6 878.7Z"/>
<path class="c21" d="M1023.4 886.9L1018.7 882.3L1018.6 878.0L1023.1 878.3Z"/>
<path class="c22" d="M1018.7 882.3L1014.1 877.8L1014.0 877.6L1018.6 878.0Z"/>
<path class="c23" d="M1014.1 877.8L1013.9 877.6L1014.0 877.6Z"/>
<path class="c19" d="M1028.1 891.4L1031.4 894.6L1021.2 895.2Z"/>
<path class="c20" d="M1023.4 886.9L1028.1 891.4L1021.2 895.2L1006.6 896.2Z"/>
<path class="c21" d="M996.7 892.9L1018.7 882.3L1023.4 886.9L1006.6 896.2L1001.2 896.5Z"/>
<path class="c22" d="M996.7 892.9L989.6 887.2L1014.1 877.8L1018.7 882.3Z"/>
<path class="c23" d="M989.6 887.2L983.7 882.4L1013.9 877.6L1014.1 877.8Z"/>
<path class="c21" d="M996.7 892.9L1001.2 896.5L994.2 897.3Z"/>
<path class="c22" d="M989.6 887.2L996.7 892.9L994.2 897.3L983.2 898.5Z"/>
<path class="c23" d="M982.1 882.2L983.7 882.4L989.6 887.2L983.2 898.5L972.2 899.7Z"/>
<path class="c24" d="M965.6 893.3L972.7 881.0L982.1 882.2L972.2 899.7L971.0 899.9Z"/>
<path class="c25" d="M965.6 893.3L959.6 886.0L963.2 879.8L972.7 881.0Z"/>
<path class="c26" d="M959.6 886.0L953.7 878.7L953.8 878.5L963.2 879.8Z"/>
<path class="c27" d="M953.7 878.7L953.5 878.5L953.8 878.5Z"/>
<path class="c23" d="M940.0 908.0L954.3 904.9L940.8 909.0Z"/>
<path class="c24" d="M940.0 908.0L932.0 896.2L965.6 893.3L971.0 899.9L954.3 904.9Z"/>
<path class="c25" d="M932.0 896.2L924.0 884.5L959.6 886.0L965.6 893.3Z"/>
<path class="c26" d="M924.0 884.5L923.3 883.3L952.3 878.7L953.7 878.7L959.6 886.0Z"/>
<path class="c27" d="M952.3 878.7L953.5 878.5L953.7 878.7Z"/>
<path class="c17" d="M909.8 910.5L911.5 910.9L910.5 910.9Z"/>
<path class="c18" d="M909.8 910.5L905.9 908.3L916.5 910.5L911.5 910.9Z"/>
<path class="c19" d="M905.9 908.3L902.0 906.2L921.4 910.2L916.5 910.5Z"/>
<path class="c20" d="M902.0 906.2L898.1 904.0L926.4 909.9L921.4 910.2Z"/>
<path class="c21" d="M898.1 904.0L894.3 901.8L931.3 909.6L926.4 909.9Z"/>
<path class="c22" d="M894.3 901.8L893.0 901.2L898.5 897.9L936.2 909.3L931.3 909.6Z"/>
<path class="c23" d="M898.5 897.9L906.5 893.2L940.0 908.0L940.8 909.0L936.2 909.3Z"/>
<path class="c24" d="M906.5 893.2L914.5 888.5L932.0 896.2L940.0 908.0Z"/>
<path class="c25" d="M914.5 888.5L922.5 883.8L924.0 884.5L932.0 896.2Z"/>
<path class="c26" d="M922.5 883.8L923.3 883.3L924.0 884.5Z"/>
<path class="c16" d="M878.0 915.7L891.9 914.8L880.3 917.2Z"/>
<path class="c17" d="M878.0 915.7L873.2 912.6L909.8 910.5L910.5 910.9L891.9 914.8Z"/>
<path class="c18" d="M873.2 912.6L868.5 909.6L905.9 908.3L909.8 910.5Z"/>
<path class="c19" d="M868.5 909.6L863.7 906.5L902.0 906.2L905.9 908.3Z"/>
<path class="c20" d="M863.7 906.5L862.8 906.0L874.4 904.1L898.1 904.0L902.0 906.2Z"/>
<path class="c21" d="M874.4 904.1L888.6 901.9L894.3 901.8L898.1 904.0Z"/>
<path class="c22" d="M888.6 901.9L893.0 901.2L894.3 901.8Z"/>
<path class="c15" d="M847.3 921.6L862.2 920.9L850.1 923.4Z"/>
<path class="c16" d="M847.3 921.6L838.7 916.1L878.0 915.7L880.3 917.2L862.2 920.9Z"/>
<path class="c17" d="M838.7 916.1L832.6 912.2L836.2 911.5L873.2 912.6L878.0 915.7Z"/>
<path class="c18" d="M836.2 911.5L848.4 909.0L868.5 909.6L873.2 912.6Z"/>
<path class="c19" d="M848.4 909.0L860.5 906.4L863.7 906.5L868.5 909.6Z"/>
<path class="c20" d="M860.5 906.4L862.8 906.0L863.7 906.5Z"/>
<path class="c12" d="M818.7 929.0L821.7 929.3L819.9 929.7Z"/>
<path class="c13" d="M818.7 929.0L811.3 924.9L832.4 927.1L821.7 929.3Z"/>
<path class="c14" d="M811.3 924.9L803.9 920.7L843.0 924.9L832.4 927.1Z"/>
<path class="c15" d="M803.9 920.7L802.4 919.9L812.1 917.5L847.3 921.6L850.1 923.4L843.0 924.9Z"/>
<path class="c16" d="M812.1 917.5L824.1 914.4L838.7 916.1L847.3 921.6Z"/>
<path class="c17" d="M824.1 914.4L832.6 912.2L838.7 916.1Z"/>
<path class="c10" d="M785.0 933.7L798.4 934.2L789.7 936.0Z"/>
<path class="c11" d="M785.0 933.7L778.6 930.7L810.1 931.7L798.4 934.2Z"/>
<path class="c12" d="M778.6 930.7L772.3 927.7L818.7 929.0L819.9 929.7L810.1 931.7Z"/>
<path class="c13" d="M772.3 927.7L772.2 927.6L786.0 924.1L811.3 924.9L818.7 929.0Z"/>
<path class="c14" d="M786.0 924.1L799.8 920.6L803.9 920.7L811.3 924.9Z"/>
<path class="c15" d="M799.8 920.6L802.4 919.9L803.9 920.7Z"/>
<path class="c10" d="M748.5 934.5L785.0 933.7L789.7 936.0L759.5 937.9Z"/>
<path class="c11" d="M748.5 934.5L742.0 932.4L752.2 930.8L778.6 930.7L785.0 933.7Z"/>
<path class="c12" d="M752.2 930.8L772.1 927.7L772.3 927.7L778.6 930.7Z"/>
<path class="c13" d="M772.1 927.7L772.2 927.6L772.3 927.7Z"/>
<path class="c8" d="M728.1 947.8L733.0 947.2L729.3 948.5Z"/>
<path class="c9" d="M728.1 947.8L720.4 943.5L755.7 939.2L733.0 947.2Z"/>
<path class="c10" d="M720.4 943.5L712.7 939.2L748.5 934.5L759.5 937.9L755.7 939.2Z"/>
<path class="c11" d="M712.7 939.2L711.8 938.7L742.0 932.4L748.5 934.5Z"/>
<path class="c8" d="M693.8 950.8L728.1 947.8L729.3 948.5L699.1 953.3Z"/>
<path class="c9" d="M693.8 950.8L684.1 946.2L720.4 943.5L728.1 947.8Z"/>
<path class="c10" d="M684.1 946.2L681.6 945.0L707.7 939.6L712.7 939.2L720.4 943.5Z"/>
<path class="c11" d="M707.7 939.6L711.8 938.7L712.7 939.2Z"/>
<path class="c8" d="M662.1 954.8L693.8 950.8L699.1 953.3L668.9 958.1Z"/>
<path class="c9" d="M662.1 954.8L651.4 949.8L655.5 949.1L684.1 946.2L693.8 950.8Z"/>
<path class="c10" d="M655.5 949.1L681.6 945.0L684.1 946.2Z"/>
<path class="c8" d="M631.9 959.6L662.1 954.8L668.9 958.1L638.7 962.9Z"/>
<path class="c9" d="M631.9 959.6L621.2 954.6L651.4 949.8L662.1 954.8Z"/>
<path class="c8" d="M1490.0 830.8L1497.8 826.1L1514.7 823.5L1532.2 831.8L1502.0 836.6Z"/>
<path class="c9" d="M1490.0 830.8L1484.5 828.2L1497.8 826.1Z"/>
<path class="c8" d="M1471.7 841.4L1490.0 830.8L1502.0 836.6L1471.8 841.4Z"/>
<path class="c9" d="M1471.7 841.4L1457.3 834.2L1460.6 831.7L1484.5 828.2L1490.0 830.8Z"/>
<path class="c10" d="M1457.3 834.2L1454.3 832.7L1460.6 831.7Z"/>
<path class="c8" d="M1471.7 841.4L1471.8 841.4L1471.7 841.4Z"/>
<path class="c9" d="M1457.3 834.2L1471.7 841.4L1471.7 841.4L1451.0 844.2Z"/>
<path class="c10" d="M1438.8 843.9L1447.9 833.2L1454.3 832.7L1457.3 834.2L1451.0 844.2L1441.5 845.5Z"/>
<path class="c11" d="M1438.8 843.9L1433.8 841.0L1439.8 833.9L1447.9 833.2Z"/>
<path class="c12" d="M1433.8 841.0L1428.8 838.1L1431.7 834.6L1439.8 833.9Z"/>
<path class="c13" d="M1428.8 838.1L1424.1 835.3L1431.7 834.6Z"/>
<path class="c10" d="M1438.8 843.9L1441.5 845.5L1435.4 846.3Z"/>
<path class="c11" d="M1433.8 841.0L1438.8 843.9L1435.4 846.3L1424.1 847.8Z"/>
<path class="c12" d="M1428.8 838.1L1433.8 841.0L1424.1 847.8L1412.8 849.2Z"/>
<path class="c13" d="M1408.8 847.4L1423.8 835.3L1424.1 835.3L1428.8 838.1L1412.8 849.2L1411.3 849.4Z"/>
<path class="c14" d="M1408.8 847.4L1405.9 845.0L1418.0 835.2L1423.8 835.3Z"/>
<path class="c15" d="M1405.9 845.0L1403.0 842.6L1412.2 835.2L1418.0 835.2Z"/>
<path class="c16" d="M1403.0 842.6L1400.1 840.2L1406.4 835.1L1412.2 835.2Z"/>
<path class="c17" d="M1400.1 840.2L1397.2 837.8L1400.6 835.1L1406.4 835.1Z"/>
<path class="c18" d="M1397.2 837.8L1394.3 835.4L1394.8 835.0L1400.6 835.1Z"/>
<path class="c19" d="M1394.3 835.4L1393.8 835.0L1394.8 835.0Z"/>
<path class="c13" d="M1408.8 847.4L1411.3 849.4L1406.3 849.9Z"/>
<path class="c14" d="M1405.9 845.0L1408.8 847.4L1406.3 849.9L1400.5 850.5Z"/>
<path class="c15" d="M1403.0 842.6L1405.9 845.0L1400.5 850.5L1394.7 851.0Z"/>
<path class="c16" d="M1400.1 840.2L1403.0 842.6L1394.7 851.0L1388.9 851.6Z"/>
<path class="c17" d="M1397.2 837.8L1400.1 840.2L1388.9 851.6L1383.1 852.2Z"/>
<path class="c18" d="M1378.1 848.6L1394.3 835.4L1397.2 837.8L1383.1 852.2L1381.1 852.4Z"/>
<path class="c19" d="M1378.1 848.6L1373.6 842.9L1385.6 833.8L1393.8 835.0L1394.3 835.4Z"/>
<path class="c20" d="M1373.6 842.9L1369.1 837.3L1375.7 832.2L1385.6 833.8Z"/>
<path class="c21" d="M1369.1 837.3L1364.6 831.6L1365.7 830.7L1375.7 832.2Z"/>
<path class="c22" d="M1364.6 831.6L1363.6 830.4L1365.7 830.7Z"/>
<path class="c18" d="M1378.1 848.6L1381.1 852.4L1376.7 852.7Z"/>
<path class="c19" d="M1373.6 842.9L1378.1 848.6L1376.7 852.7L1370.0 853.3Z"/>
<path class="c20" d="M1369.1 837.3L1373.6 842.9L1370.0 853.3L1363.3 853.8Z"/>
<path class="c21" d="M1364.6 831.6L1369.1 837.3L1363.3 853.8L1356.6 854.4Z"/>
<path class="c22" d="M1333.4 827.0L1363.6 830.4L1364.6 831.6L1356.6 854.4L1350.9 854.8ZM1303.5 825.8L1303.2 825.2L1333.4 827.0L1350.9 854.8L1348.7 855.1Z"/>
<path class="c23" d="M1312.7 843.3L1303.5 825.8L1348.7 855.1L1333.8 857.1Z"/>
<path class="c24" d="M1312.7 843.3L1333.8 857.1L1320.7 858.8Z"/>
<path class="c22" d="M1282.8 851.4L1273.0 835.3L1303.2 825.2L1303.5 825.8Z"/>
<path class="c23" d="M1282.8 851.4L1303.5 825.8L1312.7 843.3L1298.2 862.8L1290.5 864.2Z"/>
<path class="c24" d="M1312.7 843.3L1320.7 858.8L1298.2 862.8Z"/>
<path class="c19" d="M1255.2 864.7L1265.5 870.4L1260.3 871.7Z"/>
<path class="c20" d="M1255.2 864.7L1248.5 855.6L1272.3 868.7L1265.5 870.4Z"/>
<path class="c21" d="M1248.5 855.6L1242.8 847.9L1260.1 840.7L1279.0 867.0L1272.3 868.7Z"/>
<path class="c22" d="M1260.1 840.7L1273.0 835.3L1282.8 851.4L1285.8 865.3L1279.0 867.0Z"/>
<path class="c23" d="M1282.8 851.4L1290.5 864.2L1285.8 865.3Z"/>
<path class="c14" d="M1229.8 877.6L1231.0 877.7L1230.1 877.8Z"/>
<path class="c15" d="M1229.8 877.6L1227.5 875.7L1237.9 876.3L1231.0 877.7Z"/>
<path class="c16" d="M1227.5 875.7L1225.3 873.8L1244.8 874.9L1237.9 876.3Z"/>
<path class="c17" d="M1225.3 873.8L1223.0 871.9L1251.8 873.5L1244.8 874.9Z"/>
<path class="c18" d="M1223.0 871.9L1220.7 870.0L1258.7 872.1L1251.8 873.5Z"/>
<path class="c19" d="M1220.7 870.0L1218.4 868.1L1255.2 864.7L1260.3 871.7L1258.7 872.1Z"/>
<path class="c20" d="M1218.4 868.1L1216.2 866.2L1248.5 855.6L1255.2 864.7Z"/>
<path class="c21" d="M1216.2 866.2L1213.9 864.4L1236.3 851.2L1242.8 847.9L1248.5 855.6Z"/>
<path class="c22" d="M1213.9 864.4L1212.6 863.3L1236.3 851.2Z"/>
<path class="c12" d="M1199.1 882.4L1203.8 882.3L1199.9 882.9Z"/>
<path class="c13" d="M1199.1 882.4L1196.4 880.6L1217.8 879.9L1203.8 882.3Z"/>
<path class="c14" d="M1196.4 880.6L1193.7 878.7L1229.8 877.6L1230.1 877.8L1217.8 879.9Z"/>
<path class="c15" d="M1193.7 878.7L1191.0 876.9L1227.5 875.7L1229.8 877.6Z"/>
<path class="c16" d="M1191.0 876.9L1188.3 875.0L1225.3 873.8L1227.5 875.7Z"/>
<path class="c17" d="M1188.3 875.0L1185.6 873.2L1223.0 871.9L1225.3 873.8Z"/>
<path class="c18" d="M1185.6 873.2L1182.9 871.3L1220.7 870.0L1223.0 871.9Z"/>
<path class="c19" d="M1182.9 871.3L1182.4 871.0L1189.8 869.1L1218.4 868.1L1220.7 870.0Z"/>
<path class="c20" d="M1189.8 869.1L1198.7 866.8L1216.2 866.2L1218.4 868.1Z"/>
<path class="c21" d="M1198.7 866.8L1207.6 864.6L1213.9 864.4L1216.2 866.2Z"/>
<path class="c22" d="M1207.6 864.6L1212.6 863.3L1213.9 864.4Z"/>
<path class="c11" d="M1167.0 886.6L1186.6 885.1L1169.7 887.7Z"/>
<path class="c12" d="M1167.0 886.6L1164.1 885.4L1199.1 882.4L1199.9 882.9L1186.6 885.1Z"/>
<path class="c13" d="M1164.1 885.4L1161.2 884.1L1196.4 880.6L1199.1 882.4Z"/>
<path class="c14" d="M1161.2 884.1L1158.2 882.9L1193.7 878.7L1196.4 880.6Z"/>
<path class="c15" d="M1158.2 882.9L1155.3 881.6L1191.0 876.9L1193.7 878.7Z"/>
<path class="c16" d="M1155.3 881.6L1152.4 880.4L1188.3 875.0L1191.0 876.9Z"/>
<path class="c17" d="M1152.4 880.4L1152.2 880.3L1165.7 876.2L1185.6 873.2L1188.3 875.0Z"/>
<path class="c18" d="M1165.7 876.2L1180.0 871.7L1182.9 871.3L1185.6 873.2Z"/>
<path class="c19" d="M1180.0 871.7L1182.4 871.0L1182.9 871.3Z"/>
<path class="c11" d="M1139.3 894.2L1167.0 886.6L1169.7 887.7L1139.5 894.3Z"/>
<path class="c12" d="M1139.3 894.2L1134.2 890.0L1164.1 885.4L1167.0 886.6Z"/>
<path class="c13" d="M1134.2 890.0L1129.0 885.9L1161.2 884.1L1164.1 885.4Z"/>
<path class="c14" d="M1129.0 885.9L1123.9 881.7L1158.2 882.9L1161.2 884.1Z"/>
<path class="c15" d="M1123.9 881.7L1122.0 880.2L1133.3 880.2L1155.3 881.6L1158.2 882.9Z"/>
<path class="c16" d="M1133.3 880.2L1151.1 880.3L1152.4 880.4L1155.3 881.6Z"/>
<path class="c17" d="M1151.1 880.3L1152.2 880.3L1152.4 880.4Z"/>
<path class="c10" d="M1095.1 885.3L1091.8 883.4L1096.0 882.9Z"/>
<path class="c11" d="M1099.7 887.9L1095.1 885.3L1096.0 882.9L1102.0 882.3L1139.3 894.2L1139.5 894.3L1139.1 894.3Z"/>
<path class="c12" d="M1104.4 890.5L1099.7 887.9L1102.0 882.3L1107.9 881.7L1134.2 890.0L1139.3 894.2L1139.1 894.3L1124.6 893.8Z"/>
<path class="c13" d="M1109.0 893.1L1104.4 890.5L1107.9 881.7L1113.9 881.0L1129.0 885.9L1134.2 890.0L1124.6 893.8L1110.1 893.3Z"/>
<path class="c14" d="M1109.0 893.1L1113.9 881.0L1119.8 880.4L1123.9 881.7L1129.0 885.9L1110.1 893.3L1109.3 893.3Z"/>
<path class="c15" d="M1119.8 880.4L1122.0 880.2L1123.9 881.7Z"/>
<path class="c10" d="M1087.0 884.4L1091.8 883.4L1095.1 885.3Z"/>
<path class="c11" d="M1080.3 885.8L1087.0 884.4L1095.1 885.3L1099.7 887.9Z"/>
<path class="c12" d="M1073.6 887.2L1080.3 885.8L1099.7 887.9L1104.4 890.5Z"/>
<path class="c13" d="M1067.0 888.7L1073.6 887.2L1104.4 890.5L1109.0 893.1Z"/>
<path class="c14" d="M1061.6 889.8L1067.0 888.7L1109.0 893.1L1109.3 893.3L1079.1 902.5ZM1047.2 906.1L1060.3 890.0L1061.6 889.8L1079.1 902.5L1048.9 907.3Z"/>
<path class="c15" d="M1047.2 906.1L1043.6 903.4L1053.6 891.1L1060.3 890.0Z"/>
<path class="c16" d="M1043.6 903.4L1039.9 900.8L1046.8 892.1L1053.6 891.1Z"/>
<path class="c17" d="M1039.9 900.8L1036.2 898.1L1040.1 893.2L1046.8 892.1Z"/>
<path class="c18" d="M1036.2 898.1L1032.5 895.4L1033.4 894.3L1040.1 893.2Z"/>
<path class="c19" d="M1032.5 895.4L1031.4 894.6L1033.4 894.3Z"/>
<path class="c14" d="M1047.2 906.1L1048.9 907.3L1041.8 908.0Z"/>
<path class="c15" d="M1043.6 903.4L1047.2 906.1L1041.8 908.0L1026.0 909.8Z"/>
<path class="c16" d="M1016.7 909.1L1039.9 900.8L1043.6 903.4L1026.0 909.8L1018.7 910.6Z"/>
<path class="c17" d="M1016.7 909.1L1013.2 906.2L1036.2 898.1L1039.9 900.8Z"/>
<path class="c18" d="M1013.2 906.2L1009.6 903.3L1032.5 895.4L1036.2 898.1Z"/>
<path class="c19" d="M1009.6 903.3L1006.1 900.5L1021.2 895.2L1031.4 894.6L1032.5 895.4Z"/>
<path class="c20" d="M1006.1 900.5L1002.5 897.6L1006.6 896.2L1021.2 895.2Z"/>
<path class="c21" d="M1002.5 897.6L1001.2 896.5L1006.6 896.2Z"/>
<path class="c16" d="M987.9 914.9L1016.7 909.1L1018.7 910.6L988.5 915.4Z"/>
<path class="c17" d="M987.9 914.9L985.5 912.8L1013.2 906.2L1016.7 909.1Z"/>
<path class="c18" d="M985.5 912.8L983.1 910.7L1009.6 903.3L1013.2 906.2Z"/>
<path class="c19" d="M983.1 910.7L980.7 908.6L1006.1 900.5L1009.6 903.3Z"/>
<path class="c20" d="M980.7 908.6L978.4 906.5L1002.5 897.6L1006.1 900.5Z"/>
<path class="c21" d="M978.4 906.5L976.0 904.3L994.2 897.3L1001.2 896.5L1002.5 897.6Z"/>
<path class="c22" d="M976.0 904.3L973.6 902.2L983.2 898.5L994.2 897.3Z"/>
<path class="c23" d="M973.6 902.2L971.2 900.1L972.2 899.7L983.2 898.5Z"/>
<path class="c24" d="M971.2 900.1L971.0 899.9L972.2 899.7Z"/>
<path class="c15" d="M956.7 920.6L973.2 918.6L958.2 921.7Z"/>
<path class="c16" d="M956.7 920.6L954.7 919.1L987.9 914.9L988.5 915.4L973.2 918.6Z"/>
<path class="c17" d="M954.7 919.1L952.7 917.7L985.5 912.8L987.9 914.9Z"/>
<path class="c18" d="M952.7 917.7L950.7 916.2L983.1 910.7L985.5 912.8Z"/>
<path class="c19" d="M950.7 916.2L948.7 914.7L980.7 908.6L983.1 910.7Z"/>
<path class="c20" d="M948.7 914.7L946.6 913.3L978.4 906.5L980.7 908.6Z"/>
<path class="c21" d="M946.6 913.3L944.6 911.8L976.0 904.3L978.4 906.5Z"/>
<path class="c22" d="M944.6 911.8L942.6 910.4L973.6 902.2L976.0 904.3Z"/>
<path class="c23" d="M942.6 910.4L940.8 909.0L954.3 904.9L971.2 900.1L973.6 902.2Z"/>
<path class="c24" d="M954.3 904.9L971.0 899.9L971.2 900.1Z"/>
<path class="c14" d="M924.6 922.2L950.3 922.6L928.0 925.0Z"/>
<path class="c15" d="M924.6 922.2L919.6 918.2L956.7 920.6L958.2 921.7L950.3 922.6Z"/>
<path class="c16" d="M919.6 918.2L914.6 914.2L954.7 919.1L956.7 920.6Z"/>
<path class="c17" d="M914.6 914.2L910.5 910.9L911.5 910.9L952.7 917.7L954.7 919.1Z"/>
<path class="c18" d="M911.5 910.9L916.5 910.5L950.7 916.2L952.7 917.7Z"/>
<path class="c19" d="M916.5 910.5L921.4 910.2L948.7 914.7L950.7 916.2Z"/>
<path class="c20" d="M921.4 910.2L926.4 909.9L946.6 913.3L948.7 914.7Z"/>
<path class="c21" d="M926.4 909.9L931.3 909.6L944.6 911.8L946.6 913.3Z"/>
<path class="c22" d="M931.3 909.6L936.2 909.3L942.6 910.4L944.6 911.8Z"/>
<path class="c23" d="M936.2 909.3L940.8 909.0L942.6 910.4Z"/>
<path class="c13" d="M896.5 928.9L910.2 927.9L897.8 929.8Z"/>
<path class="c14" d="M896.5 928.9L890.0 924.2L924.6 922.2L928.0 925.0L910.2 927.9Z"/>
<path class="c15" d="M890.0 924.2L883.6 919.5L919.6 918.2L924.6 922.2Z"/>
<path class="c16" d="M883.6 919.5L880.3 917.2L891.9 914.8L914.6 914.2L919.6 918.2Z"/>
<path class="c17" d="M891.9 914.8L910.5 910.9L914.6 914.2Z"/>
<path class="c13" d="M862.1 932.1L896.5 928.9L897.8 929.8L867.6 936.1Z"/>
<path class="c14" d="M862.1 932.1L854.9 926.9L890.0 924.2L896.5 928.9Z"/>
<path class="c15" d="M854.9 926.9L850.1 923.4L862.2 920.9L883.6 919.5L890.0 924.2Z"/>
<path class="c16" d="M862.2 920.9L880.3 917.2L883.6 919.5Z"/>
<path class="c12" d="M828.5 934.5L819.9 929.7L821.7 929.3Z"/>
<path class="c13" d="M828.5 934.5L821.7 929.3L832.4 927.1L862.1 932.1L867.6 936.1L837.4 939.5Z"/>
<path class="c14" d="M832.4 927.1L843.0 924.9L854.9 926.9L862.1 932.1Z"/>
<path class="c15" d="M843.0 924.9L850.1 923.4L854.9 926.9Z"/>
<path class="c10" d="M794.0 938.0L789.7 936.0L798.4 934.2Z"/>
<path class="c11" d="M799.8 940.7L794.0 938.0L798.4 934.2L810.1 931.7Z"/>
<path class="c12" d="M805.6 943.5L799.8 940.7L810.1 931.7L819.9 929.7L828.5 934.5Z"/>
<path class="c13" d="M805.6 943.5L828.5 934.5L837.4 939.5L807.2 944.3Z"/>
<path class="c10" d="M765.2 941.9L759.5 937.9L789.7 936.0L794.0 938.0Z"/>
<path class="c11" d="M771.9 946.9L765.2 941.9L794.0 938.0L799.8 940.7Z"/>
<path class="c12" d="M771.9 946.9L799.8 940.7L805.6 943.5L791.4 947.6L777.0 950.5Z"/>
<path class="c13" d="M805.6 943.5L807.2 944.3L791.4 947.6Z"/>
<path class="c8" d="M731.3 949.2L729.3 948.5L733.0 947.2Z"/>
<path class="c9" d="M743.3 954.0L731.3 949.2L733.0 947.2L755.7 939.2Z"/>
<path class="c10" d="M743.3 954.0L755.7 939.2L759.5 937.9L765.2 941.9L755.6 953.9L746.8 955.3Z"/>
<path class="c11" d="M765.2 941.9L771.9 946.9L767.9 952.0L755.6 953.9Z"/>
<path class="c12" d="M771.9 946.9L777.0 950.5L767.9 952.0Z"/>
<path class="c8" d="M699.1 953.3L729.3 948.5L731.3 949.2L725.6 959.7L716.6 961.6Z"/>
<path class="c9" d="M731.3 949.2L743.3 954.0L742.1 956.3L725.6 959.7Z"/>
<path class="c10" d="M743.3 954.0L746.8 955.3L742.1 956.3Z"/>
<path class="c8" d="M668.9 958.1L699.1 953.3L716.6 961.6L686.4 966.4ZM638.7 962.9L668.9 958.1L686.4 966.4L656.2 971.2ZM1502.0 836.6L1532.2 831.8L1549.7 840.1L1519.5 844.9ZM1471.8 841.4L1502.0 836.6L1519.5 844.9L1489.2 849.7ZM1471.7 841.4L1471.8 841.4L1489.2 849.7L1461.2 854.2Z"/>
<path class="c9" d="M1447.2 848.4L1451.0 844.2L1471.7 841.4L1461.2 854.2L1459.0 854.5Z"/>
<path class="c10" d="M1447.2 848.4L1441.5 845.5L1451.0 844.2Z"/>
<path class="c9" d="M1428.1 858.7L1447.2 848.4L1459.0 854.5L1428.8 859.1Z"/>
<path class="c10" d="M1428.1 858.7L1422.8 855.7L1435.4 846.3L1441.5 845.5L1447.2 848.4Z"/>
<path class="c11" d="M1422.8 855.7L1417.4 852.8L1424.1 847.8L1435.4 846.3Z"/>
<path class="c12" d="M1417.4 852.8L1412.1 849.8L1412.8 849.2L1424.1 847.8Z"/>
<path class="c13" d="M1412.1 849.8L1411.3 849.4L1412.8 849.2Z"/>
<path class="c9" d="M1428.1 858.7L1428.8 859.1L1425.7 859.5Z"/>
<path class="c10" d="M1422.8 855.7L1428.1 858.7L1425.7 859.5L1402.9 862.8Z"/>
<path class="c11" d="M1396.6 862.2L1417.4 852.8L1422.8 855.7L1402.9 862.8L1398.6 863.4Z"/>
<path class="c12" d="M1396.6 862.2L1394.2 860.6L1412.1 849.8L1417.4 852.8Z"/>
<path class="c13" d="M1394.2 860.6L1391.7 859.1L1406.3 849.9L1411.3 849.4L1412.1 849.8Z"/>
<path class="c14" d="M1391.7 859.1L1389.3 857.5L1400.5 850.5L1406.3 849.9Z"/>
<path class="c15" d="M1389.3 857.5L1386.8 856.0L1394.7 851.0L1400.5 850.5Z"/>
<path class="c16" d="M1386.8 856.0L1384.4 854.4L1388.9 851.6L1394.7 851.0Z"/>
<path class="c17" d="M1384.4 854.4L1381.9 852.9L1383.1 852.2L1388.9 851.6Z"/>
<path class="c18" d="M1381.9 852.9L1381.1 852.4L1383.1 852.2Z"/>
<path class="c11" d="M1396.6 862.2L1398.6 863.4L1371.0 868.3Z"/>
<path class="c12" d="M1366.9 867.6L1394.2 860.6L1396.6 862.2L1371.0 868.3L1368.4 868.8Z"/>
<path class="c13" d="M1366.9 867.6L1365.3 866.3L1391.7 859.1L1394.2 860.6Z"/>
<path class="c14" d="M1365.3 866.3L1363.7 865.0L1389.3 857.5L1391.7 859.1Z"/>
<path class="c15" d="M1363.7 865.0L1362.1 863.7L1386.8 856.0L1389.3 857.5Z"/>
<path class="c16" d="M1362.1 863.7L1360.4 862.4L1384.4 854.4L1386.8 856.0Z"/>
<path class="c17" d="M1360.4 862.4L1358.8 861.1L1381.9 852.9L1384.4 854.4Z"/>
<path class="c18" d="M1358.8 861.1L1357.2 859.8L1376.7 852.7L1381.1 852.4L1381.9 852.9Z"/>
<path class="c19" d="M1357.2 859.8L1355.6 858.5L1370.0 853.3L1376.7 852.7Z"/>
<path class="c20" d="M1355.6 858.5L1353.9 857.2L1363.3 853.8L1370.0 853.3Z"/>
<path class="c21" d="M1353.9 857.2L1352.3 856.0L1356.6 854.4L1363.3 853.8Z"/>
<path class="c22" d="M1352.3 856.0L1350.9 854.8L1356.6 854.4Z"/>
<path class="c12" d="M1337.3 872.6L1366.9 867.6L1368.4 868.8L1338.2 873.3Z"/>
<path class="c13" d="M1337.3 872.6L1335.9 871.4L1365.3 866.3L1366.9 867.6Z"/>
<path class="c14" d="M1335.9 871.4L1334.5 870.2L1363.7 865.0L1365.3 866.3Z"/>
<path class="c15" d="M1334.5 870.2L1333.1 869.1L1362.1 863.7L1363.7 865.0Z"/>
<path class="c16" d="M1333.1 869.1L1331.7 867.9L1360.4 862.4L1362.1 863.7Z"/>
<path class="c17" d="M1331.7 867.9L1330.3 866.8L1358.8 861.1L1360.4 862.4Z"/>
<path class="c18" d="M1330.3 866.8L1328.9 865.6L1357.2 859.8L1358.8 861.1Z"/>
<path class="c19" d="M1328.9 865.6L1327.5 864.4L1355.6 858.5L1357.2 859.8Z"/>
<path class="c20" d="M1327.5 864.4L1326.1 863.3L1353.9 857.2L1355.6 858.5Z"/>
<path class="c21" d="M1326.1 863.3L1324.7 862.1L1352.3 856.0L1353.9 857.2Z"/>
<path class="c22" d="M1324.7 862.1L1323.3 861.0L1348.7 855.1L1350.9 854.8L1352.3 856.0Z"/>
<path class="c23" d="M1323.3 861.0L1321.9 859.8L1333.8 857.1L1348.7 855.1Z"/>
<path class="c24" d="M1321.9 859.8L1320.7 858.8L1333.8 857.1Z"/>
<path class="c12" d="M1306.9 877.4L1337.3 872.6L1338.2 873.3L1308.0 878.3Z"/>
<path class="c13" d="M1306.9 877.4L1305.4 876.1L1335.9 871.4L1337.3 872.6Z"/>
<path class="c14" d="M1305.4 876.1L1303.8 874.9L1334.5 870.2L1335.9 871.4Z"/>
<path class="c15" d="M1303.8 874.9L1302.3 873.7L1333.1 869.1L1334.5 870.2Z"/>
<path class="c16" d="M1302.3 873.7L1300.8 872.4L1331.7 867.9L1333.1 869.1Z"/>
<path class="c17" d="M1300.8 872.4L1299.2 871.2L1330.3 866.8L1331.7 867.9Z"/>
<path class="c18" d="M1299.2 871.2L1297.7 870.0L1328.9 865.6L1330.3 866.8Z"/>
<path class="c19" d="M1297.7 870.0L1296.2 868.7L1327.5 864.4L1328.9 865.6Z"/>
<path class="c20" d="M1296.2 868.7L1294.6 867.5L1326.1 863.3L1327.5 864.4Z"/>
<path class="c21" d="M1294.6 867.5L1293.1 866.3L1324.7 862.1L1326.1 863.3Z"/>
<path class="c22" d="M1293.1 866.3L1291.6 865.0L1323.3 861.0L1324.7 862.1Z"/>
<path class="c23" d="M1291.6 865.0L1290.5 864.2L1298.2 862.8L1321.9 859.8L1323.3 861.0Z"/>
<path class="c24" d="M1298.2 862.8L1320.7 858.8L1321.9 859.8Z"/>
<path class="c11" d="M1276.7 881.9L1296.9 879.8L1277.8 882.5Z"/>
<path class="c12" d="M1276.7 881.9L1274.5 880.5L1306.9 877.4L1308.0 878.3L1296.9 879.8Z"/>
<path class="c13" d="M1274.5 880.5L1272.2 879.1L1305.4 876.1L1306.9 877.4Z"/>
<path class="c14" d="M1272.2 879.1L1269.9 877.7L1303.8 874.9L1305.4 876.1Z"/>
<path class="c15" d="M1269.9 877.7L1267.7 876.3L1302.3 873.7L1303.8 874.9Z"/>
<path class="c16" d="M1267.7 876.3L1265.4 874.9L1300.8 872.4L1302.3 873.7Z"/>
<path class="c17" d="M1265.4 874.9L1263.1 873.5L1299.2 871.2L1300.8 872.4Z"/>
<path class="c18" d="M1263.1 873.5L1260.8 872.1L1297.7 870.0L1299.2 871.2Z"/>
<path class="c19" d="M1260.8 872.1L1260.3 871.7L1265.5 870.4L1296.2 868.7L1297.7 870.0Z"/>
<path class="c20" d="M1265.5 870.4L1272.3 868.7L1294.6 867.5L1296.2 868.7Z"/>
<path class="c21" d="M1272.3 868.7L1279.0 867.0L1293.1 866.3L1294.6 867.5Z"/>
<path class="c22" d="M1279.0 867.0L1285.8 865.3L1291.6 865.0L1293.1 866.3Z"/>
<path class="c23" d="M1285.8 865.3L1290.5 864.2L1291.6 865.0Z"/>
<path class="c10" d="M1246.2 887.3L1259.0 885.9L1247.6 888.0Z"/>
<path class="c11" d="M1246.2 887.3L1242.1 884.8L1276.7 881.9L1277.8 882.5L1259.0 885.9Z"/>
<path class="c12" d="M1242.1 884.8L1237.9 882.4L1274.5 880.5L1276.7 881.9Z"/>
<path class="c13" d="M1237.9 882.4L1233.7 880.0L1272.2 879.1L1274.5 880.5Z"/>
<path class="c14" d="M1233.7 880.0L1230.1 877.8L1231.0 877.7L1269.9 877.7L1272.2 879.1Z"/>
<path class="c15" d="M1231.0 877.7L1237.9 876.3L1267.7 876.3L1269.9 877.7Z"/>
<path class="c16" d="M1237.9 876.3L1244.8 874.9L1265.4 874.9L1267.7 876.3Z"/>
<path class="c17" d="M1244.8 874.9L1251.8 873.5L1263.1 873.5L1265.4 874.9Z"/>
<path class="c18" d="M1251.8 873.5L1258.7 872.1L1260.8 872.1L1263.1 873.5Z"/>
<path class="c19" d="M1258.7 872.1L1260.3 871.7L1260.8 872.1Z"/>
<path class="c10" d="M1212.9 890.2L1246.2 887.3L1247.6 888.0L1217.4 892.7Z"/>
<path class="c11" d="M1212.9 890.2L1205.3 886.0L1242.1 884.8L1246.2 887.3Z"/>
<path class="c12" d="M1205.3 886.0L1199.9 882.9L1203.8 882.3L1237.9 882.4L1242.1 884.8Z"/>
<path class="c13" d="M1203.8 882.3L1217.8 879.9L1233.7 880.0L1237.9 882.4Z"/>
<path class="c14" d="M1217.8 879.9L1230.1 877.8L1233.7 880.0Z"/>
<path class="c10" d="M1171.3 888.6L1212.9 890.2L1217.4 892.7L1187.2 896.3Z"/>
<path class="c11" d="M1171.3 888.6L1169.7 887.7L1186.6 885.1L1205.3 886.0L1212.9 890.2Z"/>
<path class="c12" d="M1186.6 885.1L1199.9 882.9L1205.3 886.0Z"/>
<path class="c10" d="M1149.6 899.1L1171.3 888.6L1187.2 896.3L1157.0 902.6Z"/>
<path class="c11" d="M1149.6 899.1L1139.5 894.3L1169.7 887.7L1171.3 888.6Z"/>
<path class="c10" d="M1149.6 899.1L1157.0 902.6L1147.6 903.2Z"/>
<path class="c11" d="M1139.1 894.3L1139.5 894.3L1149.6 899.1L1147.6 903.2L1134.6 904.0Z"/>
<path class="c12" d="M1122.0 901.5L1124.6 893.8L1139.1 894.3L1134.6 904.0L1126.8 904.5Z"/>
<path class="c13" d="M1122.0 901.5L1110.0 893.8L1110.1 893.3L1124.6 893.8Z"/>
<path class="c14" d="M1110.0 893.8L1109.3 893.3L1110.1 893.3Z"/>
<path class="c11" d="M1093.0 909.1L1110.9 907.8L1096.6 910.8Z"/>
<path class="c12" d="M1093.0 909.1L1086.5 906.0L1122.0 901.5L1126.8 904.5L1110.9 907.8Z"/>
<path class="c13" d="M1086.5 906.0L1080.0 902.9L1110.0 893.8L1122.0 901.5Z"/>
<path class="c14" d="M1080.0 902.9L1079.1 902.5L1109.3 893.3L1110.0 893.8Z"/>
<path class="c10" d="M1062.7 915.0L1086.6 912.8L1066.4 917.0Z"/>
<path class="c11" d="M1062.7 915.0L1058.8 912.8L1093.0 909.1L1096.6 910.8L1086.6 912.8Z"/>
<path class="c12" d="M1058.8 912.8L1054.9 910.7L1086.5 906.0L1093.0 909.1Z"/>
<path class="c13" d="M1054.9 910.7L1051.0 908.5L1080.0 902.9L1086.5 906.0Z"/>
<path class="c14" d="M1051.0 908.5L1048.9 907.3L1079.1 902.5L1080.0 902.9Z"/>
<path class="c10" d="M1034.6 920.9L1062.7 915.0L1066.4 917.0L1036.1 921.8Z"/>
<path class="c11" d="M1034.6 920.9L1031.7 919.0L1058.8 912.8L1062.7 915.0Z"/>
<path class="c12" d="M1031.7 919.0L1028.8 917.1L1054.9 910.7L1058.8 912.8Z"/>
<path class="c13" d="M1028.8 917.1L1025.9 915.2L1051.0 908.5L1054.9 910.7Z"/>
<path class="c14" d="M1025.9 915.2L1022.9 913.4L1041.8 908.0L1048.9 907.3L1051.0 908.5Z"/>
<path class="c15" d="M1022.9 913.4L1020.0 911.5L1026.0 909.8L1041.8 908.0Z"/>
<path class="c16" d="M1020.0 911.5L1018.7 910.6L1026.0 909.8Z"/>
<path class="c10" d="M1005.3 926.2L1034.6 920.9L1036.1 921.8L1005.9 926.6Z"/>
<path class="c11" d="M1005.3 926.2L1002.4 924.4L1031.7 919.0L1034.6 920.9Z"/>
<path class="c12" d="M1002.4 924.4L999.5 922.5L1028.8 917.1L1031.7 919.0Z"/>
<path class="c13" d="M999.5 922.5L996.5 920.6L1025.9 915.2L1028.8 917.1Z"/>
<path class="c14" d="M996.5 920.6L993.6 918.7L1022.9 913.4L1025.9 915.2Z"/>
<path class="c15" d="M993.6 918.7L990.7 916.9L1020.0 911.5L1022.9 913.4Z"/>
<path class="c16" d="M990.7 916.9L988.5 915.4L1018.7 910.6L1020.0 911.5Z"/>
<path class="c10" d="M973.3 930.1L1005.3 926.2L1005.9 926.6L975.7 931.4Z"/>
<path class="c11" d="M973.3 930.1L969.8 928.1L1002.4 924.4L1005.3 926.2Z"/>
<path class="c12" d="M969.8 928.1L966.2 926.1L999.5 922.5L1002.4 924.4Z"/>
<path class="c13" d="M966.2 926.1L962.7 924.2L996.5 920.6L999.5 922.5Z"/>
<path class="c14" d="M962.7 924.2L959.1 922.2L993.6 918.7L996.5 920.6Z"/>
<path class="c15" d="M959.1 922.2L958.2 921.7L973.2 918.6L990.7 916.9L993.6 918.7Z"/>
<path class="c16" d="M973.2 918.6L988.5 915.4L990.7 916.9Z"/>
<path class="c10" d="M973.3 930.1L975.7 931.4L957.5 933.5Z"/>
<path class="c11" d="M942.2 932.9L969.8 928.1L973.3 930.1L957.5 933.5L945.5 934.8Z"/>
<path class="c12" d="M942.2 932.9L936.0 929.5L966.2 926.1L969.8 928.1Z"/>
<path class="c13" d="M936.0 929.5L929.9 926.1L962.7 924.2L966.2 926.1Z"/>
<path class="c14" d="M929.9 926.1L928.0 925.0L950.3 922.6L959.1 922.2L962.7 924.2Z"/>
<path class="c15" d="M950.3 922.6L958.2 921.7L959.1 922.2Z"/>
<path class="c11" d="M912.4 938.0L942.2 932.9L945.5 934.8L915.3 939.6Z"/>
<path class="c12" d="M912.4 938.0L904.3 933.4L936.0 929.5L942.2 932.9Z"/>
<path class="c13" d="M904.3 933.4L897.8 929.8L910.2 927.9L929.9 926.1L936.0 929.5Z"/>
<path class="c14" d="M910.2 927.9L928.0 925.0L929.9 926.1Z"/>
<path class="c10" d="M882.1 943.0L897.9 942.4L885.1 944.4Z"/>
<path class="c11" d="M882.1 943.0L875.6 939.9L912.4 938.0L915.3 939.6L897.9 942.4Z"/>
<path class="c12" d="M875.6 939.9L869.2 936.8L904.3 933.4L912.4 938.0Z"/>
<path class="c13" d="M869.2 936.8L867.6 936.1L897.8 929.8L904.3 933.4Z"/>
<path class="c10" d="M851.8 948.6L882.1 943.0L885.1 944.4L854.9 950.7Z"/>
<path class="c11" d="M851.8 948.6L845.2 944.4L875.6 939.9L882.1 943.0Z"/>
<path class="c12" d="M845.2 944.4L838.6 940.2L869.2 936.8L875.6 939.9Z"/>
<path class="c13" d="M838.6 940.2L837.4 939.5L867.6 936.1L869.2 936.8Z"/>
<path class="c10" d="M822.3 953.9L851.8 948.6L854.9 950.7L824.7 955.5Z"/>
<path class="c11" d="M822.3 953.9L815.7 949.7L845.2 944.4L851.8 948.6Z"/>
<path class="c12" d="M815.7 949.7L809.1 945.5L838.6 940.2L845.2 944.4Z"/>
<path class="c13" d="M809.1 945.5L807.2 944.3L837.4 939.5L838.6 940.2Z"/>
<path class="c9" d="M794.4 960.2L795.5 960.1L794.5 960.3Z"/>
<path class="c10" d="M794.4 960.2L788.0 956.7L822.3 953.9L824.7 955.5L795.5 960.1Z"/>
<path class="c11" d="M788.0 956.7L781.7 953.1L815.7 949.7L822.3 953.9Z"/>
<path class="c12" d="M781.7 953.1L777.0 950.5L791.4 947.6L809.1 945.5L815.7 949.7Z"/>
<path class="c13" d="M791.4 947.6L807.2 944.3L809.1 945.5Z"/>
<path class="c9" d="M753.5 959.1L794.4 960.2L794.5 960.3L764.3 965.1Z"/>
<path class="c10" d="M753.5 959.1L746.8 955.3L755.6 953.9L788.0 956.7L794.4 960.2Z"/>
<path class="c11" d="M755.6 953.9L767.9 952.0L781.7 953.1L788.0 956.7Z"/>
<path class="c12" d="M767.9 952.0L777.0 950.5L781.7 953.1Z"/>
<path class="c8" d="M716.6 961.6L725.6 959.7L746.0 968.0L734.1 969.9Z"/>
<path class="c9" d="M725.6 959.7L742.1 956.3L753.5 959.1L764.3 965.1L746.0 968.0Z"/>
<path class="c10" d="M742.1 956.3L746.8 955.3L753.5 959.1Z"/>
<path class="c8" d="M686.4 966.4L716.6 961.6L734.1 969.9L703.9 974.7ZM656.2 971.2L686.4 966.4L703.9 974.7L673.7 979.5ZM1519.5 844.9L1549.7 840.1L1567.2 848.4L1537.0 853.2ZM1489.2 849.7L1519.5 844.9L1537.0 853.2L1506.7 858.0ZM1460.1 855.0L1461.2 854.2L1489.2 849.7L1506.7 858.0L1476.5 862.9Z"/>
<path class="c9" d="M1460.1 855.0L1459.0 854.5L1461.2 854.2Z"/>
<path class="c8" d="M1442.1 865.6L1460.1 855.0L1476.5 862.9L1446.3 867.7Z"/>
<path class="c9" d="M1442.1 865.6L1428.8 859.1L1459.0 854.5L1460.1 855.0Z"/>
<path class="c8" d="M1415.4 872.1L1442.1 865.6L1446.3 867.7L1416.1 872.5Z"/>
<path class="c9" d="M1415.4 872.1L1407.8 868.1L1425.7 859.5L1428.8 859.1L1442.1 865.6Z"/>
<path class="c10" d="M1407.8 868.1L1400.1 864.2L1402.9 862.8L1425.7 859.5Z"/>
<path class="c11" d="M1400.1 864.2L1398.6 863.4L1402.9 862.8Z"/>
<path class="c8" d="M1384.8 876.7L1415.4 872.1L1416.1 872.5L1385.9 877.3Z"/>
<path class="c9" d="M1384.8 876.7L1379.5 874.2L1407.8 868.1L1415.4 872.1Z"/>
<path class="c10" d="M1379.5 874.2L1374.2 871.6L1400.1 864.2L1407.8 868.1Z"/>
<path class="c11" d="M1374.2 871.6L1368.8 869.0L1371.0 868.3L1398.6 863.4L1400.1 864.2Z"/>
<path class="c12" d="M1368.8 869.0L1368.4 868.8L1371.0 868.3Z"/>
<path class="c8" d="M1354.6 881.5L1384.8 876.7L1385.9 877.3L1355.7 882.1Z"/>
<path class="c9" d="M1354.6 881.5L1349.7 879.1L1379.5 874.2L1384.8 876.7Z"/>
<path class="c10" d="M1349.7 879.1L1344.8 876.6L1374.2 871.6L1379.5 874.2Z"/>
<path class="c11" d="M1344.8 876.6L1339.8 874.1L1368.8 869.0L1374.2 871.6Z"/>
<path class="c12" d="M1339.8 874.1L1338.2 873.3L1368.4 868.8L1368.8 869.0Z"/>
<path class="c8" d="M1325.0 886.6L1354.6 881.5L1355.7 882.1L1325.5 886.9Z"/>
<path class="c9" d="M1325.0 886.6L1319.8 884.1L1349.7 879.1L1354.6 881.5Z"/>
<path class="c10" d="M1319.8 884.1L1314.6 881.5L1344.8 876.6L1349.7 879.1Z"/>
<path class="c11" d="M1314.6 881.5L1309.4 879.0L1339.8 874.1L1344.8 876.6Z"/>
<path class="c12" d="M1309.4 879.0L1308.0 878.3L1338.2 873.3L1339.8 874.1Z"/>
<path class="c8" d="M1295.0 891.6L1325.0 886.6L1325.5 886.9L1295.3 891.7Z"/>
<path class="c9" d="M1295.0 891.6L1288.2 888.0L1319.8 884.1L1325.0 886.6Z"/>
<path class="c10" d="M1288.2 888.0L1281.4 884.4L1314.6 881.5L1319.8 884.1Z"/>
<path class="c11" d="M1281.4 884.4L1277.8 882.5L1296.9 879.8L1309.4 879.0L1314.6 881.5Z"/>
<path class="c12" d="M1296.9 879.8L1308.0 878.3L1309.4 879.0Z"/>
<path class="c8" d="M1263.1 895.5L1295.0 891.6L1295.3 891.7L1265.1 896.5Z"/>
<path class="c9" d="M1263.1 895.5L1253.8 891.1L1288.2 888.0L1295.0 891.6Z"/>
<path class="c10" d="M1253.8 891.1L1247.6 888.0L1259.0 885.9L1281.4 884.4L1288.2 888.0Z"/>
<path class="c11" d="M1259.0 885.9L1277.8 882.5L1281.4 884.4Z"/>
<path class="c8" d="M1233.0 900.4L1263.1 895.5L1265.1 896.5L1234.9 901.3Z"/>
<path class="c9" d="M1233.0 900.4L1221.8 894.9L1253.8 891.1L1263.1 895.5Z"/>
<path class="c10" d="M1221.8 894.9L1217.4 892.7L1247.6 888.0L1253.8 891.1Z"/>
<path class="c8" d="M1233.0 900.4L1234.9 901.3L1214.4 904.6Z"/>
<path class="c9" d="M1189.6 897.7L1221.8 894.9L1233.0 900.4L1214.4 904.6L1204.7 906.1Z"/>
<path class="c10" d="M1189.6 897.7L1187.2 896.3L1217.4 892.7L1221.8 894.9Z"/>
<path class="c9" d="M1161.3 904.6L1189.6 897.7L1204.7 906.1L1174.5 910.8Z"/>
<path class="c10" d="M1161.3 904.6L1157.0 902.6L1187.2 896.3L1189.6 897.7Z"/>
<path class="c9" d="M1142.0 914.3L1161.3 904.6L1174.5 910.8L1144.3 915.7Z"/>
<path class="c10" d="M1142.0 914.3L1136.2 910.5L1147.6 903.2L1157.0 902.6L1161.3 904.6Z"/>
<path class="c11" d="M1136.2 910.5L1130.3 906.8L1134.6 904.0L1147.6 903.2Z"/>
<path class="c12" d="M1130.3 906.8L1126.8 904.5L1134.6 904.0Z"/>
<path class="c9" d="M1109.6 918.0L1142.0 914.3L1144.3 915.7L1114.1 920.5Z"/>
<path class="c10" d="M1109.6 918.0L1100.6 913.0L1136.2 910.5L1142.0 914.3Z"/>
<path class="c11" d="M1100.6 913.0L1096.6 910.8L1110.9 907.8L1130.3 906.8L1136.2 910.5Z"/>
<path class="c12" d="M1110.9 907.8L1126.8 904.5L1130.3 906.8Z"/>
<path class="c8" d="M1079.6 923.3L1096.3 923.4L1083.8 925.3Z"/>
<path class="c9" d="M1079.6 923.3L1067.2 917.4L1109.6 918.0L1114.1 920.5L1096.3 923.4Z"/>
<path class="c10" d="M1067.2 917.4L1066.4 917.0L1086.6 912.8L1100.6 913.0L1109.6 918.0Z"/>
<path class="c11" d="M1086.6 912.8L1096.6 910.8L1100.6 913.0Z"/>
<path class="c8" d="M1048.1 927.5L1079.6 923.3L1083.8 925.3L1053.6 930.1Z"/>
<path class="c9" d="M1048.1 927.5L1040.0 923.7L1067.2 917.4L1079.6 923.3Z"/>
<path class="c10" d="M1040.0 923.7L1036.1 921.8L1066.4 917.0L1067.2 917.4Z"/>
<path class="c8" d="M1019.0 931.7L1048.1 927.5L1053.6 930.1L1023.4 933.5Z"/>
<path class="c9" d="M1019.0 931.7L1011.7 928.9L1040.0 923.7L1048.1 927.5Z"/>
<path class="c10" d="M1011.7 928.9L1005.9 926.6L1036.1 921.8L1040.0 923.7Z"/>
<path class="c8" d="M990.6 938.5L1019.0 931.7L1023.4 933.5L993.2 939.8Z"/>
<path class="c9" d="M990.6 938.5L979.3 933.1L1011.7 928.9L1019.0 931.7Z"/>
<path class="c10" d="M979.3 933.1L975.7 931.4L1005.9 926.6L1011.7 928.9Z"/>
<path class="c8" d="M990.6 938.5L993.2 939.8L983.4 941.3Z"/>
<path class="c9" d="M958.4 942.0L979.3 933.1L990.6 938.5L983.4 941.3L963.0 944.6Z"/>
<path class="c10" d="M958.4 942.0L949.5 937.0L957.5 933.5L975.7 931.4L979.3 933.1Z"/>
<path class="c11" d="M949.5 937.0L945.5 934.8L957.5 933.5Z"/>
<path class="c9" d="M932.4 949.1L958.4 942.0L963.0 944.6L932.8 949.4Z"/>
<path class="c10" d="M932.4 949.1L922.0 943.3L949.5 937.0L958.4 942.0Z"/>
<path class="c11" d="M922.0 943.3L915.3 939.6L945.5 934.8L949.5 937.0Z"/>
<path class="c9" d="M893.9 949.3L932.4 949.1L932.8 949.4L902.6 954.2Z"/>
<path class="c10" d="M893.9 949.3L885.1 944.4L897.9 942.4L922.0 943.3L932.4 949.1Z"/>
<path class="c11" d="M897.9 942.4L915.3 939.6L922.0 943.3Z"/>
<path class="c8" d="M870.1 956.6L882.2 956.4L872.4 957.5Z"/>
<path class="c9" d="M870.1 956.6L860.1 952.7L893.9 949.3L902.6 954.2L882.2 956.4Z"/>
<path class="c10" d="M860.1 952.7L854.9 950.7L885.1 944.4L893.9 949.3Z"/>
<path class="c8" d="M837.8 961.7L870.1 956.6L872.4 957.5L842.2 963.8Z"/>
<path class="c9" d="M837.8 961.7L829.8 957.9L860.1 952.7L870.1 956.6Z"/>
<path class="c10" d="M829.8 957.9L824.7 955.5L854.9 950.7L860.1 952.7Z"/>
<path class="c8" d="M805.2 965.4L837.8 961.7L842.2 963.8L812.0 968.6Z"/>
<path class="c9" d="M805.2 965.4L794.5 960.3L795.5 960.1L829.8 957.9L837.8 961.7Z"/>
<path class="c10" d="M795.5 960.1L824.7 955.5L829.8 957.9Z"/>
<path class="c8" d="M772.4 969.0L805.2 965.4L812.0 968.6L781.8 973.4Z"/>
<path class="c9" d="M772.4 969.0L764.3 965.1L794.5 960.3L805.2 965.4Z"/>
<path class="c8" d="M734.1 969.9L746.0 968.0L772.4 969.0L781.8 973.4L751.6 978.2Z"/>
<path class="c9" d="M746.0 968.0L764.3 965.1L772.4 969.0Z"/>
<path class="c8" d="M703.9 974.7L734.1 969.9L751.6 978.2L721.4 983.0Z"/>
<path class="c7" d="M684.2 984.5L711.8 984.5L691.2 987.8Z"/>
<path class="c8" d="M684.2 984.5L673.7 979.5L703.9 974.7L721.4 983.0L711.8 984.5ZM1537.0 853.2L1567.2 848.4L1584.6 856.7L1554.4 861.6ZM1506.7 858.0L1537.0 853.2L1554.4 861.6L1524.2 866.4ZM1476.5 862.9L1506.7 858.0L1524.2 866.4L1494.0 871.2ZM1446.3 867.7L1476.5 862.9L1494.0 871.2L1463.8 876.0ZM1416.1 872.5L1446.3 867.7L1463.8 876.0L1433.6 880.8ZM1385.9 877.3L1416.1 872.5L1433.6 880.8L1403.4 885.6ZM1355.7 882.1L1385.9 877.3L1403.4 885.6L1373.2 890.4ZM1325.5 886.9L1355.7 882.1L1373.2 890.4L1343.0 895.2ZM1295.3 891.7L1325.5 886.9L1343.0 895.2L1312.8 900.0ZM1265.1 896.5L1295.3 891.7L1312.8 900.0L1282.6 904.8ZM1234.9 901.3L1265.1 896.5L1282.6 904.8L1252.4 909.6ZM1207.0 907.2L1214.4 904.6L1234.9 901.3L1252.4 909.6L1222.2 914.4Z"/>
<path class="c9" d="M1207.0 907.2L1204.7 906.1L1214.4 904.6Z"/>
<path class="c8" d="M1178.5 912.7L1207.0 907.2L1222.2 914.4L1192.0 919.2Z"/>
<path class="c9" d="M1178.5 912.7L1174.5 910.8L1204.7 906.1L1207.0 907.2Z"/>
<path class="c8" d="M1153.8 920.3L1178.5 912.7L1192.0 919.2L1161.8 924.0Z"/>
<path class="c9" d="M1153.8 920.3L1144.3 915.7L1174.5 910.8L1178.5 912.7Z"/>
<path class="c8" d="M1121.9 924.3L1153.8 920.3L1161.8 924.0L1131.5 928.8Z"/>
<path class="c9" d="M1121.9 924.3L1114.1 920.5L1144.3 915.7L1153.8 920.3Z"/>
<path class="c8" d="M1083.8 925.3L1096.3 923.4L1121.9 924.3L1131.5 928.8L1101.3 933.7Z"/>
<path class="c9" d="M1096.3 923.4L1114.1 920.5L1121.9 924.3Z"/>
<path class="c8" d="M1053.6 930.1L1083.8 925.3L1101.3 933.7L1071.1 938.5ZM1029.5 936.9L1023.4 933.5L1053.6 930.1L1071.1 938.5L1068.2 938.9Z"/>
<path class="c9" d="M1039.4 942.4L1029.5 936.9L1068.2 938.9L1044.6 942.7Z"/>
<path class="c10" d="M1039.4 942.4L1044.6 942.7L1040.9 943.3Z"/>
<path class="c8" d="M1009.9 947.7L993.2 939.8L1023.4 933.5L1029.5 936.9Z"/>
<path class="c9" d="M1009.9 947.7L1029.5 936.9L1039.4 942.4L1036.9 943.9L1010.7 948.1Z"/>
<path class="c10" d="M1039.4 942.4L1040.9 943.3L1036.9 943.9Z"/>
<path class="c8" d="M970.7 948.2L983.4 941.3L993.2 939.8L1009.9 947.7L1010.2 948.2L980.5 952.9Z"/>
<path class="c9" d="M970.7 948.2L963.0 944.6L983.4 941.3L1009.9 947.7L1010.7 948.1L1010.2 948.2Z"/>
<path class="c8" d="M943.5 954.4L970.7 948.2L980.5 952.9L950.3 957.7Z"/>
<path class="c9" d="M943.5 954.4L932.8 949.4L963.0 944.6L970.7 948.2Z"/>
<path class="c8" d="M916.4 960.8L943.5 954.4L950.3 957.7L920.1 962.5Z"/>
<path class="c9" d="M916.4 960.8L902.6 954.2L932.8 949.4L943.5 954.4Z"/>
<path class="c8" d="M875.3 959.2L872.4 957.5L882.2 956.4L916.4 960.8L920.1 962.5L917.1 963.0Z"/>
<path class="c9" d="M887.9 966.2L875.3 959.2L882.2 956.4L902.6 954.2L916.4 960.8L917.1 963.0L893.5 966.7Z"/>
<path class="c10" d="M887.9 966.2L893.5 966.7L889.9 967.3Z"/>
<path class="c8" d="M859.3 971.9L842.2 963.8L872.4 957.5L875.3 959.2Z"/>
<path class="c9" d="M859.3 971.9L875.3 959.2L887.9 966.2L885.8 967.9L859.7 972.1Z"/>
<path class="c10" d="M887.9 966.2L889.9 967.3L885.8 967.9Z"/>
<path class="c8" d="M812.0 968.6L842.2 963.8L859.3 971.9L859.1 972.2L829.5 976.9Z"/>
<path class="c9" d="M859.3 971.9L859.7 972.1L859.1 972.2Z"/>
<path class="c8" d="M781.8 973.4L812.0 968.6L829.5 976.9L799.3 981.7ZM751.6 978.2L781.8 973.4L799.3 981.7L769.1 986.5Z"/>
<path class="c7" d="M726.9 985.6L750.8 989.4L738.9 991.3Z"/>
<path class="c8" d="M726.9 985.6L721.4 983.0L751.6 978.2L769.1 986.5L750.8 989.4Z"/>
<path class="c6" d="M700.4 991.4L723.0 993.1L708.7 994.7Z"/>
<path class="c7" d="M700.4 991.4L691.2 987.8L711.8 984.5L726.9 985.6L738.9 991.3L723.0 993.1Z"/>
<path class="c8" d="M711.8 984.5L721.4 983.0L726.9 985.6Z"/>
</g>
<path d="M702.3 1002.7L702.3 504.9M702.3 504.9L177.5 255.5M702.3 504.9L1608.5 360.7" stroke="#000" stroke-width="1" fill="none" shape-rendering="crispEdges"/>
<path d="M177.5 753.3L702.3 1002.7M702.3 1002.7L1608.5 858.5" stroke="#000" stroke-width="1" fill="none" shape-rendering="crispEdges"/>
<path d="M177.5 753.3H153.0M177.5 738.8H165.0M177.5 724.3H165.0M177.5 709.8H165.0M177.5 695.3H165.0M177.5 680.8H153.0M177.5 666.3H165.0M177.5 651.8H165.0M177.5 637.3H165.0M177.5 622.8H165.0M177.5 608.3H153.0M177.5 593.7H165.0M177.5 579.2H165.0M177.5 564.7H165.0M177.5 550.2H165.0M177.5 535.7H153.0M177.5 521.2H165.0M177.5 506.7H165.0M177.5 492.2H165.0M177.5 477.7H165.0M177.5 463.2H153.0M177.5 448.7H165.0M177.5 434.2H165.0M177.5 419.7H165.0M177.5 405.2H165.0M177.5 390.7H153.0M177.5 376.2H165.0M177.5 361.7H165.0M177.5 347.2H165.0M177.5 332.7H165.0M177.5 318.2H153.0M177.5 303.7H165.0M177.5 289.2H165.0M177.5 274.6H165.0M177.5 260.1H165.0M702.3 1002.7l-12.0 9.3M689.2 996.5l-6.4 5.4M676.1 990.2l-6.4 5.4M662.9 984.0l-6.4 5.4M649.8 977.8l-6.4 5.4M636.7 971.5l-12.0 9.3M623.6 965.3l-6.4 5.4M610.5 959.1l-6.4 5.4M597.3 952.8l-6.4 5.4M584.2 946.6l-6.4 5.4M571.1 940.4l-12.0 9.3M558.0 934.1l-6.4 5.4M544.9 927.9l-6.4 5.4M531.7 921.6l-6.4 5.4M518.6 915.4l-6.4 5.4M505.5 909.2l-12.0 9.3M492.4 902.9l-6.4 5.4M479.3 896.7l-6.4 5.4M466.1 890.5l-6.4 5.4M453.0 884.2l-6.4 5.4M439.9 878.0l-12.0 9.3M426.8 871.8l-6.4 5.4M413.7 865.5l-6.4 5.4M400.5 859.3l-6.4 5.4M387.4 853.1l-6.4 5.4M374.3 846.8l-12.0 9.3M361.2 840.6l-6.4 5.4M348.1 834.4l-6.4 5.4M334.9 828.1l-6.4 5.4M321.8 821.9l-6.4 5.4M308.7 815.7l-12.0 9.3M295.6 809.4l-6.4 5.4M282.5 803.2l-6.4 5.4M269.3 796.9l-6.4 5.4M256.2 790.7l-6.4 5.4M243.1 784.5l-12.0 9.3M230.0 778.2l-6.4 5.4M216.9 772.0l-6.4 5.4M203.7 765.8l-6.4 5.4M190.6 759.5l-6.4 5.4M177.5 753.3l-12.0 9.3M702.3 1002.7l6.0 17.0M725.0 999.1l3.0 8.3M747.6 995.5l3.0 8.3M770.3 991.9l3.0 8.3M792.9 988.3l3.0 8.3M815.6 984.7l6.0 17.0M838.2 981.1l3.0 8.3M860.9 977.5l3.0 8.3M883.5 973.9l3.0 8.3M906.2 970.3l3.0 8.3M928.8 966.7l6.0 17.0M951.5 963.0l3.0 8.3M974.2 959.4l3.0 8.3M996.8 955.8l3.0 8.3M1019.5 952.2l3.0 8.3M1042.1 948.6l6.0 17.0M1064.8 945.0l3.0 8.3M1087.4 941.4l3.0 8.3M1110.1 937.8l3.0 8.3M1132.7 934.2l3.0 8.3M1155.4 930.6l6.0 17.0M1178.1 927.0l3.0 8.3M1200.7 923.4l3.0 8.3M1223.4 919.8l3.0 8.3M1246.0 916.2l3.0 8.3M1268.7 912.6l6.0 17.0M1291.3 909.0l3.0 8.3M1314.0 905.4l3.0 8.3M1336.6 901.8l3.0 8.3M1359.3 898.2l3.0 8.3M1382.0 894.6l6.0 17.0M1404.6 890.9l3.0 8.3M1427.3 887.3l3.0 8.3M1449.9 883.7l3.0 8.3M1472.6 880.1l3.0 8.3M1495.2 876.5l6.0 17.0M1517.9 872.9l3.0 8.3M1540.5 869.3l3.0 8.3M1563.2 865.7l3.0 8.3M1585.8 862.1l3.0 8.3M1608.5 858.5l6.0 17.0" stroke="#000" stroke-width="1" fill="none" shape-rendering="crispEdges"/>
<rect x="1392.5" y="72.5" width="360" height="267" fill="#fff" stroke="#000" stroke-width="1" shape-rendering="crispEdges"/>
<path d="M1392.5 117.5H1752.5" stroke="#000" stroke-width="1" shape-rendering="crispEdges"/>
<text x="583.9" y="57.8" font-size="58.5" textLength="593.0" lengthAdjust="spacing">Option SURF4 example</text>
<text x="1517.4" y="108.1" font-size="39.0" textLength="105.3" lengthAdjust="spacing">hsurf4</text>
<text x="1410.1" y="153.5" font-size="37.5" textLength="112.1" lengthAdjust="spacing">Entries</text>
<text x="1631.9" y="153.6" font-size="37.5" textLength="101.7" lengthAdjust="spacing">50000</text>
<text x="1409.3" y="197.9" font-size="37.5" textLength="118.5" lengthAdjust="spacing">Mean x</text>
<text x="1600.0" y="198.5" font-size="37.5" textLength="133.4" lengthAdjust="spacing">−0.7255</text>
<text x="1409.8" y="239.5" font-size="37.5" textLength="117.5" lengthAdjust="spacing">Mean y</text>
<text x="1600.1" y="243.3" font-size="37.5" textLength="133.0" lengthAdjust="spacing">−0.9554</text>
<text x="1409.2" y="288.4" font-size="37.5" textLength="156.2" lengthAdjust="spacing">Std Dev x</text>
<text x="1643.7" y="288.4" font-size="37.5" textLength="89.7" lengthAdjust="spacing">1.288</text>
<text x="1409.7" y="329.8" font-size="37.5" textLength="155.2" lengthAdjust="spacing">Std Dev y</text>
<text x="1641.8" y="333.4" font-size="37.5" textLength="91.5" lengthAdjust="spacing">5.596</text>
<text x="89.7" y="333.6" font-size="36.0" textLength="60.0" lengthAdjust="spacing">300</text>
<text x="89.2" y="405.4" font-size="36.0" textLength="60.8" lengthAdjust="spacing">250</text>
<text x="89.2" y="477.4" font-size="36.0" textLength="60.7" lengthAdjust="spacing">200</text>
<text x="90.4" y="552.2" font-size="36.0" textLength="59.8" lengthAdjust="spacing">150</text>
<text x="89.8" y="624.8" font-size="36.0" textLength="60.2" lengthAdjust="spacing">100</text>
<text x="110.2" y="696.7" font-size="36.0" textLength="40.8" lengthAdjust="spacing">50</text>
<text x="129.4" y="769.1" font-size="36.0">0</text>
<text x="97.9" y="799.0" font-size="36.0" textLength="40.5" lengthAdjust="spacing">20</text>
<text x="165.6" y="830.9" font-size="36.0" textLength="39.8" lengthAdjust="spacing">15</text>
<text x="230.6" y="861.5" font-size="36.0" textLength="39.9" lengthAdjust="spacing">10</text>
<text x="314.2" y="894.5" font-size="36.0">5</text>
<text x="380.5" y="925.1" font-size="36.0">0</text>
<text x="423.9" y="955.0" font-size="36.0" textLength="43.2" lengthAdjust="spacing">−5</text>
<text x="469.5" y="987.8" font-size="36.0" textLength="62.6" lengthAdjust="spacing">−10</text>
<text x="535.5" y="1018.1" font-size="36.0" textLength="62.6" lengthAdjust="spacing">−15</text>
<text x="601.1" y="1050.8" font-size="36.0" textLength="63.0" lengthAdjust="spacing">−20</text>
<text x="694.7" y="1056.8" font-size="36.0" textLength="38.6" lengthAdjust="spacing">−4</text>
<text x="808.3" y="1038.2" font-size="36.0" textLength="39.0" lengthAdjust="spacing">−3</text>
<text x="919.4" y="1020.4" font-size="36.0" textLength="39.6" lengthAdjust="spacing">−2</text>
<text x="1036.2" y="1001.9" font-size="36.0" textLength="36.0" lengthAdjust="spacing">−1</text>
<text x="1157.9" y="984.6" font-size="36.0">0</text>
<text x="1272.9" y="966.1" font-size="36.0">1</text>
<text x="1382.9" y="948.2" font-size="36.0">2</text>
<text x="1496.5" y="930.6" font-size="36.0">3</text>
<text x="1610.8" y="912.2" font-size="36.0">4</text>
</svg>
</body></html>
